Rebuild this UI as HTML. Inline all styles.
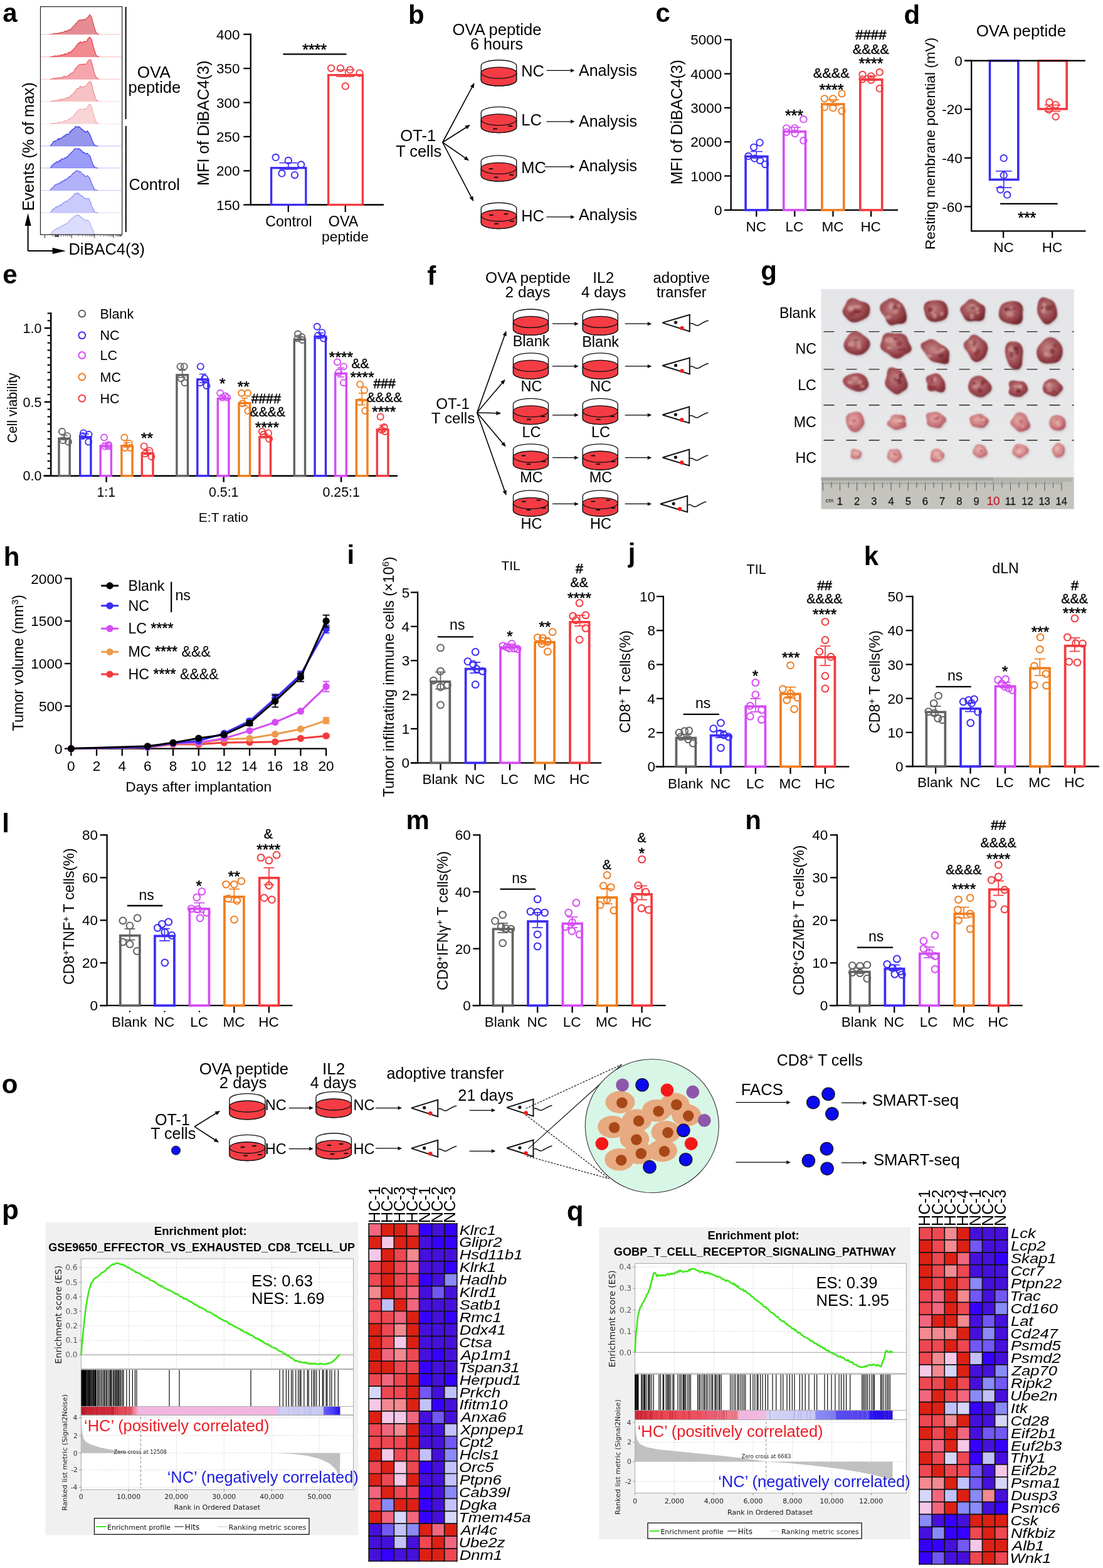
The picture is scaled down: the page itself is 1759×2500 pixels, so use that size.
<!DOCTYPE html>
<html><head><meta charset="utf-8"><title>Figure</title>
<style>
html,body{margin:0;padding:0;background:#fff;}
svg{display:block;}
</style></head>
<body>
<svg width="1759" height="2500" viewBox="0 0 1759 2500" font-family="'Liberation Sans', Arial, Helvetica, sans-serif">
<rect x="0" y="0" width="1759" height="2500" fill="#fff"/>
<text x="4.24" y="35.18" font-size="42" font-weight="bold">a</text>
<path d="M80 54.8 L80 54.8 L81.04 54.8 L82.08 54.68 L83.12 54.46 L84.16 54.24 L85.2 54.02 L86.24 53.07 L87.28 53.15 L88.32 53.79 L89.36 54.03 L90.4 53.37 L91.44 53.49 L92.48 52.5 L93.52 53.36 L94.56 52.77 L95.6 52.33 L96.64 51.41 L97.68 52.1 L98.72 52.38 L99.76 51.13 L100.8 51.18 L101.84 51.72 L102.88 49.99 L103.92 49.56 L104.96 49.66 L106 49.19 L107.04 49.95 L108.08 48.48 L109.12 47.56 L110.16 47.49 L111.2 47.41 L112.24 47.61 L113.28 46.02 L114.32 44.78 L115.36 43.26 L116.4 42.29 L117.44 42.29 L118.48 40.04 L119.52 39.98 L120.56 37.39 L121.6 36.75 L122.64 36.87 L123.68 34.25 L124.72 33.89 L125.76 32.18 L126.8 31.88 L127.84 32.69 L128.88 31.69 L129.92 31.08 L130.96 32.68 L132 32.09 L133.04 30.45 L134.08 31.55 L135.12 30.83 L136.16 31.66 L137.2 29.87 L138.24 28.81 L139.28 28.18 L140.32 27.6 L141.36 25.76 L142.4 24.04 L143.44 23.3 L144.48 24.86 L145.52 25.93 L146.56 29.19 L147.6 33.43 L148.64 36.94 L149.68 41.32 L150.72 43.99 L151.76 47.67 L152.8 50.32 L153.84 52.33 L154.88 53.47 L155.92 54.14 L156.96 54.47 L158 54.8 L158 54.8" fill="#e48c92" />
<path d="M80 54.8 L81.04 54.8 L82.08 54.68 L83.12 54.46 L84.16 54.24 L85.2 54.02 L86.24 53.07 L87.28 53.15 L88.32 53.79 L89.36 54.03 L90.4 53.37 L91.44 53.49 L92.48 52.5 L93.52 53.36 L94.56 52.77 L95.6 52.33 L96.64 51.41 L97.68 52.1 L98.72 52.38 L99.76 51.13 L100.8 51.18 L101.84 51.72 L102.88 49.99 L103.92 49.56 L104.96 49.66 L106 49.19 L107.04 49.95 L108.08 48.48 L109.12 47.56 L110.16 47.49 L111.2 47.41 L112.24 47.61 L113.28 46.02 L114.32 44.78 L115.36 43.26 L116.4 42.29 L117.44 42.29 L118.48 40.04 L119.52 39.98 L120.56 37.39 L121.6 36.75 L122.64 36.87 L123.68 34.25 L124.72 33.89 L125.76 32.18 L126.8 31.88 L127.84 32.69 L128.88 31.69 L129.92 31.08 L130.96 32.68 L132 32.09 L133.04 30.45 L134.08 31.55 L135.12 30.83 L136.16 31.66 L137.2 29.87 L138.24 28.81 L139.28 28.18 L140.32 27.6 L141.36 25.76 L142.4 24.04 L143.44 23.3 L144.48 24.86 L145.52 25.93 L146.56 29.19 L147.6 33.43 L148.64 36.94 L149.68 41.32 L150.72 43.99 L151.76 47.67 L152.8 50.32 L153.84 52.33 L154.88 53.47 L155.92 54.14 L156.96 54.47 L158 54.8" fill="none" stroke="#d2444c" stroke-width="1.1" />
<line x1="65.5" y1="54.8" x2="193.7" y2="54.8" stroke="#d2444c" stroke-width="1" opacity="0.35"/>
<path d="M80 90.7 L80 90.7 L81.04 90.7 L82.08 90.58 L83.12 90.36 L84.16 90.14 L85.2 89.92 L86.24 90.54 L87.28 88.85 L88.32 88.93 L89.36 89.94 L90.4 89.3 L91.44 89.3 L92.48 88.7 L93.52 88.19 L94.56 89.52 L95.6 89.46 L96.64 87.47 L97.68 88.15 L98.72 87.22 L99.76 88.7 L100.8 87.46 L101.84 86.58 L102.88 87.39 L103.92 85.54 L104.96 85.36 L106 87.01 L107.04 86.48 L108.08 84.79 L109.12 83.37 L110.16 84.05 L111.2 83.87 L112.24 82.8 L113.28 82.82 L114.32 81.54 L115.36 80.21 L116.4 79.23 L117.44 78.73 L118.48 77.34 L119.52 75.98 L120.56 74.05 L121.6 73.22 L122.64 72.75 L123.68 69.89 L124.72 69.44 L125.76 68.49 L126.8 68.84 L127.84 66.4 L128.88 66.78 L129.92 68.63 L130.96 68.38 L132 67.11 L133.04 66.7 L134.08 65.81 L135.12 67.05 L136.16 66.26 L137.2 66.43 L138.24 65.82 L139.28 63.77 L140.32 61.73 L141.36 60.5 L142.4 59.94 L143.44 59.21 L144.48 60.93 L145.52 62.51 L146.56 64.89 L147.6 69.63 L148.64 74.25 L149.68 77.2 L150.72 80.46 L151.76 83.41 L152.8 86.69 L153.84 88.25 L154.88 89.57 L155.92 90.04 L156.96 90.37 L158 90.7 L158 90.7" fill="#f28a92" />
<path d="M80 90.7 L81.04 90.7 L82.08 90.58 L83.12 90.36 L84.16 90.14 L85.2 89.92 L86.24 90.54 L87.28 88.85 L88.32 88.93 L89.36 89.94 L90.4 89.3 L91.44 89.3 L92.48 88.7 L93.52 88.19 L94.56 89.52 L95.6 89.46 L96.64 87.47 L97.68 88.15 L98.72 87.22 L99.76 88.7 L100.8 87.46 L101.84 86.58 L102.88 87.39 L103.92 85.54 L104.96 85.36 L106 87.01 L107.04 86.48 L108.08 84.79 L109.12 83.37 L110.16 84.05 L111.2 83.87 L112.24 82.8 L113.28 82.82 L114.32 81.54 L115.36 80.21 L116.4 79.23 L117.44 78.73 L118.48 77.34 L119.52 75.98 L120.56 74.05 L121.6 73.22 L122.64 72.75 L123.68 69.89 L124.72 69.44 L125.76 68.49 L126.8 68.84 L127.84 66.4 L128.88 66.78 L129.92 68.63 L130.96 68.38 L132 67.11 L133.04 66.7 L134.08 65.81 L135.12 67.05 L136.16 66.26 L137.2 66.43 L138.24 65.82 L139.28 63.77 L140.32 61.73 L141.36 60.5 L142.4 59.94 L143.44 59.21 L144.48 60.93 L145.52 62.51 L146.56 64.89 L147.6 69.63 L148.64 74.25 L149.68 77.2 L150.72 80.46 L151.76 83.41 L152.8 86.69 L153.84 88.25 L154.88 89.57 L155.92 90.04 L156.96 90.37 L158 90.7" fill="none" stroke="#e8303a" stroke-width="1.1" />
<line x1="65.5" y1="90.7" x2="193.7" y2="90.7" stroke="#e8303a" stroke-width="1" opacity="0.35"/>
<path d="M80 126.3 L80 126.3 L81.04 126.3 L82.08 126.18 L83.12 125.96 L84.16 125.74 L85.2 125.52 L86.24 124.32 L87.28 124.23 L88.32 126.09 L89.36 125.92 L90.4 124.15 L91.44 124.26 L92.48 124.26 L93.52 124.85 L94.56 123.99 L95.6 123.78 L96.64 123.63 L97.68 124.36 L98.72 123.55 L99.76 123.43 L100.8 122.45 L101.84 121.58 L102.88 121.4 L103.92 122.02 L104.96 121.97 L106 122.09 L107.04 122.05 L108.08 121.52 L109.12 120.01 L110.16 119.79 L111.2 119.11 L112.24 117.36 L113.28 117.32 L114.32 116.39 L115.36 116.26 L116.4 115.87 L117.44 114.13 L118.48 113.15 L119.52 110.93 L120.56 108.46 L121.6 107.98 L122.64 108 L123.68 105.36 L124.72 104.51 L125.76 103.88 L126.8 102.85 L127.84 102.51 L128.88 102.54 L129.92 103.72 L130.96 102.55 L132 102.18 L133.04 103.51 L134.08 101.81 L135.12 102 L136.16 102.67 L137.2 102.34 L138.24 101 L139.28 98.63 L140.32 98.17 L141.36 96.14 L142.4 95.88 L143.44 94.8 L144.48 94.8 L145.52 97.63 L146.56 101 L147.6 104.11 L148.64 108.64 L149.68 112.94 L150.72 117.12 L151.76 119.78 L152.8 121.58 L153.84 124.45 L154.88 124.29 L155.92 125.64 L156.96 125.97 L158 126.3 L158 126.3" fill="#f4a6ac" />
<path d="M80 126.3 L81.04 126.3 L82.08 126.18 L83.12 125.96 L84.16 125.74 L85.2 125.52 L86.24 124.32 L87.28 124.23 L88.32 126.09 L89.36 125.92 L90.4 124.15 L91.44 124.26 L92.48 124.26 L93.52 124.85 L94.56 123.99 L95.6 123.78 L96.64 123.63 L97.68 124.36 L98.72 123.55 L99.76 123.43 L100.8 122.45 L101.84 121.58 L102.88 121.4 L103.92 122.02 L104.96 121.97 L106 122.09 L107.04 122.05 L108.08 121.52 L109.12 120.01 L110.16 119.79 L111.2 119.11 L112.24 117.36 L113.28 117.32 L114.32 116.39 L115.36 116.26 L116.4 115.87 L117.44 114.13 L118.48 113.15 L119.52 110.93 L120.56 108.46 L121.6 107.98 L122.64 108 L123.68 105.36 L124.72 104.51 L125.76 103.88 L126.8 102.85 L127.84 102.51 L128.88 102.54 L129.92 103.72 L130.96 102.55 L132 102.18 L133.04 103.51 L134.08 101.81 L135.12 102 L136.16 102.67 L137.2 102.34 L138.24 101 L139.28 98.63 L140.32 98.17 L141.36 96.14 L142.4 95.88 L143.44 94.8 L144.48 94.8 L145.52 97.63 L146.56 101 L147.6 104.11 L148.64 108.64 L149.68 112.94 L150.72 117.12 L151.76 119.78 L152.8 121.58 L153.84 124.45 L154.88 124.29 L155.92 125.64 L156.96 125.97 L158 126.3" fill="none" stroke="#ec5a62" stroke-width="1.1" />
<line x1="65.5" y1="126.3" x2="193.7" y2="126.3" stroke="#ec5a62" stroke-width="1" opacity="0.35"/>
<path d="M80 161.6 L80 161.6 L81.04 161.6 L82.08 161.48 L83.12 161.26 L84.16 161.04 L85.2 160.82 L86.24 161.21 L87.28 160.42 L88.32 160.7 L89.36 160.07 L90.4 159.92 L91.44 161.04 L92.48 161 L93.52 158.98 L94.56 160.05 L95.6 159.9 L96.64 158.02 L97.68 158.97 L98.72 157.96 L99.76 158.55 L100.8 157.93 L101.84 158.74 L102.88 157.4 L103.92 156.61 L104.96 157.1 L106 156.34 L107.04 155.95 L108.08 156.74 L109.12 154.67 L110.16 154.49 L111.2 154.58 L112.24 154.56 L113.28 151.87 L114.32 151.89 L115.36 150.49 L116.4 149.29 L117.44 148.57 L118.48 146.72 L119.52 146.49 L120.56 144.2 L121.6 143.78 L122.64 141.64 L123.68 140.7 L124.72 141.35 L125.76 140.5 L126.8 139.67 L127.84 137.36 L128.88 138.62 L129.92 138.41 L130.96 139.35 L132 138.48 L133.04 138.31 L134.08 138 L135.12 137.59 L136.16 137.7 L137.2 136.81 L138.24 135.88 L139.28 133.92 L140.32 132.69 L141.36 131.08 L142.4 130.48 L143.44 131.05 L144.48 130.1 L145.52 131.82 L146.56 135.56 L147.6 140.19 L148.64 143.96 L149.68 148.84 L150.72 151.08 L151.76 154.53 L152.8 157.79 L153.84 159.97 L154.88 159.7 L155.92 160.94 L156.96 161.27 L158 161.6 L158 161.6" fill="#f6c2c6" />
<path d="M80 161.6 L81.04 161.6 L82.08 161.48 L83.12 161.26 L84.16 161.04 L85.2 160.82 L86.24 161.21 L87.28 160.42 L88.32 160.7 L89.36 160.07 L90.4 159.92 L91.44 161.04 L92.48 161 L93.52 158.98 L94.56 160.05 L95.6 159.9 L96.64 158.02 L97.68 158.97 L98.72 157.96 L99.76 158.55 L100.8 157.93 L101.84 158.74 L102.88 157.4 L103.92 156.61 L104.96 157.1 L106 156.34 L107.04 155.95 L108.08 156.74 L109.12 154.67 L110.16 154.49 L111.2 154.58 L112.24 154.56 L113.28 151.87 L114.32 151.89 L115.36 150.49 L116.4 149.29 L117.44 148.57 L118.48 146.72 L119.52 146.49 L120.56 144.2 L121.6 143.78 L122.64 141.64 L123.68 140.7 L124.72 141.35 L125.76 140.5 L126.8 139.67 L127.84 137.36 L128.88 138.62 L129.92 138.41 L130.96 139.35 L132 138.48 L133.04 138.31 L134.08 138 L135.12 137.59 L136.16 137.7 L137.2 136.81 L138.24 135.88 L139.28 133.92 L140.32 132.69 L141.36 131.08 L142.4 130.48 L143.44 131.05 L144.48 130.1 L145.52 131.82 L146.56 135.56 L147.6 140.19 L148.64 143.96 L149.68 148.84 L150.72 151.08 L151.76 154.53 L152.8 157.79 L153.84 159.97 L154.88 159.7 L155.92 160.94 L156.96 161.27 L158 161.6" fill="none" stroke="#f08a90" stroke-width="1.1" />
<line x1="65.5" y1="161.6" x2="193.7" y2="161.6" stroke="#f08a90" stroke-width="1" opacity="0.35"/>
<path d="M80 197.3 L80 197.3 L81.04 197.3 L82.08 197.18 L83.12 196.96 L84.16 196.74 L85.2 196.52 L86.24 196.91 L87.28 197.1 L88.32 196.34 L89.36 196.76 L90.4 196.85 L91.44 196 L92.48 194.71 L93.52 194.76 L94.56 194.64 L95.6 195.63 L96.64 194.73 L97.68 195.1 L98.72 195.12 L99.76 195.07 L100.8 194.57 L101.84 192.72 L102.88 192.67 L103.92 192.44 L104.96 192.19 L106 193.25 L107.04 192.45 L108.08 191.2 L109.12 190.43 L110.16 189.61 L111.2 189.01 L112.24 190.14 L113.28 188.14 L114.32 187.15 L115.36 186.66 L116.4 186.53 L117.44 184.8 L118.48 184.25 L119.52 181 L120.56 179.76 L121.6 179.26 L122.64 178.74 L123.68 176.33 L124.72 176.01 L125.76 174.56 L126.8 173.98 L127.84 174.07 L128.88 174.36 L129.92 174.18 L130.96 174.76 L132 174.95 L133.04 174.19 L134.08 172.68 L135.12 174.48 L136.16 174.59 L137.2 173.12 L138.24 172.47 L139.28 170.49 L140.32 169.24 L141.36 168.21 L142.4 165.8 L143.44 166.68 L144.48 166.69 L145.52 169.2 L146.56 171.86 L147.6 176.53 L148.64 180.45 L149.68 183.36 L150.72 187.91 L151.76 190.27 L152.8 192.12 L153.84 195.59 L154.88 197.15 L155.92 196.64 L156.96 196.97 L158 197.3 L158 197.3" fill="#f8d6d8" />
<path d="M80 197.3 L81.04 197.3 L82.08 197.18 L83.12 196.96 L84.16 196.74 L85.2 196.52 L86.24 196.91 L87.28 197.1 L88.32 196.34 L89.36 196.76 L90.4 196.85 L91.44 196 L92.48 194.71 L93.52 194.76 L94.56 194.64 L95.6 195.63 L96.64 194.73 L97.68 195.1 L98.72 195.12 L99.76 195.07 L100.8 194.57 L101.84 192.72 L102.88 192.67 L103.92 192.44 L104.96 192.19 L106 193.25 L107.04 192.45 L108.08 191.2 L109.12 190.43 L110.16 189.61 L111.2 189.01 L112.24 190.14 L113.28 188.14 L114.32 187.15 L115.36 186.66 L116.4 186.53 L117.44 184.8 L118.48 184.25 L119.52 181 L120.56 179.76 L121.6 179.26 L122.64 178.74 L123.68 176.33 L124.72 176.01 L125.76 174.56 L126.8 173.98 L127.84 174.07 L128.88 174.36 L129.92 174.18 L130.96 174.76 L132 174.95 L133.04 174.19 L134.08 172.68 L135.12 174.48 L136.16 174.59 L137.2 173.12 L138.24 172.47 L139.28 170.49 L140.32 169.24 L141.36 168.21 L142.4 165.8 L143.44 166.68 L144.48 166.69 L145.52 169.2 L146.56 171.86 L147.6 176.53 L148.64 180.45 L149.68 183.36 L150.72 187.91 L151.76 190.27 L152.8 192.12 L153.84 195.59 L154.88 197.15 L155.92 196.64 L156.96 196.97 L158 197.3" fill="none" stroke="#f2aab0" stroke-width="1.1" />
<line x1="65.5" y1="197.3" x2="193.7" y2="197.3" stroke="#f2aab0" stroke-width="1" opacity="0.35"/>
<path d="M80 232.9 L80 232.9 L81.01 231.68 L82.03 230.77 L83.04 229.07 L84.05 228.53 L85.07 225.87 L86.08 225.21 L87.09 224.94 L88.11 225.39 L89.12 223.96 L90.13 223.77 L91.15 223.52 L92.16 221.54 L93.17 221.02 L94.19 222.7 L95.2 220.47 L96.21 220.57 L97.23 220.42 L98.24 220 L99.25 218.49 L100.27 218.34 L101.28 217.19 L102.29 216.64 L103.31 217.27 L104.32 215.34 L105.33 214.34 L106.35 213.83 L107.36 214.09 L108.37 214.65 L109.39 213.78 L110.4 212.54 L111.41 209.8 L112.43 210.25 L113.44 209.12 L114.45 206.91 L115.47 207.16 L116.48 205.6 L117.49 204.93 L118.51 204.95 L119.52 203.01 L120.53 201.64 L121.55 202.67 L122.56 202.31 L123.57 201.68 L124.59 202.73 L125.6 202.25 L126.61 202.07 L127.63 203.22 L128.64 204.45 L129.65 204.7 L130.67 207 L131.68 206.72 L132.69 207.78 L133.71 208.07 L134.72 210 L135.73 209.39 L136.75 210.95 L137.76 210.59 L138.77 208.96 L139.79 209.1 L140.8 210.87 L141.81 211.55 L142.83 213.73 L143.84 215.74 L144.85 217.6 L145.87 221.28 L146.88 223.99 L147.89 225.8 L148.91 228.71 L149.92 229.88 L150.93 230.55 L151.95 232.22 L152.96 232.47 L153.97 232.68 L154.99 232.9 L156 232.9 L156 232.9" fill="#9696ec" />
<path d="M80 232.9 L81.01 231.68 L82.03 230.77 L83.04 229.07 L84.05 228.53 L85.07 225.87 L86.08 225.21 L87.09 224.94 L88.11 225.39 L89.12 223.96 L90.13 223.77 L91.15 223.52 L92.16 221.54 L93.17 221.02 L94.19 222.7 L95.2 220.47 L96.21 220.57 L97.23 220.42 L98.24 220 L99.25 218.49 L100.27 218.34 L101.28 217.19 L102.29 216.64 L103.31 217.27 L104.32 215.34 L105.33 214.34 L106.35 213.83 L107.36 214.09 L108.37 214.65 L109.39 213.78 L110.4 212.54 L111.41 209.8 L112.43 210.25 L113.44 209.12 L114.45 206.91 L115.47 207.16 L116.48 205.6 L117.49 204.93 L118.51 204.95 L119.52 203.01 L120.53 201.64 L121.55 202.67 L122.56 202.31 L123.57 201.68 L124.59 202.73 L125.6 202.25 L126.61 202.07 L127.63 203.22 L128.64 204.45 L129.65 204.7 L130.67 207 L131.68 206.72 L132.69 207.78 L133.71 208.07 L134.72 210 L135.73 209.39 L136.75 210.95 L137.76 210.59 L138.77 208.96 L139.79 209.1 L140.8 210.87 L141.81 211.55 L142.83 213.73 L143.84 215.74 L144.85 217.6 L145.87 221.28 L146.88 223.99 L147.89 225.8 L148.91 228.71 L149.92 229.88 L150.93 230.55 L151.95 232.22 L152.96 232.47 L153.97 232.68 L154.99 232.9 L156 232.9" fill="none" stroke="#2c2cea" stroke-width="1.1" />
<line x1="65.5" y1="232.9" x2="193.7" y2="232.9" stroke="#2c2cea" stroke-width="1" opacity="0.35"/>
<path d="M80 267.9 L80 267.9 L81.01 266.94 L82.03 265.48 L83.04 263.31 L84.05 262.95 L85.07 261.54 L86.08 260.73 L87.09 260.98 L88.11 259.62 L89.12 258.72 L90.13 257.75 L91.15 258.86 L92.16 257.98 L93.17 258.02 L94.19 256.01 L95.2 255.84 L96.21 256.81 L97.23 254.09 L98.24 253.49 L99.25 253.54 L100.27 252.99 L101.28 253.36 L102.29 253.07 L103.31 251.4 L104.32 251.9 L105.33 251.08 L106.35 250.44 L107.36 250.37 L108.37 248.73 L109.39 247.82 L110.4 245.98 L111.41 245.73 L112.43 244.51 L113.44 243.83 L114.45 242.43 L115.47 241.84 L116.48 241.2 L117.49 238.69 L118.51 237.9 L119.52 237.45 L120.53 236.94 L121.55 237.32 L122.56 237.3 L123.57 236.95 L124.59 237.66 L125.6 236.65 L126.61 237.99 L127.63 237.8 L128.64 239.78 L129.65 239.47 L130.67 240.46 L131.68 242.97 L132.69 243.15 L133.71 242.39 L134.72 244.21 L135.73 243.94 L136.75 245.29 L137.76 245.79 L138.77 244.35 L139.79 244.47 L140.8 246.23 L141.81 247.27 L142.83 248.54 L143.84 249.22 L144.85 252.29 L145.87 256.42 L146.88 258.71 L147.89 261.58 L148.91 263.94 L149.92 264.55 L150.93 266.97 L151.95 267.22 L152.96 267.47 L153.97 267.68 L154.99 267.9 L156 267.9 L156 267.9" fill="#9c9cfa" />
<path d="M80 267.9 L81.01 266.94 L82.03 265.48 L83.04 263.31 L84.05 262.95 L85.07 261.54 L86.08 260.73 L87.09 260.98 L88.11 259.62 L89.12 258.72 L90.13 257.75 L91.15 258.86 L92.16 257.98 L93.17 258.02 L94.19 256.01 L95.2 255.84 L96.21 256.81 L97.23 254.09 L98.24 253.49 L99.25 253.54 L100.27 252.99 L101.28 253.36 L102.29 253.07 L103.31 251.4 L104.32 251.9 L105.33 251.08 L106.35 250.44 L107.36 250.37 L108.37 248.73 L109.39 247.82 L110.4 245.98 L111.41 245.73 L112.43 244.51 L113.44 243.83 L114.45 242.43 L115.47 241.84 L116.48 241.2 L117.49 238.69 L118.51 237.9 L119.52 237.45 L120.53 236.94 L121.55 237.32 L122.56 237.3 L123.57 236.95 L124.59 237.66 L125.6 236.65 L126.61 237.99 L127.63 237.8 L128.64 239.78 L129.65 239.47 L130.67 240.46 L131.68 242.97 L132.69 243.15 L133.71 242.39 L134.72 244.21 L135.73 243.94 L136.75 245.29 L137.76 245.79 L138.77 244.35 L139.79 244.47 L140.8 246.23 L141.81 247.27 L142.83 248.54 L143.84 249.22 L144.85 252.29 L145.87 256.42 L146.88 258.71 L147.89 261.58 L148.91 263.94 L149.92 264.55 L150.93 266.97 L151.95 267.22 L152.96 267.47 L153.97 267.68 L154.99 267.9 L156 267.9" fill="none" stroke="#3434f4" stroke-width="1.1" />
<line x1="65.5" y1="267.9" x2="193.7" y2="267.9" stroke="#3434f4" stroke-width="1" opacity="0.35"/>
<path d="M80 303.5 L80 303.5 L81.01 302.49 L82.03 300.87 L83.04 299.48 L84.05 299.27 L85.07 298.24 L86.08 296.8 L87.09 296.38 L88.11 294.56 L89.12 294.18 L90.13 293.77 L91.15 293.44 L92.16 292.79 L93.17 293.5 L94.19 292.42 L95.2 292.61 L96.21 290.5 L97.23 291.73 L98.24 289.42 L99.25 290.42 L100.27 288.43 L101.28 288.56 L102.29 287.81 L103.31 286.31 L104.32 287.59 L105.33 286.97 L106.35 284.55 L107.36 284.92 L108.37 285.15 L109.39 282.22 L110.4 281.35 L111.41 282.23 L112.43 280.59 L113.44 280.23 L114.45 278.8 L115.47 277.08 L116.48 277.05 L117.49 274.96 L118.51 275.58 L119.52 274.52 L120.53 272.3 L121.55 272.73 L122.56 272.48 L123.57 272 L124.59 272.36 L125.6 273.09 L126.61 274.41 L127.63 273.67 L128.64 274.09 L129.65 275.03 L130.67 276.47 L131.68 277.79 L132.69 278.41 L133.71 278.47 L134.72 279.36 L135.73 281.45 L136.75 281.25 L137.76 280.75 L138.77 280.21 L139.79 280 L140.8 281.32 L141.81 283 L142.83 283.06 L143.84 286 L144.85 288.42 L145.87 291.79 L146.88 293.91 L147.89 296.55 L148.91 297.97 L149.92 301.68 L150.93 301.75 L151.95 302.82 L152.96 303.07 L153.97 303.28 L154.99 303.5 L156 303.5 L156 303.5" fill="#b2b2fa" />
<path d="M80 303.5 L81.01 302.49 L82.03 300.87 L83.04 299.48 L84.05 299.27 L85.07 298.24 L86.08 296.8 L87.09 296.38 L88.11 294.56 L89.12 294.18 L90.13 293.77 L91.15 293.44 L92.16 292.79 L93.17 293.5 L94.19 292.42 L95.2 292.61 L96.21 290.5 L97.23 291.73 L98.24 289.42 L99.25 290.42 L100.27 288.43 L101.28 288.56 L102.29 287.81 L103.31 286.31 L104.32 287.59 L105.33 286.97 L106.35 284.55 L107.36 284.92 L108.37 285.15 L109.39 282.22 L110.4 281.35 L111.41 282.23 L112.43 280.59 L113.44 280.23 L114.45 278.8 L115.47 277.08 L116.48 277.05 L117.49 274.96 L118.51 275.58 L119.52 274.52 L120.53 272.3 L121.55 272.73 L122.56 272.48 L123.57 272 L124.59 272.36 L125.6 273.09 L126.61 274.41 L127.63 273.67 L128.64 274.09 L129.65 275.03 L130.67 276.47 L131.68 277.79 L132.69 278.41 L133.71 278.47 L134.72 279.36 L135.73 281.45 L136.75 281.25 L137.76 280.75 L138.77 280.21 L139.79 280 L140.8 281.32 L141.81 283 L142.83 283.06 L143.84 286 L144.85 288.42 L145.87 291.79 L146.88 293.91 L147.89 296.55 L148.91 297.97 L149.92 301.68 L150.93 301.75 L151.95 302.82 L152.96 303.07 L153.97 303.28 L154.99 303.5 L156 303.5" fill="none" stroke="#5858f2" stroke-width="1.1" />
<line x1="65.5" y1="303.5" x2="193.7" y2="303.5" stroke="#5858f2" stroke-width="1" opacity="0.35"/>
<path d="M80 339.2 L80 339.2 L81.01 338.67 L82.03 336.51 L83.04 335.14 L84.05 333.41 L85.07 333.55 L86.08 332.81 L87.09 332.36 L88.11 331.55 L89.12 329.79 L90.13 330.51 L91.15 329.2 L92.16 329.47 L93.17 328.87 L94.19 328.14 L95.2 326.82 L96.21 326.86 L97.23 327.53 L98.24 326.31 L99.25 325.96 L100.27 323.72 L101.28 323.22 L102.29 322.62 L103.31 322.04 L104.32 321.69 L105.33 320.71 L106.35 320.52 L107.36 321.17 L108.37 319.18 L109.39 319.02 L110.4 317.47 L111.41 316.93 L112.43 316.27 L113.44 315.42 L114.45 314.24 L115.47 313.46 L116.48 312.86 L117.49 310.39 L118.51 309.64 L119.52 308.42 L120.53 308.28 L121.55 308.1 L122.56 307.7 L123.57 308.59 L124.59 307.7 L125.6 308.66 L126.61 309.79 L127.63 310.52 L128.64 310.77 L129.65 312.33 L130.67 312.62 L131.68 312.94 L132.69 314.04 L133.71 315.41 L134.72 315.46 L135.73 316.88 L136.75 316.95 L137.76 316.82 L138.77 316.23 L139.79 317.33 L140.8 316.69 L141.81 316.66 L142.83 319.72 L143.84 321.06 L144.85 323.21 L145.87 327.88 L146.88 330.24 L147.89 331.33 L148.91 333.52 L149.92 336.2 L150.93 338.31 L151.95 338.52 L152.96 338.77 L153.97 338.98 L154.99 339.2 L156 339.2 L156 339.2" fill="#cacafc" />
<path d="M80 339.2 L81.01 338.67 L82.03 336.51 L83.04 335.14 L84.05 333.41 L85.07 333.55 L86.08 332.81 L87.09 332.36 L88.11 331.55 L89.12 329.79 L90.13 330.51 L91.15 329.2 L92.16 329.47 L93.17 328.87 L94.19 328.14 L95.2 326.82 L96.21 326.86 L97.23 327.53 L98.24 326.31 L99.25 325.96 L100.27 323.72 L101.28 323.22 L102.29 322.62 L103.31 322.04 L104.32 321.69 L105.33 320.71 L106.35 320.52 L107.36 321.17 L108.37 319.18 L109.39 319.02 L110.4 317.47 L111.41 316.93 L112.43 316.27 L113.44 315.42 L114.45 314.24 L115.47 313.46 L116.48 312.86 L117.49 310.39 L118.51 309.64 L119.52 308.42 L120.53 308.28 L121.55 308.1 L122.56 307.7 L123.57 308.59 L124.59 307.7 L125.6 308.66 L126.61 309.79 L127.63 310.52 L128.64 310.77 L129.65 312.33 L130.67 312.62 L131.68 312.94 L132.69 314.04 L133.71 315.41 L134.72 315.46 L135.73 316.88 L136.75 316.95 L137.76 316.82 L138.77 316.23 L139.79 317.33 L140.8 316.69 L141.81 316.66 L142.83 319.72 L143.84 321.06 L144.85 323.21 L145.87 327.88 L146.88 330.24 L147.89 331.33 L148.91 333.52 L149.92 336.2 L150.93 338.31 L151.95 338.52 L152.96 338.77 L153.97 338.98 L154.99 339.2 L156 339.2" fill="none" stroke="#8a8af4" stroke-width="1.1" />
<line x1="65.5" y1="339.2" x2="193.7" y2="339.2" stroke="#8a8af4" stroke-width="1" opacity="0.35"/>
<path d="M80 374.1 L80 374.1 L81.01 373.9 L82.03 371.37 L83.04 370.11 L84.05 368.11 L85.07 368.26 L86.08 367.66 L87.09 365.97 L88.11 365.49 L89.12 365.64 L90.13 364.19 L91.15 364.4 L92.16 363.13 L93.17 364.16 L94.19 363.5 L95.2 361.58 L96.21 362.31 L97.23 361.89 L98.24 360.05 L99.25 359.79 L100.27 360.21 L101.28 358.69 L102.29 357.83 L103.31 358.4 L104.32 356.8 L105.33 357.43 L106.35 356.43 L107.36 356.46 L108.37 355.5 L109.39 352.84 L110.4 353.14 L111.41 350.89 L112.43 351.15 L113.44 349.79 L114.45 348.17 L115.47 347.54 L116.48 347.77 L117.49 345.8 L118.51 344.9 L119.52 345.1 L120.53 344.49 L121.55 342.6 L122.56 342.87 L123.57 343.36 L124.59 343.01 L125.6 344.06 L126.61 343.31 L127.63 344.77 L128.64 346.6 L129.65 345.98 L130.67 348.34 L131.68 348.55 L132.69 349.75 L133.71 348.96 L134.72 351.2 L135.73 351.14 L136.75 352.16 L137.76 351.09 L138.77 350.43 L139.79 351.21 L140.8 352.02 L141.81 352.6 L142.83 354.51 L143.84 356.24 L144.85 359.95 L145.87 361.83 L146.88 364.93 L147.89 366.1 L148.91 368.2 L149.92 372.36 L150.93 373.25 L151.95 373.42 L152.96 373.67 L153.97 373.88 L154.99 374.1 L156 374.1 L156 374.1" fill="#dcdcfd" />
<path d="M80 374.1 L81.01 373.9 L82.03 371.37 L83.04 370.11 L84.05 368.11 L85.07 368.26 L86.08 367.66 L87.09 365.97 L88.11 365.49 L89.12 365.64 L90.13 364.19 L91.15 364.4 L92.16 363.13 L93.17 364.16 L94.19 363.5 L95.2 361.58 L96.21 362.31 L97.23 361.89 L98.24 360.05 L99.25 359.79 L100.27 360.21 L101.28 358.69 L102.29 357.83 L103.31 358.4 L104.32 356.8 L105.33 357.43 L106.35 356.43 L107.36 356.46 L108.37 355.5 L109.39 352.84 L110.4 353.14 L111.41 350.89 L112.43 351.15 L113.44 349.79 L114.45 348.17 L115.47 347.54 L116.48 347.77 L117.49 345.8 L118.51 344.9 L119.52 345.1 L120.53 344.49 L121.55 342.6 L122.56 342.87 L123.57 343.36 L124.59 343.01 L125.6 344.06 L126.61 343.31 L127.63 344.77 L128.64 346.6 L129.65 345.98 L130.67 348.34 L131.68 348.55 L132.69 349.75 L133.71 348.96 L134.72 351.2 L135.73 351.14 L136.75 352.16 L137.76 351.09 L138.77 350.43 L139.79 351.21 L140.8 352.02 L141.81 352.6 L142.83 354.51 L143.84 356.24 L144.85 359.95 L145.87 361.83 L146.88 364.93 L147.89 366.1 L148.91 368.2 L149.92 372.36 L150.93 373.25 L151.95 373.42 L152.96 373.67 L153.97 373.88 L154.99 374.1 L156 374.1" fill="none" stroke="#acacf6" stroke-width="1.1" />
<rect x="64.5" y="10.6" width="130.2" height="363.5" fill="none" stroke="#222" stroke-width="1.2" />
<line x1="71.5" y1="374.1" x2="71.5" y2="379.6" stroke="#333" stroke-width="1" />
<line x1="114.2" y1="374.1" x2="114.2" y2="379.6" stroke="#333" stroke-width="1" />
<line x1="150.8" y1="374.1" x2="150.8" y2="379.6" stroke="#333" stroke-width="1" />
<line x1="181.1" y1="374.1" x2="181.1" y2="379.6" stroke="#333" stroke-width="1" />
<line x1="84.35" y1="374.1" x2="84.35" y2="377.1" stroke="#444" stroke-width="0.8" />
<line x1="91.87" y1="374.1" x2="91.87" y2="377.1" stroke="#444" stroke-width="0.8" />
<line x1="97.21" y1="374.1" x2="97.21" y2="377.1" stroke="#444" stroke-width="0.8" />
<line x1="101.35" y1="374.1" x2="101.35" y2="377.1" stroke="#444" stroke-width="0.8" />
<line x1="104.73" y1="374.1" x2="104.73" y2="377.1" stroke="#444" stroke-width="0.8" />
<line x1="107.59" y1="374.1" x2="107.59" y2="377.1" stroke="#444" stroke-width="0.8" />
<line x1="110.06" y1="374.1" x2="110.06" y2="377.1" stroke="#444" stroke-width="0.8" />
<line x1="112.25" y1="374.1" x2="112.25" y2="377.1" stroke="#444" stroke-width="0.8" />
<line x1="125.22" y1="374.1" x2="125.22" y2="377.1" stroke="#444" stroke-width="0.8" />
<line x1="131.66" y1="374.1" x2="131.66" y2="377.1" stroke="#444" stroke-width="0.8" />
<line x1="136.24" y1="374.1" x2="136.24" y2="377.1" stroke="#444" stroke-width="0.8" />
<line x1="139.78" y1="374.1" x2="139.78" y2="377.1" stroke="#444" stroke-width="0.8" />
<line x1="142.68" y1="374.1" x2="142.68" y2="377.1" stroke="#444" stroke-width="0.8" />
<line x1="145.13" y1="374.1" x2="145.13" y2="377.1" stroke="#444" stroke-width="0.8" />
<line x1="147.25" y1="374.1" x2="147.25" y2="377.1" stroke="#444" stroke-width="0.8" />
<line x1="149.13" y1="374.1" x2="149.13" y2="377.1" stroke="#444" stroke-width="0.8" />
<line x1="159.92" y1="374.1" x2="159.92" y2="377.1" stroke="#444" stroke-width="0.8" />
<line x1="165.26" y1="374.1" x2="165.26" y2="377.1" stroke="#444" stroke-width="0.8" />
<line x1="169.04" y1="374.1" x2="169.04" y2="377.1" stroke="#444" stroke-width="0.8" />
<line x1="171.98" y1="374.1" x2="171.98" y2="377.1" stroke="#444" stroke-width="0.8" />
<line x1="174.38" y1="374.1" x2="174.38" y2="377.1" stroke="#444" stroke-width="0.8" />
<line x1="176.41" y1="374.1" x2="176.41" y2="377.1" stroke="#444" stroke-width="0.8" />
<line x1="178.16" y1="374.1" x2="178.16" y2="377.1" stroke="#444" stroke-width="0.8" />
<line x1="179.71" y1="374.1" x2="179.71" y2="377.1" stroke="#444" stroke-width="0.8" />
<line x1="184.98" y1="374.1" x2="184.98" y2="377.1" stroke="#444" stroke-width="0.8" />
<line x1="187.25" y1="374.1" x2="187.25" y2="377.1" stroke="#444" stroke-width="0.8" />
<line x1="188.87" y1="374.1" x2="188.87" y2="377.1" stroke="#444" stroke-width="0.8" />
<line x1="190.12" y1="374.1" x2="190.12" y2="377.1" stroke="#444" stroke-width="0.8" />
<line x1="191.14" y1="374.1" x2="191.14" y2="377.1" stroke="#444" stroke-width="0.8" />
<line x1="192" y1="374.1" x2="192" y2="377.1" stroke="#444" stroke-width="0.8" />
<line x1="192.75" y1="374.1" x2="192.75" y2="377.1" stroke="#444" stroke-width="0.8" />
<line x1="193.41" y1="374.1" x2="193.41" y2="377.1" stroke="#444" stroke-width="0.8" />
<line x1="88" y1="374.1" x2="88" y2="378.1" stroke="#222" stroke-width="1.4" />
<line x1="90" y1="374.1" x2="90" y2="378.1" stroke="#222" stroke-width="1.4" />
<line x1="92" y1="374.1" x2="92" y2="378.1" stroke="#222" stroke-width="1.4" />
<line x1="93" y1="374.1" x2="93" y2="378.1" stroke="#222" stroke-width="1.4" />
<line x1="200.6" y1="11" x2="200.6" y2="190" stroke="#000" stroke-width="2" />
<line x1="200.8" y1="200.8" x2="200.8" y2="369.9" stroke="#000" stroke-width="2" />
<text x="218.82" y="124.2" font-size="26.13">OVA</text>
<text x="204.54" y="147.8" font-size="25.49">peptide</text>
<text x="205.54" y="303" font-size="25.25">Control</text>
<line x1="44.6" y1="400.1" x2="44.6" y2="352" stroke="#000" stroke-width="2" />
<path d="M44.6 339.8 L39.6 360 L49.6 360" fill="#000" />
<line x1="44.6" y1="400.1" x2="92" y2="400.1" stroke="#000" stroke-width="2" />
<path d="M105 400.1 L83.6 395.1 L83.6 405.1" fill="#000" />
<text x="109.47" y="405.7" font-size="25.44">DiBAC4(3)</text>
<text x="53.9" y="336.21" font-size="25.1" transform="rotate(-90 53.9 336.21)">Events (% of max)</text>
<line x1="399.8" y1="53.55" x2="399.8" y2="327.65" stroke="#000" stroke-width="2.3" />
<line x1="388.3" y1="54.7" x2="399.8" y2="54.7" stroke="#000" stroke-width="2.3" />
<text x="345.02" y="62.8" font-size="22.5">400</text>
<line x1="388.3" y1="109.1" x2="399.8" y2="109.1" stroke="#000" stroke-width="2.3" />
<text x="345.02" y="117.2" font-size="22.5">350</text>
<line x1="388.3" y1="163.5" x2="399.8" y2="163.5" stroke="#000" stroke-width="2.3" />
<text x="345.02" y="171.6" font-size="22.5">300</text>
<line x1="388.3" y1="217.9" x2="399.8" y2="217.9" stroke="#000" stroke-width="2.3" />
<text x="345.02" y="226" font-size="22.5">250</text>
<line x1="388.3" y1="272.3" x2="399.8" y2="272.3" stroke="#000" stroke-width="2.3" />
<text x="345.02" y="280.4" font-size="22.5">200</text>
<line x1="388.3" y1="326.5" x2="399.8" y2="326.5" stroke="#000" stroke-width="2.3" />
<text x="345.02" y="334.6" font-size="22.5">150</text>
<line x1="399.8" y1="326.5" x2="612" y2="326.5" stroke="#000" stroke-width="2.3" />
<line x1="459.8" y1="326.5" x2="459.8" y2="338" stroke="#000" stroke-width="2.3" />
<line x1="550.8" y1="326.5" x2="550.8" y2="338" stroke="#000" stroke-width="2.3" />
<rect x="432.65" y="267.75" width="55.2" height="58.75" fill="none" stroke="#3b2cf5" stroke-width="3.3" />
<rect x="523.65" y="119.65" width="54.7" height="206.85" fill="none" stroke="#f23a3e" stroke-width="3.3" />
<circle cx="439.7" cy="250.9" r="5.2" fill="none" stroke="#3b2cf5" stroke-width="1.9" />
<circle cx="459.8" cy="255.9" r="5.2" fill="none" stroke="#3b2cf5" stroke-width="1.9" />
<circle cx="480.2" cy="262.4" r="5.2" fill="none" stroke="#3b2cf5" stroke-width="1.9" />
<circle cx="449.5" cy="276.4" r="5.2" fill="none" stroke="#3b2cf5" stroke-width="1.9" />
<circle cx="470" cy="279.1" r="5.2" fill="none" stroke="#3b2cf5" stroke-width="1.9" />
<circle cx="528.1" cy="108.8" r="5.2" fill="none" stroke="#f23a3e" stroke-width="1.9" />
<circle cx="543" cy="108.8" r="5.2" fill="none" stroke="#f23a3e" stroke-width="1.9" />
<circle cx="558.2" cy="111.4" r="5.2" fill="none" stroke="#f23a3e" stroke-width="1.9" />
<circle cx="573.4" cy="116.6" r="5.2" fill="none" stroke="#f23a3e" stroke-width="1.9" />
<circle cx="550.8" cy="137.4" r="5.2" fill="none" stroke="#f23a3e" stroke-width="1.9" />
<line x1="459.8" y1="269.9" x2="459.8" y2="259.6" stroke="#3b2cf5" stroke-width="1.6" />
<line x1="445.4" y1="269.9" x2="474.2" y2="269.9" stroke="#3b2cf5" stroke-width="1.6" />
<line x1="445.4" y1="259.6" x2="474.2" y2="259.6" stroke="#3b2cf5" stroke-width="1.6" />
<line x1="550.8" y1="122.2" x2="550.8" y2="111.4" stroke="#f23a3e" stroke-width="1.6" />
<line x1="536.4" y1="122.2" x2="565.2" y2="122.2" stroke="#f23a3e" stroke-width="1.6" />
<line x1="536.4" y1="111.4" x2="565.2" y2="111.4" stroke="#f23a3e" stroke-width="1.6" />
<line x1="451.4" y1="86.3" x2="552.6" y2="86.3" stroke="#000" stroke-width="2.2" />
<text x="482.16" y="87.67" font-size="25" stroke="#000" stroke-width="0.55">****</text>
<text x="423.35" y="361" font-size="23.03">Control</text>
<text x="523.75" y="361" font-size="23.32">OVA</text>
<text x="513.12" y="385" font-size="22.84">peptide</text>
<text x="333.4" y="296.02" font-size="25.31" transform="rotate(-90 333.4 296.02)">MFI of DiBAC4(3)</text>
<text x="651.07" y="38.45" font-size="42" font-weight="bold">b</text>
<text x="721.55" y="55.9" font-size="25.63">OVA peptide</text>
<text x="750.04" y="79.3" font-size="25.23">6 hours</text>
<path d="M767.3 104.7 L767.3 127.9 A28.2 9 0 0 0 823.7 127.9 L823.7 104.7 A28.2 9 0 0 0 767.3 104.7 Z" fill="#fff" stroke="#111" stroke-width="1.35" />
<path d="M767.3 116.1 A28.2 9 0 0 1 823.7 116.1 L823.7 127.9 A28.2 9 0 0 1 767.3 127.9 Z" fill="#f53c44" stroke="#111" stroke-width="1.35" />
<path d="M767.3 116.1 A28.2 9 0 0 0 823.7 116.1" fill="none" stroke="#111" stroke-width="1.35" />
<path d="M767.3 179.4 L767.3 202.6 A28.2 9 0 0 0 823.7 202.6 L823.7 179.4 A28.2 9 0 0 0 767.3 179.4 Z" fill="#fff" stroke="#111" stroke-width="1.35" />
<path d="M767.3 190.8 A28.2 9 0 0 1 823.7 190.8 L823.7 202.6 A28.2 9 0 0 1 767.3 202.6 Z" fill="#f53c44" stroke="#111" stroke-width="1.35" />
<path d="M767.3 190.8 A28.2 9 0 0 0 823.7 190.8" fill="none" stroke="#111" stroke-width="1.35" />
<line x1="786.3" y1="205.5" x2="792.9" y2="205.5" stroke="#111" stroke-width="2" />
<line x1="810.5" y1="201" x2="817.1" y2="201" stroke="#111" stroke-width="2" />
<path d="M767.3 256.9 L767.3 280.1 A28.2 9 0 0 0 823.7 280.1 L823.7 256.9 A28.2 9 0 0 0 767.3 256.9 Z" fill="#fff" stroke="#111" stroke-width="1.35" />
<path d="M767.3 268.3 A28.2 9 0 0 1 823.7 268.3 L823.7 280.1 A28.2 9 0 0 1 767.3 280.1 Z" fill="#f53c44" stroke="#111" stroke-width="1.35" />
<path d="M767.3 268.3 A28.2 9 0 0 0 823.7 268.3" fill="none" stroke="#111" stroke-width="1.35" />
<line x1="779.7" y1="269.2" x2="786.3" y2="269.2" stroke="#111" stroke-width="2" />
<line x1="787.8" y1="282.7" x2="794.4" y2="282.7" stroke="#111" stroke-width="2" />
<line x1="812.3" y1="278.8" x2="818.9" y2="278.8" stroke="#111" stroke-width="2" />
<path d="M767.3 332.3 L767.3 355.5 A28.2 9 0 0 0 823.7 355.5 L823.7 332.3 A28.2 9 0 0 0 767.3 332.3 Z" fill="#fff" stroke="#111" stroke-width="1.35" />
<path d="M767.3 343.7 A28.2 9 0 0 1 823.7 343.7 L823.7 355.5 A28.2 9 0 0 1 767.3 355.5 Z" fill="#f53c44" stroke="#111" stroke-width="1.35" />
<path d="M767.3 343.7 A28.2 9 0 0 0 823.7 343.7" fill="none" stroke="#111" stroke-width="1.35" />
<line x1="780.3" y1="342.8" x2="786.9" y2="342.8" stroke="#111" stroke-width="2" />
<line x1="803.4" y1="341.2" x2="810" y2="341.2" stroke="#111" stroke-width="2" />
<line x1="788.3" y1="356.8" x2="794.9" y2="356.8" stroke="#111" stroke-width="2" />
<line x1="813.1" y1="352.9" x2="819.7" y2="352.9" stroke="#111" stroke-width="2" />
<text x="831.27" y="122.2" font-size="25.43">NC</text>
<text x="831.25" y="199.7" font-size="25.6">LC</text>
<text x="831.26" y="275.7" font-size="25.49">MC</text>
<text x="831.27" y="353.2" font-size="25.43">HC</text>
<line x1="871.5" y1="112.4" x2="910" y2="112.4" stroke="#000" stroke-width="1.2" />
<path d="M916.5 112.4 L910 115.4 L910 109.4" fill="#000" />
<line x1="871.5" y1="193.8" x2="910" y2="193.8" stroke="#000" stroke-width="1.2" />
<path d="M916.5 193.8 L910 196.8 L910 190.8" fill="#000" />
<line x1="868.5" y1="265.8" x2="910" y2="265.8" stroke="#000" stroke-width="1.2" />
<path d="M916.5 265.8 L910 268.8 L910 262.8" fill="#000" />
<line x1="871.5" y1="345.9" x2="910" y2="345.9" stroke="#000" stroke-width="1.2" />
<path d="M916.5 345.9 L910 348.9 L910 342.9" fill="#000" />
<text x="923" y="121" font-size="25.01">Analysis</text>
<text x="923" y="202.3" font-size="25.01">Analysis</text>
<text x="923" y="272.6" font-size="25.01">Analysis</text>
<text x="923" y="351.1" font-size="25.01">Analysis</text>
<text x="638.35" y="225" font-size="25.63">OT-1</text>
<text x="631.19" y="249.7" font-size="25.4">T cells</text>
<line x1="705.8" y1="227" x2="752.73" y2="139.16" stroke="#000" stroke-width="1.6" />
<path d="M756.5 132.1 L755.55 140.66 L749.91 137.65" fill="#000" />
<line x1="705.8" y1="227" x2="743.24" y2="203.28" stroke="#000" stroke-width="1.6" />
<path d="M750 199 L744.95 205.98 L741.53 200.58" fill="#000" />
<line x1="705.8" y1="227" x2="741.61" y2="251.66" stroke="#000" stroke-width="1.6" />
<path d="M748.2 256.2 L739.8 254.3 L743.43 249.03" fill="#000" />
<line x1="705.8" y1="227" x2="751.48" y2="314.12" stroke="#000" stroke-width="1.6" />
<path d="M755.2 321.2 L748.65 315.6 L754.32 312.63" fill="#000" />
<text x="1045.62" y="35.28" font-size="42" font-weight="bold">c</text>
<line x1="1165.7" y1="62.05" x2="1165.7" y2="336.05" stroke="#000" stroke-width="2.3" />
<line x1="1155.1" y1="63.2" x2="1165.7" y2="63.2" stroke="#000" stroke-width="2.3" />
<text x="1101.32" y="71.3" font-size="22.5">5000</text>
<line x1="1155.1" y1="117.6" x2="1165.7" y2="117.6" stroke="#000" stroke-width="2.3" />
<text x="1101.32" y="125.7" font-size="22.5">4000</text>
<line x1="1155.1" y1="171.9" x2="1165.7" y2="171.9" stroke="#000" stroke-width="2.3" />
<text x="1101.32" y="180" font-size="22.5">3000</text>
<line x1="1155.1" y1="226.2" x2="1165.7" y2="226.2" stroke="#000" stroke-width="2.3" />
<text x="1101.32" y="234.3" font-size="22.5">2000</text>
<line x1="1155.1" y1="280.5" x2="1165.7" y2="280.5" stroke="#000" stroke-width="2.3" />
<text x="1101.32" y="288.6" font-size="22.5">1000</text>
<line x1="1155.1" y1="334.9" x2="1165.7" y2="334.9" stroke="#000" stroke-width="2.3" />
<text x="1138.9" y="343" font-size="22.5">0</text>
<line x1="1165.7" y1="334.9" x2="1432" y2="334.9" stroke="#000" stroke-width="2.3" />
<line x1="1206.3" y1="334.9" x2="1206.3" y2="345.5" stroke="#000" stroke-width="2.3" />
<line x1="1267.3" y1="334.9" x2="1267.3" y2="345.5" stroke="#000" stroke-width="2.3" />
<line x1="1328.5" y1="334.9" x2="1328.5" y2="345.5" stroke="#000" stroke-width="2.3" />
<line x1="1389.1" y1="334.9" x2="1389.1" y2="345.5" stroke="#000" stroke-width="2.3" />
<rect x="1189.1" y="249.5" width="34.8" height="85.4" fill="none" stroke="#3b2cf5" stroke-width="3.6" />
<rect x="1249.8" y="209.8" width="34.7" height="125.1" fill="none" stroke="#d54bf5" stroke-width="3.6" />
<rect x="1310.9" y="166" width="34.8" height="168.9" fill="none" stroke="#f07d1e" stroke-width="3.6" />
<rect x="1371.8" y="126.9" width="34.9" height="208" fill="none" stroke="#f23a3e" stroke-width="3.6" />
<circle cx="1211.55" cy="227.37" r="5.2" fill="none" stroke="#3b2cf5" stroke-width="1.9" />
<circle cx="1202.14" cy="234.8" r="5.2" fill="none" stroke="#3b2cf5" stroke-width="1.9" />
<circle cx="1193.47" cy="248.92" r="5.2" fill="none" stroke="#3b2cf5" stroke-width="1.9" />
<circle cx="1203.37" cy="252.63" r="5.2" fill="none" stroke="#3b2cf5" stroke-width="1.9" />
<circle cx="1212.04" cy="255.85" r="5.2" fill="none" stroke="#3b2cf5" stroke-width="1.9" />
<circle cx="1220.22" cy="262.04" r="5.2" fill="none" stroke="#3b2cf5" stroke-width="1.9" />
<circle cx="1254.15" cy="204.33" r="5.2" fill="none" stroke="#d54bf5" stroke-width="1.9" />
<circle cx="1267.28" cy="204.33" r="5.2" fill="none" stroke="#d54bf5" stroke-width="1.9" />
<circle cx="1281.39" cy="190.22" r="5.2" fill="none" stroke="#d54bf5" stroke-width="1.9" />
<circle cx="1254.15" cy="210.53" r="5.2" fill="none" stroke="#d54bf5" stroke-width="1.9" />
<circle cx="1267.77" cy="213" r="5.2" fill="none" stroke="#d54bf5" stroke-width="1.9" />
<circle cx="1281.39" cy="224.15" r="5.2" fill="none" stroke="#d54bf5" stroke-width="1.9" />
<circle cx="1314.83" cy="157.28" r="5.2" fill="none" stroke="#f07d1e" stroke-width="1.9" />
<circle cx="1328.45" cy="157.28" r="5.2" fill="none" stroke="#f07d1e" stroke-width="1.9" />
<circle cx="1342.57" cy="149.35" r="5.2" fill="none" stroke="#f07d1e" stroke-width="1.9" />
<circle cx="1314.83" cy="170.9" r="5.2" fill="none" stroke="#f07d1e" stroke-width="1.9" />
<circle cx="1328.45" cy="172.14" r="5.2" fill="none" stroke="#f07d1e" stroke-width="1.9" />
<circle cx="1342.57" cy="177.09" r="5.2" fill="none" stroke="#f07d1e" stroke-width="1.9" />
<circle cx="1375.51" cy="118.89" r="5.2" fill="none" stroke="#f23a3e" stroke-width="1.9" />
<circle cx="1389.13" cy="121.36" r="5.2" fill="none" stroke="#f23a3e" stroke-width="1.9" />
<circle cx="1402.76" cy="115.17" r="5.2" fill="none" stroke="#f23a3e" stroke-width="1.9" />
<circle cx="1375.51" cy="126.32" r="5.2" fill="none" stroke="#f23a3e" stroke-width="1.9" />
<circle cx="1389.13" cy="127.55" r="5.2" fill="none" stroke="#f23a3e" stroke-width="1.9" />
<circle cx="1402.76" cy="141.18" r="5.2" fill="none" stroke="#f23a3e" stroke-width="1.9" />
<line x1="1206.3" y1="252" x2="1206.3" y2="241.5" stroke="#3b2cf5" stroke-width="1.6" />
<line x1="1196.8" y1="252" x2="1215.8" y2="252" stroke="#3b2cf5" stroke-width="1.6" />
<line x1="1196.8" y1="241.5" x2="1215.8" y2="241.5" stroke="#3b2cf5" stroke-width="1.6" />
<line x1="1267.3" y1="211" x2="1267.3" y2="203" stroke="#d54bf5" stroke-width="1.6" />
<line x1="1257.8" y1="211" x2="1276.8" y2="211" stroke="#d54bf5" stroke-width="1.6" />
<line x1="1257.8" y1="203" x2="1276.8" y2="203" stroke="#d54bf5" stroke-width="1.6" />
<line x1="1328.5" y1="168" x2="1328.5" y2="159" stroke="#f07d1e" stroke-width="1.6" />
<line x1="1319" y1="168" x2="1338" y2="168" stroke="#f07d1e" stroke-width="1.6" />
<line x1="1319" y1="159" x2="1338" y2="159" stroke="#f07d1e" stroke-width="1.6" />
<line x1="1389.1" y1="128" x2="1389.1" y2="121" stroke="#f23a3e" stroke-width="1.6" />
<line x1="1379.6" y1="128" x2="1398.6" y2="128" stroke="#f23a3e" stroke-width="1.6" />
<line x1="1379.6" y1="121" x2="1398.6" y2="121" stroke="#f23a3e" stroke-width="1.6" />
<text x="1251.88" y="193.07" font-size="25" stroke="#000" stroke-width="0.55">***</text>
<text x="1296.73" y="123.81" font-size="21.8" stroke="#000" stroke-width="0.3">&amp;&amp;&amp;&amp;</text>
<text x="1306.56" y="152.18" font-size="25" stroke="#000" stroke-width="0.55">****</text>
<text x="1364.31" y="63.07" font-size="22.1" stroke="#000" stroke-width="0.55">####</text>
<text x="1359.63" y="85.81" font-size="21.8" stroke="#000" stroke-width="0.3">&amp;&amp;&amp;&amp;</text>
<text x="1369.46" y="110.08" font-size="25" stroke="#000" stroke-width="0.55">****</text>
<text x="1189.59" y="369" font-size="22.5">NC</text>
<text x="1252.45" y="369" font-size="22.5">LC</text>
<text x="1310.5" y="369" font-size="22.5">MC</text>
<text x="1372.39" y="369" font-size="22.5">HC</text>
<text x="1088" y="294.32" font-size="25.27" transform="rotate(-90 1088 294.32)">MFI of DiBAC4(3)</text>
<text x="1441.52" y="37.75" font-size="42" font-weight="bold">d</text>
<text x="1556.74" y="57.6" font-size="25.87">OVA peptide</text>
<line x1="1538" y1="96.8" x2="1730.5" y2="96.8" stroke="#000" stroke-width="2.3" />
<line x1="1549.2" y1="95.65" x2="1549.2" y2="369.45" stroke="#000" stroke-width="2.3" />
<line x1="1538" y1="96.8" x2="1549.2" y2="96.8" stroke="#000" stroke-width="2.3" />
<text x="1522.2" y="104.9" font-size="22.5">0</text>
<line x1="1538" y1="174.2" x2="1549.2" y2="174.2" stroke="#000" stroke-width="2.3" />
<text x="1502.18" y="182.3" font-size="22.5">-20</text>
<line x1="1538" y1="251.8" x2="1549.2" y2="251.8" stroke="#000" stroke-width="2.3" />
<text x="1502.18" y="259.9" font-size="22.5">-40</text>
<line x1="1538" y1="329.4" x2="1549.2" y2="329.4" stroke="#000" stroke-width="2.3" />
<text x="1502.18" y="337.5" font-size="22.5">-60</text>
<line x1="1549.2" y1="368.3" x2="1731.5" y2="368.3" stroke="#000" stroke-width="2.3" />
<line x1="1600.1" y1="368.3" x2="1600.1" y2="379.3" stroke="#000" stroke-width="2.3" />
<line x1="1678.1" y1="368.3" x2="1678.1" y2="379.3" stroke="#000" stroke-width="2.3" />
<rect x="1578.5" y="96.8" width="45.3" height="189.6" fill="none" stroke="#3b2cf5" stroke-width="3.6" />
<rect x="1655.9" y="96.8" width="45.3" height="77" fill="none" stroke="#f23a3e" stroke-width="3.6" />
<line x1="1538" y1="96.8" x2="1730.5" y2="96.8" stroke="#000" stroke-width="2.3" />
<circle cx="1600.71" cy="252.19" r="5.2" fill="none" stroke="#3b2cf5" stroke-width="1.9" />
<circle cx="1600.71" cy="279.49" r="5.2" fill="none" stroke="#3b2cf5" stroke-width="1.9" />
<circle cx="1595.41" cy="302.51" r="5.2" fill="none" stroke="#3b2cf5" stroke-width="1.9" />
<circle cx="1606.21" cy="310.65" r="5.2" fill="none" stroke="#3b2cf5" stroke-width="1.9" />
<circle cx="1673.43" cy="162.97" r="5.2" fill="none" stroke="#f23a3e" stroke-width="1.9" />
<circle cx="1683.62" cy="167.04" r="5.2" fill="none" stroke="#f23a3e" stroke-width="1.9" />
<circle cx="1672.82" cy="174.78" r="5.2" fill="none" stroke="#f23a3e" stroke-width="1.9" />
<circle cx="1683.62" cy="185.98" r="5.2" fill="none" stroke="#f23a3e" stroke-width="1.9" />
<line x1="1600.8" y1="272.8" x2="1600.8" y2="299.2" stroke="#3b2cf5" stroke-width="1.6" />
<line x1="1588" y1="272.8" x2="1613.6" y2="272.8" stroke="#3b2cf5" stroke-width="1.6" />
<line x1="1588" y1="299.2" x2="1613.6" y2="299.2" stroke="#3b2cf5" stroke-width="1.6" />
<line x1="1678.5" y1="167.5" x2="1678.5" y2="177.5" stroke="#f23a3e" stroke-width="1.6" />
<line x1="1665.7" y1="167.5" x2="1691.3" y2="167.5" stroke="#f23a3e" stroke-width="1.6" />
<line x1="1665.7" y1="177.5" x2="1691.3" y2="177.5" stroke="#f23a3e" stroke-width="1.6" />
<line x1="1595" y1="324.9" x2="1686.7" y2="324.9" stroke="#000" stroke-width="2.2" />
<text x="1623.17" y="356.48" font-size="25" stroke="#000" stroke-width="0.55">***</text>
<text x="1584.29" y="402.3" font-size="22.5">NC</text>
<text x="1661.79" y="402.3" font-size="22.5">HC</text>
<text x="1491.1" y="398.01" font-size="22.63" transform="rotate(-90 1491.1 398.01)">Resting membrane potential (mV)</text>
<text x="4.22" y="451.58" font-size="42" font-weight="bold">e</text>
<line x1="81.2" y1="498.34" x2="81.2" y2="759.95" stroke="#000" stroke-width="2.5" />
<line x1="70.8" y1="758.7" x2="81.2" y2="758.7" stroke="#000" stroke-width="2.5" />
<line x1="75.7" y1="746.92" x2="81.2" y2="746.92" stroke="#000" stroke-width="2.2" />
<line x1="75.7" y1="735.14" x2="81.2" y2="735.14" stroke="#000" stroke-width="2.2" />
<line x1="75.7" y1="723.36" x2="81.2" y2="723.36" stroke="#000" stroke-width="2.2" />
<line x1="75.7" y1="711.58" x2="81.2" y2="711.58" stroke="#000" stroke-width="2.2" />
<line x1="75.7" y1="699.8" x2="81.2" y2="699.8" stroke="#000" stroke-width="2.2" />
<line x1="75.7" y1="688.02" x2="81.2" y2="688.02" stroke="#000" stroke-width="2.2" />
<line x1="75.7" y1="676.24" x2="81.2" y2="676.24" stroke="#000" stroke-width="2.2" />
<line x1="75.7" y1="664.46" x2="81.2" y2="664.46" stroke="#000" stroke-width="2.2" />
<line x1="75.7" y1="652.68" x2="81.2" y2="652.68" stroke="#000" stroke-width="2.2" />
<line x1="70.8" y1="640.9" x2="81.2" y2="640.9" stroke="#000" stroke-width="2.5" />
<line x1="75.7" y1="629.12" x2="81.2" y2="629.12" stroke="#000" stroke-width="2.2" />
<line x1="75.7" y1="617.34" x2="81.2" y2="617.34" stroke="#000" stroke-width="2.2" />
<line x1="75.7" y1="605.56" x2="81.2" y2="605.56" stroke="#000" stroke-width="2.2" />
<line x1="75.7" y1="593.78" x2="81.2" y2="593.78" stroke="#000" stroke-width="2.2" />
<line x1="75.7" y1="582" x2="81.2" y2="582" stroke="#000" stroke-width="2.2" />
<line x1="75.7" y1="570.22" x2="81.2" y2="570.22" stroke="#000" stroke-width="2.2" />
<line x1="75.7" y1="558.44" x2="81.2" y2="558.44" stroke="#000" stroke-width="2.2" />
<line x1="75.7" y1="546.66" x2="81.2" y2="546.66" stroke="#000" stroke-width="2.2" />
<line x1="75.7" y1="534.88" x2="81.2" y2="534.88" stroke="#000" stroke-width="2.2" />
<line x1="70.8" y1="523.1" x2="81.2" y2="523.1" stroke="#000" stroke-width="2.5" />
<line x1="75.7" y1="511.32" x2="81.2" y2="511.32" stroke="#000" stroke-width="2.2" />
<line x1="75.7" y1="499.54" x2="81.2" y2="499.54" stroke="#000" stroke-width="2.2" />
<text x="36.47" y="530.84" font-size="21.5">1.0</text>
<text x="36.57" y="648.64" font-size="21.5">0.5</text>
<text x="36.47" y="766.44" font-size="21.5">0.0</text>
<line x1="69.4" y1="758.7" x2="634" y2="758.7" stroke="#000" stroke-width="2.5" />
<line x1="169.6" y1="758.7" x2="169.6" y2="768.7" stroke="#000" stroke-width="2.5" />
<line x1="356.7" y1="758.7" x2="356.7" y2="768.7" stroke="#000" stroke-width="2.5" />
<line x1="544.1" y1="758.7" x2="544.1" y2="768.7" stroke="#000" stroke-width="2.5" />
<text x="154.48" y="792.4" font-size="21.3">1:1</text>
<text x="333.06" y="792.4" font-size="21.3">0.5:1</text>
<text x="514.55" y="792.4" font-size="21.3">0.25:1</text>
<text x="316.8" y="832" font-size="21">E:T ratio</text>
<text x="27" y="706.36" font-size="21.22" transform="rotate(-90 27 706.36)">Cell viability</text>
<circle cx="130.8" cy="500.2" r="5.4" fill="none" stroke="#626262" stroke-width="2" />
<text x="159.48" y="507.94" font-size="21.5">Blank</text>
<circle cx="130.8" cy="534.6" r="5.4" fill="none" stroke="#3b2cf5" stroke-width="2" />
<text x="159.48" y="542.34" font-size="21.5">NC</text>
<circle cx="130.8" cy="566.5" r="5.4" fill="none" stroke="#d54bf5" stroke-width="2" />
<text x="159.48" y="574.24" font-size="21.5">LC</text>
<circle cx="130.8" cy="601" r="5.4" fill="none" stroke="#f07d1e" stroke-width="2" />
<text x="159.48" y="608.74" font-size="21.5">MC</text>
<circle cx="130.8" cy="635.1" r="5.4" fill="none" stroke="#f23a3e" stroke-width="2" />
<text x="159.48" y="642.84" font-size="21.5">HC</text>
<rect x="94" y="699.14" width="17.2" height="59.56" fill="none" stroke="#626262" stroke-width="3.4" />
<circle cx="98.97" cy="688.02" r="5" fill="none" stroke="#626262" stroke-width="1.9" />
<circle cx="107.33" cy="695.09" r="5" fill="none" stroke="#626262" stroke-width="1.9" />
<circle cx="100.49" cy="702.16" r="5" fill="none" stroke="#626262" stroke-width="1.9" />
<circle cx="108.93" cy="704.51" r="5" fill="none" stroke="#626262" stroke-width="1.9" />
<line x1="102.6" y1="693.82" x2="102.6" y2="701.07" stroke="#626262" stroke-width="1.5" />
<line x1="97.1" y1="693.82" x2="108.1" y2="693.82" stroke="#626262" stroke-width="1.5" />
<line x1="97.1" y1="701.07" x2="108.1" y2="701.07" stroke="#626262" stroke-width="1.5" />
<rect x="127.7" y="696.79" width="17.2" height="61.91" fill="none" stroke="#3b2cf5" stroke-width="3.4" />
<circle cx="133.02" cy="690.38" r="5" fill="none" stroke="#3b2cf5" stroke-width="1.9" />
<circle cx="141.57" cy="692.73" r="5" fill="none" stroke="#3b2cf5" stroke-width="1.9" />
<circle cx="131.89" cy="695.09" r="5" fill="none" stroke="#3b2cf5" stroke-width="1.9" />
<circle cx="141.2" cy="704.51" r="5" fill="none" stroke="#3b2cf5" stroke-width="1.9" />
<line x1="136.3" y1="691.98" x2="136.3" y2="698.2" stroke="#3b2cf5" stroke-width="1.5" />
<line x1="130.8" y1="691.98" x2="141.8" y2="691.98" stroke="#3b2cf5" stroke-width="1.5" />
<line x1="130.8" y1="698.2" x2="141.8" y2="698.2" stroke="#3b2cf5" stroke-width="1.5" />
<rect x="160.2" y="710.92" width="17.2" height="47.78" fill="none" stroke="#d54bf5" stroke-width="3.4" />
<circle cx="166.13" cy="697.44" r="5" fill="none" stroke="#d54bf5" stroke-width="1.9" />
<circle cx="173.25" cy="709.22" r="5" fill="none" stroke="#d54bf5" stroke-width="1.9" />
<circle cx="167" cy="711.58" r="5" fill="none" stroke="#d54bf5" stroke-width="1.9" />
<circle cx="172.64" cy="711.58" r="5" fill="none" stroke="#d54bf5" stroke-width="1.9" />
<line x1="168.8" y1="706.11" x2="168.8" y2="712.33" stroke="#d54bf5" stroke-width="1.5" />
<line x1="163.3" y1="706.11" x2="174.3" y2="706.11" stroke="#d54bf5" stroke-width="1.5" />
<line x1="163.3" y1="712.33" x2="174.3" y2="712.33" stroke="#d54bf5" stroke-width="1.5" />
<rect x="193.9" y="710.92" width="17.2" height="47.78" fill="none" stroke="#f07d1e" stroke-width="3.4" />
<circle cx="198.41" cy="697.44" r="5" fill="none" stroke="#f07d1e" stroke-width="1.9" />
<circle cx="205.74" cy="706.87" r="5" fill="none" stroke="#f07d1e" stroke-width="1.9" />
<circle cx="199.63" cy="713.94" r="5" fill="none" stroke="#f07d1e" stroke-width="1.9" />
<circle cx="207.72" cy="713.94" r="5" fill="none" stroke="#f07d1e" stroke-width="1.9" />
<line x1="202.5" y1="705.6" x2="202.5" y2="712.85" stroke="#f07d1e" stroke-width="1.5" />
<line x1="197" y1="705.6" x2="208" y2="705.6" stroke="#f07d1e" stroke-width="1.5" />
<line x1="197" y1="712.85" x2="208" y2="712.85" stroke="#f07d1e" stroke-width="1.5" />
<rect x="226.4" y="722.7" width="17.6" height="36" fill="none" stroke="#f23a3e" stroke-width="3.4" />
<circle cx="229.74" cy="711.58" r="5" fill="none" stroke="#f23a3e" stroke-width="1.9" />
<circle cx="238.35" cy="718.65" r="5" fill="none" stroke="#f23a3e" stroke-width="1.9" />
<circle cx="231.54" cy="723.36" r="5" fill="none" stroke="#f23a3e" stroke-width="1.9" />
<circle cx="241.45" cy="728.07" r="5" fill="none" stroke="#f23a3e" stroke-width="1.9" />
<line x1="235.2" y1="717.38" x2="235.2" y2="724.63" stroke="#f23a3e" stroke-width="1.5" />
<line x1="229.7" y1="717.38" x2="240.7" y2="717.38" stroke="#f23a3e" stroke-width="1.5" />
<line x1="229.7" y1="724.63" x2="240.7" y2="724.63" stroke="#f23a3e" stroke-width="1.5" />
<rect x="281.9" y="597.84" width="17.6" height="160.86" fill="none" stroke="#626262" stroke-width="3.4" />
<circle cx="287.5" cy="584.36" r="5" fill="none" stroke="#626262" stroke-width="1.9" />
<circle cx="293.68" cy="584.36" r="5" fill="none" stroke="#626262" stroke-width="1.9" />
<circle cx="288.59" cy="603.2" r="5" fill="none" stroke="#626262" stroke-width="1.9" />
<circle cx="294.62" cy="610.27" r="5" fill="none" stroke="#626262" stroke-width="1.9" />
<line x1="290.7" y1="590.43" x2="290.7" y2="601.84" stroke="#626262" stroke-width="1.5" />
<line x1="285.2" y1="590.43" x2="296.2" y2="590.43" stroke="#626262" stroke-width="1.5" />
<line x1="285.2" y1="601.84" x2="296.2" y2="601.84" stroke="#626262" stroke-width="1.5" />
<rect x="314.8" y="604.9" width="17.2" height="153.8" fill="none" stroke="#3b2cf5" stroke-width="3.4" />
<circle cx="319.75" cy="584.36" r="5" fill="none" stroke="#3b2cf5" stroke-width="1.9" />
<circle cx="326.28" cy="603.2" r="5" fill="none" stroke="#3b2cf5" stroke-width="1.9" />
<circle cx="318.91" cy="610.27" r="5" fill="none" stroke="#3b2cf5" stroke-width="1.9" />
<circle cx="329.51" cy="614.98" r="5" fill="none" stroke="#3b2cf5" stroke-width="1.9" />
<line x1="323.4" y1="596.47" x2="323.4" y2="609.94" stroke="#3b2cf5" stroke-width="1.5" />
<line x1="317.9" y1="596.47" x2="328.9" y2="596.47" stroke="#3b2cf5" stroke-width="1.5" />
<line x1="317.9" y1="609.94" x2="328.9" y2="609.94" stroke="#3b2cf5" stroke-width="1.5" />
<rect x="347.3" y="635.53" width="17.6" height="123.17" fill="none" stroke="#d54bf5" stroke-width="3.4" />
<circle cx="351.23" cy="626.76" r="5" fill="none" stroke="#d54bf5" stroke-width="1.9" />
<circle cx="359.25" cy="631.48" r="5" fill="none" stroke="#d54bf5" stroke-width="1.9" />
<circle cx="354.55" cy="633.83" r="5" fill="none" stroke="#d54bf5" stroke-width="1.9" />
<circle cx="362.22" cy="633.83" r="5" fill="none" stroke="#d54bf5" stroke-width="1.9" />
<line x1="356.1" y1="632.28" x2="356.1" y2="635.39" stroke="#d54bf5" stroke-width="1.5" />
<line x1="350.6" y1="632.28" x2="361.6" y2="632.28" stroke="#d54bf5" stroke-width="1.5" />
<line x1="350.6" y1="635.39" x2="361.6" y2="635.39" stroke="#d54bf5" stroke-width="1.5" />
<rect x="381" y="642.6" width="17.6" height="116.1" fill="none" stroke="#f07d1e" stroke-width="3.4" />
<circle cx="385.17" cy="626.76" r="5" fill="none" stroke="#f07d1e" stroke-width="1.9" />
<circle cx="395.18" cy="626.76" r="5" fill="none" stroke="#f07d1e" stroke-width="1.9" />
<circle cx="386.92" cy="643.26" r="5" fill="none" stroke="#f07d1e" stroke-width="1.9" />
<circle cx="395.33" cy="655.04" r="5" fill="none" stroke="#f07d1e" stroke-width="1.9" />
<line x1="389.8" y1="634.68" x2="389.8" y2="647.12" stroke="#f07d1e" stroke-width="1.5" />
<line x1="384.3" y1="634.68" x2="395.3" y2="634.68" stroke="#f07d1e" stroke-width="1.5" />
<line x1="384.3" y1="647.12" x2="395.3" y2="647.12" stroke="#f07d1e" stroke-width="1.5" />
<rect x="413.9" y="696.79" width="17.6" height="61.91" fill="none" stroke="#f23a3e" stroke-width="3.4" />
<circle cx="417.81" cy="688.02" r="5" fill="none" stroke="#f23a3e" stroke-width="1.9" />
<circle cx="428.02" cy="690.38" r="5" fill="none" stroke="#f23a3e" stroke-width="1.9" />
<circle cx="420.27" cy="692.73" r="5" fill="none" stroke="#f23a3e" stroke-width="1.9" />
<circle cx="429.1" cy="699.8" r="5" fill="none" stroke="#f23a3e" stroke-width="1.9" />
<line x1="422.7" y1="692.5" x2="422.7" y2="697.68" stroke="#f23a3e" stroke-width="1.5" />
<line x1="417.2" y1="692.5" x2="428.2" y2="692.5" stroke="#f23a3e" stroke-width="1.5" />
<line x1="417.2" y1="697.68" x2="428.2" y2="697.68" stroke="#f23a3e" stroke-width="1.5" />
<rect x="469.3" y="541.29" width="17.2" height="217.41" fill="none" stroke="#626262" stroke-width="3.4" />
<circle cx="475.08" cy="532.52" r="5" fill="none" stroke="#626262" stroke-width="1.9" />
<circle cx="481.3" cy="537.24" r="5" fill="none" stroke="#626262" stroke-width="1.9" />
<circle cx="474.48" cy="539.59" r="5" fill="none" stroke="#626262" stroke-width="1.9" />
<circle cx="481.9" cy="541.95" r="5" fill="none" stroke="#626262" stroke-width="1.9" />
<line x1="477.9" y1="537.52" x2="477.9" y2="541.67" stroke="#626262" stroke-width="1.5" />
<line x1="472.4" y1="537.52" x2="483.4" y2="537.52" stroke="#626262" stroke-width="1.5" />
<line x1="472.4" y1="541.67" x2="483.4" y2="541.67" stroke="#626262" stroke-width="1.5" />
<rect x="502.1" y="536.58" width="17.4" height="222.12" fill="none" stroke="#3b2cf5" stroke-width="3.4" />
<circle cx="505.74" cy="520.74" r="5" fill="none" stroke="#3b2cf5" stroke-width="1.9" />
<circle cx="513.5" cy="530.17" r="5" fill="none" stroke="#3b2cf5" stroke-width="1.9" />
<circle cx="507.2" cy="534.88" r="5" fill="none" stroke="#3b2cf5" stroke-width="1.9" />
<circle cx="516.11" cy="539.59" r="5" fill="none" stroke="#3b2cf5" stroke-width="1.9" />
<line x1="510.8" y1="530.73" x2="510.8" y2="539.03" stroke="#3b2cf5" stroke-width="1.5" />
<line x1="505.3" y1="530.73" x2="516.3" y2="530.73" stroke="#3b2cf5" stroke-width="1.5" />
<line x1="505.3" y1="539.03" x2="516.3" y2="539.03" stroke="#3b2cf5" stroke-width="1.5" />
<rect x="534.7" y="595.48" width="17.6" height="163.22" fill="none" stroke="#d54bf5" stroke-width="3.4" />
<circle cx="538.01" cy="577.29" r="5" fill="none" stroke="#d54bf5" stroke-width="1.9" />
<circle cx="548.03" cy="584.36" r="5" fill="none" stroke="#d54bf5" stroke-width="1.9" />
<circle cx="540.01" cy="593.78" r="5" fill="none" stroke="#d54bf5" stroke-width="1.9" />
<circle cx="547.93" cy="610.27" r="5" fill="none" stroke="#d54bf5" stroke-width="1.9" />
<line x1="543.5" y1="586.52" x2="543.5" y2="601.04" stroke="#d54bf5" stroke-width="1.5" />
<line x1="538" y1="586.52" x2="549" y2="586.52" stroke="#d54bf5" stroke-width="1.5" />
<line x1="538" y1="601.04" x2="549" y2="601.04" stroke="#d54bf5" stroke-width="1.5" />
<rect x="568.4" y="637.89" width="17.6" height="120.81" fill="none" stroke="#f07d1e" stroke-width="3.4" />
<circle cx="574.16" cy="612.63" r="5" fill="none" stroke="#f07d1e" stroke-width="1.9" />
<circle cx="581.14" cy="622.05" r="5" fill="none" stroke="#f07d1e" stroke-width="1.9" />
<circle cx="573.65" cy="640.9" r="5" fill="none" stroke="#f07d1e" stroke-width="1.9" />
<circle cx="582.14" cy="655.04" r="5" fill="none" stroke="#f07d1e" stroke-width="1.9" />
<line x1="577.2" y1="626.86" x2="577.2" y2="645.52" stroke="#f07d1e" stroke-width="1.5" />
<line x1="571.7" y1="626.86" x2="582.7" y2="626.86" stroke="#f07d1e" stroke-width="1.5" />
<line x1="571.7" y1="645.52" x2="582.7" y2="645.52" stroke="#f07d1e" stroke-width="1.5" />
<rect x="601.3" y="685.01" width="17.6" height="73.69" fill="none" stroke="#f23a3e" stroke-width="3.4" />
<circle cx="606.71" cy="664.46" r="5" fill="none" stroke="#f23a3e" stroke-width="1.9" />
<circle cx="612.77" cy="680.95" r="5" fill="none" stroke="#f23a3e" stroke-width="1.9" />
<circle cx="608.53" cy="685.66" r="5" fill="none" stroke="#f23a3e" stroke-width="1.9" />
<circle cx="613.67" cy="688.02" r="5" fill="none" stroke="#f23a3e" stroke-width="1.9" />
<line x1="610.1" y1="678.12" x2="610.1" y2="688.49" stroke="#f23a3e" stroke-width="1.5" />
<line x1="604.6" y1="678.12" x2="615.6" y2="678.12" stroke="#f23a3e" stroke-width="1.5" />
<line x1="604.6" y1="688.49" x2="615.6" y2="688.49" stroke="#f23a3e" stroke-width="1.5" />
<text x="224.94" y="707.12" font-size="24.5" stroke="#000" stroke-width="0.55">**</text>
<text x="349.92" y="619.62" font-size="24.5" stroke="#000" stroke-width="0.55">*</text>
<text x="378.84" y="624.62" font-size="24.5" stroke="#000" stroke-width="0.55">**</text>
<text x="400.81" y="642.76" font-size="21.2" stroke="#000" stroke-width="0.55">####</text>
<text x="398.54" y="663.91" font-size="21.2" stroke="#000" stroke-width="0.3">&amp;&amp;&amp;&amp;</text>
<text x="406.95" y="690.12" font-size="24.5" stroke="#000" stroke-width="0.55">****</text>
<text x="524.85" y="578.12" font-size="24.5" stroke="#000" stroke-width="0.55">****</text>
<text x="560.39" y="586.81" font-size="21.2" stroke="#000" stroke-width="0.3">&amp;&amp;</text>
<text x="558.55" y="609.82" font-size="24.5" stroke="#000" stroke-width="0.55">****</text>
<text x="595.55" y="618.76" font-size="21.2" stroke="#000" stroke-width="0.55">###</text>
<text x="584.74" y="641.11" font-size="21.2" stroke="#000" stroke-width="0.3">&amp;&amp;&amp;&amp;</text>
<text x="593.15" y="665.32" font-size="24.5" stroke="#000" stroke-width="0.55">****</text>
<text x="681.27" y="454.35" font-size="42" font-weight="bold">f</text>
<text x="774.1" y="451.2" font-size="24.51">OVA peptide</text>
<text x="805.58" y="474.4" font-size="24.41">2 days</text>
<text x="945.3" y="451.2" font-size="24.4">IL2</text>
<text x="927.02" y="474.4" font-size="24.19">4 days</text>
<text x="1041.54" y="451.2" font-size="23.95">adoptive</text>
<text x="1046.95" y="474.4" font-size="23.52">transfer</text>
<path d="M818.5 502 L818.5 525.2 A28 9 0 0 0 874.5 525.2 L874.5 502 A28 9 0 0 0 818.5 502 Z" fill="#fff" stroke="#111" stroke-width="1.35" />
<path d="M818.5 513.4 A28 9 0 0 1 874.5 513.4 L874.5 525.2 A28 9 0 0 1 818.5 525.2 Z" fill="#f53c44" stroke="#111" stroke-width="1.35" />
<path d="M818.5 513.4 A28 9 0 0 0 874.5 513.4" fill="none" stroke="#111" stroke-width="1.35" />
<path d="M929.3 502 L929.3 525.2 A28 9 0 0 0 985.3 525.2 L985.3 502 A28 9 0 0 0 929.3 502 Z" fill="#fff" stroke="#111" stroke-width="1.35" />
<path d="M929.3 513.4 A28 9 0 0 1 985.3 513.4 L985.3 525.2 A28 9 0 0 1 929.3 525.2 Z" fill="#f53c44" stroke="#111" stroke-width="1.35" />
<path d="M929.3 513.4 A28 9 0 0 0 985.3 513.4" fill="none" stroke="#111" stroke-width="1.35" />
<path d="M818.5 571.9 L818.5 595.1 A28 9 0 0 0 874.5 595.1 L874.5 571.9 A28 9 0 0 0 818.5 571.9 Z" fill="#fff" stroke="#111" stroke-width="1.35" />
<path d="M818.5 583.3 A28 9 0 0 1 874.5 583.3 L874.5 595.1 A28 9 0 0 1 818.5 595.1 Z" fill="#f53c44" stroke="#111" stroke-width="1.35" />
<path d="M818.5 583.3 A28 9 0 0 0 874.5 583.3" fill="none" stroke="#111" stroke-width="1.35" />
<path d="M929.3 571.9 L929.3 595.1 A28 9 0 0 0 985.3 595.1 L985.3 571.9 A28 9 0 0 0 929.3 571.9 Z" fill="#fff" stroke="#111" stroke-width="1.35" />
<path d="M929.3 583.3 A28 9 0 0 1 985.3 583.3 L985.3 595.1 A28 9 0 0 1 929.3 595.1 Z" fill="#f53c44" stroke="#111" stroke-width="1.35" />
<path d="M929.3 583.3 A28 9 0 0 0 985.3 583.3" fill="none" stroke="#111" stroke-width="1.35" />
<path d="M818.5 644.4 L818.5 667.6 A28 9 0 0 0 874.5 667.6 L874.5 644.4 A28 9 0 0 0 818.5 644.4 Z" fill="#fff" stroke="#111" stroke-width="1.35" />
<path d="M818.5 655.8 A28 9 0 0 1 874.5 655.8 L874.5 667.6 A28 9 0 0 1 818.5 667.6 Z" fill="#f53c44" stroke="#111" stroke-width="1.35" />
<path d="M818.5 655.8 A28 9 0 0 0 874.5 655.8" fill="none" stroke="#111" stroke-width="1.35" />
<line x1="840.2" y1="668.7" x2="846.8" y2="668.7" stroke="#111" stroke-width="2" />
<line x1="862.7" y1="664" x2="869.3" y2="664" stroke="#111" stroke-width="2" />
<path d="M929.3 644.4 L929.3 667.6 A28 9 0 0 0 985.3 667.6 L985.3 644.4 A28 9 0 0 0 929.3 644.4 Z" fill="#fff" stroke="#111" stroke-width="1.35" />
<path d="M929.3 655.8 A28 9 0 0 1 985.3 655.8 L985.3 667.6 A28 9 0 0 1 929.3 667.6 Z" fill="#f53c44" stroke="#111" stroke-width="1.35" />
<path d="M929.3 655.8 A28 9 0 0 0 985.3 655.8" fill="none" stroke="#111" stroke-width="1.35" />
<line x1="951" y1="668.7" x2="957.6" y2="668.7" stroke="#111" stroke-width="2" />
<line x1="973.5" y1="664" x2="980.1" y2="664" stroke="#111" stroke-width="2" />
<path d="M818.5 716.8 L818.5 740 A28 9 0 0 0 874.5 740 L874.5 716.8 A28 9 0 0 0 818.5 716.8 Z" fill="#fff" stroke="#111" stroke-width="1.35" />
<path d="M818.5 728.2 A28 9 0 0 1 874.5 728.2 L874.5 740 A28 9 0 0 1 818.5 740 Z" fill="#f53c44" stroke="#111" stroke-width="1.35" />
<path d="M818.5 728.2 A28 9 0 0 0 874.5 728.2" fill="none" stroke="#111" stroke-width="1.35" />
<line x1="831.7" y1="726.5" x2="838.3" y2="726.5" stroke="#111" stroke-width="2" />
<line x1="839.7" y1="740" x2="846.3" y2="740" stroke="#111" stroke-width="2" />
<line x1="863.7" y1="736" x2="870.3" y2="736" stroke="#111" stroke-width="2" />
<path d="M929.3 716.8 L929.3 740 A28 9 0 0 0 985.3 740 L985.3 716.8 A28 9 0 0 0 929.3 716.8 Z" fill="#fff" stroke="#111" stroke-width="1.35" />
<path d="M929.3 728.2 A28 9 0 0 1 985.3 728.2 L985.3 740 A28 9 0 0 1 929.3 740 Z" fill="#f53c44" stroke="#111" stroke-width="1.35" />
<path d="M929.3 728.2 A28 9 0 0 0 985.3 728.2" fill="none" stroke="#111" stroke-width="1.35" />
<line x1="942.5" y1="726.5" x2="949.1" y2="726.5" stroke="#111" stroke-width="2" />
<line x1="950.5" y1="740" x2="957.1" y2="740" stroke="#111" stroke-width="2" />
<line x1="974.5" y1="736" x2="981.1" y2="736" stroke="#111" stroke-width="2" />
<path d="M818.5 790.9 L818.5 814.1 A28 9 0 0 0 874.5 814.1 L874.5 790.9 A28 9 0 0 0 818.5 790.9 Z" fill="#fff" stroke="#111" stroke-width="1.35" />
<path d="M818.5 802.3 A28 9 0 0 1 874.5 802.3 L874.5 814.1 A28 9 0 0 1 818.5 814.1 Z" fill="#f53c44" stroke="#111" stroke-width="1.35" />
<path d="M818.5 802.3 A28 9 0 0 0 874.5 802.3" fill="none" stroke="#111" stroke-width="1.35" />
<line x1="831.7" y1="799.5" x2="838.3" y2="799.5" stroke="#111" stroke-width="2" />
<line x1="855.7" y1="797.5" x2="862.3" y2="797.5" stroke="#111" stroke-width="2" />
<line x1="839.7" y1="813" x2="846.3" y2="813" stroke="#111" stroke-width="2" />
<line x1="863.7" y1="810" x2="870.3" y2="810" stroke="#111" stroke-width="2" />
<path d="M929.3 790.9 L929.3 814.1 A28 9 0 0 0 985.3 814.1 L985.3 790.9 A28 9 0 0 0 929.3 790.9 Z" fill="#fff" stroke="#111" stroke-width="1.35" />
<path d="M929.3 802.3 A28 9 0 0 1 985.3 802.3 L985.3 814.1 A28 9 0 0 1 929.3 814.1 Z" fill="#f53c44" stroke="#111" stroke-width="1.35" />
<path d="M929.3 802.3 A28 9 0 0 0 985.3 802.3" fill="none" stroke="#111" stroke-width="1.35" />
<line x1="942.5" y1="799.5" x2="949.1" y2="799.5" stroke="#111" stroke-width="2" />
<line x1="966.5" y1="797.5" x2="973.1" y2="797.5" stroke="#111" stroke-width="2" />
<line x1="950.5" y1="813" x2="957.1" y2="813" stroke="#111" stroke-width="2" />
<line x1="974.5" y1="810" x2="981.1" y2="810" stroke="#111" stroke-width="2" />
<text x="817.68" y="551.7" font-size="23.5">Blank</text>
<text x="928.18" y="552.7" font-size="23.5">Blank</text>
<text x="830.55" y="624.1" font-size="23.5">NC</text>
<text x="941.05" y="624.1" font-size="23.5">NC</text>
<text x="832.49" y="696.5" font-size="23.5">LC</text>
<text x="942.99" y="696.5" font-size="23.5">LC</text>
<text x="829.2" y="769" font-size="23.5">MC</text>
<text x="939.7" y="769" font-size="23.5">MC</text>
<text x="830.55" y="843" font-size="23.5">HC</text>
<text x="941.05" y="843" font-size="23.5">HC</text>
<line x1="881" y1="516.2" x2="916.2" y2="516.2" stroke="#000" stroke-width="1.2" />
<path d="M922.7 516.2 L916.2 519.2 L916.2 513.2" fill="#000" />
<line x1="996.7" y1="516.2" x2="1032.7" y2="516.2" stroke="#000" stroke-width="1.2" />
<path d="M1039.2 516.2 L1032.7 519.2 L1032.7 513.2" fill="#000" />
<line x1="881" y1="583.9" x2="916.2" y2="583.9" stroke="#000" stroke-width="1.2" />
<path d="M922.7 583.9 L916.2 586.9 L916.2 580.9" fill="#000" />
<line x1="996.7" y1="583.9" x2="1032.7" y2="583.9" stroke="#000" stroke-width="1.2" />
<path d="M1039.2 583.9 L1032.7 586.9 L1032.7 580.9" fill="#000" />
<line x1="881" y1="661.8" x2="916.2" y2="661.8" stroke="#000" stroke-width="1.2" />
<path d="M922.7 661.8 L916.2 664.8 L916.2 658.8" fill="#000" />
<line x1="996.7" y1="661.8" x2="1032.7" y2="661.8" stroke="#000" stroke-width="1.2" />
<path d="M1039.2 661.8 L1032.7 664.8 L1032.7 658.8" fill="#000" />
<line x1="881" y1="729.7" x2="916.2" y2="729.7" stroke="#000" stroke-width="1.2" />
<path d="M922.7 729.7 L916.2 732.7 L916.2 726.7" fill="#000" />
<line x1="996.7" y1="729.7" x2="1032.7" y2="729.7" stroke="#000" stroke-width="1.2" />
<path d="M1039.2 729.7 L1032.7 732.7 L1032.7 726.7" fill="#000" />
<line x1="881" y1="803.4" x2="916.2" y2="803.4" stroke="#000" stroke-width="1.2" />
<path d="M922.7 803.4 L916.2 806.4 L916.2 800.4" fill="#000" />
<line x1="996.7" y1="803.4" x2="1032.7" y2="803.4" stroke="#000" stroke-width="1.2" />
<path d="M1039.2 803.4 L1032.7 806.4 L1032.7 800.4" fill="#000" />
<path d="M1056.3 514.6 L1099.8 501.8 L1099.8 528.5 L1056.3 514.6" fill="#fff" stroke="#111" stroke-width="2" stroke-linejoin="miter"/>
<circle cx="1077.62" cy="514.1" r="2.6" fill="#111" />
<circle cx="1087.62" cy="523.22" r="3.2" fill="#f01c1c" transform="rotate(0)"/>
<path d="M1100.8 516.1 C1105.8 513.1 1108.8 522.1 1114.8 518.1 C1119.8 515.1 1124.8 512.1 1129.8 511.1" fill="none" stroke="#111" stroke-width="1.5" />
<path d="M1056.3 583 L1099.8 570.5 L1099.8 596.5 L1056.3 583" fill="#fff" stroke="#111" stroke-width="2" stroke-linejoin="miter"/>
<circle cx="1077.62" cy="582.5" r="2.6" fill="#111" />
<circle cx="1087.62" cy="591.37" r="3.2" fill="#f01c1c" transform="rotate(0)"/>
<path d="M1100.8 584.5 C1105.8 581.5 1108.8 590.5 1114.8 586.5 C1119.8 583.5 1124.8 580.5 1129.8 579.5" fill="none" stroke="#111" stroke-width="1.5" />
<path d="M1056.5 661.5 L1099.2 648.5 L1099.2 674.5 L1056.5 661.5" fill="#fff" stroke="#111" stroke-width="2" stroke-linejoin="miter"/>
<circle cx="1077.42" cy="661" r="2.6" fill="#111" />
<circle cx="1087.24" cy="669.56" r="3.2" fill="#f01c1c" transform="rotate(0)"/>
<path d="M1100.2 663 C1105.2 660 1108.2 669 1114.2 665 C1119.2 662 1124.2 659 1129.2 658" fill="none" stroke="#111" stroke-width="1.5" />
<path d="M1056.5 729.5 L1099.2 716.5 L1099.2 742.5 L1056.5 729.5" fill="#fff" stroke="#111" stroke-width="2" stroke-linejoin="miter"/>
<circle cx="1077.42" cy="729" r="2.6" fill="#111" />
<circle cx="1087.24" cy="737.56" r="3.2" fill="#f01c1c" transform="rotate(0)"/>
<path d="M1100.2 731 C1105.2 728 1108.2 737 1114.2 733 C1119.2 730 1124.2 727 1129.2 726" fill="none" stroke="#111" stroke-width="1.5" />
<path d="M1053 803.5 L1096.2 790.5 L1096.2 816.5 L1053 803.5" fill="#fff" stroke="#111" stroke-width="2" stroke-linejoin="miter"/>
<circle cx="1074.17" cy="803" r="2.6" fill="#111" />
<circle cx="1084.1" cy="811.56" r="3.2" fill="#f01c1c" transform="rotate(0)"/>
<path d="M1097.2 805 C1102.2 802 1105.2 811 1111.2 807 C1116.2 804 1121.2 801 1126.2 800" fill="none" stroke="#111" stroke-width="1.5" />
<text x="695.21" y="651.5" font-size="24.23">OT-1</text>
<text x="687.82" y="674.6" font-size="24.23">T cells</text>
<line x1="760.7" y1="657.9" x2="804.7" y2="535.03" stroke="#000" stroke-width="1.6" />
<path d="M807.4 527.5 L807.72 536.11 L801.69 533.95" fill="#000" />
<line x1="760.7" y1="657.9" x2="800.62" y2="610.9" stroke="#000" stroke-width="1.6" />
<path d="M805.8 604.8 L803.06 612.97 L798.18 608.83" fill="#000" />
<line x1="760.7" y1="657.9" x2="791.4" y2="658.69" stroke="#000" stroke-width="1.6" />
<path d="M799.4 658.9 L791.32 661.89 L791.49 655.49" fill="#000" />
<line x1="760.7" y1="657.9" x2="801.64" y2="706.48" stroke="#000" stroke-width="1.6" />
<path d="M806.8 712.6 L799.2 708.54 L804.09 704.42" fill="#000" />
<line x1="760.7" y1="657.9" x2="804.73" y2="782.36" stroke="#000" stroke-width="1.6" />
<path d="M807.4 789.9 L801.71 783.43 L807.75 781.29" fill="#000" />
<text x="1213.22" y="445.68" font-size="42" font-weight="bold">g</text>
<defs>
<radialGradient id="tg0" cx="42%" cy="40%" r="62%"><stop offset="0" stop-color="#c08282"/><stop offset="0.6" stop-color="#9c4a50"/><stop offset="1" stop-color="#74282e"/></radialGradient>
<radialGradient id="tg1" cx="42%" cy="40%" r="62%"><stop offset="0" stop-color="#c48886"/><stop offset="0.6" stop-color="#a04e54"/><stop offset="1" stop-color="#7a2c32"/></radialGradient>
<radialGradient id="tg2" cx="42%" cy="40%" r="62%"><stop offset="0" stop-color="#c08080"/><stop offset="0.6" stop-color="#a24c54"/><stop offset="1" stop-color="#80303a"/></radialGradient>
<radialGradient id="tg3" cx="42%" cy="40%" r="62%"><stop offset="0" stop-color="#e6aaa6"/><stop offset="0.6" stop-color="#cc7c80"/><stop offset="1" stop-color="#b0525c"/></radialGradient>
<radialGradient id="tg4" cx="42%" cy="40%" r="62%"><stop offset="0" stop-color="#eab6b0"/><stop offset="0.6" stop-color="#d48a8c"/><stop offset="1" stop-color="#bc6068"/></radialGradient>
<linearGradient id="photobg" x1="0" y1="0" x2="0" y2="1"><stop offset="0" stop-color="#e4e5e8"/><stop offset="1" stop-color="#e9e9ea"/></linearGradient>
<filter id="soft" x="-20%" y="-20%" width="140%" height="140%"><feGaussianBlur stdDeviation="0.8"/></filter>
<filter id="soft2" x="-30%" y="-30%" width="160%" height="160%"><feGaussianBlur stdDeviation="2.2"/></filter>
</defs>
<rect x="1309.5" y="460.8" width="403.2" height="299.7" fill="url(#photobg)" />
<line x1="1313.5" y1="528.7" x2="1712.7" y2="528.7" stroke="#222" stroke-width="1.6" stroke-dasharray="17 19" opacity="0.85"/>
<line x1="1313.5" y1="588.8" x2="1712.7" y2="588.8" stroke="#222" stroke-width="1.6" stroke-dasharray="17 19" opacity="0.85"/>
<line x1="1313.5" y1="645.9" x2="1712.7" y2="645.9" stroke="#222" stroke-width="1.6" stroke-dasharray="17 19" opacity="0.85"/>
<line x1="1313.5" y1="701.9" x2="1712.7" y2="701.9" stroke="#222" stroke-width="1.6" stroke-dasharray="17 19" opacity="0.85"/>
<path d="M1388.77 497.5 L1388.47 499.89 L1387.94 502.25 L1387.08 504.54 L1385.76 506.68 L1383.98 508.56 L1381.82 510.1 L1379.47 511.35 L1377.07 512.42 L1374.68 513.45 L1372.23 514.5 L1369.63 515.5 L1366.8 516.27 L1363.81 516.57 L1360.82 516.23 L1358.03 515.25 L1355.61 513.76 L1353.55 511.98 L1351.74 510.13 L1350.04 508.29 L1348.38 506.42 L1346.86 504.43 L1345.68 502.25 L1345.1 499.9 L1345.23 497.5 L1346 495.2 L1347.15 493.08 L1348.37 491.1 L1349.42 489.08 L1350.33 486.9 L1351.3 484.5 L1352.68 482.06 L1354.68 479.9 L1357.37 478.4 L1360.51 477.81 L1363.76 478.16 L1366.8 479.19 L1369.47 480.51 L1371.83 481.74 L1374.12 482.67 L1376.56 483.33 L1379.2 483.95 L1381.93 484.81 L1384.47 486.13 L1386.52 487.95 L1387.9 490.17 L1388.63 492.59 L1388.86 495.06 Z" fill="#b8b8bc" opacity="0.5" filter="url(#soft2)"/>
<g filter="url(#soft)">
<path d="M1387.27 495 L1386.97 497.39 L1386.44 499.75 L1385.58 502.04 L1384.26 504.18 L1382.48 506.06 L1380.32 507.6 L1377.97 508.85 L1375.57 509.92 L1373.18 510.95 L1370.73 512 L1368.13 513 L1365.3 513.77 L1362.31 514.07 L1359.32 513.73 L1356.53 512.75 L1354.11 511.26 L1352.05 509.48 L1350.24 507.63 L1348.54 505.79 L1346.88 503.92 L1345.36 501.93 L1344.18 499.75 L1343.6 497.4 L1343.73 495 L1344.5 492.7 L1345.65 490.58 L1346.87 488.6 L1347.92 486.58 L1348.83 484.4 L1349.8 482 L1351.18 479.56 L1353.18 477.4 L1355.87 475.9 L1359.01 475.31 L1362.26 475.66 L1365.3 476.69 L1367.97 478.01 L1370.33 479.24 L1372.62 480.17 L1375.06 480.83 L1377.7 481.45 L1380.43 482.31 L1382.97 483.63 L1385.02 485.45 L1386.4 487.67 L1387.13 490.09 L1387.36 492.56 Z" fill="url(#tg0)" />
<ellipse cx="1364.27" cy="496.09" rx="4.37" ry="4.15" fill="#7a2028" opacity="0.5"/>
<ellipse cx="1358.57" cy="500.53" rx="5.06" ry="3.98" fill="#7a2028" opacity="0.5"/>
<ellipse cx="1356.49" cy="491.42" rx="4.71" ry="4.25" fill="#e0b0a8" opacity="0.5"/>
<ellipse cx="1368.22" cy="496.74" rx="6.37" ry="3.61" fill="#7a2028" opacity="0.5"/>
<ellipse cx="1367.81" cy="488.77" rx="5.85" ry="1.99" fill="#e0b0a8" opacity="0.5"/>
</g>
<path d="M1443.33 491.94 L1444.47 494.56 L1445.38 497.28 L1446.17 500.08 L1446.87 503.03 L1447.4 506.13 L1447.55 509.34 L1447.07 512.46 L1445.8 515.17 L1443.75 517.19 L1441.16 518.38 L1438.36 518.85 L1435.67 518.94 L1433.23 519.04 L1430.98 519.43 L1428.75 520.12 L1426.33 520.84 L1423.71 521.14 L1421.02 520.63 L1418.54 519.16 L1416.53 516.87 L1415.06 514.14 L1413.97 511.41 L1412.94 508.93 L1411.65 506.72 L1409.95 504.55 L1407.99 502.13 L1406.13 499.29 L1404.84 496.1 L1404.48 492.8 L1405.16 489.74 L1406.7 487.17 L1408.76 485.17 L1410.99 483.59 L1413.17 482.23 L1415.26 480.91 L1417.35 479.64 L1419.56 478.57 L1421.97 477.9 L1424.51 477.81 L1427.07 478.33 L1429.54 479.33 L1431.87 480.64 L1434.08 482.1 L1436.2 483.66 L1438.25 485.37 L1440.18 487.3 L1441.9 489.5 Z" fill="#b8b8bc" opacity="0.5" filter="url(#soft2)"/>
<g filter="url(#soft)">
<path d="M1441.83 489.44 L1442.97 492.06 L1443.88 494.78 L1444.67 497.58 L1445.37 500.53 L1445.9 503.63 L1446.05 506.84 L1445.57 509.96 L1444.3 512.67 L1442.25 514.69 L1439.66 515.88 L1436.86 516.35 L1434.17 516.44 L1431.73 516.54 L1429.48 516.93 L1427.25 517.62 L1424.83 518.34 L1422.21 518.64 L1419.52 518.13 L1417.04 516.66 L1415.03 514.37 L1413.56 511.64 L1412.47 508.91 L1411.44 506.43 L1410.15 504.22 L1408.45 502.05 L1406.49 499.63 L1404.63 496.79 L1403.34 493.6 L1402.98 490.3 L1403.66 487.24 L1405.2 484.67 L1407.26 482.67 L1409.49 481.09 L1411.67 479.73 L1413.76 478.41 L1415.85 477.14 L1418.06 476.07 L1420.47 475.4 L1423.01 475.31 L1425.57 475.83 L1428.04 476.83 L1430.37 478.14 L1432.58 479.6 L1434.7 481.16 L1436.75 482.87 L1438.68 484.8 L1440.4 487 Z" fill="url(#tg0)" />
<ellipse cx="1416.38" cy="505.74" rx="4.94" ry="3.35" fill="#e0b0a8" opacity="0.5"/>
<ellipse cx="1426.93" cy="490.34" rx="4.47" ry="3.94" fill="#5e1a22" opacity="0.5"/>
<ellipse cx="1428.29" cy="496.24" rx="3.67" ry="4.11" fill="#d8a098" opacity="0.5"/>
<ellipse cx="1433.4" cy="487.82" rx="3.36" ry="3.03" fill="#d8a098" opacity="0.5"/>
<ellipse cx="1421.19" cy="487.53" rx="3.65" ry="5.11" fill="#e0b0a8" opacity="0.5"/>
</g>
<path d="M1512.73 504.78 L1511.93 506.94 L1510.71 508.92 L1509.09 510.63 L1507.16 512.02 L1505 513.1 L1502.74 513.9 L1500.42 514.52 L1498.07 515.01 L1495.65 515.41 L1493.13 515.65 L1490.5 515.64 L1487.82 515.25 L1485.21 514.4 L1482.81 513.06 L1480.76 511.29 L1479.15 509.21 L1477.96 506.96 L1477.11 504.69 L1476.47 502.45 L1475.91 500.25 L1475.4 498.04 L1474.96 495.76 L1474.73 493.4 L1474.85 490.99 L1475.47 488.65 L1476.65 486.53 L1478.38 484.75 L1480.53 483.42 L1482.92 482.52 L1485.41 481.99 L1487.86 481.7 L1490.25 481.52 L1492.62 481.36 L1495.02 481.24 L1497.52 481.23 L1500.13 481.45 L1502.76 482.03 L1505.3 483.06 L1507.59 484.55 L1509.51 486.45 L1510.98 488.62 L1512.02 490.95 L1512.69 493.31 L1513.1 495.65 L1513.31 497.96 L1513.35 500.25 L1513.18 502.53 Z" fill="#b8b8bc" opacity="0.5" filter="url(#soft2)"/>
<g filter="url(#soft)">
<path d="M1511.23 502.28 L1510.43 504.44 L1509.21 506.42 L1507.59 508.13 L1505.66 509.52 L1503.5 510.6 L1501.24 511.4 L1498.92 512.02 L1496.57 512.51 L1494.15 512.91 L1491.63 513.15 L1489 513.14 L1486.32 512.75 L1483.71 511.9 L1481.31 510.56 L1479.26 508.79 L1477.65 506.71 L1476.46 504.46 L1475.61 502.19 L1474.97 499.95 L1474.41 497.75 L1473.9 495.54 L1473.46 493.26 L1473.23 490.9 L1473.35 488.49 L1473.97 486.15 L1475.15 484.03 L1476.88 482.25 L1479.03 480.92 L1481.42 480.02 L1483.91 479.49 L1486.36 479.2 L1488.75 479.02 L1491.12 478.86 L1493.52 478.74 L1496.02 478.73 L1498.63 478.95 L1501.26 479.53 L1503.8 480.56 L1506.09 482.05 L1508.01 483.95 L1509.48 486.12 L1510.52 488.45 L1511.19 490.81 L1511.6 493.15 L1511.81 495.46 L1511.85 497.75 L1511.68 500.03 Z" fill="url(#tg0)" />
<ellipse cx="1490.34" cy="503.56" rx="3.15" ry="4.21" fill="#e0b0a8" opacity="0.5"/>
<ellipse cx="1483.69" cy="493.31" rx="3.89" ry="3.25" fill="#7a2028" opacity="0.5"/>
<ellipse cx="1486.6" cy="498.58" rx="2.7" ry="2.64" fill="#d8a098" opacity="0.5"/>
<ellipse cx="1501.84" cy="500.04" rx="2.87" ry="3.63" fill="#e0b0a8" opacity="0.5"/>
<ellipse cx="1482.87" cy="494.88" rx="3.02" ry="3.24" fill="#7a2028" opacity="0.5"/>
</g>
<path d="M1572.13 503.42 L1571.95 505.72 L1571.57 508.11 L1570.69 510.42 L1569.11 512.37 L1566.86 513.72 L1564.18 514.39 L1561.41 514.51 L1558.78 514.38 L1556.35 514.33 L1554 514.5 L1551.56 514.84 L1548.94 515.06 L1546.21 514.85 L1543.61 513.98 L1541.4 512.46 L1539.71 510.48 L1538.45 508.32 L1537.41 506.2 L1536.33 504.18 L1535.12 502.17 L1533.89 500.04 L1532.95 497.73 L1532.66 495.31 L1533.2 492.99 L1534.51 490.95 L1536.29 489.26 L1538.19 487.83 L1539.95 486.44 L1541.53 484.89 L1543.12 483.15 L1544.95 481.41 L1547.21 480.01 L1549.87 479.3 L1552.7 479.46 L1555.41 480.43 L1557.83 481.88 L1559.93 483.46 L1561.9 484.87 L1563.93 486.07 L1566.12 487.19 L1568.36 488.47 L1570.4 490.11 L1571.9 492.13 L1572.72 494.42 L1572.89 496.76 L1572.67 499.04 L1572.36 501.22 Z" fill="#b8b8bc" opacity="0.5" filter="url(#soft2)"/>
<g filter="url(#soft)">
<path d="M1570.63 500.92 L1570.45 503.22 L1570.07 505.61 L1569.19 507.92 L1567.61 509.87 L1565.36 511.22 L1562.68 511.89 L1559.91 512.01 L1557.28 511.88 L1554.85 511.83 L1552.5 512 L1550.06 512.34 L1547.44 512.56 L1544.71 512.35 L1542.11 511.48 L1539.9 509.96 L1538.21 507.98 L1536.95 505.82 L1535.91 503.7 L1534.83 501.68 L1533.62 499.67 L1532.39 497.54 L1531.45 495.23 L1531.16 492.81 L1531.7 490.49 L1533.01 488.45 L1534.79 486.76 L1536.69 485.33 L1538.45 483.94 L1540.03 482.39 L1541.62 480.65 L1543.45 478.91 L1545.71 477.51 L1548.37 476.8 L1551.2 476.96 L1553.91 477.93 L1556.33 479.38 L1558.43 480.96 L1560.4 482.37 L1562.43 483.57 L1564.62 484.69 L1566.86 485.97 L1568.9 487.61 L1570.4 489.63 L1571.22 491.92 L1571.39 494.26 L1571.17 496.54 L1570.86 498.72 Z" fill="url(#tg0)" />
<ellipse cx="1550.85" cy="490.55" rx="3.89" ry="2.73" fill="#5e1a22" opacity="0.5"/>
<ellipse cx="1549.81" cy="504.38" rx="3.35" ry="4.25" fill="#e0b0a8" opacity="0.5"/>
<ellipse cx="1557.94" cy="492.51" rx="3.14" ry="2.75" fill="#e0b0a8" opacity="0.5"/>
<ellipse cx="1558.95" cy="498.35" rx="2.54" ry="2.11" fill="#e0b0a8" opacity="0.5"/>
<ellipse cx="1550.74" cy="487.42" rx="5.36" ry="2.73" fill="#d8a098" opacity="0.5"/>
</g>
<path d="M1632.51 507.75 L1632.5 510.18 L1632.11 512.67 L1631.17 515.06 L1629.58 517.13 L1627.39 518.69 L1624.76 519.64 L1621.91 519.99 L1619.04 519.86 L1616.27 519.43 L1613.63 518.88 L1611.06 518.3 L1608.49 517.71 L1605.87 517.01 L1603.22 516.07 L1600.66 514.78 L1598.37 513.06 L1596.51 510.96 L1595.2 508.57 L1594.46 506.06 L1594.21 503.54 L1594.32 501.11 L1594.64 498.79 L1595.12 496.55 L1595.72 494.37 L1596.53 492.24 L1597.62 490.2 L1599.05 488.35 L1600.84 486.76 L1602.93 485.49 L1605.23 484.54 L1607.66 483.85 L1610.16 483.34 L1612.73 482.95 L1615.41 482.68 L1618.24 482.6 L1621.18 482.85 L1624.14 483.55 L1626.93 484.81 L1629.35 486.63 L1631.19 488.93 L1632.37 491.51 L1632.9 494.17 L1632.94 496.73 L1632.71 499.1 L1632.46 501.28 L1632.34 503.37 L1632.39 505.49 Z" fill="#b8b8bc" opacity="0.5" filter="url(#soft2)"/>
<g filter="url(#soft)">
<path d="M1631.01 505.25 L1631 507.68 L1630.61 510.17 L1629.67 512.56 L1628.08 514.63 L1625.89 516.19 L1623.26 517.14 L1620.41 517.49 L1617.54 517.36 L1614.77 516.93 L1612.13 516.38 L1609.56 515.8 L1606.99 515.21 L1604.37 514.51 L1601.72 513.57 L1599.16 512.28 L1596.87 510.56 L1595.01 508.46 L1593.7 506.07 L1592.96 503.56 L1592.71 501.04 L1592.82 498.61 L1593.14 496.29 L1593.62 494.05 L1594.22 491.87 L1595.03 489.74 L1596.12 487.7 L1597.55 485.85 L1599.34 484.26 L1601.43 482.99 L1603.73 482.04 L1606.16 481.35 L1608.66 480.84 L1611.23 480.45 L1613.91 480.18 L1616.74 480.1 L1619.68 480.35 L1622.64 481.05 L1625.43 482.31 L1627.85 484.13 L1629.69 486.43 L1630.87 489.01 L1631.4 491.67 L1631.44 494.23 L1631.21 496.6 L1630.96 498.78 L1630.84 500.87 L1630.89 502.99 Z" fill="url(#tg0)" />
<ellipse cx="1604.06" cy="493.4" rx="2.58" ry="2.83" fill="#5e1a22" opacity="0.5"/>
<ellipse cx="1615.57" cy="491.92" rx="5.67" ry="2.19" fill="#7a2028" opacity="0.5"/>
<ellipse cx="1610.61" cy="501.02" rx="5.95" ry="4.05" fill="#d8a098" opacity="0.5"/>
<ellipse cx="1607.74" cy="493.05" rx="5.12" ry="2.88" fill="#5e1a22" opacity="0.5"/>
<ellipse cx="1612.63" cy="491.03" rx="2.91" ry="1.93" fill="#e0b0a8" opacity="0.5"/>
</g>
<path d="M1686.47 495.11 L1686.98 497.62 L1687.36 500.23 L1687.5 502.91 L1687.23 505.57 L1686.5 508.06 L1685.34 510.25 L1683.86 512.11 L1682.23 513.69 L1680.53 515.12 L1678.79 516.51 L1676.95 517.84 L1674.93 518.98 L1672.73 519.69 L1670.4 519.73 L1668.1 519.02 L1665.98 517.61 L1664.14 515.71 L1662.59 513.58 L1661.24 511.43 L1659.99 509.35 L1658.78 507.3 L1657.64 505.17 L1656.67 502.91 L1655.97 500.49 L1655.6 497.98 L1655.55 495.45 L1655.72 492.95 L1656.01 490.44 L1656.41 487.88 L1656.96 485.25 L1657.79 482.64 L1659.02 480.25 L1660.71 478.33 L1662.8 477.09 L1665.12 476.61 L1667.5 476.79 L1669.78 477.41 L1671.91 478.2 L1673.95 479.01 L1675.94 479.82 L1677.92 480.75 L1679.85 481.94 L1681.63 483.53 L1683.14 485.5 L1684.32 487.77 L1685.2 490.18 L1685.89 492.64 Z" fill="#b8b8bc" opacity="0.5" filter="url(#soft2)"/>
<g filter="url(#soft)">
<path d="M1684.97 492.61 L1685.48 495.12 L1685.86 497.73 L1686 500.41 L1685.73 503.07 L1685 505.56 L1683.84 507.75 L1682.36 509.61 L1680.73 511.19 L1679.03 512.62 L1677.29 514.01 L1675.45 515.34 L1673.43 516.48 L1671.23 517.19 L1668.9 517.23 L1666.6 516.52 L1664.48 515.11 L1662.64 513.21 L1661.09 511.08 L1659.74 508.93 L1658.49 506.85 L1657.28 504.8 L1656.14 502.67 L1655.17 500.41 L1654.47 497.99 L1654.1 495.48 L1654.05 492.95 L1654.22 490.45 L1654.51 487.94 L1654.91 485.38 L1655.46 482.75 L1656.29 480.14 L1657.52 477.75 L1659.21 475.83 L1661.3 474.59 L1663.62 474.11 L1666 474.29 L1668.28 474.91 L1670.41 475.7 L1672.45 476.51 L1674.44 477.32 L1676.42 478.25 L1678.35 479.44 L1680.13 481.03 L1681.64 483 L1682.82 485.27 L1683.7 487.68 L1684.39 490.14 Z" fill="url(#tg0)" />
<ellipse cx="1677.24" cy="489.96" rx="2.71" ry="4.56" fill="#7a2028" opacity="0.5"/>
<ellipse cx="1671.27" cy="491.09" rx="4.68" ry="5.03" fill="#5e1a22" opacity="0.5"/>
<ellipse cx="1663.61" cy="494.88" rx="2.78" ry="4.85" fill="#e0b0a8" opacity="0.5"/>
<ellipse cx="1664.87" cy="485.44" rx="3.16" ry="2.8" fill="#d8a098" opacity="0.5"/>
<ellipse cx="1662.31" cy="490.85" rx="2.23" ry="2.46" fill="#5e1a22" opacity="0.5"/>
</g>
<path d="M1389.03 550.6 L1388.81 553.2 L1388.06 555.7 L1386.9 558.04 L1385.44 560.18 L1383.75 562.12 L1381.88 563.86 L1379.84 565.4 L1377.63 566.68 L1375.27 567.68 L1372.78 568.34 L1370.24 568.65 L1367.7 568.64 L1365.2 568.35 L1362.76 567.84 L1360.37 567.14 L1358.03 566.27 L1355.72 565.2 L1353.49 563.88 L1351.42 562.28 L1349.62 560.36 L1348.21 558.15 L1347.3 555.71 L1346.96 553.15 L1347.17 550.6 L1347.84 548.16 L1348.85 545.88 L1350.04 543.76 L1351.31 541.75 L1352.63 539.79 L1354.02 537.81 L1355.59 535.84 L1357.44 533.98 L1359.63 532.39 L1362.16 531.26 L1364.9 530.74 L1367.7 530.88 L1370.37 531.62 L1372.8 532.8 L1374.96 534.22 L1376.9 535.7 L1378.75 537.14 L1380.61 538.53 L1382.52 539.96 L1384.44 541.56 L1386.22 543.43 L1387.68 545.6 L1388.64 548.02 Z" fill="#b8b8bc" opacity="0.5" filter="url(#soft2)"/>
<g filter="url(#soft)">
<path d="M1387.53 548.1 L1387.31 550.7 L1386.56 553.2 L1385.4 555.54 L1383.94 557.68 L1382.25 559.62 L1380.38 561.36 L1378.34 562.9 L1376.13 564.18 L1373.77 565.18 L1371.28 565.84 L1368.74 566.15 L1366.2 566.14 L1363.7 565.85 L1361.26 565.34 L1358.87 564.64 L1356.53 563.77 L1354.22 562.7 L1351.99 561.38 L1349.92 559.78 L1348.12 557.86 L1346.71 555.65 L1345.8 553.21 L1345.46 550.65 L1345.67 548.1 L1346.34 545.66 L1347.35 543.38 L1348.54 541.26 L1349.81 539.25 L1351.13 537.29 L1352.52 535.31 L1354.09 533.34 L1355.94 531.48 L1358.13 529.89 L1360.66 528.76 L1363.4 528.24 L1366.2 528.38 L1368.87 529.12 L1371.3 530.3 L1373.46 531.72 L1375.4 533.2 L1377.25 534.64 L1379.11 536.03 L1381.02 537.46 L1382.94 539.06 L1384.72 540.93 L1386.18 543.1 L1387.14 545.52 Z" fill="url(#tg1)" />
<ellipse cx="1365.21" cy="544.94" rx="4.52" ry="4.46" fill="#5e1a22" opacity="0.5"/>
<ellipse cx="1365.7" cy="545.43" rx="5.87" ry="1.93" fill="#d8a098" opacity="0.5"/>
<ellipse cx="1368.92" cy="547.77" rx="3.55" ry="4.67" fill="#d8a098" opacity="0.5"/>
<ellipse cx="1357.71" cy="548.96" rx="5.64" ry="3.94" fill="#e0b0a8" opacity="0.5"/>
<ellipse cx="1370.27" cy="553.58" rx="3.67" ry="3.79" fill="#d8a098" opacity="0.5"/>
</g>
<path d="M1455.22 559.29 L1454.3 561.84 L1452.39 563.93 L1449.87 565.53 L1447.25 566.8 L1444.81 568.05 L1442.58 569.51 L1440.33 571.17 L1437.75 572.77 L1434.72 573.9 L1431.32 574.17 L1427.87 573.44 L1424.7 571.9 L1421.97 569.93 L1419.58 567.94 L1417.27 566.19 L1414.77 564.67 L1412.05 563.15 L1409.33 561.35 L1407.06 559.14 L1405.63 556.56 L1405.22 553.84 L1405.65 551.21 L1406.52 548.77 L1407.4 546.47 L1408.06 544.14 L1408.58 541.66 L1409.32 539.08 L1410.66 536.64 L1412.82 534.68 L1415.73 533.49 L1419.06 533.1 L1422.45 533.28 L1425.66 533.67 L1428.68 533.92 L1431.7 533.93 L1434.89 533.86 L1438.29 534.07 L1441.65 534.91 L1444.63 536.53 L1446.91 538.82 L1448.4 541.47 L1449.34 544.13 L1450.13 546.62 L1451.16 548.94 L1452.51 551.27 L1453.96 553.78 L1455.03 556.51 Z" fill="#b8b8bc" opacity="0.5" filter="url(#soft2)"/>
<g filter="url(#soft)">
<path d="M1453.72 556.79 L1452.8 559.34 L1450.89 561.43 L1448.37 563.03 L1445.75 564.3 L1443.31 565.55 L1441.08 567.01 L1438.83 568.67 L1436.25 570.27 L1433.22 571.4 L1429.82 571.67 L1426.37 570.94 L1423.2 569.4 L1420.47 567.43 L1418.08 565.44 L1415.77 563.69 L1413.27 562.17 L1410.55 560.65 L1407.83 558.85 L1405.56 556.64 L1404.13 554.06 L1403.72 551.34 L1404.15 548.71 L1405.02 546.27 L1405.9 543.97 L1406.56 541.64 L1407.08 539.16 L1407.82 536.58 L1409.16 534.14 L1411.32 532.18 L1414.23 530.99 L1417.56 530.6 L1420.95 530.78 L1424.16 531.17 L1427.18 531.42 L1430.2 531.43 L1433.39 531.36 L1436.79 531.57 L1440.15 532.41 L1443.13 534.03 L1445.41 536.32 L1446.9 538.97 L1447.84 541.63 L1448.63 544.12 L1449.66 546.44 L1451.01 548.77 L1452.46 551.28 L1453.53 554.01 Z" fill="url(#tg1)" />
<ellipse cx="1438.3" cy="557.24" rx="7.16" ry="2.04" fill="#7a2028" opacity="0.5"/>
<ellipse cx="1428.4" cy="540.53" rx="4.65" ry="1.99" fill="#7a2028" opacity="0.5"/>
<ellipse cx="1417.83" cy="542.02" rx="7.38" ry="4.52" fill="#e0b0a8" opacity="0.5"/>
<ellipse cx="1434.04" cy="547.82" rx="4.92" ry="4.4" fill="#7a2028" opacity="0.5"/>
<ellipse cx="1418.12" cy="554.88" rx="4.34" ry="2.21" fill="#e0b0a8" opacity="0.5"/>
</g>
<path d="M1514.62 579.41 L1513.56 581.33 L1511.7 582.57 L1509.16 582.99 L1506.28 582.72 L1503.38 582.07 L1500.66 581.39 L1498.08 580.89 L1495.5 580.55 L1492.75 580.12 L1489.83 579.29 L1486.9 577.86 L1484.22 575.82 L1481.97 573.4 L1480.17 570.85 L1478.61 568.37 L1477.02 566 L1475.2 563.61 L1473.22 561.04 L1471.39 558.26 L1470.16 555.41 L1469.87 552.76 L1470.64 550.58 L1472.25 548.99 L1474.3 547.91 L1476.39 547.07 L1478.3 546.21 L1480.07 545.21 L1481.91 544.17 L1484.06 543.41 L1486.62 543.23 L1489.48 543.83 L1492.42 545.13 L1495.22 546.87 L1497.81 548.71 L1500.29 550.41 L1502.86 551.96 L1505.64 553.53 L1508.54 555.36 L1511.3 557.6 L1513.52 560.19 L1514.94 562.96 L1515.51 565.64 L1515.48 568.08 L1515.2 570.31 L1515.01 572.48 L1515 574.74 L1514.99 577.1 Z" fill="#b8b8bc" opacity="0.5" filter="url(#soft2)"/>
<g filter="url(#soft)">
<path d="M1513.12 576.91 L1512.06 578.83 L1510.2 580.07 L1507.66 580.49 L1504.78 580.22 L1501.88 579.57 L1499.16 578.89 L1496.58 578.39 L1494 578.05 L1491.25 577.62 L1488.33 576.79 L1485.4 575.36 L1482.72 573.32 L1480.47 570.9 L1478.67 568.35 L1477.11 565.87 L1475.52 563.5 L1473.7 561.11 L1471.72 558.54 L1469.89 555.76 L1468.66 552.91 L1468.37 550.26 L1469.14 548.08 L1470.75 546.49 L1472.8 545.41 L1474.89 544.57 L1476.8 543.71 L1478.57 542.71 L1480.41 541.67 L1482.56 540.91 L1485.12 540.73 L1487.98 541.33 L1490.92 542.63 L1493.72 544.37 L1496.31 546.21 L1498.79 547.91 L1501.36 549.46 L1504.14 551.03 L1507.04 552.86 L1509.8 555.1 L1512.02 557.69 L1513.44 560.46 L1514.01 563.14 L1513.98 565.58 L1513.7 567.81 L1513.51 569.98 L1513.5 572.24 L1513.49 574.6 Z" fill="url(#tg1)" />
<ellipse cx="1480.56" cy="567.89" rx="5.24" ry="2.98" fill="#e0b0a8" opacity="0.5"/>
<ellipse cx="1503.01" cy="557.02" rx="4.66" ry="1.88" fill="#e0b0a8" opacity="0.5"/>
<ellipse cx="1495.29" cy="561.09" rx="5.97" ry="2.58" fill="#d8a098" opacity="0.5"/>
<ellipse cx="1502.29" cy="558.12" rx="3.89" ry="2.55" fill="#d8a098" opacity="0.5"/>
<ellipse cx="1500.15" cy="567.22" rx="4.73" ry="2.91" fill="#5e1a22" opacity="0.5"/>
</g>
<path d="M1572.84 547.32 L1574.67 549.68 L1575.98 552.34 L1576.68 555.13 L1576.79 557.87 L1576.49 560.43 L1575.95 562.78 L1575.3 564.98 L1574.58 567.08 L1573.74 569.08 L1572.7 570.94 L1571.43 572.64 L1569.95 574.14 L1568.31 575.51 L1566.51 576.8 L1564.52 578.01 L1562.27 579 L1559.75 579.56 L1557.02 579.41 L1554.3 578.38 L1551.81 576.48 L1549.79 573.96 L1548.25 571.19 L1547.06 568.53 L1545.92 566.17 L1544.58 564.06 L1542.92 561.99 L1541.08 559.72 L1539.44 557.13 L1538.4 554.3 L1538.26 551.5 L1539.07 549.04 L1540.58 547.08 L1542.4 545.58 L1544.16 544.3 L1545.67 542.94 L1546.98 541.33 L1548.3 539.51 L1549.9 537.76 L1551.92 536.46 L1554.32 535.93 L1556.91 536.27 L1559.47 537.34 L1561.88 538.85 L1564.12 540.48 L1566.28 542.07 L1568.47 543.64 L1570.7 545.33 Z" fill="#b8b8bc" opacity="0.5" filter="url(#soft2)"/>
<g filter="url(#soft)">
<path d="M1571.34 544.82 L1573.17 547.18 L1574.48 549.84 L1575.18 552.63 L1575.29 555.37 L1574.99 557.93 L1574.45 560.28 L1573.8 562.48 L1573.08 564.58 L1572.24 566.58 L1571.2 568.44 L1569.93 570.14 L1568.45 571.64 L1566.81 573.01 L1565.01 574.3 L1563.02 575.51 L1560.77 576.5 L1558.25 577.06 L1555.52 576.91 L1552.8 575.88 L1550.31 573.98 L1548.29 571.46 L1546.75 568.69 L1545.56 566.03 L1544.42 563.67 L1543.08 561.56 L1541.42 559.49 L1539.58 557.22 L1537.94 554.63 L1536.9 551.8 L1536.76 549 L1537.57 546.54 L1539.08 544.58 L1540.9 543.08 L1542.66 541.8 L1544.17 540.44 L1545.48 538.83 L1546.8 537.01 L1548.4 535.26 L1550.42 533.96 L1552.82 533.43 L1555.41 533.77 L1557.97 534.84 L1560.38 536.35 L1562.62 537.98 L1564.78 539.57 L1566.97 541.14 L1569.2 542.83 Z" fill="url(#tg1)" />
<ellipse cx="1553.68" cy="547.18" rx="3.11" ry="5.04" fill="#7a2028" opacity="0.5"/>
<ellipse cx="1548.99" cy="545.63" rx="4.55" ry="2.51" fill="#d8a098" opacity="0.5"/>
<ellipse cx="1556.31" cy="564.15" rx="3.21" ry="3.83" fill="#7a2028" opacity="0.5"/>
<ellipse cx="1559.73" cy="559.65" rx="3.02" ry="4.82" fill="#7a2028" opacity="0.5"/>
<ellipse cx="1553.03" cy="557.31" rx="3.79" ry="3.15" fill="#d8a098" opacity="0.5"/>
</g>
<path d="M1632.85 565.38 L1632.58 568.29 L1632.26 570.93 L1632.02 573.44 L1631.91 575.96 L1631.82 578.6 L1631.63 581.34 L1631.18 584.04 L1630.37 586.52 L1629.19 588.6 L1627.69 590.16 L1625.96 591.2 L1624.09 591.77 L1622.14 591.94 L1620.14 591.73 L1618.13 591.13 L1616.13 590.11 L1614.22 588.62 L1612.45 586.7 L1610.88 584.42 L1609.52 581.91 L1608.37 579.28 L1607.38 576.6 L1606.5 573.9 L1605.71 571.14 L1605.04 568.31 L1604.54 565.39 L1604.27 562.41 L1604.3 559.45 L1604.67 556.62 L1605.38 554.03 L1606.42 551.78 L1607.75 549.96 L1609.31 548.61 L1611.01 547.72 L1612.79 547.25 L1614.59 547.09 L1616.38 547.11 L1618.16 547.21 L1619.99 547.35 L1621.92 547.57 L1623.97 548.03 L1626.09 548.95 L1628.18 550.5 L1630.05 552.74 L1631.51 555.59 L1632.46 558.84 L1632.87 562.18 Z" fill="#b8b8bc" opacity="0.5" filter="url(#soft2)"/>
<g filter="url(#soft)">
<path d="M1631.35 562.88 L1631.08 565.79 L1630.76 568.43 L1630.52 570.94 L1630.41 573.46 L1630.32 576.1 L1630.13 578.84 L1629.68 581.54 L1628.87 584.02 L1627.69 586.1 L1626.19 587.66 L1624.46 588.7 L1622.59 589.27 L1620.64 589.44 L1618.64 589.23 L1616.63 588.63 L1614.63 587.61 L1612.72 586.12 L1610.95 584.2 L1609.38 581.92 L1608.02 579.41 L1606.87 576.78 L1605.88 574.1 L1605 571.4 L1604.21 568.64 L1603.54 565.81 L1603.04 562.89 L1602.77 559.91 L1602.8 556.95 L1603.17 554.12 L1603.88 551.53 L1604.92 549.28 L1606.25 547.46 L1607.81 546.11 L1609.51 545.22 L1611.29 544.75 L1613.09 544.59 L1614.88 544.61 L1616.66 544.71 L1618.49 544.85 L1620.42 545.07 L1622.47 545.53 L1624.59 546.45 L1626.68 548 L1628.55 550.24 L1630.01 553.09 L1630.96 556.34 L1631.37 559.68 Z" fill="url(#tg1)" />
<ellipse cx="1621.77" cy="554.74" rx="2.76" ry="2.96" fill="#5e1a22" opacity="0.5"/>
<ellipse cx="1621.45" cy="560.43" rx="3.77" ry="5.69" fill="#5e1a22" opacity="0.5"/>
<ellipse cx="1612.1" cy="556.81" rx="4.18" ry="4.66" fill="#d8a098" opacity="0.5"/>
<ellipse cx="1613.3" cy="565.23" rx="3.55" ry="4.9" fill="#5e1a22" opacity="0.5"/>
<ellipse cx="1618.1" cy="555.13" rx="2.42" ry="3.49" fill="#5e1a22" opacity="0.5"/>
</g>
<path d="M1695.26 569.52 L1694.41 572.09 L1693.19 574.55 L1691.55 576.78 L1689.49 578.63 L1687.09 580.01 L1684.5 580.93 L1681.85 581.45 L1679.24 581.75 L1676.65 581.94 L1674.05 582.09 L1671.36 582.15 L1668.58 581.97 L1665.77 581.39 L1663.07 580.3 L1660.65 578.66 L1658.61 576.56 L1657.02 574.12 L1655.86 571.48 L1655.08 568.74 L1654.67 565.97 L1654.62 563.21 L1654.97 560.51 L1655.73 557.93 L1656.87 555.55 L1658.29 553.38 L1659.88 551.41 L1661.53 549.55 L1663.22 547.71 L1664.98 545.83 L1666.94 543.97 L1669.2 542.27 L1671.78 540.95 L1674.62 540.21 L1677.57 540.15 L1680.45 540.78 L1683.14 541.97 L1685.57 543.53 L1687.75 545.32 L1689.73 547.24 L1691.53 549.28 L1693.13 551.47 L1694.45 553.82 L1695.43 556.33 L1696.02 558.95 L1696.25 561.61 L1696.17 564.26 L1695.83 566.9 Z" fill="#b8b8bc" opacity="0.5" filter="url(#soft2)"/>
<g filter="url(#soft)">
<path d="M1693.76 567.02 L1692.91 569.59 L1691.69 572.05 L1690.05 574.28 L1687.99 576.13 L1685.59 577.51 L1683 578.43 L1680.35 578.95 L1677.74 579.25 L1675.15 579.44 L1672.55 579.59 L1669.86 579.65 L1667.08 579.47 L1664.27 578.89 L1661.57 577.8 L1659.15 576.16 L1657.11 574.06 L1655.52 571.62 L1654.36 568.98 L1653.58 566.24 L1653.17 563.47 L1653.12 560.71 L1653.47 558.01 L1654.23 555.43 L1655.37 553.05 L1656.79 550.88 L1658.38 548.91 L1660.03 547.05 L1661.72 545.21 L1663.48 543.33 L1665.44 541.47 L1667.7 539.77 L1670.28 538.45 L1673.12 537.71 L1676.07 537.65 L1678.95 538.28 L1681.64 539.47 L1684.07 541.03 L1686.25 542.82 L1688.23 544.74 L1690.03 546.78 L1691.63 548.97 L1692.95 551.32 L1693.93 553.83 L1694.52 556.45 L1694.75 559.11 L1694.67 561.76 L1694.33 564.4 Z" fill="url(#tg1)" />
<ellipse cx="1678.34" cy="560.32" rx="4.01" ry="4.53" fill="#5e1a22" opacity="0.5"/>
<ellipse cx="1682.73" cy="551.36" rx="3.01" ry="3.48" fill="#7a2028" opacity="0.5"/>
<ellipse cx="1676.84" cy="568.39" rx="4.6" ry="4.1" fill="#7a2028" opacity="0.5"/>
<ellipse cx="1674.26" cy="566.51" rx="4.27" ry="4.09" fill="#d8a098" opacity="0.5"/>
<ellipse cx="1668" cy="564.49" rx="3.33" ry="4.86" fill="#e0b0a8" opacity="0.5"/>
</g>
<path d="M1386.68 616.08 L1386.35 617.83 L1385.64 619.49 L1384.57 621.04 L1383.18 622.45 L1381.51 623.71 L1379.57 624.81 L1377.39 625.71 L1374.95 626.35 L1372.32 626.67 L1369.56 626.64 L1366.79 626.24 L1364.1 625.54 L1361.57 624.61 L1359.19 623.54 L1356.94 622.39 L1354.78 621.17 L1352.68 619.85 L1350.69 618.41 L1348.89 616.8 L1347.41 615.04 L1346.35 613.15 L1345.77 611.22 L1345.72 609.3 L1346.15 607.47 L1347 605.78 L1348.22 604.25 L1349.73 602.92 L1351.46 601.77 L1353.37 600.8 L1355.39 599.98 L1357.5 599.26 L1359.7 598.64 L1362.03 598.1 L1364.53 597.68 L1367.22 597.46 L1370.05 597.54 L1372.94 598.01 L1375.72 598.9 L1378.24 600.17 L1380.37 601.76 L1382.07 603.53 L1383.37 605.37 L1384.36 607.2 L1385.16 608.99 L1385.82 610.76 L1386.34 612.52 L1386.66 614.3 Z" fill="#b8b8bc" opacity="0.5" filter="url(#soft2)"/>
<g filter="url(#soft)">
<path d="M1385.18 613.58 L1384.85 615.33 L1384.14 616.99 L1383.07 618.54 L1381.68 619.95 L1380.01 621.21 L1378.07 622.31 L1375.89 623.21 L1373.45 623.85 L1370.82 624.17 L1368.06 624.14 L1365.29 623.74 L1362.6 623.04 L1360.07 622.11 L1357.69 621.04 L1355.44 619.89 L1353.28 618.67 L1351.18 617.35 L1349.19 615.91 L1347.39 614.3 L1345.91 612.54 L1344.85 610.65 L1344.27 608.72 L1344.22 606.8 L1344.65 604.97 L1345.5 603.28 L1346.72 601.75 L1348.23 600.42 L1349.96 599.27 L1351.87 598.3 L1353.89 597.48 L1356 596.76 L1358.2 596.14 L1360.53 595.6 L1363.03 595.18 L1365.72 594.96 L1368.55 595.04 L1371.44 595.51 L1374.22 596.4 L1376.74 597.67 L1378.87 599.26 L1380.57 601.03 L1381.87 602.87 L1382.86 604.7 L1383.66 606.49 L1384.32 608.26 L1384.84 610.02 L1385.16 611.8 Z" fill="url(#tg2)" />
<ellipse cx="1375.49" cy="616.04" rx="3.48" ry="2.89" fill="#d8a098" opacity="0.5"/>
<ellipse cx="1355.43" cy="609.47" rx="4.15" ry="2.54" fill="#e0b0a8" opacity="0.5"/>
<ellipse cx="1371.08" cy="609.23" rx="3.31" ry="3.2" fill="#e0b0a8" opacity="0.5"/>
<ellipse cx="1364.02" cy="602.94" rx="5.07" ry="3.3" fill="#d8a098" opacity="0.5"/>
<ellipse cx="1364.89" cy="616.35" rx="6.04" ry="2.42" fill="#7a2028" opacity="0.5"/>
</g>
<path d="M1445.5 603.94 L1446.47 606.42 L1447.47 608.98 L1448.4 611.7 L1449.02 614.58 L1449.1 617.47 L1448.48 620.13 L1447.2 622.37 L1445.47 624.09 L1443.56 625.4 L1441.68 626.53 L1439.89 627.66 L1438.13 628.87 L1436.25 630.04 L1434.16 630.9 L1431.87 631.19 L1429.51 630.78 L1427.2 629.74 L1425.05 628.3 L1423.02 626.7 L1421.03 625.09 L1418.99 623.45 L1416.93 621.61 L1415.05 619.42 L1413.61 616.82 L1412.84 613.96 L1412.83 611.06 L1413.42 608.38 L1414.29 605.99 L1415.1 603.82 L1415.62 601.61 L1415.87 599.17 L1416.11 596.45 L1416.64 593.66 L1417.75 591.14 L1419.49 589.3 L1421.75 588.34 L1424.26 588.26 L1426.79 588.78 L1429.18 589.58 L1431.44 590.39 L1433.65 591.15 L1435.87 591.98 L1438.07 593.09 L1440.14 594.64 L1441.94 596.64 L1443.38 598.97 L1444.53 601.45 Z" fill="#b8b8bc" opacity="0.5" filter="url(#soft2)"/>
<g filter="url(#soft)">
<path d="M1444 601.44 L1444.97 603.92 L1445.97 606.48 L1446.9 609.2 L1447.52 612.08 L1447.6 614.97 L1446.98 617.63 L1445.7 619.87 L1443.97 621.59 L1442.06 622.9 L1440.18 624.03 L1438.39 625.16 L1436.63 626.37 L1434.75 627.54 L1432.66 628.4 L1430.37 628.69 L1428.01 628.28 L1425.7 627.24 L1423.55 625.8 L1421.52 624.2 L1419.53 622.59 L1417.49 620.95 L1415.43 619.11 L1413.55 616.92 L1412.11 614.32 L1411.34 611.46 L1411.33 608.56 L1411.92 605.88 L1412.79 603.49 L1413.6 601.32 L1414.12 599.11 L1414.37 596.67 L1414.61 593.95 L1415.14 591.16 L1416.25 588.64 L1417.99 586.8 L1420.25 585.84 L1422.76 585.76 L1425.29 586.28 L1427.68 587.08 L1429.94 587.89 L1432.15 588.65 L1434.37 589.48 L1436.57 590.59 L1438.64 592.14 L1440.44 594.14 L1441.88 596.47 L1443.03 598.95 Z" fill="url(#tg2)" />
<ellipse cx="1436.64" cy="598.68" rx="3.38" ry="3.92" fill="#5e1a22" opacity="0.5"/>
<ellipse cx="1434.63" cy="608.81" rx="3.64" ry="4.83" fill="#5e1a22" opacity="0.5"/>
<ellipse cx="1430.02" cy="603.49" rx="4.96" ry="4.91" fill="#7a2028" opacity="0.5"/>
<ellipse cx="1430.86" cy="603.33" rx="5" ry="3.8" fill="#5e1a22" opacity="0.5"/>
<ellipse cx="1430.24" cy="601.13" rx="3.58" ry="4.06" fill="#e0b0a8" opacity="0.5"/>
</g>
<path d="M1509.11 618.97 L1509.12 621.07 L1508.85 623.26 L1508.04 625.34 L1506.57 627.03 L1504.47 628.05 L1501.96 628.29 L1499.39 627.83 L1497.03 627.02 L1494.99 626.25 L1493.14 625.84 L1491.27 625.87 L1489.16 626.14 L1486.8 626.28 L1484.39 625.89 L1482.3 624.79 L1480.85 623.03 L1480.19 620.89 L1480.16 618.71 L1480.39 616.73 L1480.48 615 L1480.16 613.39 L1479.45 611.7 L1478.63 609.78 L1478.1 607.69 L1478.2 605.59 L1479.05 603.74 L1480.54 602.29 L1482.41 601.24 L1484.39 600.47 L1486.33 599.78 L1488.25 599.07 L1490.24 598.38 L1492.37 597.86 L1494.62 597.76 L1496.88 598.2 L1498.97 599.2 L1500.75 600.62 L1502.2 602.24 L1503.42 603.87 L1504.52 605.42 L1505.59 606.91 L1506.6 608.42 L1507.49 610 L1508.16 611.67 L1508.59 613.41 L1508.83 615.18 L1508.99 617.02 Z" fill="#b8b8bc" opacity="0.5" filter="url(#soft2)"/>
<g filter="url(#soft)">
<path d="M1507.61 616.47 L1507.62 618.57 L1507.35 620.76 L1506.54 622.84 L1505.07 624.53 L1502.97 625.55 L1500.46 625.79 L1497.89 625.33 L1495.53 624.52 L1493.49 623.75 L1491.64 623.34 L1489.77 623.37 L1487.66 623.64 L1485.3 623.78 L1482.89 623.39 L1480.8 622.29 L1479.35 620.53 L1478.69 618.39 L1478.66 616.21 L1478.89 614.23 L1478.98 612.5 L1478.66 610.89 L1477.95 609.2 L1477.13 607.28 L1476.6 605.19 L1476.7 603.09 L1477.55 601.24 L1479.04 599.79 L1480.91 598.74 L1482.89 597.97 L1484.83 597.28 L1486.75 596.57 L1488.74 595.88 L1490.87 595.36 L1493.12 595.26 L1495.38 595.7 L1497.47 596.7 L1499.25 598.12 L1500.7 599.74 L1501.92 601.37 L1503.02 602.92 L1504.09 604.41 L1505.1 605.92 L1505.99 607.5 L1506.66 609.17 L1507.09 610.91 L1507.33 612.68 L1507.49 614.52 Z" fill="url(#tg2)" />
<ellipse cx="1484.6" cy="617.61" rx="3.55" ry="3.55" fill="#7a2028" opacity="0.5"/>
<ellipse cx="1486.14" cy="605.08" rx="2.15" ry="2.59" fill="#5e1a22" opacity="0.5"/>
<ellipse cx="1490.89" cy="617.43" rx="2.75" ry="2.44" fill="#7a2028" opacity="0.5"/>
<ellipse cx="1486.22" cy="609.95" rx="3.5" ry="1.66" fill="#7a2028" opacity="0.5"/>
<ellipse cx="1490.99" cy="604.17" rx="2.34" ry="3.1" fill="#d8a098" opacity="0.5"/>
</g>
<path d="M1578.38 629.25 L1576.67 630.55 L1575.02 631.78 L1573.37 632.99 L1571.63 634.15 L1569.71 635.14 L1567.59 635.8 L1565.31 636.04 L1562.98 635.85 L1560.69 635.27 L1558.47 634.43 L1556.33 633.41 L1554.25 632.26 L1552.21 630.95 L1550.27 629.42 L1548.53 627.63 L1547.11 625.59 L1546.12 623.35 L1545.58 621.03 L1545.46 618.71 L1545.68 616.46 L1546.15 614.31 L1546.81 612.27 L1547.65 610.31 L1548.7 608.47 L1549.98 606.77 L1551.51 605.26 L1553.26 603.98 L1555.21 602.95 L1557.32 602.19 L1559.55 601.72 L1561.87 601.56 L1564.22 601.75 L1566.55 602.32 L1568.77 603.26 L1570.81 604.5 L1572.66 605.96 L1574.36 607.52 L1575.98 609.13 L1577.61 610.78 L1579.24 612.55 L1580.8 614.52 L1582.1 616.72 L1582.94 619.11 L1583.14 621.56 L1582.65 623.91 L1581.56 626 L1580.07 627.77 Z" fill="#b8b8bc" opacity="0.5" filter="url(#soft2)"/>
<g filter="url(#soft)">
<path d="M1576.88 626.75 L1575.17 628.05 L1573.52 629.28 L1571.87 630.49 L1570.13 631.65 L1568.21 632.64 L1566.09 633.3 L1563.81 633.54 L1561.48 633.35 L1559.19 632.77 L1556.97 631.93 L1554.83 630.91 L1552.75 629.76 L1550.71 628.45 L1548.77 626.92 L1547.03 625.13 L1545.61 623.09 L1544.62 620.85 L1544.08 618.53 L1543.96 616.21 L1544.18 613.96 L1544.65 611.81 L1545.31 609.77 L1546.15 607.81 L1547.2 605.97 L1548.48 604.27 L1550.01 602.76 L1551.76 601.48 L1553.71 600.45 L1555.82 599.69 L1558.05 599.22 L1560.37 599.06 L1562.72 599.25 L1565.05 599.82 L1567.27 600.76 L1569.31 602 L1571.16 603.46 L1572.86 605.02 L1574.48 606.63 L1576.11 608.28 L1577.74 610.05 L1579.3 612.02 L1580.6 614.22 L1581.44 616.61 L1581.64 619.06 L1581.15 621.41 L1580.06 623.5 L1578.57 625.27 Z" fill="url(#tg2)" />
<ellipse cx="1553.27" cy="611.35" rx="2.26" ry="2.35" fill="#5e1a22" opacity="0.5"/>
<ellipse cx="1566.24" cy="612.18" rx="2.57" ry="3.46" fill="#7a2028" opacity="0.5"/>
<ellipse cx="1555.12" cy="616.57" rx="4.61" ry="3.39" fill="#d8a098" opacity="0.5"/>
<ellipse cx="1569.11" cy="608.53" rx="4.97" ry="3.17" fill="#7a2028" opacity="0.5"/>
<ellipse cx="1562.81" cy="622.4" rx="3.98" ry="3.76" fill="#5e1a22" opacity="0.5"/>
</g>
<path d="M1640.74 622.1 L1640.73 623.83 L1640.27 625.51 L1639.39 627.08 L1638.21 628.48 L1636.86 629.75 L1635.46 630.93 L1634.02 632.08 L1632.49 633.2 L1630.77 634.21 L1628.85 635 L1626.76 635.45 L1624.6 635.56 L1622.45 635.35 L1620.36 634.94 L1618.32 634.42 L1616.29 633.79 L1614.32 632.99 L1612.51 631.93 L1611.08 630.53 L1610.22 628.85 L1610.02 627.01 L1610.37 625.2 L1610.98 623.56 L1611.49 622.1 L1611.61 620.71 L1611.29 619.2 L1610.73 617.43 L1610.32 615.4 L1610.46 613.28 L1611.39 611.36 L1613.12 609.94 L1615.41 609.17 L1617.93 609.02 L1620.38 609.29 L1622.59 609.69 L1624.6 610 L1626.54 610.15 L1628.52 610.22 L1630.57 610.4 L1632.59 610.85 L1634.45 611.67 L1636.01 612.83 L1637.25 614.21 L1638.23 615.7 L1639.06 617.23 L1639.78 618.79 L1640.38 620.41 Z" fill="#b8b8bc" opacity="0.5" filter="url(#soft2)"/>
<g filter="url(#soft)">
<path d="M1639.24 619.6 L1639.23 621.33 L1638.77 623.01 L1637.89 624.58 L1636.71 625.98 L1635.36 627.25 L1633.96 628.43 L1632.52 629.58 L1630.99 630.7 L1629.27 631.71 L1627.35 632.5 L1625.26 632.95 L1623.1 633.06 L1620.95 632.85 L1618.86 632.44 L1616.82 631.92 L1614.79 631.29 L1612.82 630.49 L1611.01 629.43 L1609.58 628.03 L1608.72 626.35 L1608.52 624.51 L1608.87 622.7 L1609.48 621.06 L1609.99 619.6 L1610.11 618.21 L1609.79 616.7 L1609.23 614.93 L1608.82 612.9 L1608.96 610.78 L1609.89 608.86 L1611.62 607.44 L1613.91 606.67 L1616.43 606.52 L1618.88 606.79 L1621.09 607.19 L1623.1 607.5 L1625.04 607.65 L1627.02 607.72 L1629.07 607.9 L1631.09 608.35 L1632.95 609.17 L1634.51 610.33 L1635.75 611.71 L1636.73 613.2 L1637.56 614.73 L1638.28 616.29 L1638.88 617.91 Z" fill="url(#tg2)" />
<ellipse cx="1624.89" cy="624.24" rx="4.55" ry="2.52" fill="#5e1a22" opacity="0.5"/>
<ellipse cx="1620.66" cy="615.45" rx="4.49" ry="1.68" fill="#d8a098" opacity="0.5"/>
<ellipse cx="1627.55" cy="615.63" rx="2.31" ry="1.77" fill="#e0b0a8" opacity="0.5"/>
<ellipse cx="1626.73" cy="616.47" rx="3.17" ry="3.14" fill="#e0b0a8" opacity="0.5"/>
<ellipse cx="1623.79" cy="622.26" rx="3.08" ry="2.64" fill="#5e1a22" opacity="0.5"/>
</g>
<path d="M1695.49 624.68 L1694.32 626.13 L1693.06 627.41 L1691.86 628.63 L1690.73 629.89 L1689.58 631.19 L1688.24 632.46 L1686.63 633.51 L1684.73 634.18 L1682.65 634.39 L1680.53 634.17 L1678.49 633.65 L1676.55 632.99 L1674.68 632.3 L1672.79 631.59 L1670.88 630.8 L1669 629.82 L1667.31 628.57 L1665.94 627.04 L1665.01 625.3 L1664.54 623.46 L1664.43 621.64 L1664.57 619.89 L1664.86 618.2 L1665.25 616.58 L1665.79 614.99 L1666.51 613.47 L1667.48 612.06 L1668.69 610.79 L1670.1 609.67 L1671.66 608.7 L1673.35 607.83 L1675.17 607.09 L1677.13 606.53 L1679.24 606.26 L1681.41 606.4 L1683.52 606.98 L1685.44 607.98 L1687.1 609.26 L1688.53 610.65 L1689.82 612.01 L1691.13 613.3 L1692.53 614.58 L1693.98 615.96 L1695.29 617.53 L1696.23 619.29 L1696.6 621.17 L1696.32 623.01 Z" fill="#b8b8bc" opacity="0.5" filter="url(#soft2)"/>
<g filter="url(#soft)">
<path d="M1693.99 622.18 L1692.82 623.63 L1691.56 624.91 L1690.36 626.13 L1689.23 627.39 L1688.08 628.69 L1686.74 629.96 L1685.13 631.01 L1683.23 631.68 L1681.15 631.89 L1679.03 631.67 L1676.99 631.15 L1675.05 630.49 L1673.18 629.8 L1671.29 629.09 L1669.38 628.3 L1667.5 627.32 L1665.81 626.07 L1664.44 624.54 L1663.51 622.8 L1663.04 620.96 L1662.93 619.14 L1663.07 617.39 L1663.36 615.7 L1663.75 614.08 L1664.29 612.49 L1665.01 610.97 L1665.98 609.56 L1667.19 608.29 L1668.6 607.17 L1670.16 606.2 L1671.85 605.33 L1673.67 604.59 L1675.63 604.03 L1677.74 603.76 L1679.91 603.9 L1682.02 604.48 L1683.94 605.48 L1685.6 606.76 L1687.03 608.15 L1688.32 609.51 L1689.63 610.8 L1691.03 612.08 L1692.48 613.46 L1693.79 615.03 L1694.73 616.79 L1695.1 618.67 L1694.82 620.51 Z" fill="url(#tg2)" />
<ellipse cx="1670.78" cy="614.02" rx="4.49" ry="3.26" fill="#d8a098" opacity="0.5"/>
<ellipse cx="1672.32" cy="618.08" rx="3.33" ry="2.7" fill="#d8a098" opacity="0.5"/>
<ellipse cx="1673.49" cy="612.29" rx="1.97" ry="2.85" fill="#e0b0a8" opacity="0.5"/>
<ellipse cx="1680.19" cy="623.39" rx="2.31" ry="1.7" fill="#7a2028" opacity="0.5"/>
<ellipse cx="1673.72" cy="622.52" rx="4.53" ry="1.52" fill="#d8a098" opacity="0.5"/>
</g>
<path d="M1379.79 674.5 L1379.79 676.46 L1379.44 678.39 L1378.76 680.23 L1377.81 681.93 L1376.7 683.52 L1375.49 685.03 L1374.2 686.51 L1372.77 687.95 L1371.14 689.28 L1369.3 690.38 L1367.26 691.1 L1365.1 691.35 L1362.94 691.11 L1360.89 690.41 L1359.02 689.37 L1357.37 688.07 L1355.94 686.6 L1354.72 685.02 L1353.71 683.36 L1352.88 681.65 L1352.22 679.91 L1351.68 678.14 L1351.22 676.35 L1350.82 674.5 L1350.52 672.56 L1350.42 670.51 L1350.61 668.42 L1351.22 666.38 L1352.29 664.54 L1353.76 663.01 L1355.53 661.86 L1357.44 661.05 L1359.37 660.48 L1361.27 660 L1363.16 659.55 L1365.1 659.14 L1367.13 658.88 L1369.22 658.92 L1371.27 659.4 L1373.15 660.37 L1374.75 661.76 L1376.01 663.45 L1376.98 665.27 L1377.75 667.1 L1378.41 668.91 L1379 670.73 L1379.5 672.58 Z" fill="#b8b8bc" opacity="0.5" filter="url(#soft2)"/>
<g filter="url(#soft)">
<path d="M1378.29 672 L1378.29 673.96 L1377.94 675.89 L1377.26 677.73 L1376.31 679.43 L1375.2 681.02 L1373.99 682.53 L1372.7 684.01 L1371.27 685.45 L1369.64 686.78 L1367.8 687.88 L1365.76 688.6 L1363.6 688.85 L1361.44 688.61 L1359.39 687.91 L1357.52 686.87 L1355.87 685.57 L1354.44 684.1 L1353.22 682.52 L1352.21 680.86 L1351.38 679.15 L1350.72 677.41 L1350.18 675.64 L1349.72 673.85 L1349.32 672 L1349.02 670.06 L1348.92 668.01 L1349.11 665.92 L1349.72 663.88 L1350.79 662.04 L1352.26 660.51 L1354.03 659.36 L1355.94 658.55 L1357.87 657.98 L1359.77 657.5 L1361.66 657.05 L1363.6 656.64 L1365.63 656.38 L1367.72 656.42 L1369.77 656.9 L1371.65 657.87 L1373.25 659.26 L1374.51 660.95 L1375.48 662.77 L1376.25 664.6 L1376.91 666.41 L1377.5 668.23 L1378 670.08 Z" fill="url(#tg3)" />
<ellipse cx="1356.94" cy="678.95" rx="2.04" ry="1.76" fill="#b04452" opacity="0.5"/>
<ellipse cx="1361.94" cy="670.87" rx="3" ry="2.93" fill="#b04452" opacity="0.5"/>
<ellipse cx="1356.2" cy="675.1" rx="2.32" ry="2.59" fill="#f0c8c0" opacity="0.5"/>
</g>
<path d="M1445.59 675.5 L1446.2 676.85 L1446.77 678.36 L1446.95 679.97 L1446.51 681.55 L1445.4 682.91 L1443.8 683.98 L1441.95 684.77 L1440.06 685.4 L1438.2 686 L1436.33 686.6 L1434.38 687.15 L1432.3 687.51 L1430.15 687.53 L1428.07 687.15 L1426.17 686.41 L1424.49 685.48 L1422.95 684.48 L1421.43 683.51 L1419.86 682.54 L1418.3 681.46 L1416.97 680.18 L1416.14 678.69 L1416.03 677.08 L1416.64 675.5 L1417.76 674.09 L1419.05 672.88 L1420.17 671.79 L1420.95 670.67 L1421.47 669.38 L1421.99 667.9 L1422.79 666.36 L1424.07 664.99 L1425.83 663.99 L1427.92 663.46 L1430.13 663.34 L1432.3 663.48 L1434.41 663.7 L1436.51 663.91 L1438.67 664.17 L1440.82 664.62 L1442.8 665.41 L1444.35 666.62 L1445.28 668.16 L1445.58 669.85 L1445.46 671.48 L1445.24 672.94 L1445.23 674.24 Z" fill="#b8b8bc" opacity="0.5" filter="url(#soft2)"/>
<g filter="url(#soft)">
<path d="M1444.09 673 L1444.7 674.35 L1445.27 675.86 L1445.45 677.47 L1445.01 679.05 L1443.9 680.41 L1442.3 681.48 L1440.45 682.27 L1438.56 682.9 L1436.7 683.5 L1434.83 684.1 L1432.88 684.65 L1430.8 685.01 L1428.65 685.03 L1426.57 684.65 L1424.67 683.91 L1422.99 682.98 L1421.45 681.98 L1419.93 681.01 L1418.36 680.04 L1416.8 678.96 L1415.47 677.68 L1414.64 676.19 L1414.53 674.58 L1415.14 673 L1416.26 671.59 L1417.55 670.38 L1418.67 669.29 L1419.45 668.17 L1419.97 666.88 L1420.49 665.4 L1421.29 663.86 L1422.57 662.49 L1424.33 661.49 L1426.42 660.96 L1428.63 660.84 L1430.8 660.98 L1432.91 661.2 L1435.01 661.41 L1437.17 661.67 L1439.32 662.12 L1441.3 662.91 L1442.85 664.12 L1443.78 665.66 L1444.08 667.35 L1443.96 668.98 L1443.74 670.44 L1443.73 671.74 Z" fill="url(#tg3)" />
<ellipse cx="1434.53" cy="671.91" rx="3.57" ry="1.31" fill="#f0c8c0" opacity="0.5"/>
<ellipse cx="1435.36" cy="670.97" rx="4.12" ry="2.37" fill="#f0c8c0" opacity="0.5"/>
<ellipse cx="1436.43" cy="674.49" rx="3.47" ry="1.48" fill="#b04452" opacity="0.5"/>
</g>
<path d="M1508.59 675.84 L1507.33 677.09 L1506.21 678.25 L1505.29 679.47 L1504.47 680.83 L1503.53 682.24 L1502.28 683.54 L1500.62 684.51 L1498.63 684.99 L1496.49 685.01 L1494.35 684.69 L1492.3 684.23 L1490.29 683.77 L1488.24 683.35 L1486.12 682.83 L1484.02 682.06 L1482.14 680.92 L1480.72 679.4 L1479.89 677.64 L1479.59 675.83 L1479.59 674.11 L1479.61 672.54 L1479.41 671.04 L1478.97 669.48 L1478.46 667.77 L1478.2 665.95 L1478.47 664.17 L1479.4 662.62 L1480.92 661.45 L1482.82 660.69 L1484.85 660.23 L1486.85 659.93 L1488.77 659.63 L1490.68 659.34 L1492.66 659.12 L1494.72 659.15 L1496.79 659.53 L1498.75 660.27 L1500.53 661.3 L1502.13 662.46 L1503.66 663.64 L1505.23 664.83 L1506.85 666.07 L1508.42 667.48 L1509.69 669.11 L1510.4 670.9 L1510.39 672.71 L1509.71 674.39 Z" fill="#b8b8bc" opacity="0.5" filter="url(#soft2)"/>
<g filter="url(#soft)">
<path d="M1507.09 673.34 L1505.83 674.59 L1504.71 675.75 L1503.79 676.97 L1502.97 678.33 L1502.03 679.74 L1500.78 681.04 L1499.12 682.01 L1497.13 682.49 L1494.99 682.51 L1492.85 682.19 L1490.8 681.73 L1488.79 681.27 L1486.74 680.85 L1484.62 680.33 L1482.52 679.56 L1480.64 678.42 L1479.22 676.9 L1478.39 675.14 L1478.09 673.33 L1478.09 671.61 L1478.11 670.04 L1477.91 668.54 L1477.47 666.98 L1476.96 665.27 L1476.7 663.45 L1476.97 661.67 L1477.9 660.12 L1479.42 658.95 L1481.32 658.19 L1483.35 657.73 L1485.35 657.43 L1487.27 657.13 L1489.18 656.84 L1491.16 656.62 L1493.22 656.65 L1495.29 657.03 L1497.25 657.77 L1499.03 658.8 L1500.63 659.96 L1502.16 661.14 L1503.73 662.33 L1505.35 663.57 L1506.92 664.98 L1508.19 666.61 L1508.9 668.4 L1508.89 670.21 L1508.21 671.89 Z" fill="url(#tg3)" />
<ellipse cx="1493.35" cy="667.3" rx="2.73" ry="1.48" fill="#b04452" opacity="0.5"/>
<ellipse cx="1495.89" cy="665.02" rx="2.3" ry="1.88" fill="#b04452" opacity="0.5"/>
<ellipse cx="1492.62" cy="667.66" rx="4.12" ry="2.03" fill="#b04452" opacity="0.5"/>
</g>
<path d="M1578.4 673.6 L1578.13 675.23 L1577.41 676.77 L1576.43 678.17 L1575.37 679.48 L1574.26 680.74 L1573.08 681.95 L1571.72 683.06 L1570.13 683.95 L1568.33 684.52 L1566.41 684.72 L1564.5 684.6 L1562.7 684.29 L1561.01 683.93 L1559.36 683.62 L1557.68 683.34 L1555.95 683 L1554.23 682.48 L1552.64 681.69 L1551.33 680.61 L1550.34 679.34 L1549.63 677.95 L1549.08 676.54 L1548.56 675.1 L1548.07 673.6 L1547.69 672.01 L1547.61 670.35 L1548 668.7 L1548.95 667.22 L1550.4 666.01 L1552.17 665.13 L1554.05 664.53 L1555.85 664.07 L1557.56 663.61 L1559.21 663.11 L1560.9 662.62 L1562.7 662.28 L1564.56 662.24 L1566.37 662.6 L1568 663.31 L1569.4 664.26 L1570.63 665.29 L1571.83 666.26 L1573.11 667.18 L1574.53 668.11 L1575.98 669.18 L1577.25 670.47 L1578.11 671.97 Z" fill="#b8b8bc" opacity="0.5" filter="url(#soft2)"/>
<g filter="url(#soft)">
<path d="M1576.9 671.1 L1576.63 672.73 L1575.91 674.27 L1574.93 675.67 L1573.87 676.98 L1572.76 678.24 L1571.58 679.45 L1570.22 680.56 L1568.63 681.45 L1566.83 682.02 L1564.91 682.22 L1563 682.1 L1561.2 681.79 L1559.51 681.43 L1557.86 681.12 L1556.18 680.84 L1554.45 680.5 L1552.73 679.98 L1551.14 679.19 L1549.83 678.11 L1548.84 676.84 L1548.13 675.45 L1547.58 674.04 L1547.06 672.6 L1546.57 671.1 L1546.19 669.51 L1546.11 667.85 L1546.5 666.2 L1547.45 664.72 L1548.9 663.51 L1550.67 662.63 L1552.55 662.03 L1554.35 661.57 L1556.06 661.11 L1557.71 660.61 L1559.4 660.12 L1561.2 659.78 L1563.06 659.74 L1564.87 660.1 L1566.5 660.81 L1567.9 661.76 L1569.13 662.79 L1570.33 663.76 L1571.61 664.68 L1573.03 665.61 L1574.48 666.68 L1575.75 667.97 L1576.61 669.47 Z" fill="url(#tg3)" />
<ellipse cx="1564.38" cy="666.16" rx="2.49" ry="1.32" fill="#b04452" opacity="0.5"/>
<ellipse cx="1566.75" cy="676.74" rx="1.84" ry="1.62" fill="#e8b8b0" opacity="0.5"/>
<ellipse cx="1567.8" cy="668.79" rx="3.41" ry="2.13" fill="#f0c8c0" opacity="0.5"/>
</g>
<path d="M1644.39 681.54 L1643.92 683.49 L1642.87 685.19 L1641.38 686.57 L1639.64 687.65 L1637.83 688.53 L1636 689.32 L1634.15 690.07 L1632.2 690.69 L1630.12 691.05 L1627.98 690.96 L1625.9 690.36 L1624.02 689.3 L1622.42 687.94 L1621.04 686.51 L1619.76 685.16 L1618.41 683.93 L1616.93 682.72 L1615.38 681.39 L1614 679.82 L1613.05 678 L1612.73 676.05 L1613.09 674.13 L1613.97 672.39 L1615.12 670.88 L1616.28 669.53 L1617.3 668.19 L1618.17 666.73 L1619.05 665.13 L1620.11 663.46 L1621.51 661.93 L1623.28 660.72 L1625.35 659.98 L1627.6 659.77 L1629.87 660.05 L1632.04 660.74 L1634.05 661.74 L1635.84 663 L1637.36 664.47 L1638.57 666.1 L1639.49 667.8 L1640.16 669.49 L1640.72 671.1 L1641.31 672.64 L1642.02 674.16 L1642.86 675.77 L1643.68 677.55 L1644.27 679.51 Z" fill="#b8b8bc" opacity="0.5" filter="url(#soft2)"/>
<g filter="url(#soft)">
<path d="M1642.89 679.04 L1642.42 680.99 L1641.37 682.69 L1639.88 684.07 L1638.14 685.15 L1636.33 686.03 L1634.5 686.82 L1632.65 687.57 L1630.7 688.19 L1628.62 688.55 L1626.48 688.46 L1624.4 687.86 L1622.52 686.8 L1620.92 685.44 L1619.54 684.01 L1618.26 682.66 L1616.91 681.43 L1615.43 680.22 L1613.88 678.89 L1612.5 677.32 L1611.55 675.5 L1611.23 673.55 L1611.59 671.63 L1612.47 669.89 L1613.62 668.38 L1614.78 667.03 L1615.8 665.69 L1616.67 664.23 L1617.55 662.63 L1618.61 660.96 L1620.01 659.43 L1621.78 658.22 L1623.85 657.48 L1626.1 657.27 L1628.37 657.55 L1630.54 658.24 L1632.55 659.24 L1634.34 660.5 L1635.86 661.97 L1637.07 663.6 L1637.99 665.3 L1638.66 666.99 L1639.22 668.6 L1639.81 670.14 L1640.52 671.66 L1641.36 673.27 L1642.18 675.05 L1642.77 677.01 Z" fill="url(#tg3)" />
<ellipse cx="1627.92" cy="671.84" rx="3.68" ry="2.89" fill="#b04452" opacity="0.5"/>
<ellipse cx="1631.48" cy="680.17" rx="2.19" ry="1.64" fill="#f0c8c0" opacity="0.5"/>
<ellipse cx="1623.3" cy="672.61" rx="2.01" ry="1.82" fill="#e8b8b0" opacity="0.5"/>
</g>
<path d="M1701.06 676.8 L1701.12 678.29 L1701.06 679.82 L1700.8 681.38 L1700.29 682.92 L1699.47 684.4 L1698.34 685.73 L1696.93 686.85 L1695.31 687.74 L1693.56 688.38 L1691.72 688.79 L1689.86 689 L1688 689.01 L1686.16 688.85 L1684.37 688.49 L1682.65 687.95 L1681.04 687.2 L1679.57 686.28 L1678.27 685.2 L1677.17 683.98 L1676.26 682.65 L1675.57 681.24 L1675.1 679.78 L1674.83 678.3 L1674.76 676.8 L1674.87 675.31 L1675.14 673.83 L1675.57 672.35 L1676.16 670.9 L1676.93 669.47 L1677.93 668.1 L1679.16 666.86 L1680.64 665.79 L1682.33 664.98 L1684.17 664.46 L1686.08 664.24 L1688 664.29 L1689.87 664.57 L1691.65 665.04 L1693.34 665.67 L1694.92 666.45 L1696.37 667.39 L1697.64 668.47 L1698.72 669.7 L1699.56 671.04 L1700.18 672.45 L1700.6 673.88 L1700.88 675.34 Z" fill="#b8b8bc" opacity="0.5" filter="url(#soft2)"/>
<g filter="url(#soft)">
<path d="M1699.56 674.3 L1699.62 675.79 L1699.56 677.32 L1699.3 678.88 L1698.79 680.42 L1697.97 681.9 L1696.84 683.23 L1695.43 684.35 L1693.81 685.24 L1692.06 685.88 L1690.22 686.29 L1688.36 686.5 L1686.5 686.51 L1684.66 686.35 L1682.87 685.99 L1681.15 685.45 L1679.54 684.7 L1678.07 683.78 L1676.77 682.7 L1675.67 681.48 L1674.76 680.15 L1674.07 678.74 L1673.6 677.28 L1673.33 675.8 L1673.26 674.3 L1673.37 672.81 L1673.64 671.33 L1674.07 669.85 L1674.66 668.4 L1675.43 666.97 L1676.43 665.6 L1677.66 664.36 L1679.14 663.29 L1680.83 662.48 L1682.67 661.96 L1684.58 661.74 L1686.5 661.79 L1688.37 662.07 L1690.15 662.54 L1691.84 663.17 L1693.42 663.95 L1694.87 664.89 L1696.14 665.97 L1697.22 667.2 L1698.06 668.54 L1698.68 669.95 L1699.1 671.38 L1699.38 672.84 Z" fill="url(#tg3)" />
<ellipse cx="1684.77" cy="669.48" rx="2.36" ry="1.81" fill="#b04452" opacity="0.5"/>
<ellipse cx="1687.06" cy="673.29" rx="3.09" ry="2.99" fill="#e8b8b0" opacity="0.5"/>
<ellipse cx="1688.42" cy="678.01" rx="3.04" ry="2.4" fill="#f0c8c0" opacity="0.5"/>
</g>
<path d="M1375.49 726.5 L1375.37 727.54 L1375.16 728.56 L1374.85 729.58 L1374.43 730.57 L1373.84 731.52 L1373.07 732.37 L1372.13 733.07 L1371.06 733.59 L1369.9 733.93 L1368.72 734.1 L1367.55 734.15 L1366.4 734.14 L1365.26 734.1 L1364.11 734.02 L1362.92 733.89 L1361.72 733.63 L1360.55 733.2 L1359.52 732.55 L1358.7 731.7 L1358.16 730.68 L1357.93 729.58 L1357.95 728.49 L1358.13 727.46 L1358.34 726.5 L1358.5 725.59 L1358.57 724.65 L1358.57 723.65 L1358.62 722.55 L1358.83 721.39 L1359.31 720.26 L1360.1 719.29 L1361.19 718.57 L1362.48 718.18 L1363.85 718.12 L1365.18 718.33 L1366.4 718.69 L1367.51 719.1 L1368.54 719.48 L1369.55 719.82 L1370.58 720.14 L1371.63 720.5 L1372.67 720.98 L1373.63 721.63 L1374.42 722.43 L1375 723.37 L1375.35 724.39 L1375.5 725.45 Z" fill="#b8b8bc" opacity="0.5" filter="url(#soft2)"/>
<g filter="url(#soft)">
<path d="M1373.99 724 L1373.87 725.04 L1373.66 726.06 L1373.35 727.08 L1372.93 728.07 L1372.34 729.02 L1371.57 729.87 L1370.63 730.57 L1369.56 731.09 L1368.4 731.43 L1367.22 731.6 L1366.05 731.65 L1364.9 731.64 L1363.76 731.6 L1362.61 731.52 L1361.42 731.39 L1360.22 731.13 L1359.05 730.7 L1358.02 730.05 L1357.2 729.2 L1356.66 728.18 L1356.43 727.08 L1356.45 725.99 L1356.63 724.96 L1356.84 724 L1357 723.09 L1357.07 722.15 L1357.07 721.15 L1357.12 720.05 L1357.33 718.89 L1357.81 717.76 L1358.6 716.79 L1359.69 716.07 L1360.98 715.68 L1362.35 715.62 L1363.68 715.83 L1364.9 716.19 L1366.01 716.6 L1367.04 716.98 L1368.05 717.32 L1369.08 717.64 L1370.13 718 L1371.17 718.48 L1372.13 719.13 L1372.92 719.93 L1373.5 720.87 L1373.85 721.89 L1374 722.95 Z" fill="url(#tg4)" />
<ellipse cx="1369.04" cy="723.09" rx="1.72" ry="1.96" fill="#f0c8c0" opacity="0.5"/>
<ellipse cx="1368.14" cy="724.34" rx="1.19" ry="1.93" fill="#e8b8b0" opacity="0.5"/>
<ellipse cx="1364.18" cy="724.21" rx="1.6" ry="1.44" fill="#e8b8b0" opacity="0.5"/>
</g>
<path d="M1439.47 728.7 L1439.68 730.29 L1439.47 731.88 L1438.83 733.35 L1437.83 734.59 L1436.64 735.6 L1435.42 736.46 L1434.26 737.26 L1433.13 738.1 L1431.96 738.93 L1430.68 739.65 L1429.27 740.08 L1427.8 740.11 L1426.37 739.73 L1425.07 739.07 L1423.9 738.29 L1422.78 737.55 L1421.62 736.9 L1420.36 736.27 L1419.04 735.54 L1417.81 734.57 L1416.83 733.32 L1416.25 731.85 L1416.09 730.27 L1416.25 728.7 L1416.59 727.2 L1416.97 725.75 L1417.36 724.3 L1417.82 722.83 L1418.47 721.41 L1419.42 720.17 L1420.67 719.25 L1422.14 718.73 L1423.68 718.58 L1425.15 718.65 L1426.51 718.75 L1427.8 718.72 L1429.11 718.57 L1430.52 718.38 L1432.01 718.36 L1433.49 718.68 L1434.81 719.4 L1435.88 720.47 L1436.68 721.77 L1437.29 723.12 L1437.83 724.47 L1438.4 725.81 L1438.99 727.2 Z" fill="#b8b8bc" opacity="0.5" filter="url(#soft2)"/>
<g filter="url(#soft)">
<path d="M1437.97 726.2 L1438.18 727.79 L1437.97 729.38 L1437.33 730.85 L1436.33 732.09 L1435.14 733.1 L1433.92 733.96 L1432.76 734.76 L1431.63 735.6 L1430.46 736.43 L1429.18 737.15 L1427.77 737.58 L1426.3 737.61 L1424.87 737.23 L1423.57 736.57 L1422.4 735.79 L1421.28 735.05 L1420.12 734.4 L1418.86 733.77 L1417.54 733.04 L1416.31 732.07 L1415.33 730.82 L1414.75 729.35 L1414.59 727.77 L1414.75 726.2 L1415.09 724.7 L1415.47 723.25 L1415.86 721.8 L1416.32 720.33 L1416.97 718.91 L1417.92 717.67 L1419.17 716.75 L1420.64 716.23 L1422.18 716.08 L1423.65 716.15 L1425.01 716.25 L1426.3 716.22 L1427.61 716.07 L1429.02 715.88 L1430.51 715.86 L1431.99 716.18 L1433.31 716.9 L1434.38 717.97 L1435.18 719.27 L1435.79 720.62 L1436.33 721.97 L1436.9 723.31 L1437.49 724.7 Z" fill="url(#tg4)" />
<ellipse cx="1426.11" cy="723.6" rx="2.66" ry="2.4" fill="#b04452" opacity="0.5"/>
<ellipse cx="1421.05" cy="729.28" rx="1.42" ry="1.4" fill="#e8b8b0" opacity="0.5"/>
<ellipse cx="1429.13" cy="724.96" rx="2.83" ry="1.22" fill="#b04452" opacity="0.5"/>
</g>
<path d="M1507.58 728.7 L1507.36 730.06 L1506.86 731.35 L1506.17 732.54 L1505.36 733.65 L1504.48 734.67 L1503.51 735.63 L1502.45 736.5 L1501.27 737.26 L1499.98 737.88 L1498.61 738.34 L1497.18 738.67 L1495.7 738.91 L1494.16 739.05 L1492.57 739.07 L1490.93 738.91 L1489.34 738.47 L1487.9 737.72 L1486.74 736.64 L1485.96 735.33 L1485.55 733.9 L1485.45 732.47 L1485.52 731.12 L1485.62 729.88 L1485.66 728.7 L1485.65 727.53 L1485.63 726.31 L1485.73 725.04 L1486.03 723.75 L1486.59 722.5 L1487.41 721.34 L1488.44 720.31 L1489.66 719.42 L1491.02 718.67 L1492.5 718.11 L1494.08 717.77 L1495.7 717.71 L1497.29 717.96 L1498.78 718.5 L1500.11 719.26 L1501.27 720.14 L1502.31 721.06 L1503.3 721.96 L1504.29 722.86 L1505.28 723.79 L1506.21 724.84 L1506.97 726.02 L1507.45 727.33 Z" fill="#b8b8bc" opacity="0.5" filter="url(#soft2)"/>
<g filter="url(#soft)">
<path d="M1506.08 726.2 L1505.86 727.56 L1505.36 728.85 L1504.67 730.04 L1503.86 731.15 L1502.98 732.17 L1502.01 733.13 L1500.95 734 L1499.77 734.76 L1498.48 735.38 L1497.11 735.84 L1495.68 736.17 L1494.2 736.41 L1492.66 736.55 L1491.07 736.57 L1489.43 736.41 L1487.84 735.97 L1486.4 735.22 L1485.24 734.14 L1484.46 732.83 L1484.05 731.4 L1483.95 729.97 L1484.02 728.62 L1484.12 727.38 L1484.16 726.2 L1484.15 725.03 L1484.13 723.81 L1484.23 722.54 L1484.53 721.25 L1485.09 720 L1485.91 718.84 L1486.94 717.81 L1488.16 716.92 L1489.52 716.17 L1491 715.61 L1492.58 715.27 L1494.2 715.21 L1495.79 715.46 L1497.28 716 L1498.61 716.76 L1499.77 717.64 L1500.81 718.56 L1501.8 719.46 L1502.79 720.36 L1503.78 721.29 L1504.71 722.34 L1505.47 723.52 L1505.95 724.83 Z" fill="url(#tg4)" />
<ellipse cx="1499.82" cy="730.73" rx="3.03" ry="1.36" fill="#f0c8c0" opacity="0.5"/>
<ellipse cx="1496.72" cy="723.66" rx="1.47" ry="1.17" fill="#f0c8c0" opacity="0.5"/>
<ellipse cx="1497.77" cy="730.38" rx="3.41" ry="2.27" fill="#f0c8c0" opacity="0.5"/>
</g>
<path d="M1575.91 725.92 L1575.28 727.28 L1574.32 728.42 L1573.12 729.34 L1571.81 730.05 L1570.5 730.64 L1569.2 731.18 L1567.89 731.67 L1566.52 732.07 L1565.08 732.31 L1563.6 732.3 L1562.13 732.02 L1560.73 731.51 L1559.42 730.84 L1558.17 730.07 L1556.95 729.26 L1555.75 728.37 L1554.6 727.35 L1553.61 726.16 L1552.9 724.81 L1552.56 723.35 L1552.6 721.88 L1552.96 720.48 L1553.51 719.19 L1554.12 718 L1554.72 716.83 L1555.3 715.66 L1555.94 714.46 L1556.74 713.3 L1557.76 712.27 L1559.01 711.46 L1560.43 710.94 L1561.95 710.71 L1563.49 710.71 L1565.02 710.88 L1566.51 711.2 L1567.95 711.66 L1569.33 712.29 L1570.58 713.12 L1571.67 714.12 L1572.55 715.27 L1573.26 716.48 L1573.87 717.7 L1574.44 718.93 L1575.01 720.19 L1575.55 721.52 L1575.97 722.95 L1576.12 724.45 Z" fill="#b8b8bc" opacity="0.5" filter="url(#soft2)"/>
<g filter="url(#soft)">
<path d="M1574.41 723.42 L1573.78 724.78 L1572.82 725.92 L1571.62 726.84 L1570.31 727.55 L1569 728.14 L1567.7 728.68 L1566.39 729.17 L1565.02 729.57 L1563.58 729.81 L1562.1 729.8 L1560.63 729.52 L1559.23 729.01 L1557.92 728.34 L1556.67 727.57 L1555.45 726.76 L1554.25 725.87 L1553.1 724.85 L1552.11 723.66 L1551.4 722.31 L1551.06 720.85 L1551.1 719.38 L1551.46 717.98 L1552.01 716.69 L1552.62 715.5 L1553.22 714.33 L1553.8 713.16 L1554.44 711.96 L1555.24 710.8 L1556.26 709.77 L1557.51 708.96 L1558.93 708.44 L1560.45 708.21 L1561.99 708.21 L1563.52 708.38 L1565.01 708.7 L1566.45 709.16 L1567.83 709.79 L1569.08 710.62 L1570.17 711.62 L1571.05 712.77 L1571.76 713.98 L1572.37 715.2 L1572.94 716.43 L1573.51 717.69 L1574.05 719.02 L1574.47 720.45 L1574.62 721.95 Z" fill="url(#tg4)" />
<ellipse cx="1563.99" cy="715.12" rx="2.24" ry="1.25" fill="#e8b8b0" opacity="0.5"/>
<ellipse cx="1566.95" cy="717.68" rx="1.64" ry="1.76" fill="#f0c8c0" opacity="0.5"/>
<ellipse cx="1564.73" cy="718.73" rx="2.7" ry="2.14" fill="#b04452" opacity="0.5"/>
</g>
<path d="M1642.11 721.1 L1641.85 722.7 L1641.13 724.18 L1640.04 725.45 L1638.71 726.48 L1637.33 727.3 L1636.03 728.02 L1634.86 728.75 L1633.77 729.59 L1632.66 730.52 L1631.4 731.46 L1629.94 732.22 L1628.3 732.65 L1626.6 732.67 L1624.95 732.29 L1623.44 731.61 L1622.06 730.77 L1620.78 729.87 L1619.54 728.94 L1618.33 727.95 L1617.21 726.83 L1616.3 725.55 L1615.74 724.11 L1615.58 722.6 L1615.79 721.1 L1616.26 719.68 L1616.84 718.35 L1617.42 717.06 L1617.98 715.77 L1618.6 714.44 L1619.39 713.13 L1620.44 711.93 L1621.78 710.98 L1623.34 710.38 L1625.02 710.15 L1626.7 710.22 L1628.3 710.5 L1629.81 710.86 L1631.25 711.25 L1632.67 711.65 L1634.1 712.1 L1635.54 712.66 L1636.94 713.37 L1638.27 714.26 L1639.48 715.32 L1640.53 716.56 L1641.38 717.96 L1641.93 719.49 Z" fill="#b8b8bc" opacity="0.5" filter="url(#soft2)"/>
<g filter="url(#soft)">
<path d="M1640.61 718.6 L1640.35 720.2 L1639.63 721.68 L1638.54 722.95 L1637.21 723.98 L1635.83 724.8 L1634.53 725.52 L1633.36 726.25 L1632.27 727.09 L1631.16 728.02 L1629.9 728.96 L1628.44 729.72 L1626.8 730.15 L1625.1 730.17 L1623.45 729.79 L1621.94 729.11 L1620.56 728.27 L1619.28 727.37 L1618.04 726.44 L1616.83 725.45 L1615.71 724.33 L1614.8 723.05 L1614.24 721.61 L1614.08 720.1 L1614.29 718.6 L1614.76 717.18 L1615.34 715.85 L1615.92 714.56 L1616.48 713.27 L1617.1 711.94 L1617.89 710.63 L1618.94 709.43 L1620.28 708.48 L1621.84 707.88 L1623.52 707.65 L1625.2 707.72 L1626.8 708 L1628.31 708.36 L1629.75 708.75 L1631.17 709.15 L1632.6 709.6 L1634.04 710.16 L1635.44 710.87 L1636.77 711.76 L1637.98 712.82 L1639.03 714.06 L1639.88 715.46 L1640.43 716.99 Z" fill="url(#tg4)" />
<ellipse cx="1625.11" cy="721.31" rx="3.61" ry="2.33" fill="#f0c8c0" opacity="0.5"/>
<ellipse cx="1623.56" cy="714.31" rx="3.24" ry="2.15" fill="#b04452" opacity="0.5"/>
<ellipse cx="1625.05" cy="716.06" rx="3.11" ry="2.27" fill="#e8b8b0" opacity="0.5"/>
</g>
<path d="M1699.57 720.4 L1699.37 721.98 L1699.05 723.51 L1698.64 724.99 L1698.08 726.42 L1697.36 727.72 L1696.46 728.85 L1695.41 729.75 L1694.27 730.43 L1693.09 730.92 L1691.91 731.3 L1690.72 731.61 L1689.5 731.84 L1688.25 731.95 L1686.97 731.84 L1685.73 731.45 L1684.57 730.77 L1683.54 729.83 L1682.64 728.73 L1681.84 727.54 L1681.09 726.3 L1680.37 724.99 L1679.72 723.58 L1679.22 722.04 L1678.97 720.4 L1679.05 718.73 L1679.48 717.14 L1680.19 715.72 L1681.07 714.49 L1682 713.41 L1682.93 712.42 L1683.84 711.45 L1684.79 710.5 L1685.83 709.63 L1686.98 708.96 L1688.22 708.59 L1689.5 708.57 L1690.75 708.84 L1691.94 709.32 L1693.08 709.91 L1694.19 710.53 L1695.31 711.21 L1696.43 711.99 L1697.48 712.96 L1698.4 714.16 L1699.08 715.58 L1699.49 717.15 L1699.64 718.78 Z" fill="#b8b8bc" opacity="0.5" filter="url(#soft2)"/>
<g filter="url(#soft)">
<path d="M1698.07 717.9 L1697.87 719.48 L1697.55 721.01 L1697.14 722.49 L1696.58 723.92 L1695.86 725.22 L1694.96 726.35 L1693.91 727.25 L1692.77 727.93 L1691.59 728.42 L1690.41 728.8 L1689.22 729.11 L1688 729.34 L1686.75 729.45 L1685.47 729.34 L1684.23 728.95 L1683.07 728.27 L1682.04 727.33 L1681.14 726.23 L1680.34 725.04 L1679.59 723.8 L1678.87 722.49 L1678.22 721.08 L1677.72 719.54 L1677.47 717.9 L1677.55 716.23 L1677.98 714.64 L1678.69 713.22 L1679.57 711.99 L1680.5 710.91 L1681.43 709.92 L1682.34 708.95 L1683.29 708 L1684.33 707.13 L1685.48 706.46 L1686.72 706.09 L1688 706.07 L1689.25 706.34 L1690.44 706.82 L1691.58 707.41 L1692.69 708.03 L1693.81 708.71 L1694.93 709.49 L1695.98 710.46 L1696.9 711.66 L1697.58 713.08 L1697.99 714.65 L1698.14 716.28 Z" fill="url(#tg4)" />
<ellipse cx="1684.96" cy="715.27" rx="1.51" ry="1.63" fill="#f0c8c0" opacity="0.5"/>
<ellipse cx="1692.7" cy="722.85" rx="1.25" ry="1.3" fill="#e8b8b0" opacity="0.5"/>
<ellipse cx="1685.76" cy="717.01" rx="1.24" ry="1.59" fill="#e8b8b0" opacity="0.5"/>
</g>
<rect x="1309.5" y="760.5" width="403.2" height="51.2" fill="#c4c3bd" />
<rect x="1309.5" y="761.5" width="274" height="5" fill="#a2a29e" />
<line x1="1312.3" y1="768.5" x2="1312.3" y2="782.5" stroke="#555" stroke-width="1" />
<line x1="1325.9" y1="768.5" x2="1325.9" y2="777.5" stroke="#555" stroke-width="1" />
<line x1="1339.5" y1="768.5" x2="1339.5" y2="782.5" stroke="#555" stroke-width="1" />
<line x1="1353.1" y1="768.5" x2="1353.1" y2="777.5" stroke="#555" stroke-width="1" />
<line x1="1366.7" y1="768.5" x2="1366.7" y2="782.5" stroke="#555" stroke-width="1" />
<line x1="1380.3" y1="768.5" x2="1380.3" y2="777.5" stroke="#555" stroke-width="1" />
<line x1="1393.9" y1="768.5" x2="1393.9" y2="782.5" stroke="#555" stroke-width="1" />
<line x1="1407.5" y1="768.5" x2="1407.5" y2="777.5" stroke="#555" stroke-width="1" />
<line x1="1421.1" y1="768.5" x2="1421.1" y2="782.5" stroke="#555" stroke-width="1" />
<line x1="1434.7" y1="768.5" x2="1434.7" y2="777.5" stroke="#555" stroke-width="1" />
<line x1="1448.3" y1="768.5" x2="1448.3" y2="782.5" stroke="#555" stroke-width="1" />
<line x1="1461.9" y1="768.5" x2="1461.9" y2="777.5" stroke="#555" stroke-width="1" />
<line x1="1475.5" y1="768.5" x2="1475.5" y2="782.5" stroke="#555" stroke-width="1" />
<line x1="1489.1" y1="768.5" x2="1489.1" y2="777.5" stroke="#555" stroke-width="1" />
<line x1="1502.7" y1="768.5" x2="1502.7" y2="782.5" stroke="#555" stroke-width="1" />
<line x1="1516.3" y1="768.5" x2="1516.3" y2="777.5" stroke="#555" stroke-width="1" />
<line x1="1529.9" y1="768.5" x2="1529.9" y2="782.5" stroke="#555" stroke-width="1" />
<line x1="1543.5" y1="768.5" x2="1543.5" y2="777.5" stroke="#555" stroke-width="1" />
<line x1="1557.1" y1="768.5" x2="1557.1" y2="782.5" stroke="#555" stroke-width="1" />
<line x1="1570.7" y1="768.5" x2="1570.7" y2="777.5" stroke="#555" stroke-width="1" />
<line x1="1584.3" y1="768.5" x2="1584.3" y2="782.5" stroke="#555" stroke-width="1" />
<line x1="1597.9" y1="768.5" x2="1597.9" y2="777.5" stroke="#555" stroke-width="1" />
<line x1="1611.5" y1="768.5" x2="1611.5" y2="782.5" stroke="#555" stroke-width="1" />
<line x1="1625.1" y1="768.5" x2="1625.1" y2="777.5" stroke="#555" stroke-width="1" />
<line x1="1638.7" y1="768.5" x2="1638.7" y2="782.5" stroke="#555" stroke-width="1" />
<line x1="1652.3" y1="768.5" x2="1652.3" y2="777.5" stroke="#555" stroke-width="1" />
<line x1="1665.9" y1="768.5" x2="1665.9" y2="782.5" stroke="#555" stroke-width="1" />
<line x1="1679.5" y1="768.5" x2="1679.5" y2="777.5" stroke="#555" stroke-width="1" />
<line x1="1693.1" y1="768.5" x2="1693.1" y2="782.5" stroke="#555" stroke-width="1" />
<line x1="1312.3" y1="768.5" x2="1312.3" y2="772.5" stroke="#6a6a6a" stroke-width="0.6" />
<line x1="1315.02" y1="768.5" x2="1315.02" y2="772.5" stroke="#6a6a6a" stroke-width="0.6" />
<line x1="1317.74" y1="768.5" x2="1317.74" y2="772.5" stroke="#6a6a6a" stroke-width="0.6" />
<line x1="1320.46" y1="768.5" x2="1320.46" y2="772.5" stroke="#6a6a6a" stroke-width="0.6" />
<line x1="1323.18" y1="768.5" x2="1323.18" y2="772.5" stroke="#6a6a6a" stroke-width="0.6" />
<line x1="1325.9" y1="768.5" x2="1325.9" y2="772.5" stroke="#6a6a6a" stroke-width="0.6" />
<line x1="1328.62" y1="768.5" x2="1328.62" y2="772.5" stroke="#6a6a6a" stroke-width="0.6" />
<line x1="1331.34" y1="768.5" x2="1331.34" y2="772.5" stroke="#6a6a6a" stroke-width="0.6" />
<line x1="1334.06" y1="768.5" x2="1334.06" y2="772.5" stroke="#6a6a6a" stroke-width="0.6" />
<line x1="1336.78" y1="768.5" x2="1336.78" y2="772.5" stroke="#6a6a6a" stroke-width="0.6" />
<line x1="1339.5" y1="768.5" x2="1339.5" y2="772.5" stroke="#6a6a6a" stroke-width="0.6" />
<line x1="1342.22" y1="768.5" x2="1342.22" y2="772.5" stroke="#6a6a6a" stroke-width="0.6" />
<line x1="1344.94" y1="768.5" x2="1344.94" y2="772.5" stroke="#6a6a6a" stroke-width="0.6" />
<line x1="1347.66" y1="768.5" x2="1347.66" y2="772.5" stroke="#6a6a6a" stroke-width="0.6" />
<line x1="1350.38" y1="768.5" x2="1350.38" y2="772.5" stroke="#6a6a6a" stroke-width="0.6" />
<line x1="1353.1" y1="768.5" x2="1353.1" y2="772.5" stroke="#6a6a6a" stroke-width="0.6" />
<line x1="1355.82" y1="768.5" x2="1355.82" y2="772.5" stroke="#6a6a6a" stroke-width="0.6" />
<line x1="1358.54" y1="768.5" x2="1358.54" y2="772.5" stroke="#6a6a6a" stroke-width="0.6" />
<line x1="1361.26" y1="768.5" x2="1361.26" y2="772.5" stroke="#6a6a6a" stroke-width="0.6" />
<line x1="1363.98" y1="768.5" x2="1363.98" y2="772.5" stroke="#6a6a6a" stroke-width="0.6" />
<line x1="1366.7" y1="768.5" x2="1366.7" y2="772.5" stroke="#6a6a6a" stroke-width="0.6" />
<line x1="1369.42" y1="768.5" x2="1369.42" y2="772.5" stroke="#6a6a6a" stroke-width="0.6" />
<line x1="1372.14" y1="768.5" x2="1372.14" y2="772.5" stroke="#6a6a6a" stroke-width="0.6" />
<line x1="1374.86" y1="768.5" x2="1374.86" y2="772.5" stroke="#6a6a6a" stroke-width="0.6" />
<line x1="1377.58" y1="768.5" x2="1377.58" y2="772.5" stroke="#6a6a6a" stroke-width="0.6" />
<line x1="1380.3" y1="768.5" x2="1380.3" y2="772.5" stroke="#6a6a6a" stroke-width="0.6" />
<line x1="1383.02" y1="768.5" x2="1383.02" y2="772.5" stroke="#6a6a6a" stroke-width="0.6" />
<line x1="1385.74" y1="768.5" x2="1385.74" y2="772.5" stroke="#6a6a6a" stroke-width="0.6" />
<line x1="1388.46" y1="768.5" x2="1388.46" y2="772.5" stroke="#6a6a6a" stroke-width="0.6" />
<line x1="1391.18" y1="768.5" x2="1391.18" y2="772.5" stroke="#6a6a6a" stroke-width="0.6" />
<line x1="1393.9" y1="768.5" x2="1393.9" y2="772.5" stroke="#6a6a6a" stroke-width="0.6" />
<line x1="1396.62" y1="768.5" x2="1396.62" y2="772.5" stroke="#6a6a6a" stroke-width="0.6" />
<line x1="1399.34" y1="768.5" x2="1399.34" y2="772.5" stroke="#6a6a6a" stroke-width="0.6" />
<line x1="1402.06" y1="768.5" x2="1402.06" y2="772.5" stroke="#6a6a6a" stroke-width="0.6" />
<line x1="1404.78" y1="768.5" x2="1404.78" y2="772.5" stroke="#6a6a6a" stroke-width="0.6" />
<line x1="1407.5" y1="768.5" x2="1407.5" y2="772.5" stroke="#6a6a6a" stroke-width="0.6" />
<line x1="1410.22" y1="768.5" x2="1410.22" y2="772.5" stroke="#6a6a6a" stroke-width="0.6" />
<line x1="1412.94" y1="768.5" x2="1412.94" y2="772.5" stroke="#6a6a6a" stroke-width="0.6" />
<line x1="1415.66" y1="768.5" x2="1415.66" y2="772.5" stroke="#6a6a6a" stroke-width="0.6" />
<line x1="1418.38" y1="768.5" x2="1418.38" y2="772.5" stroke="#6a6a6a" stroke-width="0.6" />
<line x1="1421.1" y1="768.5" x2="1421.1" y2="772.5" stroke="#6a6a6a" stroke-width="0.6" />
<line x1="1423.82" y1="768.5" x2="1423.82" y2="772.5" stroke="#6a6a6a" stroke-width="0.6" />
<line x1="1426.54" y1="768.5" x2="1426.54" y2="772.5" stroke="#6a6a6a" stroke-width="0.6" />
<line x1="1429.26" y1="768.5" x2="1429.26" y2="772.5" stroke="#6a6a6a" stroke-width="0.6" />
<line x1="1431.98" y1="768.5" x2="1431.98" y2="772.5" stroke="#6a6a6a" stroke-width="0.6" />
<line x1="1434.7" y1="768.5" x2="1434.7" y2="772.5" stroke="#6a6a6a" stroke-width="0.6" />
<line x1="1437.42" y1="768.5" x2="1437.42" y2="772.5" stroke="#6a6a6a" stroke-width="0.6" />
<line x1="1440.14" y1="768.5" x2="1440.14" y2="772.5" stroke="#6a6a6a" stroke-width="0.6" />
<line x1="1442.86" y1="768.5" x2="1442.86" y2="772.5" stroke="#6a6a6a" stroke-width="0.6" />
<line x1="1445.58" y1="768.5" x2="1445.58" y2="772.5" stroke="#6a6a6a" stroke-width="0.6" />
<line x1="1448.3" y1="768.5" x2="1448.3" y2="772.5" stroke="#6a6a6a" stroke-width="0.6" />
<line x1="1451.02" y1="768.5" x2="1451.02" y2="772.5" stroke="#6a6a6a" stroke-width="0.6" />
<line x1="1453.74" y1="768.5" x2="1453.74" y2="772.5" stroke="#6a6a6a" stroke-width="0.6" />
<line x1="1456.46" y1="768.5" x2="1456.46" y2="772.5" stroke="#6a6a6a" stroke-width="0.6" />
<line x1="1459.18" y1="768.5" x2="1459.18" y2="772.5" stroke="#6a6a6a" stroke-width="0.6" />
<line x1="1461.9" y1="768.5" x2="1461.9" y2="772.5" stroke="#6a6a6a" stroke-width="0.6" />
<line x1="1464.62" y1="768.5" x2="1464.62" y2="772.5" stroke="#6a6a6a" stroke-width="0.6" />
<line x1="1467.34" y1="768.5" x2="1467.34" y2="772.5" stroke="#6a6a6a" stroke-width="0.6" />
<line x1="1470.06" y1="768.5" x2="1470.06" y2="772.5" stroke="#6a6a6a" stroke-width="0.6" />
<line x1="1472.78" y1="768.5" x2="1472.78" y2="772.5" stroke="#6a6a6a" stroke-width="0.6" />
<line x1="1475.5" y1="768.5" x2="1475.5" y2="772.5" stroke="#6a6a6a" stroke-width="0.6" />
<line x1="1478.22" y1="768.5" x2="1478.22" y2="772.5" stroke="#6a6a6a" stroke-width="0.6" />
<line x1="1480.94" y1="768.5" x2="1480.94" y2="772.5" stroke="#6a6a6a" stroke-width="0.6" />
<line x1="1483.66" y1="768.5" x2="1483.66" y2="772.5" stroke="#6a6a6a" stroke-width="0.6" />
<line x1="1486.38" y1="768.5" x2="1486.38" y2="772.5" stroke="#6a6a6a" stroke-width="0.6" />
<line x1="1489.1" y1="768.5" x2="1489.1" y2="772.5" stroke="#6a6a6a" stroke-width="0.6" />
<line x1="1491.82" y1="768.5" x2="1491.82" y2="772.5" stroke="#6a6a6a" stroke-width="0.6" />
<line x1="1494.54" y1="768.5" x2="1494.54" y2="772.5" stroke="#6a6a6a" stroke-width="0.6" />
<line x1="1497.26" y1="768.5" x2="1497.26" y2="772.5" stroke="#6a6a6a" stroke-width="0.6" />
<line x1="1499.98" y1="768.5" x2="1499.98" y2="772.5" stroke="#6a6a6a" stroke-width="0.6" />
<line x1="1502.7" y1="768.5" x2="1502.7" y2="772.5" stroke="#6a6a6a" stroke-width="0.6" />
<line x1="1505.42" y1="768.5" x2="1505.42" y2="772.5" stroke="#6a6a6a" stroke-width="0.6" />
<line x1="1508.14" y1="768.5" x2="1508.14" y2="772.5" stroke="#6a6a6a" stroke-width="0.6" />
<line x1="1510.86" y1="768.5" x2="1510.86" y2="772.5" stroke="#6a6a6a" stroke-width="0.6" />
<line x1="1513.58" y1="768.5" x2="1513.58" y2="772.5" stroke="#6a6a6a" stroke-width="0.6" />
<line x1="1516.3" y1="768.5" x2="1516.3" y2="772.5" stroke="#6a6a6a" stroke-width="0.6" />
<line x1="1519.02" y1="768.5" x2="1519.02" y2="772.5" stroke="#6a6a6a" stroke-width="0.6" />
<line x1="1521.74" y1="768.5" x2="1521.74" y2="772.5" stroke="#6a6a6a" stroke-width="0.6" />
<line x1="1524.46" y1="768.5" x2="1524.46" y2="772.5" stroke="#6a6a6a" stroke-width="0.6" />
<line x1="1527.18" y1="768.5" x2="1527.18" y2="772.5" stroke="#6a6a6a" stroke-width="0.6" />
<line x1="1529.9" y1="768.5" x2="1529.9" y2="772.5" stroke="#6a6a6a" stroke-width="0.6" />
<line x1="1532.62" y1="768.5" x2="1532.62" y2="772.5" stroke="#6a6a6a" stroke-width="0.6" />
<line x1="1535.34" y1="768.5" x2="1535.34" y2="772.5" stroke="#6a6a6a" stroke-width="0.6" />
<line x1="1538.06" y1="768.5" x2="1538.06" y2="772.5" stroke="#6a6a6a" stroke-width="0.6" />
<line x1="1540.78" y1="768.5" x2="1540.78" y2="772.5" stroke="#6a6a6a" stroke-width="0.6" />
<line x1="1543.5" y1="768.5" x2="1543.5" y2="772.5" stroke="#6a6a6a" stroke-width="0.6" />
<line x1="1546.22" y1="768.5" x2="1546.22" y2="772.5" stroke="#6a6a6a" stroke-width="0.6" />
<line x1="1548.94" y1="768.5" x2="1548.94" y2="772.5" stroke="#6a6a6a" stroke-width="0.6" />
<line x1="1551.66" y1="768.5" x2="1551.66" y2="772.5" stroke="#6a6a6a" stroke-width="0.6" />
<line x1="1554.38" y1="768.5" x2="1554.38" y2="772.5" stroke="#6a6a6a" stroke-width="0.6" />
<line x1="1557.1" y1="768.5" x2="1557.1" y2="772.5" stroke="#6a6a6a" stroke-width="0.6" />
<line x1="1559.82" y1="768.5" x2="1559.82" y2="772.5" stroke="#6a6a6a" stroke-width="0.6" />
<line x1="1562.54" y1="768.5" x2="1562.54" y2="772.5" stroke="#6a6a6a" stroke-width="0.6" />
<line x1="1565.26" y1="768.5" x2="1565.26" y2="772.5" stroke="#6a6a6a" stroke-width="0.6" />
<line x1="1567.98" y1="768.5" x2="1567.98" y2="772.5" stroke="#6a6a6a" stroke-width="0.6" />
<line x1="1570.7" y1="768.5" x2="1570.7" y2="772.5" stroke="#6a6a6a" stroke-width="0.6" />
<line x1="1573.42" y1="768.5" x2="1573.42" y2="772.5" stroke="#6a6a6a" stroke-width="0.6" />
<line x1="1576.14" y1="768.5" x2="1576.14" y2="772.5" stroke="#6a6a6a" stroke-width="0.6" />
<line x1="1578.86" y1="768.5" x2="1578.86" y2="772.5" stroke="#6a6a6a" stroke-width="0.6" />
<line x1="1581.58" y1="768.5" x2="1581.58" y2="772.5" stroke="#6a6a6a" stroke-width="0.6" />
<line x1="1584.3" y1="768.5" x2="1584.3" y2="772.5" stroke="#6a6a6a" stroke-width="0.6" />
<line x1="1587.02" y1="768.5" x2="1587.02" y2="772.5" stroke="#6a6a6a" stroke-width="0.6" />
<line x1="1589.74" y1="768.5" x2="1589.74" y2="772.5" stroke="#6a6a6a" stroke-width="0.6" />
<line x1="1592.46" y1="768.5" x2="1592.46" y2="772.5" stroke="#6a6a6a" stroke-width="0.6" />
<line x1="1595.18" y1="768.5" x2="1595.18" y2="772.5" stroke="#6a6a6a" stroke-width="0.6" />
<line x1="1597.9" y1="768.5" x2="1597.9" y2="772.5" stroke="#6a6a6a" stroke-width="0.6" />
<line x1="1600.62" y1="768.5" x2="1600.62" y2="772.5" stroke="#6a6a6a" stroke-width="0.6" />
<line x1="1603.34" y1="768.5" x2="1603.34" y2="772.5" stroke="#6a6a6a" stroke-width="0.6" />
<line x1="1606.06" y1="768.5" x2="1606.06" y2="772.5" stroke="#6a6a6a" stroke-width="0.6" />
<line x1="1608.78" y1="768.5" x2="1608.78" y2="772.5" stroke="#6a6a6a" stroke-width="0.6" />
<line x1="1611.5" y1="768.5" x2="1611.5" y2="772.5" stroke="#6a6a6a" stroke-width="0.6" />
<line x1="1614.22" y1="768.5" x2="1614.22" y2="772.5" stroke="#6a6a6a" stroke-width="0.6" />
<line x1="1616.94" y1="768.5" x2="1616.94" y2="772.5" stroke="#6a6a6a" stroke-width="0.6" />
<line x1="1619.66" y1="768.5" x2="1619.66" y2="772.5" stroke="#6a6a6a" stroke-width="0.6" />
<line x1="1622.38" y1="768.5" x2="1622.38" y2="772.5" stroke="#6a6a6a" stroke-width="0.6" />
<line x1="1625.1" y1="768.5" x2="1625.1" y2="772.5" stroke="#6a6a6a" stroke-width="0.6" />
<line x1="1627.82" y1="768.5" x2="1627.82" y2="772.5" stroke="#6a6a6a" stroke-width="0.6" />
<line x1="1630.54" y1="768.5" x2="1630.54" y2="772.5" stroke="#6a6a6a" stroke-width="0.6" />
<line x1="1633.26" y1="768.5" x2="1633.26" y2="772.5" stroke="#6a6a6a" stroke-width="0.6" />
<line x1="1635.98" y1="768.5" x2="1635.98" y2="772.5" stroke="#6a6a6a" stroke-width="0.6" />
<line x1="1638.7" y1="768.5" x2="1638.7" y2="772.5" stroke="#6a6a6a" stroke-width="0.6" />
<line x1="1641.42" y1="768.5" x2="1641.42" y2="772.5" stroke="#6a6a6a" stroke-width="0.6" />
<line x1="1644.14" y1="768.5" x2="1644.14" y2="772.5" stroke="#6a6a6a" stroke-width="0.6" />
<line x1="1646.86" y1="768.5" x2="1646.86" y2="772.5" stroke="#6a6a6a" stroke-width="0.6" />
<line x1="1649.58" y1="768.5" x2="1649.58" y2="772.5" stroke="#6a6a6a" stroke-width="0.6" />
<line x1="1652.3" y1="768.5" x2="1652.3" y2="772.5" stroke="#6a6a6a" stroke-width="0.6" />
<line x1="1655.02" y1="768.5" x2="1655.02" y2="772.5" stroke="#6a6a6a" stroke-width="0.6" />
<line x1="1657.74" y1="768.5" x2="1657.74" y2="772.5" stroke="#6a6a6a" stroke-width="0.6" />
<line x1="1660.46" y1="768.5" x2="1660.46" y2="772.5" stroke="#6a6a6a" stroke-width="0.6" />
<line x1="1663.18" y1="768.5" x2="1663.18" y2="772.5" stroke="#6a6a6a" stroke-width="0.6" />
<line x1="1665.9" y1="768.5" x2="1665.9" y2="772.5" stroke="#6a6a6a" stroke-width="0.6" />
<line x1="1668.62" y1="768.5" x2="1668.62" y2="772.5" stroke="#6a6a6a" stroke-width="0.6" />
<line x1="1671.34" y1="768.5" x2="1671.34" y2="772.5" stroke="#6a6a6a" stroke-width="0.6" />
<line x1="1674.06" y1="768.5" x2="1674.06" y2="772.5" stroke="#6a6a6a" stroke-width="0.6" />
<line x1="1676.78" y1="768.5" x2="1676.78" y2="772.5" stroke="#6a6a6a" stroke-width="0.6" />
<line x1="1679.5" y1="768.5" x2="1679.5" y2="772.5" stroke="#6a6a6a" stroke-width="0.6" />
<line x1="1682.22" y1="768.5" x2="1682.22" y2="772.5" stroke="#6a6a6a" stroke-width="0.6" />
<line x1="1684.94" y1="768.5" x2="1684.94" y2="772.5" stroke="#6a6a6a" stroke-width="0.6" />
<line x1="1687.66" y1="768.5" x2="1687.66" y2="772.5" stroke="#6a6a6a" stroke-width="0.6" />
<line x1="1690.38" y1="768.5" x2="1690.38" y2="772.5" stroke="#6a6a6a" stroke-width="0.6" />
<line x1="1583" y1="762" x2="1583" y2="768" stroke="#777" stroke-width="0.6" />
<line x1="1586" y1="762" x2="1586" y2="768" stroke="#777" stroke-width="0.6" />
<line x1="1589" y1="762" x2="1589" y2="768" stroke="#777" stroke-width="0.6" />
<line x1="1592" y1="762" x2="1592" y2="768" stroke="#777" stroke-width="0.6" />
<line x1="1595" y1="762" x2="1595" y2="768" stroke="#777" stroke-width="0.6" />
<line x1="1598" y1="762" x2="1598" y2="768" stroke="#777" stroke-width="0.6" />
<line x1="1601" y1="762" x2="1601" y2="768" stroke="#777" stroke-width="0.6" />
<line x1="1604" y1="762" x2="1604" y2="768" stroke="#777" stroke-width="0.6" />
<line x1="1607" y1="762" x2="1607" y2="768" stroke="#777" stroke-width="0.6" />
<line x1="1610" y1="762" x2="1610" y2="768" stroke="#777" stroke-width="0.6" />
<line x1="1613" y1="762" x2="1613" y2="768" stroke="#777" stroke-width="0.6" />
<line x1="1616" y1="762" x2="1616" y2="768" stroke="#777" stroke-width="0.6" />
<line x1="1619" y1="762" x2="1619" y2="768" stroke="#777" stroke-width="0.6" />
<line x1="1622" y1="762" x2="1622" y2="768" stroke="#777" stroke-width="0.6" />
<line x1="1625" y1="762" x2="1625" y2="768" stroke="#777" stroke-width="0.6" />
<line x1="1628" y1="762" x2="1628" y2="768" stroke="#777" stroke-width="0.6" />
<line x1="1631" y1="762" x2="1631" y2="768" stroke="#777" stroke-width="0.6" />
<line x1="1634" y1="762" x2="1634" y2="768" stroke="#777" stroke-width="0.6" />
<line x1="1637" y1="762" x2="1637" y2="768" stroke="#777" stroke-width="0.6" />
<line x1="1640" y1="762" x2="1640" y2="768" stroke="#777" stroke-width="0.6" />
<line x1="1643" y1="762" x2="1643" y2="768" stroke="#777" stroke-width="0.6" />
<line x1="1646" y1="762" x2="1646" y2="768" stroke="#777" stroke-width="0.6" />
<line x1="1649" y1="762" x2="1649" y2="768" stroke="#777" stroke-width="0.6" />
<line x1="1652" y1="762" x2="1652" y2="768" stroke="#777" stroke-width="0.6" />
<line x1="1655" y1="762" x2="1655" y2="768" stroke="#777" stroke-width="0.6" />
<line x1="1658" y1="762" x2="1658" y2="768" stroke="#777" stroke-width="0.6" />
<line x1="1661" y1="762" x2="1661" y2="768" stroke="#777" stroke-width="0.6" />
<line x1="1664" y1="762" x2="1664" y2="768" stroke="#777" stroke-width="0.6" />
<line x1="1667" y1="762" x2="1667" y2="768" stroke="#777" stroke-width="0.6" />
<line x1="1670" y1="762" x2="1670" y2="768" stroke="#777" stroke-width="0.6" />
<line x1="1673" y1="762" x2="1673" y2="768" stroke="#777" stroke-width="0.6" />
<line x1="1676" y1="762" x2="1676" y2="768" stroke="#777" stroke-width="0.6" />
<line x1="1679" y1="762" x2="1679" y2="768" stroke="#777" stroke-width="0.6" />
<line x1="1682" y1="762" x2="1682" y2="768" stroke="#777" stroke-width="0.6" />
<line x1="1685" y1="762" x2="1685" y2="768" stroke="#777" stroke-width="0.6" />
<line x1="1688" y1="762" x2="1688" y2="768" stroke="#777" stroke-width="0.6" />
<line x1="1691" y1="762" x2="1691" y2="768" stroke="#777" stroke-width="0.6" />
<line x1="1694" y1="762" x2="1694" y2="768" stroke="#777" stroke-width="0.6" />
<line x1="1697" y1="762" x2="1697" y2="768" stroke="#777" stroke-width="0.6" />
<line x1="1700" y1="762" x2="1700" y2="768" stroke="#777" stroke-width="0.6" />
<line x1="1703" y1="762" x2="1703" y2="768" stroke="#777" stroke-width="0.6" />
<line x1="1706" y1="762" x2="1706" y2="768" stroke="#777" stroke-width="0.6" />
<line x1="1709" y1="762" x2="1709" y2="768" stroke="#777" stroke-width="0.6" />
<text x="1316.62" y="801" font-size="9.5">cm</text>
<text x="1334.67" y="805.3" font-size="16.5" fill="#1a1a1a" stroke="#1a1a1a" stroke-width="0.3">1</text>
<text x="1362.12" y="805.3" font-size="16.5" fill="#1a1a1a" stroke="#1a1a1a" stroke-width="0.3">2</text>
<text x="1389.32" y="805.3" font-size="16.5" fill="#1a1a1a" stroke="#1a1a1a" stroke-width="0.3">3</text>
<text x="1416.6" y="805.3" font-size="16.5" fill="#1a1a1a" stroke="#1a1a1a" stroke-width="0.3">4</text>
<text x="1443.72" y="805.3" font-size="16.5" fill="#1a1a1a" stroke="#1a1a1a" stroke-width="0.3">5</text>
<text x="1470.84" y="805.3" font-size="16.5" fill="#1a1a1a" stroke="#1a1a1a" stroke-width="0.3">6</text>
<text x="1498.12" y="805.3" font-size="16.5" fill="#1a1a1a" stroke="#1a1a1a" stroke-width="0.3">7</text>
<text x="1525.28" y="805.3" font-size="16.5" fill="#1a1a1a" stroke="#1a1a1a" stroke-width="0.3">8</text>
<text x="1552.52" y="805.3" font-size="16.5" fill="#1a1a1a" stroke="#1a1a1a" stroke-width="0.3">9</text>
<text x="1573.38" y="805.3" font-size="19" fill="#c4202c" stroke="#c4202c" stroke-width="0.3">10</text>
<text x="1602.71" y="805.3" font-size="16.5" fill="#1a1a1a" stroke="#1a1a1a" stroke-width="0.3">11</text>
<text x="1629.34" y="805.3" font-size="16.5" fill="#1a1a1a" stroke="#1a1a1a" stroke-width="0.3">12</text>
<text x="1656.45" y="805.3" font-size="16.5" fill="#1a1a1a" stroke="#1a1a1a" stroke-width="0.3">13</text>
<text x="1683.57" y="805.3" font-size="16.5" fill="#1a1a1a" stroke="#1a1a1a" stroke-width="0.3">14</text>
<text x="1243" y="507.2" font-size="23.2">Blank</text>
<text x="1268.4" y="563.9" font-size="23.2">NC</text>
<text x="1272.23" y="622.2" font-size="23.2">LC</text>
<text x="1265.74" y="680.8" font-size="23.2">MC</text>
<text x="1268.4" y="737.5" font-size="23.2">HC</text>
<text x="5.66" y="901.85" font-size="42" font-weight="bold">h</text>
<line x1="113.4" y1="921.25" x2="113.4" y2="1194.75" stroke="#000" stroke-width="2.3" />
<line x1="102.9" y1="922.4" x2="113.4" y2="922.4" stroke="#000" stroke-width="2.3" />
<text x="49.31" y="930.54" font-size="22.6">2000</text>
<line x1="102.9" y1="990.2" x2="113.4" y2="990.2" stroke="#000" stroke-width="2.3" />
<text x="49.31" y="998.34" font-size="22.6">1500</text>
<line x1="102.9" y1="1058" x2="113.4" y2="1058" stroke="#000" stroke-width="2.3" />
<text x="49.31" y="1066.14" font-size="22.6">1000</text>
<line x1="102.9" y1="1125.8" x2="113.4" y2="1125.8" stroke="#000" stroke-width="2.3" />
<text x="61.96" y="1133.94" font-size="22.6">500</text>
<line x1="102.9" y1="1193.6" x2="113.4" y2="1193.6" stroke="#000" stroke-width="2.3" />
<text x="87.05" y="1201.74" font-size="22.6">0</text>
<line x1="113.4" y1="1193.6" x2="520.8" y2="1193.6" stroke="#000" stroke-width="2.3" />
<line x1="113.4" y1="1193.6" x2="113.4" y2="1205" stroke="#000" stroke-width="2.3" />
<text x="107.07" y="1229.3" font-size="22.6">0</text>
<line x1="154.07" y1="1193.6" x2="154.07" y2="1205" stroke="#000" stroke-width="2.3" />
<text x="147.8" y="1229.3" font-size="22.6">2</text>
<line x1="194.74" y1="1193.6" x2="194.74" y2="1205" stroke="#000" stroke-width="2.3" />
<text x="188.58" y="1229.3" font-size="22.6">4</text>
<line x1="235.41" y1="1193.6" x2="235.41" y2="1205" stroke="#000" stroke-width="2.3" />
<text x="229.03" y="1229.3" font-size="22.6">6</text>
<line x1="276.08" y1="1193.6" x2="276.08" y2="1205" stroke="#000" stroke-width="2.3" />
<text x="269.75" y="1229.3" font-size="22.6">8</text>
<line x1="316.75" y1="1193.6" x2="316.75" y2="1205" stroke="#000" stroke-width="2.3" />
<text x="303.75" y="1229.3" font-size="22.6">10</text>
<line x1="357.42" y1="1193.6" x2="357.42" y2="1205" stroke="#000" stroke-width="2.3" />
<text x="344.59" y="1229.3" font-size="22.6">12</text>
<line x1="398.09" y1="1193.6" x2="398.09" y2="1205" stroke="#000" stroke-width="2.3" />
<text x="385.04" y="1229.3" font-size="22.6">14</text>
<line x1="438.76" y1="1193.6" x2="438.76" y2="1205" stroke="#000" stroke-width="2.3" />
<text x="425.82" y="1229.3" font-size="22.6">16</text>
<line x1="479.43" y1="1193.6" x2="479.43" y2="1205" stroke="#000" stroke-width="2.3" />
<text x="466.49" y="1229.3" font-size="22.6">18</text>
<line x1="520.1" y1="1193.6" x2="520.1" y2="1205" stroke="#000" stroke-width="2.3" />
<text x="507.39" y="1229.3" font-size="22.6">20</text>
<text x="200.28" y="1262.2" font-size="22.78">Days after implantation</text>
<text x="36.6" y="1056.8" font-size="23.3" text-anchor="middle" transform="rotate(-90 36.6 1056.8)">Tumor volume (mm<tspan dy="-8" font-size="15">3</tspan><tspan dy="8">)</tspan></text>
<path d="M113.4 1193.6 L235.41 1191.57 L276.08 1186.82 L316.75 1186.82 L357.42 1184.11 L398.09 1183.43 L438.76 1182.75 L479.43 1177.33 L520.1 1173.26" fill="none" stroke="#f23a3e" stroke-width="3" stroke-linejoin="round"/>
<line x1="520.1" y1="1171.23" x2="520.1" y2="1175.29" stroke="#f23a3e" stroke-width="1.8" />
<line x1="514.6" y1="1171.23" x2="525.6" y2="1171.23" stroke="#f23a3e" stroke-width="1.8" />
<line x1="514.6" y1="1175.29" x2="525.6" y2="1175.29" stroke="#f23a3e" stroke-width="1.8" />
<circle cx="113.4" cy="1193.6" r="5.6" fill="#f23a3e" />
<circle cx="235.41" cy="1191.57" r="5.6" fill="#f23a3e" />
<circle cx="276.08" cy="1186.82" r="5.6" fill="#f23a3e" />
<circle cx="316.75" cy="1186.82" r="5.6" fill="#f23a3e" />
<circle cx="357.42" cy="1184.11" r="5.6" fill="#f23a3e" />
<circle cx="398.09" cy="1183.43" r="5.6" fill="#f23a3e" />
<circle cx="438.76" cy="1182.75" r="5.6" fill="#f23a3e" />
<circle cx="479.43" cy="1177.33" r="5.6" fill="#f23a3e" />
<circle cx="520.1" cy="1173.26" r="5.6" fill="#f23a3e" />
<path d="M113.4 1193.6 L235.41 1191.57 L276.08 1186.14 L316.75 1184.79 L357.42 1178.68 L398.09 1177.33 L438.76 1170.55 L479.43 1162.41 L520.1 1148.85" fill="none" stroke="#ec9c4a" stroke-width="3" stroke-linejoin="round"/>
<line x1="520.1" y1="1144.11" x2="520.1" y2="1153.6" stroke="#ec9c4a" stroke-width="1.8" />
<line x1="514.6" y1="1144.11" x2="525.6" y2="1144.11" stroke="#ec9c4a" stroke-width="1.8" />
<line x1="514.6" y1="1153.6" x2="525.6" y2="1153.6" stroke="#ec9c4a" stroke-width="1.8" />
<circle cx="113.4" cy="1193.6" r="5.6" fill="#ec9c4a" />
<circle cx="235.41" cy="1191.57" r="5.6" fill="#ec9c4a" />
<circle cx="276.08" cy="1186.14" r="5.6" fill="#ec9c4a" />
<circle cx="316.75" cy="1184.79" r="5.6" fill="#ec9c4a" />
<circle cx="357.42" cy="1178.68" r="5.6" fill="#ec9c4a" />
<circle cx="398.09" cy="1177.33" r="5.6" fill="#ec9c4a" />
<circle cx="438.76" cy="1170.55" r="5.6" fill="#ec9c4a" />
<circle cx="479.43" cy="1162.41" r="5.6" fill="#ec9c4a" />
<circle cx="520.1" cy="1148.85" r="5.6" fill="#ec9c4a" />
<path d="M113.4 1193.6 L235.41 1191.57 L276.08 1185.46 L316.75 1184.11 L357.42 1177.33 L398.09 1165.12 L438.76 1151.56 L479.43 1133.94 L520.1 1094.61" fill="none" stroke="#d54bf5" stroke-width="3" stroke-linejoin="round"/>
<line x1="520.1" y1="1086.48" x2="520.1" y2="1102.75" stroke="#d54bf5" stroke-width="1.8" />
<line x1="514.6" y1="1086.48" x2="525.6" y2="1086.48" stroke="#d54bf5" stroke-width="1.8" />
<line x1="514.6" y1="1102.75" x2="525.6" y2="1102.75" stroke="#d54bf5" stroke-width="1.8" />
<circle cx="113.4" cy="1193.6" r="5.6" fill="#d54bf5" />
<circle cx="235.41" cy="1191.57" r="5.6" fill="#d54bf5" />
<circle cx="276.08" cy="1185.46" r="5.6" fill="#d54bf5" />
<circle cx="316.75" cy="1184.11" r="5.6" fill="#d54bf5" />
<circle cx="357.42" cy="1177.33" r="5.6" fill="#d54bf5" />
<circle cx="398.09" cy="1165.12" r="5.6" fill="#d54bf5" />
<circle cx="438.76" cy="1151.56" r="5.6" fill="#d54bf5" />
<circle cx="479.43" cy="1133.94" r="5.6" fill="#d54bf5" />
<circle cx="520.1" cy="1094.61" r="5.6" fill="#d54bf5" />
<path d="M113.4 1193.6 L235.41 1190.89 L276.08 1184.79 L316.75 1181.4 L357.42 1169.19 L398.09 1149.53 L438.76 1113.6 L479.43 1075.63 L520.1 1003.08" fill="none" stroke="#3b2cf5" stroke-width="3" stroke-linejoin="round"/>
<line x1="398.09" y1="1146.14" x2="398.09" y2="1152.92" stroke="#3b2cf5" stroke-width="1.8" />
<line x1="392.59" y1="1146.14" x2="403.59" y2="1146.14" stroke="#3b2cf5" stroke-width="1.8" />
<line x1="392.59" y1="1152.92" x2="403.59" y2="1152.92" stroke="#3b2cf5" stroke-width="1.8" />
<line x1="438.76" y1="1106.82" x2="438.76" y2="1120.38" stroke="#3b2cf5" stroke-width="1.8" />
<line x1="433.26" y1="1106.82" x2="444.26" y2="1106.82" stroke="#3b2cf5" stroke-width="1.8" />
<line x1="433.26" y1="1120.38" x2="444.26" y2="1120.38" stroke="#3b2cf5" stroke-width="1.8" />
<line x1="479.43" y1="1070.2" x2="479.43" y2="1081.05" stroke="#3b2cf5" stroke-width="1.8" />
<line x1="473.93" y1="1070.2" x2="484.93" y2="1070.2" stroke="#3b2cf5" stroke-width="1.8" />
<line x1="473.93" y1="1081.05" x2="484.93" y2="1081.05" stroke="#3b2cf5" stroke-width="1.8" />
<line x1="520.1" y1="996.98" x2="520.1" y2="1009.18" stroke="#3b2cf5" stroke-width="1.8" />
<line x1="514.6" y1="996.98" x2="525.6" y2="996.98" stroke="#3b2cf5" stroke-width="1.8" />
<line x1="514.6" y1="1009.18" x2="525.6" y2="1009.18" stroke="#3b2cf5" stroke-width="1.8" />
<circle cx="113.4" cy="1193.6" r="5.6" fill="#3b2cf5" />
<circle cx="235.41" cy="1190.89" r="5.6" fill="#3b2cf5" />
<circle cx="276.08" cy="1184.79" r="5.6" fill="#3b2cf5" />
<circle cx="316.75" cy="1181.4" r="5.6" fill="#3b2cf5" />
<circle cx="357.42" cy="1169.19" r="5.6" fill="#3b2cf5" />
<circle cx="398.09" cy="1149.53" r="5.6" fill="#3b2cf5" />
<circle cx="438.76" cy="1113.6" r="5.6" fill="#3b2cf5" />
<circle cx="479.43" cy="1075.63" r="5.6" fill="#3b2cf5" />
<circle cx="520.1" cy="1003.08" r="5.6" fill="#3b2cf5" />
<path d="M113.4 1193.6 L235.41 1189.8 L276.08 1184.11 L316.75 1177.06 L357.42 1171.5 L398.09 1152.92 L438.76 1117.94 L479.43 1079.97 L520.1 990.2" fill="none" stroke="#000" stroke-width="3" stroke-linejoin="round"/>
<line x1="398.09" y1="1148.85" x2="398.09" y2="1156.99" stroke="#000" stroke-width="1.8" />
<line x1="392.59" y1="1148.85" x2="403.59" y2="1148.85" stroke="#000" stroke-width="1.8" />
<line x1="392.59" y1="1156.99" x2="403.59" y2="1156.99" stroke="#000" stroke-width="1.8" />
<line x1="438.76" y1="1108.44" x2="438.76" y2="1127.43" stroke="#000" stroke-width="1.8" />
<line x1="433.26" y1="1108.44" x2="444.26" y2="1108.44" stroke="#000" stroke-width="1.8" />
<line x1="433.26" y1="1127.43" x2="444.26" y2="1127.43" stroke="#000" stroke-width="1.8" />
<line x1="479.43" y1="1073.19" x2="479.43" y2="1086.75" stroke="#000" stroke-width="1.8" />
<line x1="473.93" y1="1073.19" x2="484.93" y2="1073.19" stroke="#000" stroke-width="1.8" />
<line x1="473.93" y1="1086.75" x2="484.93" y2="1086.75" stroke="#000" stroke-width="1.8" />
<line x1="520.1" y1="980.71" x2="520.1" y2="999.69" stroke="#000" stroke-width="1.8" />
<line x1="514.6" y1="980.71" x2="525.6" y2="980.71" stroke="#000" stroke-width="1.8" />
<line x1="514.6" y1="999.69" x2="525.6" y2="999.69" stroke="#000" stroke-width="1.8" />
<circle cx="113.4" cy="1193.6" r="5.6" fill="#000" />
<circle cx="235.41" cy="1189.8" r="5.6" fill="#000" />
<circle cx="276.08" cy="1184.11" r="5.6" fill="#000" />
<circle cx="316.75" cy="1177.06" r="5.6" fill="#000" />
<circle cx="357.42" cy="1171.5" r="5.6" fill="#000" />
<circle cx="398.09" cy="1152.92" r="5.6" fill="#000" />
<circle cx="438.76" cy="1117.94" r="5.6" fill="#000" />
<circle cx="479.43" cy="1079.97" r="5.6" fill="#000" />
<circle cx="520.1" cy="990.2" r="5.6" fill="#000" />
<line x1="161.2" y1="933.9" x2="189" y2="933.9" stroke="#000" stroke-width="3" />
<circle cx="175.1" cy="933.9" r="5.6" fill="#000" />
<line x1="161.2" y1="965.8" x2="189" y2="965.8" stroke="#3b2cf5" stroke-width="3" />
<circle cx="175.1" cy="965.8" r="5.6" fill="#3b2cf5" />
<line x1="161.2" y1="1002.2" x2="189" y2="1002.2" stroke="#d54bf5" stroke-width="3" />
<circle cx="175.1" cy="1002.2" r="5.6" fill="#d54bf5" />
<line x1="161.2" y1="1039.3" x2="189" y2="1039.3" stroke="#ec9c4a" stroke-width="3" />
<circle cx="175.1" cy="1039.3" r="5.6" fill="#ec9c4a" />
<line x1="161.2" y1="1075" x2="189" y2="1075" stroke="#f23a3e" stroke-width="3" />
<circle cx="175.1" cy="1075" r="5.6" fill="#f23a3e" />
<text x="204.44" y="941.8" font-size="23.2">Blank</text>
<text x="204.44" y="973.6" font-size="23.2">NC</text>
<text x="204.44" y="1010.2" font-size="23.2">LC <tspan stroke="#000" stroke-width="0.5">****</tspan></text>
<text x="204.44" y="1047.3" font-size="23.2">MC <tspan stroke="#000" stroke-width="0.5">****</tspan> &amp;&amp;&amp;</text>
<text x="204.44" y="1083" font-size="23.2">HC <tspan stroke="#000" stroke-width="0.5">****</tspan> &amp;&amp;&amp;&amp;</text>
<line x1="273.2" y1="927.6" x2="273.2" y2="976.2" stroke="#000" stroke-width="2.2" />
<text x="279.39" y="957" font-size="23.2">ns</text>
<text x="553.56" y="899.25" font-size="42" font-weight="bold">i</text>
<line x1="666.1" y1="943.35" x2="666.1" y2="1217.45" stroke="#000" stroke-width="2.3" />
<line x1="655.1" y1="944.5" x2="666.1" y2="944.5" stroke="#000" stroke-width="2.3" />
<text x="640.71" y="952.6" font-size="22.5">5</text>
<line x1="655.1" y1="998.86" x2="666.1" y2="998.86" stroke="#000" stroke-width="2.3" />
<text x="640.49" y="1006.96" font-size="22.5">4</text>
<line x1="655.1" y1="1053.22" x2="666.1" y2="1053.22" stroke="#000" stroke-width="2.3" />
<text x="640.71" y="1061.32" font-size="22.5">3</text>
<line x1="655.1" y1="1107.58" x2="666.1" y2="1107.58" stroke="#000" stroke-width="2.3" />
<text x="640.94" y="1115.68" font-size="22.5">2</text>
<line x1="655.1" y1="1161.94" x2="666.1" y2="1161.94" stroke="#000" stroke-width="2.3" />
<text x="640.82" y="1170.04" font-size="22.5">1</text>
<line x1="655.1" y1="1216.3" x2="666.1" y2="1216.3" stroke="#000" stroke-width="2.3" />
<text x="640.6" y="1224.4" font-size="22.5">0</text>
<line x1="654.9" y1="1216.3" x2="959.2" y2="1216.3" stroke="#000" stroke-width="2.3" />
<line x1="702.5" y1="1216.3" x2="702.5" y2="1227.8" stroke="#000" stroke-width="2.3" />
<line x1="757.7" y1="1216.3" x2="757.7" y2="1227.8" stroke="#000" stroke-width="2.3" />
<line x1="813" y1="1216.3" x2="813" y2="1227.8" stroke="#000" stroke-width="2.3" />
<line x1="869" y1="1216.3" x2="869" y2="1227.8" stroke="#000" stroke-width="2.3" />
<line x1="924.6" y1="1216.3" x2="924.6" y2="1227.8" stroke="#000" stroke-width="2.3" />
<rect x="687.45" y="1086.85" width="29.9" height="129.45" fill="none" stroke="#626262" stroke-width="3.7" />
<rect x="742.65" y="1066.55" width="30.8" height="149.75" fill="none" stroke="#3b2cf5" stroke-width="3.7" />
<rect x="798.05" y="1032.15" width="30.6" height="184.15" fill="none" stroke="#d54bf5" stroke-width="3.7" />
<rect x="853.15" y="1023.85" width="30.9" height="192.45" fill="none" stroke="#f07d1e" stroke-width="3.7" />
<rect x="909.05" y="991.85" width="30.6" height="224.45" fill="none" stroke="#f23a3e" stroke-width="3.7" />
<circle cx="702.52" cy="1032.95" r="5.4" fill="none" stroke="#626262" stroke-width="2" />
<circle cx="702.52" cy="1070.14" r="5.4" fill="none" stroke="#626262" stroke-width="2" />
<circle cx="691.34" cy="1084.97" r="5.4" fill="none" stroke="#626262" stroke-width="2" />
<circle cx="702.52" cy="1095.37" r="5.4" fill="none" stroke="#626262" stroke-width="2" />
<circle cx="713.45" cy="1092.25" r="5.4" fill="none" stroke="#626262" stroke-width="2" />
<circle cx="702.52" cy="1123.98" r="5.4" fill="none" stroke="#626262" stroke-width="2" />
<circle cx="758.18" cy="1039.45" r="5.4" fill="none" stroke="#3b2cf5" stroke-width="2" />
<circle cx="745.96" cy="1054.54" r="5.4" fill="none" stroke="#3b2cf5" stroke-width="2" />
<circle cx="754.54" cy="1058.96" r="5.4" fill="none" stroke="#3b2cf5" stroke-width="2" />
<circle cx="760.26" cy="1066.76" r="5.4" fill="none" stroke="#3b2cf5" stroke-width="2" />
<circle cx="769.36" cy="1070.14" r="5.4" fill="none" stroke="#3b2cf5" stroke-width="2" />
<circle cx="758.18" cy="1091.47" r="5.4" fill="none" stroke="#3b2cf5" stroke-width="2" />
<circle cx="801.87" cy="1029.57" r="5.4" fill="none" stroke="#d54bf5" stroke-width="2" />
<circle cx="816.18" cy="1026.45" r="5.4" fill="none" stroke="#d54bf5" stroke-width="2" />
<circle cx="808.37" cy="1031.65" r="5.4" fill="none" stroke="#d54bf5" stroke-width="2" />
<circle cx="820.08" cy="1033.73" r="5.4" fill="none" stroke="#d54bf5" stroke-width="2" />
<circle cx="825.28" cy="1034.77" r="5.4" fill="none" stroke="#d54bf5" stroke-width="2" />
<circle cx="812.28" cy="1033.73" r="5.4" fill="none" stroke="#d54bf5" stroke-width="2" />
<circle cx="857.27" cy="1016.57" r="5.4" fill="none" stroke="#f07d1e" stroke-width="2" />
<circle cx="881.2" cy="1007.72" r="5.4" fill="none" stroke="#f07d1e" stroke-width="2" />
<circle cx="865.59" cy="1017.35" r="5.4" fill="none" stroke="#f07d1e" stroke-width="2" />
<circle cx="873.39" cy="1023.33" r="5.4" fill="none" stroke="#f07d1e" stroke-width="2" />
<circle cx="864.29" cy="1026.45" r="5.4" fill="none" stroke="#f07d1e" stroke-width="2" />
<circle cx="873.39" cy="1038.93" r="5.4" fill="none" stroke="#f07d1e" stroke-width="2" />
<circle cx="924.11" cy="961.43" r="5.4" fill="none" stroke="#f23a3e" stroke-width="2" />
<circle cx="913.71" cy="982.24" r="5.4" fill="none" stroke="#f23a3e" stroke-width="2" />
<circle cx="933.99" cy="980.94" r="5.4" fill="none" stroke="#f23a3e" stroke-width="2" />
<circle cx="918.39" cy="988.74" r="5.4" fill="none" stroke="#f23a3e" stroke-width="2" />
<circle cx="933.99" cy="1001.74" r="5.4" fill="none" stroke="#f23a3e" stroke-width="2" />
<circle cx="924.11" cy="1019.95" r="5.4" fill="none" stroke="#f23a3e" stroke-width="2" />
<line x1="702.5" y1="1071.5" x2="702.5" y2="1098.5" stroke="#626262" stroke-width="1.7" />
<line x1="694" y1="1071.5" x2="711" y2="1071.5" stroke="#626262" stroke-width="1.7" />
<line x1="694" y1="1098.5" x2="711" y2="1098.5" stroke="#626262" stroke-width="1.7" />
<line x1="757.7" y1="1056" x2="757.7" y2="1073" stroke="#3b2cf5" stroke-width="1.7" />
<line x1="749.2" y1="1056" x2="766.2" y2="1056" stroke="#3b2cf5" stroke-width="1.7" />
<line x1="749.2" y1="1073" x2="766.2" y2="1073" stroke="#3b2cf5" stroke-width="1.7" />
<line x1="813" y1="1027" x2="813" y2="1033" stroke="#d54bf5" stroke-width="1.7" />
<line x1="804.5" y1="1027" x2="821.5" y2="1027" stroke="#d54bf5" stroke-width="1.7" />
<line x1="804.5" y1="1033" x2="821.5" y2="1033" stroke="#d54bf5" stroke-width="1.7" />
<line x1="869" y1="1017" x2="869" y2="1027" stroke="#f07d1e" stroke-width="1.7" />
<line x1="860.5" y1="1017" x2="877.5" y2="1017" stroke="#f07d1e" stroke-width="1.7" />
<line x1="860.5" y1="1027" x2="877.5" y2="1027" stroke="#f07d1e" stroke-width="1.7" />
<line x1="924.6" y1="981" x2="924.6" y2="998" stroke="#f23a3e" stroke-width="1.7" />
<line x1="916.1" y1="981" x2="933.1" y2="981" stroke="#f23a3e" stroke-width="1.7" />
<line x1="916.1" y1="998" x2="933.1" y2="998" stroke="#f23a3e" stroke-width="1.7" />
<line x1="697.8" y1="1015.3" x2="755" y2="1015.3" stroke="#000" stroke-width="2.3" />
<text x="717.12" y="1004.3" font-size="23">ns</text>
<text x="808.22" y="1023.42" font-size="24.5" stroke="#000" stroke-width="0.55">*</text>
<text x="859.45" y="1007.62" font-size="24.5" stroke="#000" stroke-width="0.55">**</text>
<text x="904.95" y="962.32" font-size="24.5" stroke="#000" stroke-width="0.55">****</text>
<text x="909.49" y="936.21" font-size="21.5" stroke="#000" stroke-width="0.3">&amp;&amp;</text>
<text x="918.03" y="914.16" font-size="21.5" stroke="#000" stroke-width="0.55">#</text>
<text x="673.48" y="1250.1" font-size="22.5">Blank</text>
<text x="740.99" y="1250.1" font-size="22.5">NC</text>
<text x="798.15" y="1250.1" font-size="22.5">LC</text>
<text x="851" y="1250.1" font-size="22.5">MC</text>
<text x="907.89" y="1250.1" font-size="22.5">HC</text>
<text x="799.38" y="908.6" font-size="21.08">TIL</text>
<text x="628.5" y="1079.1" font-size="23.2" text-anchor="middle" transform="rotate(-90 628.5 1079.1)">Tumor infiltrating immune cells (×10<tspan dy="-8" font-size="15">6</tspan><tspan dy="8">)</tspan></text>
<text x="1001.83" y="896.45" font-size="42" font-weight="bold">j</text>
<line x1="1057.9" y1="949.85" x2="1057.9" y2="1223.45" stroke="#000" stroke-width="2.3" />
<line x1="1046.9" y1="951" x2="1057.9" y2="951" stroke="#000" stroke-width="2.3" />
<text x="1019.91" y="959.1" font-size="22.5">10</text>
<line x1="1046.9" y1="1005.26" x2="1057.9" y2="1005.26" stroke="#000" stroke-width="2.3" />
<text x="1032.51" y="1013.36" font-size="22.5">8</text>
<line x1="1046.9" y1="1059.52" x2="1057.9" y2="1059.52" stroke="#000" stroke-width="2.3" />
<text x="1032.51" y="1067.62" font-size="22.5">6</text>
<line x1="1046.9" y1="1113.78" x2="1057.9" y2="1113.78" stroke="#000" stroke-width="2.3" />
<text x="1032.29" y="1121.88" font-size="22.5">4</text>
<line x1="1046.9" y1="1168.04" x2="1057.9" y2="1168.04" stroke="#000" stroke-width="2.3" />
<text x="1032.74" y="1176.14" font-size="22.5">2</text>
<line x1="1046.9" y1="1222.3" x2="1057.9" y2="1222.3" stroke="#000" stroke-width="2.3" />
<text x="1032.4" y="1230.4" font-size="22.5">0</text>
<line x1="1045.4" y1="1222.3" x2="1354.4" y2="1222.3" stroke="#000" stroke-width="2.3" />
<line x1="1094.1" y1="1222.3" x2="1094.1" y2="1233.8" stroke="#000" stroke-width="2.3" />
<line x1="1149.5" y1="1222.3" x2="1149.5" y2="1233.8" stroke="#000" stroke-width="2.3" />
<line x1="1204.9" y1="1222.3" x2="1204.9" y2="1233.8" stroke="#000" stroke-width="2.3" />
<line x1="1260.5" y1="1222.3" x2="1260.5" y2="1233.8" stroke="#000" stroke-width="2.3" />
<line x1="1315.9" y1="1222.3" x2="1315.9" y2="1233.8" stroke="#000" stroke-width="2.3" />
<rect x="1078.45" y="1176.55" width="30.9" height="45.75" fill="none" stroke="#626262" stroke-width="3.7" />
<rect x="1133.65" y="1172.65" width="31.4" height="49.65" fill="none" stroke="#3b2cf5" stroke-width="3.7" />
<rect x="1189.25" y="1126.35" width="31.2" height="95.95" fill="none" stroke="#d54bf5" stroke-width="3.7" />
<rect x="1244.95" y="1106.35" width="30.9" height="115.95" fill="none" stroke="#f07d1e" stroke-width="3.7" />
<rect x="1300.05" y="1047.85" width="31.4" height="174.45" fill="none" stroke="#f23a3e" stroke-width="3.7" />
<circle cx="1083.13" cy="1168.19" r="5.4" fill="none" stroke="#626262" stroke-width="2" />
<circle cx="1091.72" cy="1165.59" r="5.4" fill="none" stroke="#626262" stroke-width="2" />
<circle cx="1098.74" cy="1164.81" r="5.4" fill="none" stroke="#626262" stroke-width="2" />
<circle cx="1085.73" cy="1174.69" r="5.4" fill="none" stroke="#626262" stroke-width="2" />
<circle cx="1097.44" cy="1178.6" r="5.4" fill="none" stroke="#626262" stroke-width="2" />
<circle cx="1105.24" cy="1185.1" r="5.4" fill="none" stroke="#626262" stroke-width="2" />
<circle cx="1149.45" cy="1152.59" r="5.4" fill="none" stroke="#3b2cf5" stroke-width="2" />
<circle cx="1137.75" cy="1161.69" r="5.4" fill="none" stroke="#3b2cf5" stroke-width="2" />
<circle cx="1148.15" cy="1169.49" r="5.4" fill="none" stroke="#3b2cf5" stroke-width="2" />
<circle cx="1154.66" cy="1172.09" r="5.4" fill="none" stroke="#3b2cf5" stroke-width="2" />
<circle cx="1161.68" cy="1174.69" r="5.4" fill="none" stroke="#3b2cf5" stroke-width="2" />
<circle cx="1149.45" cy="1192.38" r="5.4" fill="none" stroke="#3b2cf5" stroke-width="2" />
<circle cx="1204.85" cy="1088.35" r="5.4" fill="none" stroke="#d54bf5" stroke-width="2" />
<circle cx="1204.85" cy="1107.59" r="5.4" fill="none" stroke="#d54bf5" stroke-width="2" />
<circle cx="1196.27" cy="1125.28" r="5.4" fill="none" stroke="#d54bf5" stroke-width="2" />
<circle cx="1214.47" cy="1131.78" r="5.4" fill="none" stroke="#d54bf5" stroke-width="2" />
<circle cx="1196.27" cy="1142.18" r="5.4" fill="none" stroke="#d54bf5" stroke-width="2" />
<circle cx="1214.47" cy="1147.39" r="5.4" fill="none" stroke="#d54bf5" stroke-width="2" />
<circle cx="1260.51" cy="1060.78" r="5.4" fill="none" stroke="#f07d1e" stroke-width="2" />
<circle cx="1248.28" cy="1098.75" r="5.4" fill="none" stroke="#f07d1e" stroke-width="2" />
<circle cx="1260.51" cy="1105.77" r="5.4" fill="none" stroke="#f07d1e" stroke-width="2" />
<circle cx="1271.69" cy="1112.28" r="5.4" fill="none" stroke="#f07d1e" stroke-width="2" />
<circle cx="1254.79" cy="1116.18" r="5.4" fill="none" stroke="#f07d1e" stroke-width="2" />
<circle cx="1266.49" cy="1130.48" r="5.4" fill="none" stroke="#f07d1e" stroke-width="2" />
<circle cx="1315.9" cy="991.34" r="5.4" fill="none" stroke="#f23a3e" stroke-width="2" />
<circle cx="1315.9" cy="1020.47" r="5.4" fill="none" stroke="#f23a3e" stroke-width="2" />
<circle cx="1306.8" cy="1038.93" r="5.4" fill="none" stroke="#f23a3e" stroke-width="2" />
<circle cx="1325.01" cy="1047.26" r="5.4" fill="none" stroke="#f23a3e" stroke-width="2" />
<circle cx="1315.9" cy="1077.69" r="5.4" fill="none" stroke="#f23a3e" stroke-width="2" />
<circle cx="1315.9" cy="1097.97" r="5.4" fill="none" stroke="#f23a3e" stroke-width="2" />
<line x1="1094.1" y1="1171" x2="1094.1" y2="1179" stroke="#626262" stroke-width="1.7" />
<line x1="1085.6" y1="1171" x2="1102.6" y2="1171" stroke="#626262" stroke-width="1.7" />
<line x1="1085.6" y1="1179" x2="1102.6" y2="1179" stroke="#626262" stroke-width="1.7" />
<line x1="1149.5" y1="1165.5" x2="1149.5" y2="1176" stroke="#3b2cf5" stroke-width="1.7" />
<line x1="1141" y1="1165.5" x2="1158" y2="1165.5" stroke="#3b2cf5" stroke-width="1.7" />
<line x1="1141" y1="1176" x2="1158" y2="1176" stroke="#3b2cf5" stroke-width="1.7" />
<line x1="1204.9" y1="1114" x2="1204.9" y2="1135" stroke="#d54bf5" stroke-width="1.7" />
<line x1="1196.4" y1="1114" x2="1213.4" y2="1114" stroke="#d54bf5" stroke-width="1.7" />
<line x1="1196.4" y1="1135" x2="1213.4" y2="1135" stroke="#d54bf5" stroke-width="1.7" />
<line x1="1260.5" y1="1095.5" x2="1260.5" y2="1113" stroke="#f07d1e" stroke-width="1.7" />
<line x1="1252" y1="1095.5" x2="1269" y2="1095.5" stroke="#f07d1e" stroke-width="1.7" />
<line x1="1252" y1="1113" x2="1269" y2="1113" stroke="#f07d1e" stroke-width="1.7" />
<line x1="1315.9" y1="1030" x2="1315.9" y2="1061" stroke="#f23a3e" stroke-width="1.7" />
<line x1="1307.4" y1="1030" x2="1324.4" y2="1030" stroke="#f23a3e" stroke-width="1.7" />
<line x1="1307.4" y1="1061" x2="1324.4" y2="1061" stroke="#f23a3e" stroke-width="1.7" />
<line x1="1089.6" y1="1138.8" x2="1146.9" y2="1138.8" stroke="#000" stroke-width="2.3" />
<text x="1108.92" y="1129.2" font-size="23">ns</text>
<text x="1199.82" y="1085.92" font-size="24.5" stroke="#000" stroke-width="0.55">*</text>
<text x="1246.97" y="1056.92" font-size="24.5" stroke="#000" stroke-width="0.55">***</text>
<text x="1296.05" y="988.32" font-size="24.5" stroke="#000" stroke-width="0.55">****</text>
<text x="1286.24" y="961.51" font-size="21.5" stroke="#000" stroke-width="0.3">&amp;&amp;&amp;&amp;</text>
<text x="1303.17" y="941.16" font-size="21.5" stroke="#000" stroke-width="0.55">##</text>
<text x="1065.07" y="1256.6" font-size="22.5">Blank</text>
<text x="1132.79" y="1256.6" font-size="22.5">NC</text>
<text x="1190.05" y="1256.6" font-size="22.5">LC</text>
<text x="1242.5" y="1256.6" font-size="22.5">MC</text>
<text x="1299.19" y="1256.6" font-size="22.5">HC</text>
<text x="1190.57" y="914.6" font-size="21.51">TIL</text>
<text x="1005.5" y="1086.9" font-size="23.2" text-anchor="middle" transform="rotate(-90 1005.5 1086.9)">CD8<tspan dy="-8" font-size="15">+</tspan><tspan dy="8"> T cells(%)</tspan></text>
<text x="1377.86" y="901.05" font-size="42" font-weight="bold">k</text>
<line x1="1455.5" y1="949.85" x2="1455.5" y2="1223.15" stroke="#000" stroke-width="2.3" />
<line x1="1444.5" y1="951" x2="1455.5" y2="951" stroke="#000" stroke-width="2.3" />
<text x="1415.61" y="959.1" font-size="22.5">50</text>
<line x1="1444.5" y1="1005.2" x2="1455.5" y2="1005.2" stroke="#000" stroke-width="2.3" />
<text x="1415.61" y="1013.3" font-size="22.5">40</text>
<line x1="1444.5" y1="1059.4" x2="1455.5" y2="1059.4" stroke="#000" stroke-width="2.3" />
<text x="1415.61" y="1067.5" font-size="22.5">30</text>
<line x1="1444.5" y1="1113.6" x2="1455.5" y2="1113.6" stroke="#000" stroke-width="2.3" />
<text x="1415.61" y="1121.7" font-size="22.5">20</text>
<line x1="1444.5" y1="1167.8" x2="1455.5" y2="1167.8" stroke="#000" stroke-width="2.3" />
<text x="1415.61" y="1175.9" font-size="22.5">10</text>
<line x1="1444.5" y1="1222" x2="1455.5" y2="1222" stroke="#000" stroke-width="2.3" />
<text x="1428.1" y="1230.1" font-size="22.5">0</text>
<line x1="1444.7" y1="1222" x2="1752.9" y2="1222" stroke="#000" stroke-width="2.3" />
<line x1="1492.1" y1="1222" x2="1492.1" y2="1233.5" stroke="#000" stroke-width="2.3" />
<line x1="1547.5" y1="1222" x2="1547.5" y2="1233.5" stroke="#000" stroke-width="2.3" />
<line x1="1602.9" y1="1222" x2="1602.9" y2="1233.5" stroke="#000" stroke-width="2.3" />
<line x1="1658.3" y1="1222" x2="1658.3" y2="1233.5" stroke="#000" stroke-width="2.3" />
<line x1="1713.9" y1="1222" x2="1713.9" y2="1233.5" stroke="#000" stroke-width="2.3" />
<rect x="1477.35" y="1135.25" width="30" height="86.75" fill="none" stroke="#626262" stroke-width="3.7" />
<rect x="1532.05" y="1129.85" width="30.7" height="92.15" fill="none" stroke="#3b2cf5" stroke-width="3.7" />
<rect x="1587.45" y="1094.25" width="31.2" height="127.75" fill="none" stroke="#d54bf5" stroke-width="3.7" />
<rect x="1642.85" y="1065.35" width="31.2" height="156.65" fill="none" stroke="#f07d1e" stroke-width="3.7" />
<rect x="1698.65" y="1029.75" width="30.8" height="192.25" fill="none" stroke="#f23a3e" stroke-width="3.7" />
<circle cx="1496.45" cy="1109.28" r="5.4" fill="none" stroke="#626262" stroke-width="2" />
<circle cx="1489.22" cy="1121.32" r="5.4" fill="none" stroke="#626262" stroke-width="2" />
<circle cx="1480.79" cy="1134.57" r="5.4" fill="none" stroke="#626262" stroke-width="2" />
<circle cx="1490.42" cy="1136.97" r="5.4" fill="none" stroke="#626262" stroke-width="2" />
<circle cx="1495.72" cy="1145.4" r="5.4" fill="none" stroke="#626262" stroke-width="2" />
<circle cx="1502.95" cy="1147.81" r="5.4" fill="none" stroke="#626262" stroke-width="2" />
<circle cx="1536.18" cy="1118.91" r="5.4" fill="none" stroke="#3b2cf5" stroke-width="2" />
<circle cx="1544.61" cy="1116.5" r="5.4" fill="none" stroke="#3b2cf5" stroke-width="2" />
<circle cx="1553.53" cy="1114.82" r="5.4" fill="none" stroke="#3b2cf5" stroke-width="2" />
<circle cx="1549.43" cy="1121.32" r="5.4" fill="none" stroke="#3b2cf5" stroke-width="2" />
<circle cx="1559.55" cy="1135.05" r="5.4" fill="none" stroke="#3b2cf5" stroke-width="2" />
<circle cx="1547.75" cy="1152.63" r="5.4" fill="none" stroke="#3b2cf5" stroke-width="2" />
<circle cx="1591.58" cy="1083.99" r="5.4" fill="none" stroke="#d54bf5" stroke-width="2" />
<circle cx="1603.62" cy="1082.78" r="5.4" fill="none" stroke="#d54bf5" stroke-width="2" />
<circle cx="1597.6" cy="1090.01" r="5.4" fill="none" stroke="#d54bf5" stroke-width="2" />
<circle cx="1602.42" cy="1094.83" r="5.4" fill="none" stroke="#d54bf5" stroke-width="2" />
<circle cx="1608.44" cy="1097.24" r="5.4" fill="none" stroke="#d54bf5" stroke-width="2" />
<circle cx="1614.46" cy="1100.37" r="5.4" fill="none" stroke="#d54bf5" stroke-width="2" />
<circle cx="1659.02" cy="1016.07" r="5.4" fill="none" stroke="#f07d1e" stroke-width="2" />
<circle cx="1658.29" cy="1035.34" r="5.4" fill="none" stroke="#f07d1e" stroke-width="2" />
<circle cx="1649.38" cy="1061.83" r="5.4" fill="none" stroke="#f07d1e" stroke-width="2" />
<circle cx="1667.93" cy="1074.35" r="5.4" fill="none" stroke="#f07d1e" stroke-width="2" />
<circle cx="1649.38" cy="1092.42" r="5.4" fill="none" stroke="#f07d1e" stroke-width="2" />
<circle cx="1668.65" cy="1093.14" r="5.4" fill="none" stroke="#f07d1e" stroke-width="2" />
<circle cx="1713.93" cy="985.96" r="5.4" fill="none" stroke="#f23a3e" stroke-width="2" />
<circle cx="1702.37" cy="1016.07" r="5.4" fill="none" stroke="#f23a3e" stroke-width="2" />
<circle cx="1715.62" cy="1025.7" r="5.4" fill="none" stroke="#f23a3e" stroke-width="2" />
<circle cx="1726.45" cy="1026.18" r="5.4" fill="none" stroke="#f23a3e" stroke-width="2" />
<circle cx="1704.78" cy="1055.09" r="5.4" fill="none" stroke="#f23a3e" stroke-width="2" />
<circle cx="1718.03" cy="1056.29" r="5.4" fill="none" stroke="#f23a3e" stroke-width="2" />
<line x1="1492.1" y1="1126" x2="1492.1" y2="1140.5" stroke="#626262" stroke-width="1.7" />
<line x1="1483.6" y1="1126" x2="1500.6" y2="1126" stroke="#626262" stroke-width="1.7" />
<line x1="1483.6" y1="1140.5" x2="1500.6" y2="1140.5" stroke="#626262" stroke-width="1.7" />
<line x1="1547.5" y1="1121" x2="1547.5" y2="1134.5" stroke="#3b2cf5" stroke-width="1.7" />
<line x1="1539" y1="1121" x2="1556" y2="1121" stroke="#3b2cf5" stroke-width="1.7" />
<line x1="1539" y1="1134.5" x2="1556" y2="1134.5" stroke="#3b2cf5" stroke-width="1.7" />
<line x1="1602.9" y1="1088" x2="1602.9" y2="1096.5" stroke="#d54bf5" stroke-width="1.7" />
<line x1="1594.4" y1="1088" x2="1611.4" y2="1088" stroke="#d54bf5" stroke-width="1.7" />
<line x1="1594.4" y1="1096.5" x2="1611.4" y2="1096.5" stroke="#d54bf5" stroke-width="1.7" />
<line x1="1658.3" y1="1050.5" x2="1658.3" y2="1077" stroke="#f07d1e" stroke-width="1.7" />
<line x1="1649.8" y1="1050.5" x2="1666.8" y2="1050.5" stroke="#f07d1e" stroke-width="1.7" />
<line x1="1649.8" y1="1077" x2="1666.8" y2="1077" stroke="#f07d1e" stroke-width="1.7" />
<line x1="1713.9" y1="1017" x2="1713.9" y2="1038.5" stroke="#f23a3e" stroke-width="1.7" />
<line x1="1705.4" y1="1017" x2="1722.4" y2="1017" stroke="#f23a3e" stroke-width="1.7" />
<line x1="1705.4" y1="1038.5" x2="1722.4" y2="1038.5" stroke="#f23a3e" stroke-width="1.7" />
<line x1="1492.4" y1="1094.8" x2="1548.7" y2="1094.8" stroke="#000" stroke-width="2.3" />
<text x="1510.92" y="1085.2" font-size="23">ns</text>
<text x="1598.12" y="1079.12" font-size="24.5" stroke="#000" stroke-width="0.55">*</text>
<text x="1644.67" y="1015.62" font-size="24.5" stroke="#000" stroke-width="0.55">***</text>
<text x="1694.85" y="985.82" font-size="24.5" stroke="#000" stroke-width="0.55">****</text>
<text x="1692.19" y="961.81" font-size="21.5" stroke="#000" stroke-width="0.3">&amp;&amp;&amp;</text>
<text x="1707.93" y="940.76" font-size="21.5" stroke="#000" stroke-width="0.55">#</text>
<text x="1463.07" y="1255" font-size="22.5">Blank</text>
<text x="1530.79" y="1255" font-size="22.5">NC</text>
<text x="1588.05" y="1255" font-size="22.5">LC</text>
<text x="1640.3" y="1255" font-size="22.5">MC</text>
<text x="1697.19" y="1255" font-size="22.5">HC</text>
<text x="1582.27" y="914.2" font-size="23.22">dLN</text>
<text x="1403" y="1087" font-size="23.2" text-anchor="middle" transform="rotate(-90 1403 1087)">CD8<tspan dy="-8" font-size="15">+</tspan><tspan dy="8"> T cells(%)</tspan></text>
<text x="3.26" y="1327.05" font-size="42" font-weight="bold">l</text>
<line x1="170.6" y1="1330.15" x2="170.6" y2="1604.35" stroke="#000" stroke-width="2.3" />
<line x1="159.6" y1="1331.3" x2="170.6" y2="1331.3" stroke="#000" stroke-width="2.3" />
<text x="131.11" y="1339.4" font-size="22.5">80</text>
<line x1="159.6" y1="1399.28" x2="170.6" y2="1399.28" stroke="#000" stroke-width="2.3" />
<text x="131.11" y="1407.38" font-size="22.5">60</text>
<line x1="159.6" y1="1467.25" x2="170.6" y2="1467.25" stroke="#000" stroke-width="2.3" />
<text x="131.11" y="1475.35" font-size="22.5">40</text>
<line x1="159.6" y1="1535.22" x2="170.6" y2="1535.22" stroke="#000" stroke-width="2.3" />
<text x="131.11" y="1543.32" font-size="22.5">20</text>
<line x1="159.6" y1="1603.2" x2="170.6" y2="1603.2" stroke="#000" stroke-width="2.3" />
<text x="143.6" y="1611.3" font-size="22.5">0</text>
<line x1="159.5" y1="1603.2" x2="466.4" y2="1603.2" stroke="#000" stroke-width="2.3" />
<circle cx="207" cy="1612.7" r="1.2" fill="#000" />
<circle cx="262.5" cy="1612.7" r="1.2" fill="#000" />
<circle cx="318" cy="1612.7" r="1.2" fill="#000" />
<line x1="373.4" y1="1603.2" x2="373.4" y2="1614.7" stroke="#000" stroke-width="2.3" />
<line x1="428.9" y1="1603.2" x2="428.9" y2="1614.7" stroke="#000" stroke-width="2.3" />
<rect x="191.85" y="1491.65" width="31" height="111.55" fill="none" stroke="#626262" stroke-width="3.7" />
<rect x="246.95" y="1492.35" width="31" height="110.85" fill="none" stroke="#3b2cf5" stroke-width="3.7" />
<rect x="302.45" y="1448.95" width="31" height="154.25" fill="none" stroke="#d54bf5" stroke-width="3.7" />
<rect x="357.95" y="1429.85" width="31" height="173.35" fill="none" stroke="#f07d1e" stroke-width="3.7" />
<rect x="413.75" y="1399.75" width="30.7" height="203.45" fill="none" stroke="#f23a3e" stroke-width="3.7" />
<circle cx="219.14" cy="1463.77" r="5.4" fill="none" stroke="#626262" stroke-width="2" />
<circle cx="195.91" cy="1467.93" r="5.4" fill="none" stroke="#626262" stroke-width="2" />
<circle cx="207" cy="1475.91" r="5.4" fill="none" stroke="#626262" stroke-width="2" />
<circle cx="195.91" cy="1501.91" r="5.4" fill="none" stroke="#626262" stroke-width="2" />
<circle cx="207" cy="1505.38" r="5.4" fill="none" stroke="#626262" stroke-width="2" />
<circle cx="218.45" cy="1516.48" r="5.4" fill="none" stroke="#626262" stroke-width="2" />
<circle cx="268.72" cy="1470.01" r="5.4" fill="none" stroke="#3b2cf5" stroke-width="2" />
<circle cx="258.32" cy="1473.48" r="5.4" fill="none" stroke="#3b2cf5" stroke-width="2" />
<circle cx="251.39" cy="1479.38" r="5.4" fill="none" stroke="#3b2cf5" stroke-width="2" />
<circle cx="262.83" cy="1486.31" r="5.4" fill="none" stroke="#3b2cf5" stroke-width="2" />
<circle cx="273.93" cy="1491.51" r="5.4" fill="none" stroke="#3b2cf5" stroke-width="2" />
<circle cx="262.83" cy="1534.85" r="5.4" fill="none" stroke="#3b2cf5" stroke-width="2" />
<circle cx="321.78" cy="1421.47" r="5.4" fill="none" stroke="#d54bf5" stroke-width="2" />
<circle cx="313.8" cy="1430.83" r="5.4" fill="none" stroke="#d54bf5" stroke-width="2" />
<circle cx="305.13" cy="1448.86" r="5.4" fill="none" stroke="#d54bf5" stroke-width="2" />
<circle cx="315.53" cy="1449.9" r="5.4" fill="none" stroke="#d54bf5" stroke-width="2" />
<circle cx="329.4" cy="1455.1" r="5.4" fill="none" stroke="#d54bf5" stroke-width="2" />
<circle cx="319" cy="1463.77" r="5.4" fill="none" stroke="#d54bf5" stroke-width="2" />
<circle cx="360.61" cy="1410.03" r="5.4" fill="none" stroke="#f07d1e" stroke-width="2" />
<circle cx="373.44" cy="1410.03" r="5.4" fill="none" stroke="#f07d1e" stroke-width="2" />
<circle cx="384.88" cy="1404.83" r="5.4" fill="none" stroke="#f07d1e" stroke-width="2" />
<circle cx="364.08" cy="1432.57" r="5.4" fill="none" stroke="#f07d1e" stroke-width="2" />
<circle cx="377.95" cy="1436.03" r="5.4" fill="none" stroke="#f07d1e" stroke-width="2" />
<circle cx="373.44" cy="1466.2" r="5.4" fill="none" stroke="#f07d1e" stroke-width="2" />
<circle cx="416.09" cy="1367.38" r="5.4" fill="none" stroke="#f23a3e" stroke-width="2" />
<circle cx="428.92" cy="1371.89" r="5.4" fill="none" stroke="#f23a3e" stroke-width="2" />
<circle cx="441.05" cy="1363.22" r="5.4" fill="none" stroke="#f23a3e" stroke-width="2" />
<circle cx="428.92" cy="1411.76" r="5.4" fill="none" stroke="#f23a3e" stroke-width="2" />
<circle cx="421.29" cy="1431.53" r="5.4" fill="none" stroke="#f23a3e" stroke-width="2" />
<circle cx="433.43" cy="1434.3" r="5.4" fill="none" stroke="#f23a3e" stroke-width="2" />
<line x1="207" y1="1481" x2="207" y2="1498.5" stroke="#626262" stroke-width="1.7" />
<line x1="198.5" y1="1481" x2="215.5" y2="1481" stroke="#626262" stroke-width="1.7" />
<line x1="198.5" y1="1498.5" x2="215.5" y2="1498.5" stroke="#626262" stroke-width="1.7" />
<line x1="262.5" y1="1480.5" x2="262.5" y2="1500" stroke="#3b2cf5" stroke-width="1.7" />
<line x1="254" y1="1480.5" x2="271" y2="1480.5" stroke="#3b2cf5" stroke-width="1.7" />
<line x1="254" y1="1500" x2="271" y2="1500" stroke="#3b2cf5" stroke-width="1.7" />
<line x1="318" y1="1439.5" x2="318" y2="1454.5" stroke="#d54bf5" stroke-width="1.7" />
<line x1="309.5" y1="1439.5" x2="326.5" y2="1439.5" stroke="#d54bf5" stroke-width="1.7" />
<line x1="309.5" y1="1454.5" x2="326.5" y2="1454.5" stroke="#d54bf5" stroke-width="1.7" />
<line x1="373.4" y1="1417.5" x2="373.4" y2="1438.5" stroke="#f07d1e" stroke-width="1.7" />
<line x1="364.9" y1="1417.5" x2="381.9" y2="1417.5" stroke="#f07d1e" stroke-width="1.7" />
<line x1="364.9" y1="1438.5" x2="381.9" y2="1438.5" stroke="#f07d1e" stroke-width="1.7" />
<line x1="428.9" y1="1383.5" x2="428.9" y2="1410.5" stroke="#f23a3e" stroke-width="1.7" />
<line x1="420.4" y1="1383.5" x2="437.4" y2="1383.5" stroke="#f23a3e" stroke-width="1.7" />
<line x1="420.4" y1="1410.5" x2="437.4" y2="1410.5" stroke="#f23a3e" stroke-width="1.7" />
<line x1="202.8" y1="1444" x2="259.4" y2="1444" stroke="#000" stroke-width="2.3" />
<text x="221.52" y="1435" font-size="23">ns</text>
<text x="312.52" y="1420.92" font-size="24.5" stroke="#000" stroke-width="0.55">*</text>
<text x="363.84" y="1405.62" font-size="24.5" stroke="#000" stroke-width="0.55">**</text>
<text x="409.15" y="1362.52" font-size="24.5" stroke="#000" stroke-width="0.55">****</text>
<text x="420.84" y="1336.71" font-size="21.5" stroke="#000" stroke-width="0.3">&amp;</text>
<text x="177.97" y="1637.1" font-size="22.5">Blank</text>
<text x="245.79" y="1637.1" font-size="22.5">NC</text>
<text x="303.15" y="1637.1" font-size="22.5">LC</text>
<text x="355.4" y="1637.1" font-size="22.5">MC</text>
<text x="412.19" y="1637.1" font-size="22.5">HC</text>
<text x="118.5" y="1461.15" font-size="23.2" text-anchor="middle" transform="rotate(-90 118.5 1461.15)">CD8<tspan dy="-8" font-size="15">+</tspan><tspan dy="8">TNF</tspan><tspan dy="-8" font-size="15">+</tspan><tspan dy="8"> T cells(%)</tspan></text>
<text x="647.47" y="1321.68" font-size="42" font-weight="bold">m</text>
<line x1="765.3" y1="1330.15" x2="765.3" y2="1604.35" stroke="#000" stroke-width="2.3" />
<line x1="754.3" y1="1331.3" x2="765.3" y2="1331.3" stroke="#000" stroke-width="2.3" />
<text x="725.81" y="1339.4" font-size="22.5">60</text>
<line x1="754.3" y1="1421.93" x2="765.3" y2="1421.93" stroke="#000" stroke-width="2.3" />
<text x="725.81" y="1430.03" font-size="22.5">40</text>
<line x1="754.3" y1="1512.57" x2="765.3" y2="1512.57" stroke="#000" stroke-width="2.3" />
<text x="725.81" y="1520.67" font-size="22.5">20</text>
<line x1="754.3" y1="1603.2" x2="765.3" y2="1603.2" stroke="#000" stroke-width="2.3" />
<text x="738.3" y="1611.3" font-size="22.5">0</text>
<line x1="753.5" y1="1603.2" x2="1061.7" y2="1603.2" stroke="#000" stroke-width="2.3" />
<line x1="801.7" y1="1603.2" x2="801.7" y2="1614.7" stroke="#000" stroke-width="2.3" />
<line x1="857.2" y1="1603.2" x2="857.2" y2="1614.7" stroke="#000" stroke-width="2.3" />
<line x1="912.6" y1="1603.2" x2="912.6" y2="1614.7" stroke="#000" stroke-width="2.3" />
<line x1="968.1" y1="1603.2" x2="968.1" y2="1614.7" stroke="#000" stroke-width="2.3" />
<line x1="1023.6" y1="1603.2" x2="1023.6" y2="1614.7" stroke="#000" stroke-width="2.3" />
<rect x="786.55" y="1481.25" width="31" height="121.95" fill="none" stroke="#626262" stroke-width="3.7" />
<rect x="842.05" y="1469.05" width="30.6" height="134.15" fill="none" stroke="#3b2cf5" stroke-width="3.7" />
<rect x="897.45" y="1472.55" width="30.7" height="130.65" fill="none" stroke="#d54bf5" stroke-width="3.7" />
<rect x="952.65" y="1430.95" width="31" height="172.25" fill="none" stroke="#f07d1e" stroke-width="3.7" />
<rect x="1008.45" y="1425.75" width="30.6" height="177.45" fill="none" stroke="#f23a3e" stroke-width="3.7" />
<circle cx="801.68" cy="1458.57" r="5.4" fill="none" stroke="#626262" stroke-width="2" />
<circle cx="789.54" cy="1468.28" r="5.4" fill="none" stroke="#626262" stroke-width="2" />
<circle cx="799.25" cy="1477.64" r="5.4" fill="none" stroke="#626262" stroke-width="2" />
<circle cx="806.88" cy="1480.42" r="5.4" fill="none" stroke="#626262" stroke-width="2" />
<circle cx="814.85" cy="1481.11" r="5.4" fill="none" stroke="#626262" stroke-width="2" />
<circle cx="801.68" cy="1503.65" r="5.4" fill="none" stroke="#626262" stroke-width="2" />
<circle cx="857.16" cy="1433.61" r="5.4" fill="none" stroke="#3b2cf5" stroke-width="2" />
<circle cx="846.06" cy="1453.37" r="5.4" fill="none" stroke="#3b2cf5" stroke-width="2" />
<circle cx="857.16" cy="1454.06" r="5.4" fill="none" stroke="#3b2cf5" stroke-width="2" />
<circle cx="868.6" cy="1455.1" r="5.4" fill="none" stroke="#3b2cf5" stroke-width="2" />
<circle cx="857.16" cy="1489.78" r="5.4" fill="none" stroke="#3b2cf5" stroke-width="2" />
<circle cx="857.16" cy="1508.85" r="5.4" fill="none" stroke="#3b2cf5" stroke-width="2" />
<circle cx="918.88" cy="1439.5" r="5.4" fill="none" stroke="#d54bf5" stroke-width="2" />
<circle cx="906.74" cy="1455.1" r="5.4" fill="none" stroke="#d54bf5" stroke-width="2" />
<circle cx="912.64" cy="1470.71" r="5.4" fill="none" stroke="#d54bf5" stroke-width="2" />
<circle cx="901.54" cy="1477.64" r="5.4" fill="none" stroke="#d54bf5" stroke-width="2" />
<circle cx="911.94" cy="1484.58" r="5.4" fill="none" stroke="#d54bf5" stroke-width="2" />
<circle cx="924.08" cy="1489.78" r="5.4" fill="none" stroke="#d54bf5" stroke-width="2" />
<circle cx="968.11" cy="1395.46" r="5.4" fill="none" stroke="#f07d1e" stroke-width="2" />
<circle cx="962.22" cy="1412.45" r="5.4" fill="none" stroke="#f07d1e" stroke-width="2" />
<circle cx="974.36" cy="1414.54" r="5.4" fill="none" stroke="#f07d1e" stroke-width="2" />
<circle cx="968.11" cy="1434.3" r="5.4" fill="none" stroke="#f07d1e" stroke-width="2" />
<circle cx="957.02" cy="1442.97" r="5.4" fill="none" stroke="#f07d1e" stroke-width="2" />
<circle cx="978.86" cy="1451.64" r="5.4" fill="none" stroke="#f07d1e" stroke-width="2" />
<circle cx="1023.59" cy="1370.15" r="5.4" fill="none" stroke="#f23a3e" stroke-width="2" />
<circle cx="1017.7" cy="1411.76" r="5.4" fill="none" stroke="#f23a3e" stroke-width="2" />
<circle cx="1029.83" cy="1422.16" r="5.4" fill="none" stroke="#f23a3e" stroke-width="2" />
<circle cx="1010.76" cy="1434.3" r="5.4" fill="none" stroke="#f23a3e" stroke-width="2" />
<circle cx="1022.9" cy="1448.17" r="5.4" fill="none" stroke="#f23a3e" stroke-width="2" />
<circle cx="1034.34" cy="1450.6" r="5.4" fill="none" stroke="#f23a3e" stroke-width="2" />
<line x1="801.7" y1="1472" x2="801.7" y2="1487" stroke="#626262" stroke-width="1.7" />
<line x1="793.2" y1="1472" x2="810.2" y2="1472" stroke="#626262" stroke-width="1.7" />
<line x1="793.2" y1="1487" x2="810.2" y2="1487" stroke="#626262" stroke-width="1.7" />
<line x1="857.2" y1="1455" x2="857.2" y2="1479" stroke="#3b2cf5" stroke-width="1.7" />
<line x1="848.7" y1="1455" x2="865.7" y2="1455" stroke="#3b2cf5" stroke-width="1.7" />
<line x1="848.7" y1="1479" x2="865.7" y2="1479" stroke="#3b2cf5" stroke-width="1.7" />
<line x1="912.6" y1="1462" x2="912.6" y2="1479" stroke="#d54bf5" stroke-width="1.7" />
<line x1="904.1" y1="1462" x2="921.1" y2="1462" stroke="#d54bf5" stroke-width="1.7" />
<line x1="904.1" y1="1479" x2="921.1" y2="1479" stroke="#d54bf5" stroke-width="1.7" />
<line x1="968.1" y1="1417" x2="968.1" y2="1441" stroke="#f07d1e" stroke-width="1.7" />
<line x1="959.6" y1="1417" x2="976.6" y2="1417" stroke="#f07d1e" stroke-width="1.7" />
<line x1="959.6" y1="1441" x2="976.6" y2="1441" stroke="#f07d1e" stroke-width="1.7" />
<line x1="1023.6" y1="1412.5" x2="1023.6" y2="1434.5" stroke="#f23a3e" stroke-width="1.7" />
<line x1="1015.1" y1="1412.5" x2="1032.1" y2="1412.5" stroke="#f23a3e" stroke-width="1.7" />
<line x1="1015.1" y1="1434.5" x2="1032.1" y2="1434.5" stroke="#f23a3e" stroke-width="1.7" />
<line x1="797.5" y1="1417.7" x2="854" y2="1417.7" stroke="#000" stroke-width="2.3" />
<text x="816.22" y="1408.3" font-size="23">ns</text>
<text x="960.74" y="1385.61" font-size="21.5" stroke="#000" stroke-width="0.3">&amp;</text>
<text x="1018.82" y="1368.82" font-size="24.5" stroke="#000" stroke-width="0.55">*</text>
<text x="1016.24" y="1342.81" font-size="21.5" stroke="#000" stroke-width="0.3">&amp;</text>
<text x="772.68" y="1637.1" font-size="22.5">Blank</text>
<text x="840.49" y="1637.1" font-size="22.5">NC</text>
<text x="897.75" y="1637.1" font-size="22.5">LC</text>
<text x="950.1" y="1637.1" font-size="22.5">MC</text>
<text x="1006.89" y="1637.1" font-size="22.5">HC</text>
<text x="714" y="1468.1" font-size="23.2" text-anchor="middle" transform="rotate(-90 714 1468.1)">CD8<tspan dy="-8" font-size="15">+</tspan><tspan dy="8">IFNγ</tspan><tspan dy="-8" font-size="15">+</tspan><tspan dy="8"> T cells(%)</tspan></text>
<text x="1188.37" y="1321.68" font-size="42" font-weight="bold">n</text>
<line x1="1335" y1="1330.15" x2="1335" y2="1604.35" stroke="#000" stroke-width="2.3" />
<line x1="1324" y1="1331.3" x2="1335" y2="1331.3" stroke="#000" stroke-width="2.3" />
<text x="1295.21" y="1339.4" font-size="22.5">40</text>
<line x1="1324" y1="1399.28" x2="1335" y2="1399.28" stroke="#000" stroke-width="2.3" />
<text x="1295.21" y="1407.38" font-size="22.5">30</text>
<line x1="1324" y1="1467.25" x2="1335" y2="1467.25" stroke="#000" stroke-width="2.3" />
<text x="1295.21" y="1475.35" font-size="22.5">20</text>
<line x1="1324" y1="1535.22" x2="1335" y2="1535.22" stroke="#000" stroke-width="2.3" />
<text x="1295.21" y="1543.32" font-size="22.5">10</text>
<line x1="1324" y1="1603.2" x2="1335" y2="1603.2" stroke="#000" stroke-width="2.3" />
<text x="1307.7" y="1611.3" font-size="22.5">0</text>
<line x1="1322.8" y1="1603.2" x2="1630.7" y2="1603.2" stroke="#000" stroke-width="2.3" />
<line x1="1370.7" y1="1603.2" x2="1370.7" y2="1614.7" stroke="#000" stroke-width="2.3" />
<line x1="1426.2" y1="1603.2" x2="1426.2" y2="1614.7" stroke="#000" stroke-width="2.3" />
<line x1="1481.7" y1="1603.2" x2="1481.7" y2="1614.7" stroke="#000" stroke-width="2.3" />
<line x1="1537.1" y1="1603.2" x2="1537.1" y2="1614.7" stroke="#000" stroke-width="2.3" />
<line x1="1592.3" y1="1603.2" x2="1592.3" y2="1614.7" stroke="#000" stroke-width="2.3" />
<rect x="1355.85" y="1549.55" width="31" height="53.65" fill="none" stroke="#626262" stroke-width="3.7" />
<rect x="1411.35" y="1544.65" width="30.3" height="58.55" fill="none" stroke="#3b2cf5" stroke-width="3.7" />
<rect x="1466.85" y="1520.45" width="30.3" height="82.75" fill="none" stroke="#d54bf5" stroke-width="3.7" />
<rect x="1522.35" y="1456.95" width="30.3" height="146.25" fill="none" stroke="#f07d1e" stroke-width="3.7" />
<rect x="1577.85" y="1418.15" width="30.3" height="185.05" fill="none" stroke="#f23a3e" stroke-width="3.7" />
<circle cx="1359.25" cy="1539.36" r="5.4" fill="none" stroke="#626262" stroke-width="2" />
<circle cx="1371.39" cy="1540.06" r="5.4" fill="none" stroke="#626262" stroke-width="2" />
<circle cx="1382.83" cy="1538.32" r="5.4" fill="none" stroke="#626262" stroke-width="2" />
<circle cx="1359.25" cy="1550.46" r="5.4" fill="none" stroke="#626262" stroke-width="2" />
<circle cx="1371.39" cy="1551.5" r="5.4" fill="none" stroke="#626262" stroke-width="2" />
<circle cx="1382.83" cy="1560.17" r="5.4" fill="none" stroke="#626262" stroke-width="2" />
<circle cx="1430.33" cy="1528.96" r="5.4" fill="none" stroke="#3b2cf5" stroke-width="2" />
<circle cx="1414.73" cy="1537.28" r="5.4" fill="none" stroke="#3b2cf5" stroke-width="2" />
<circle cx="1423.4" cy="1543.52" r="5.4" fill="none" stroke="#3b2cf5" stroke-width="2" />
<circle cx="1435.53" cy="1548.72" r="5.4" fill="none" stroke="#3b2cf5" stroke-width="2" />
<circle cx="1426.87" cy="1553.23" r="5.4" fill="none" stroke="#3b2cf5" stroke-width="2" />
<circle cx="1438.31" cy="1553.93" r="5.4" fill="none" stroke="#3b2cf5" stroke-width="2" />
<circle cx="1491.01" cy="1491.51" r="5.4" fill="none" stroke="#d54bf5" stroke-width="2" />
<circle cx="1472.98" cy="1500.18" r="5.4" fill="none" stroke="#d54bf5" stroke-width="2" />
<circle cx="1472.98" cy="1512.32" r="5.4" fill="none" stroke="#d54bf5" stroke-width="2" />
<circle cx="1482.34" cy="1519.25" r="5.4" fill="none" stroke="#d54bf5" stroke-width="2" />
<circle cx="1491.01" cy="1524.45" r="5.4" fill="none" stroke="#d54bf5" stroke-width="2" />
<circle cx="1491.01" cy="1545.26" r="5.4" fill="none" stroke="#d54bf5" stroke-width="2" />
<circle cx="1528.46" cy="1434.3" r="5.4" fill="none" stroke="#f07d1e" stroke-width="2" />
<circle cx="1547.18" cy="1431.53" r="5.4" fill="none" stroke="#f07d1e" stroke-width="2" />
<circle cx="1527.42" cy="1450.6" r="5.4" fill="none" stroke="#f07d1e" stroke-width="2" />
<circle cx="1547.18" cy="1456.84" r="5.4" fill="none" stroke="#f07d1e" stroke-width="2" />
<circle cx="1528.46" cy="1467.24" r="5.4" fill="none" stroke="#f07d1e" stroke-width="2" />
<circle cx="1547.18" cy="1481.11" r="5.4" fill="none" stroke="#f07d1e" stroke-width="2" />
<circle cx="1592.26" cy="1378.82" r="5.4" fill="none" stroke="#f23a3e" stroke-width="2" />
<circle cx="1592.26" cy="1397.89" r="5.4" fill="none" stroke="#f23a3e" stroke-width="2" />
<circle cx="1581.17" cy="1403.09" r="5.4" fill="none" stroke="#f23a3e" stroke-width="2" />
<circle cx="1601.97" cy="1418.7" r="5.4" fill="none" stroke="#f23a3e" stroke-width="2" />
<circle cx="1582.9" cy="1441.23" r="5.4" fill="none" stroke="#f23a3e" stroke-width="2" />
<circle cx="1601.97" cy="1449.9" r="5.4" fill="none" stroke="#f23a3e" stroke-width="2" />
<line x1="1370.7" y1="1543.5" x2="1370.7" y2="1552" stroke="#626262" stroke-width="1.7" />
<line x1="1362.2" y1="1543.5" x2="1379.2" y2="1543.5" stroke="#626262" stroke-width="1.7" />
<line x1="1362.2" y1="1552" x2="1379.2" y2="1552" stroke="#626262" stroke-width="1.7" />
<line x1="1426.2" y1="1538.5" x2="1426.2" y2="1547" stroke="#3b2cf5" stroke-width="1.7" />
<line x1="1417.7" y1="1538.5" x2="1434.7" y2="1538.5" stroke="#3b2cf5" stroke-width="1.7" />
<line x1="1417.7" y1="1547" x2="1434.7" y2="1547" stroke="#3b2cf5" stroke-width="1.7" />
<line x1="1481.7" y1="1510" x2="1481.7" y2="1527" stroke="#d54bf5" stroke-width="1.7" />
<line x1="1473.2" y1="1510" x2="1490.2" y2="1510" stroke="#d54bf5" stroke-width="1.7" />
<line x1="1473.2" y1="1527" x2="1490.2" y2="1527" stroke="#d54bf5" stroke-width="1.7" />
<line x1="1537.1" y1="1446.5" x2="1537.1" y2="1463.5" stroke="#f07d1e" stroke-width="1.7" />
<line x1="1528.6" y1="1446.5" x2="1545.6" y2="1446.5" stroke="#f07d1e" stroke-width="1.7" />
<line x1="1528.6" y1="1463.5" x2="1545.6" y2="1463.5" stroke="#f07d1e" stroke-width="1.7" />
<line x1="1592.3" y1="1404.5" x2="1592.3" y2="1427.5" stroke="#f23a3e" stroke-width="1.7" />
<line x1="1583.8" y1="1404.5" x2="1600.8" y2="1404.5" stroke="#f23a3e" stroke-width="1.7" />
<line x1="1583.8" y1="1427.5" x2="1600.8" y2="1427.5" stroke="#f23a3e" stroke-width="1.7" />
<line x1="1366.9" y1="1510.6" x2="1424.1" y2="1510.6" stroke="#000" stroke-width="2.3" />
<text x="1384.92" y="1501.2" font-size="23">ns</text>
<text x="1518.05" y="1425.92" font-size="24.5" stroke="#000" stroke-width="0.55">****</text>
<text x="1508.24" y="1393.91" font-size="21.5" stroke="#000" stroke-width="0.3">&amp;&amp;&amp;&amp;</text>
<text x="1573.25" y="1377.62" font-size="24.5" stroke="#000" stroke-width="0.55">****</text>
<text x="1563.44" y="1350.61" font-size="21.5" stroke="#000" stroke-width="0.3">&amp;&amp;&amp;&amp;</text>
<text x="1580.37" y="1322.86" font-size="21.5" stroke="#000" stroke-width="0.55">##</text>
<text x="1341.67" y="1637.1" font-size="22.5">Blank</text>
<text x="1409.49" y="1637.1" font-size="22.5">NC</text>
<text x="1466.85" y="1637.1" font-size="22.5">LC</text>
<text x="1519.1" y="1637.1" font-size="22.5">MC</text>
<text x="1575.59" y="1637.1" font-size="22.5">HC</text>
<text x="1281.5" y="1467.25" font-size="23.2" text-anchor="middle" transform="rotate(-90 1281.5 1467.25)">CD8<tspan dy="-8" font-size="15">+</tspan><tspan dy="8">GZMB</tspan><tspan dy="-8" font-size="15">+</tspan><tspan dy="8"> T cells(%)</tspan></text>
<text x="2.82" y="1742.88" font-size="42" font-weight="bold">o</text>
<text x="317.64" y="1712.7" font-size="25.69">OVA peptide</text>
<text x="349.71" y="1735" font-size="25.73">2 days</text>
<text x="514.05" y="1712.7" font-size="26.16">IL2</text>
<text x="494.7" y="1735" font-size="25.09">4 days</text>
<path d="M366 1752.6 L366 1775.8 A28.4 9 0 0 0 422.8 1775.8 L422.8 1752.6 A28.4 9 0 0 0 366 1752.6 Z" fill="#fff" stroke="#111" stroke-width="1.35" />
<path d="M366 1764 A28.4 9 0 0 1 422.8 1764 L422.8 1775.8 A28.4 9 0 0 1 366 1775.8 Z" fill="#f53c44" stroke="#111" stroke-width="1.35" />
<path d="M366 1764 A28.4 9 0 0 0 422.8 1764" fill="none" stroke="#111" stroke-width="1.35" />
<path d="M366 1818.3 L366 1841.5 A28.4 9 0 0 0 422.8 1841.5 L422.8 1818.3 A28.4 9 0 0 0 366 1818.3 Z" fill="#fff" stroke="#111" stroke-width="1.35" />
<path d="M366 1829.7 A28.4 9 0 0 1 422.8 1829.7 L422.8 1841.5 A28.4 9 0 0 1 366 1841.5 Z" fill="#f53c44" stroke="#111" stroke-width="1.35" />
<path d="M366 1829.7 A28.4 9 0 0 0 422.8 1829.7" fill="none" stroke="#111" stroke-width="1.35" />
<line x1="383.7" y1="1829" x2="390.3" y2="1829" stroke="#111" stroke-width="2" />
<line x1="402.2" y1="1827" x2="408.8" y2="1827" stroke="#111" stroke-width="2" />
<line x1="388.2" y1="1842.5" x2="394.8" y2="1842.5" stroke="#111" stroke-width="2" />
<line x1="411.2" y1="1841" x2="417.8" y2="1841" stroke="#111" stroke-width="2" />
<path d="M504 1749.6 L504 1772.8 A28.2 9 0 0 0 560.4 1772.8 L560.4 1749.6 A28.2 9 0 0 0 504 1749.6 Z" fill="#fff" stroke="#111" stroke-width="1.35" />
<path d="M504 1761 A28.2 9 0 0 1 560.4 1761 L560.4 1772.8 A28.2 9 0 0 1 504 1772.8 Z" fill="#f53c44" stroke="#111" stroke-width="1.35" />
<path d="M504 1761 A28.2 9 0 0 0 560.4 1761" fill="none" stroke="#111" stroke-width="1.35" />
<path d="M504 1815.7 L504 1838.9 A28.2 9 0 0 0 560.4 1838.9 L560.4 1815.7 A28.2 9 0 0 0 504 1815.7 Z" fill="#fff" stroke="#111" stroke-width="1.35" />
<path d="M504 1827.1 A28.2 9 0 0 1 560.4 1827.1 L560.4 1838.9 A28.2 9 0 0 1 504 1838.9 Z" fill="#f53c44" stroke="#111" stroke-width="1.35" />
<path d="M504 1827.1 A28.2 9 0 0 0 560.4 1827.1" fill="none" stroke="#111" stroke-width="1.35" />
<line x1="521.7" y1="1826" x2="528.3" y2="1826" stroke="#111" stroke-width="2" />
<line x1="540.7" y1="1824" x2="547.3" y2="1824" stroke="#111" stroke-width="2" />
<line x1="526.7" y1="1840" x2="533.3" y2="1840" stroke="#111" stroke-width="2" />
<line x1="548.7" y1="1839" x2="555.3" y2="1839" stroke="#111" stroke-width="2" />
<text x="422.72" y="1770.3" font-size="23.5">NC</text>
<text x="422.72" y="1840.2" font-size="23.5">HC</text>
<text x="563.62" y="1770.3" font-size="23.5">NC</text>
<text x="563.62" y="1840.2" font-size="23.5">HC</text>
<line x1="460.7" y1="1766.6" x2="493.2" y2="1766.6" stroke="#000" stroke-width="1.2" />
<path d="M499.7 1766.6 L493.2 1769.6 L493.2 1763.6" fill="#000" />
<line x1="460.7" y1="1831.6" x2="493.2" y2="1831.6" stroke="#000" stroke-width="1.2" />
<path d="M499.7 1831.6 L493.2 1834.6 L493.2 1828.6" fill="#000" />
<line x1="599" y1="1766.6" x2="634.5" y2="1766.6" stroke="#000" stroke-width="1.2" />
<path d="M641 1766.6 L634.5 1769.6 L634.5 1763.6" fill="#000" />
<line x1="599" y1="1830.9" x2="634.5" y2="1830.9" stroke="#000" stroke-width="1.2" />
<path d="M641 1830.9 L634.5 1833.9 L634.5 1827.9" fill="#000" />
<text x="247.07" y="1793.7" font-size="25.12">OT-1</text>
<text x="240.2" y="1815.6" font-size="25.08">T cells</text>
<circle cx="280.5" cy="1834.2" r="7" fill="#1010f0" stroke="#111" stroke-width="1" />
<line x1="310.2" y1="1796.3" x2="344.3" y2="1775.21" stroke="#000" stroke-width="1.6" />
<path d="M351.1 1771 L345.98 1777.93 L342.61 1772.49" fill="#000" />
<line x1="310.2" y1="1796.3" x2="342.49" y2="1817.25" stroke="#000" stroke-width="1.6" />
<path d="M349.2 1821.6 L340.75 1819.93 L344.23 1814.56" fill="#000" />
<text x="616.59" y="1720.2" font-size="25.13">adoptive transfer</text>
<text x="730.33" y="1754.7" font-size="25.32">21 days</text>
<path d="M655.9 1766.6 L698.2 1753.6 L698.2 1780.3 L655.9 1766.6" fill="#fff" stroke="#111" stroke-width="2" stroke-linejoin="miter"/>
<circle cx="676.63" cy="1766.1" r="2.6" fill="#111" />
<circle cx="686.36" cy="1775.09" r="3.2" fill="#f01c1c" transform="rotate(0)"/>
<path d="M699.2 1768.1 C704.2 1765.1 707.2 1774.1 713.2 1770.1 C718.2 1767.1 723.2 1764.1 728.2 1763.1" fill="none" stroke="#111" stroke-width="1.5" />
<path d="M655.9 1830.9 L698.2 1817.9 L698.2 1844.6 L655.9 1830.9" fill="#fff" stroke="#111" stroke-width="2" stroke-linejoin="miter"/>
<circle cx="676.63" cy="1830.4" r="2.6" fill="#111" />
<circle cx="686.36" cy="1839.39" r="3.2" fill="#f01c1c" transform="rotate(0)"/>
<path d="M699.2 1832.4 C704.2 1829.4 707.2 1838.4 713.2 1834.4 C718.2 1831.4 723.2 1828.4 728.2 1827.4" fill="none" stroke="#111" stroke-width="1.5" />
<line x1="748.7" y1="1770.3" x2="783.8" y2="1770.3" stroke="#000" stroke-width="1.2" />
<path d="M790.3 1770.3 L783.8 1773.3 L783.8 1767.3" fill="#000" />
<line x1="748.7" y1="1835.3" x2="783.8" y2="1835.3" stroke="#000" stroke-width="1.2" />
<path d="M790.3 1835.3 L783.8 1838.3 L783.8 1832.3" fill="#000" />
<path d="M808.2 1765.9 L850.5 1752.5 L850.5 1779.6 L808.2 1765.9" fill="#fff" stroke="#111" stroke-width="2" stroke-linejoin="miter"/>
<circle cx="828.93" cy="1765.4" r="2.6" fill="#111" />
<circle cx="838.66" cy="1774.39" r="3.2" fill="#f01c1c" transform="rotate(0)"/>
<path d="M851.5 1767.4 C856.5 1764.4 859.5 1773.4 865.5 1769.4 C870.5 1766.4 875.5 1763.4 880.5 1762.4" fill="none" stroke="#111" stroke-width="1.5" />
<path d="M808.2 1830.5 L850.5 1817.5 L850.5 1843.9 L808.2 1830.5" fill="#fff" stroke="#111" stroke-width="2" stroke-linejoin="miter"/>
<circle cx="828.93" cy="1830" r="2.6" fill="#111" />
<circle cx="838.66" cy="1838.81" r="3.2" fill="#f01c1c" transform="rotate(0)"/>
<path d="M851.5 1832 C856.5 1829 859.5 1838 865.5 1834 C870.5 1831 875.5 1828 880.5 1827" fill="none" stroke="#111" stroke-width="1.5" />
<line x1="838.6" y1="1767.3" x2="991.5" y2="1697.2" stroke="#111" stroke-width="1.2" stroke-dasharray="3 2"/>
<line x1="838.6" y1="1777.7" x2="971" y2="1879.2" stroke="#111" stroke-width="1.2" stroke-dasharray="3 2"/>
<line x1="842.4" y1="1831.6" x2="991.5" y2="1697.2" stroke="#111" stroke-width="1.2" />
<line x1="840" y1="1843" x2="971" y2="1879.2" stroke="#111" stroke-width="1.2" stroke-dasharray="3 2"/>
<circle cx="1039.8" cy="1795.2" r="106.5" fill="#d8f6e6" stroke="#333" stroke-width="1.1" />
<ellipse cx="988.9" cy="1757.3" rx="23.5" ry="17.8" fill="#e8aa80" />
<ellipse cx="1075.8" cy="1760.3" rx="23.5" ry="17.8" fill="#e8aa80" />
<ellipse cx="1047.2" cy="1770.7" rx="23.5" ry="17.8" fill="#e8aa80" />
<ellipse cx="1094.7" cy="1778.1" rx="23.5" ry="17.8" fill="#e8aa80" />
<ellipse cx="1015.6" cy="1786.3" rx="23.5" ry="17.8" fill="#e8aa80" />
<ellipse cx="976.6" cy="1796.7" rx="23.5" ry="17.8" fill="#e8aa80" />
<ellipse cx="1062" cy="1804.9" rx="23.5" ry="17.8" fill="#e8aa80" />
<ellipse cx="1011.9" cy="1816" rx="23.5" ry="17.8" fill="#e8aa80" />
<ellipse cx="1056.5" cy="1834.6" rx="23.5" ry="17.8" fill="#e8aa80" />
<ellipse cx="1019.3" cy="1838.3" rx="23.5" ry="17.8" fill="#e8aa80" />
<ellipse cx="987.7" cy="1848.7" rx="23.5" ry="17.8" fill="#e8aa80" />
<circle cx="991.9" cy="1758.3" r="8.8" fill="#a84818" />
<circle cx="1078.8" cy="1761.3" r="8.8" fill="#a84818" />
<circle cx="1050.2" cy="1771.7" r="8.8" fill="#a84818" />
<circle cx="1097.7" cy="1779.1" r="8.8" fill="#a84818" />
<circle cx="1018.6" cy="1787.3" r="8.8" fill="#a84818" />
<circle cx="979.6" cy="1797.7" r="8.8" fill="#a84818" />
<circle cx="1065" cy="1805.9" r="8.8" fill="#a84818" />
<circle cx="1014.9" cy="1817" r="8.8" fill="#a84818" />
<circle cx="1059.5" cy="1835.6" r="8.8" fill="#a84818" />
<circle cx="1022.3" cy="1839.3" r="8.8" fill="#a84818" />
<circle cx="990.7" cy="1849.7" r="8.8" fill="#a84818" />
<circle cx="992.6" cy="1729.8" r="10.4" fill="#8e58aa" />
<circle cx="1104.8" cy="1741" r="10.4" fill="#8e58aa" />
<circle cx="1123.3" cy="1786.3" r="10.4" fill="#8e58aa" />
<circle cx="1024.1" cy="1729.8" r="10.2" fill="#0a0af0" stroke="#111" stroke-width="1.2" />
<circle cx="1089.9" cy="1802.3" r="10.2" fill="#0a0af0" stroke="#111" stroke-width="1.2" />
<circle cx="1093.6" cy="1848.7" r="10.2" fill="#0a0af0" stroke="#111" stroke-width="1.2" />
<circle cx="1036" cy="1860.6" r="10.2" fill="#0a0af0" stroke="#111" stroke-width="1.2" />
<circle cx="1063.9" cy="1738" r="10.4" fill="#f41818" />
<circle cx="959.9" cy="1823.5" r="10.4" fill="#f41818" />
<circle cx="1102.2" cy="1823.5" r="10.4" fill="#f41818" />
<text x="1238.8" y="1699" font-size="25">CD8<tspan dy="-9.5" font-size="15">+</tspan><tspan dy="9.5"> T cells</tspan></text>
<text x="1181.84" y="1746.2" font-size="25.71">FACS</text>
<line x1="1173.5" y1="1757.7" x2="1254.3" y2="1757.7" stroke="#000" stroke-width="1.2" />
<path d="M1260.8 1757.7 L1254.3 1760.7 L1254.3 1754.7" fill="#000" />
<line x1="1173.5" y1="1853.2" x2="1254.3" y2="1853.2" stroke="#000" stroke-width="1.2" />
<path d="M1260.8 1853.2 L1254.3 1856.2 L1254.3 1850.2" fill="#000" />
<circle cx="1296.8" cy="1757.7" r="10.2" fill="#0a0af0" stroke="#111" stroke-width="1.2" />
<circle cx="1321" cy="1744.3" r="10.2" fill="#0a0af0" stroke="#111" stroke-width="1.2" />
<circle cx="1326.9" cy="1775.9" r="10.2" fill="#0a0af0" stroke="#111" stroke-width="1.2" />
<circle cx="1289.4" cy="1850.6" r="10.2" fill="#0a0af0" stroke="#111" stroke-width="1.2" />
<circle cx="1318.4" cy="1831.6" r="10.2" fill="#0a0af0" stroke="#111" stroke-width="1.2" />
<circle cx="1319.1" cy="1863.2" r="10.2" fill="#0a0af0" stroke="#111" stroke-width="1.2" />
<line x1="1341.8" y1="1758.4" x2="1376.2" y2="1758.4" stroke="#000" stroke-width="1.2" />
<path d="M1382.7 1758.4 L1376.2 1761.4 L1376.2 1755.4" fill="#000" />
<line x1="1341.8" y1="1853.9" x2="1376.2" y2="1853.9" stroke="#000" stroke-width="1.2" />
<path d="M1382.7 1853.9 L1376.2 1856.9 L1376.2 1850.9" fill="#000" />
<text x="1390.94" y="1763.3" font-size="25.74">SMART-seq</text>
<text x="1392.94" y="1858.4" font-size="25.68">SMART-seq</text>
<text x="3.04" y="1944.06" font-size="44" font-weight="bold">p</text>
<rect x="72.4" y="1949" width="499" height="498.5" fill="#f0f0f0" />
<text x="245.79" y="1968.7" font-size="18.64" font-weight="bold">Enrichment plot:</text>
<text x="77.28" y="1994.7" font-size="18" font-weight="bold">GSE9650_EFFECTOR_VS_EXHAUSTED_CD8_TCELL_UP</text>
<rect x="129.3" y="2007" width="434.3" height="175.4" fill="#fff" stroke="#a8a8a8" stroke-width="1" />
<rect x="129.3" y="2183.7" width="434.3" height="72.5" fill="#fff" stroke="#a8a8a8" stroke-width="1" />
<rect x="129.3" y="2256.2" width="434.3" height="118.8" fill="#fff" stroke="#a8a8a8" stroke-width="1" />
<line x1="205.3" y1="2007" x2="205.3" y2="2182.4" stroke="#d0d0d0" stroke-width="0.9" stroke-dasharray="2 2"/>
<line x1="205.3" y1="2256.2" x2="205.3" y2="2375" stroke="#d0d0d0" stroke-width="0.9" stroke-dasharray="2 2"/>
<line x1="281.3" y1="2007" x2="281.3" y2="2182.4" stroke="#d0d0d0" stroke-width="0.9" stroke-dasharray="2 2"/>
<line x1="281.3" y1="2256.2" x2="281.3" y2="2375" stroke="#d0d0d0" stroke-width="0.9" stroke-dasharray="2 2"/>
<line x1="357.3" y1="2007" x2="357.3" y2="2182.4" stroke="#d0d0d0" stroke-width="0.9" stroke-dasharray="2 2"/>
<line x1="357.3" y1="2256.2" x2="357.3" y2="2375" stroke="#d0d0d0" stroke-width="0.9" stroke-dasharray="2 2"/>
<line x1="433.3" y1="2007" x2="433.3" y2="2182.4" stroke="#d0d0d0" stroke-width="0.9" stroke-dasharray="2 2"/>
<line x1="433.3" y1="2256.2" x2="433.3" y2="2375" stroke="#d0d0d0" stroke-width="0.9" stroke-dasharray="2 2"/>
<line x1="509.3" y1="2007" x2="509.3" y2="2182.4" stroke="#d0d0d0" stroke-width="0.9" stroke-dasharray="2 2"/>
<line x1="509.3" y1="2256.2" x2="509.3" y2="2375" stroke="#d0d0d0" stroke-width="0.9" stroke-dasharray="2 2"/>
<line x1="129.3" y1="2021.1" x2="563.6" y2="2021.1" stroke="#d0d0d0" stroke-width="0.9" stroke-dasharray="2 2"/>
<line x1="126.3" y1="2021.1" x2="129.3" y2="2021.1" stroke="#888" stroke-width="1" />
<text x="104.13" y="2025.3" font-size="12.2" font-family="'DejaVu Sans', Verdana, sans-serif" fill="#555">0.6</text>
<line x1="129.3" y1="2044.3" x2="563.6" y2="2044.3" stroke="#d0d0d0" stroke-width="0.9" stroke-dasharray="2 2"/>
<line x1="126.3" y1="2044.3" x2="129.3" y2="2044.3" stroke="#888" stroke-width="1" />
<text x="104.44" y="2048.5" font-size="12.2" font-family="'DejaVu Sans', Verdana, sans-serif" fill="#555">0.5</text>
<line x1="129.3" y1="2067.5" x2="563.6" y2="2067.5" stroke="#d0d0d0" stroke-width="0.9" stroke-dasharray="2 2"/>
<line x1="126.3" y1="2067.5" x2="129.3" y2="2067.5" stroke="#888" stroke-width="1" />
<text x="104.07" y="2071.7" font-size="12.2" font-family="'DejaVu Sans', Verdana, sans-serif" fill="#555">0.4</text>
<line x1="129.3" y1="2090.7" x2="563.6" y2="2090.7" stroke="#d0d0d0" stroke-width="0.9" stroke-dasharray="2 2"/>
<line x1="126.3" y1="2090.7" x2="129.3" y2="2090.7" stroke="#888" stroke-width="1" />
<text x="104.38" y="2094.9" font-size="12.2" font-family="'DejaVu Sans', Verdana, sans-serif" fill="#555">0.3</text>
<line x1="129.3" y1="2113.9" x2="563.6" y2="2113.9" stroke="#d0d0d0" stroke-width="0.9" stroke-dasharray="2 2"/>
<line x1="126.3" y1="2113.9" x2="129.3" y2="2113.9" stroke="#888" stroke-width="1" />
<text x="104.62" y="2118.1" font-size="12.2" font-family="'DejaVu Sans', Verdana, sans-serif" fill="#555">0.2</text>
<line x1="129.3" y1="2137.1" x2="563.6" y2="2137.1" stroke="#d0d0d0" stroke-width="0.9" stroke-dasharray="2 2"/>
<line x1="126.3" y1="2137.1" x2="129.3" y2="2137.1" stroke="#888" stroke-width="1" />
<text x="104.5" y="2141.3" font-size="12.2" font-family="'DejaVu Sans', Verdana, sans-serif" fill="#555">0.1</text>
<line x1="126.3" y1="2160.1" x2="129.3" y2="2160.1" stroke="#888" stroke-width="1" />
<text x="104.2" y="2164.3" font-size="12.2" font-family="'DejaVu Sans', Verdana, sans-serif" fill="#555">0.0</text>
<line x1="129.3" y1="2160.1" x2="563.6" y2="2160.1" stroke="#a0a0a0" stroke-width="1.1" />
<line x1="129.3" y1="2260.6" x2="563.6" y2="2260.6" stroke="#d0d0d0" stroke-width="0.9" stroke-dasharray="2 2"/>
<line x1="126.3" y1="2260.6" x2="129.3" y2="2260.6" stroke="#888" stroke-width="1" />
<text x="116.54" y="2264.4" font-size="10.8" font-family="'DejaVu Sans', Verdana, sans-serif" fill="#333">4</text>
<line x1="129.3" y1="2288.9" x2="563.6" y2="2288.9" stroke="#d0d0d0" stroke-width="0.9" stroke-dasharray="2 2"/>
<line x1="126.3" y1="2288.9" x2="129.3" y2="2288.9" stroke="#888" stroke-width="1" />
<text x="117.02" y="2292.7" font-size="10.8" font-family="'DejaVu Sans', Verdana, sans-serif" fill="#333">2</text>
<line x1="129.3" y1="2316.7" x2="563.6" y2="2316.7" stroke="#d0d0d0" stroke-width="0.9" stroke-dasharray="2 2"/>
<line x1="126.3" y1="2316.7" x2="129.3" y2="2316.7" stroke="#888" stroke-width="1" />
<text x="116.64" y="2320.5" font-size="10.8" font-family="'DejaVu Sans', Verdana, sans-serif" fill="#333">0</text>
<line x1="129.3" y1="2343.5" x2="563.6" y2="2343.5" stroke="#d0d0d0" stroke-width="0.9" stroke-dasharray="2 2"/>
<line x1="126.3" y1="2343.5" x2="129.3" y2="2343.5" stroke="#888" stroke-width="1" />
<text x="113.13" y="2347.3" font-size="10.8" font-family="'DejaVu Sans', Verdana, sans-serif" fill="#333">-2</text>
<line x1="129.3" y1="2371.3" x2="563.6" y2="2371.3" stroke="#d0d0d0" stroke-width="0.9" stroke-dasharray="2 2"/>
<line x1="126.3" y1="2371.3" x2="129.3" y2="2371.3" stroke="#888" stroke-width="1" />
<text x="112.65" y="2375.1" font-size="10.8" font-family="'DejaVu Sans', Verdana, sans-serif" fill="#333">-4</text>
<path d="M129.3 2160.1 L130.89 2142.41 L132.48 2124.95 L134.07 2110.48 L135.66 2096.14 L137.24 2082.69 L138.83 2073.37 L140.42 2064.37 L142.01 2057.26 L143.6 2052.03 L145.19 2046.24 L146.78 2044.58 L148.37 2041.89 L149.96 2039.47 L151.54 2037.94 L153.13 2036.74 L154.72 2036.64 L156.31 2035.07 L157.9 2033.64 L159.49 2032.42 L161.08 2030.14 L162.67 2029.16 L164.25 2028.54 L165.84 2027.53 L167.43 2026.39 L169.02 2025.04 L170.61 2022.22 L172.2 2021.77 L173.79 2020.49 L175.38 2019.15 L176.97 2017.57 L178.55 2017.11 L180.14 2015.42 L181.73 2015.95 L183.32 2015.26 L184.91 2014.21 L186.5 2013.29 L188.09 2014.58 L189.68 2014.47 L191.26 2015.52 L192.85 2015.96 L194.44 2015.84 L196.03 2016.41 L197.62 2017.62 L199.21 2018.19 L200.8 2018.58 L202.39 2019.71 L203.98 2021.5 L205.56 2020.98 L207.15 2021.86 L208.74 2023.78 L210.33 2024.03 L211.92 2025.36 L213.51 2026.12 L215.1 2026.76 L216.69 2028.81 L218.28 2028.24 L219.86 2029.51 L221.45 2030 L223.04 2031.65 L224.63 2031.88 L226.22 2032.9 L227.81 2034.48 L229.4 2034.58 L230.99 2035.88 L232.57 2037.38 L234.16 2036.81 L235.75 2037.61 L237.34 2038.78 L238.93 2040.62 L240.52 2041.23 L242.11 2041.42 L243.7 2042.46 L245.29 2043.06 L246.87 2044.44 L248.46 2044.56 L250.05 2046.61 L251.64 2047.84 L253.23 2048.82 L254.82 2049.3 L256.41 2050.58 L258 2049.76 L259.59 2051.12 L261.17 2053.21 L262.76 2053.74 L264.35 2053.96 L265.94 2055.79 L267.53 2056.08 L269.12 2057.31 L270.71 2057.24 L272.3 2057.93 L273.88 2059.26 L275.47 2059.58 L277.06 2060.89 L278.65 2062.81 L280.24 2062.55 L281.83 2062.84 L283.42 2063.78 L285.01 2064.87 L286.6 2066.85 L288.18 2066.97 L289.77 2067.71 L291.36 2068.24 L292.95 2070.7 L294.54 2070.57 L296.13 2071.06 L297.72 2071.66 L299.31 2072.53 L300.9 2073.61 L302.48 2075.39 L304.07 2075.32 L305.66 2076 L307.25 2077.68 L308.84 2078.12 L310.43 2080.34 L312.02 2079.63 L313.61 2081.24 L315.19 2082.55 L316.78 2082.77 L318.37 2084.69 L319.96 2084.64 L321.55 2085.09 L323.14 2086.27 L324.73 2086.47 L326.32 2088.03 L327.91 2088.59 L329.49 2090.62 L331.08 2091.39 L332.67 2091.66 L334.26 2091.7 L335.85 2092.97 L337.44 2093.82 L339.03 2094.63 L340.62 2095.55 L342.21 2097.57 L343.79 2097.14 L345.38 2097.85 L346.97 2100.3 L348.56 2100.52 L350.15 2102.16 L351.74 2101.97 L353.33 2103.74 L354.92 2104.17 L356.5 2105.29 L358.09 2106.08 L359.68 2106.5 L361.27 2106.65 L362.86 2107.74 L364.45 2109.81 L366.04 2110.73 L367.63 2111.64 L369.22 2111.46 L370.8 2112.91 L372.39 2114.04 L373.98 2114.63 L375.57 2115.81 L377.16 2116.17 L378.75 2117.27 L380.34 2118.2 L381.93 2118.32 L383.52 2120.37 L385.1 2121.31 L386.69 2120.59 L388.28 2123.08 L389.87 2123.94 L391.46 2124.28 L393.05 2124.03 L394.64 2126.44 L396.23 2125.93 L397.81 2128.31 L399.4 2128.65 L400.99 2128.43 L402.58 2129.49 L404.17 2131.21 L405.76 2131.96 L407.35 2133.15 L408.94 2134.35 L410.53 2133.95 L412.11 2134.44 L413.7 2136.96 L415.29 2136.2 L416.88 2138.63 L418.47 2138.13 L420.06 2140.25 L421.65 2141.08 L423.24 2142.12 L424.83 2142.41 L426.41 2143.87 L428 2143.53 L429.59 2145.24 L431.18 2145.5 L432.77 2147.39 L434.36 2148.05 L435.95 2148.38 L437.54 2149.35 L439.12 2149.32 L440.71 2150.21 L442.3 2152.09 L443.89 2152.78 L445.48 2154.33 L447.07 2154.74 L448.66 2154.76 L450.25 2156.04 L451.84 2157.64 L453.42 2158.08 L455.01 2158.03 L456.6 2160.39 L458.19 2161.38 L459.78 2161.11 L461.37 2162.99 L462.96 2163.76 L464.55 2165.55 L466.14 2165.75 L467.72 2166.67 L469.31 2168.18 L470.9 2170.11 L472.49 2169.36 L474.08 2169.7 L475.67 2170.92 L477.26 2171.7 L478.85 2171.33 L480.44 2171.49 L482.02 2172.56 L483.61 2172.71 L485.2 2171.74 L486.79 2173.51 L488.38 2172.58 L489.97 2173.07 L491.56 2174.34 L493.15 2173.9 L494.73 2174.76 L496.32 2173.67 L497.91 2174.99 L499.5 2173.79 L501.09 2173.79 L502.68 2174.46 L504.27 2174.23 L505.86 2174.64 L507.45 2175.34 L509.03 2175.04 L510.62 2173.82 L512.21 2174.42 L513.8 2174.89 L515.39 2174.83 L516.98 2175.3 L518.57 2174.93 L520.16 2174.18 L521.75 2173.89 L523.33 2174.38 L524.92 2172.9 L526.51 2173.04 L528.1 2172.81 L529.69 2171.1 L531.28 2170.13 L532.87 2168.95 L534.46 2167.09 L536.04 2166.19 L537.63 2163.4 L539.22 2162.71 L540.81 2160.29 L542.4 2159.3" fill="none" stroke="#3fe81a" stroke-width="2.6" stroke-linejoin="round"/>
<line x1="130" y1="2184.2" x2="130" y2="2242.4" stroke="#000" stroke-width="1.15" />
<line x1="130.69" y1="2184.2" x2="130.69" y2="2242.4" stroke="#000" stroke-width="1.15" />
<line x1="131.63" y1="2184.2" x2="131.63" y2="2242.4" stroke="#000" stroke-width="1.15" />
<line x1="132.42" y1="2184.2" x2="132.42" y2="2242.4" stroke="#000" stroke-width="1.15" />
<line x1="133.4" y1="2184.2" x2="133.4" y2="2242.4" stroke="#000" stroke-width="1.15" />
<line x1="134.41" y1="2184.2" x2="134.41" y2="2242.4" stroke="#000" stroke-width="1.15" />
<line x1="134.96" y1="2184.2" x2="134.96" y2="2242.4" stroke="#000" stroke-width="1.15" />
<line x1="135.47" y1="2184.2" x2="135.47" y2="2242.4" stroke="#000" stroke-width="1.15" />
<line x1="136.64" y1="2184.2" x2="136.64" y2="2242.4" stroke="#000" stroke-width="1.15" />
<line x1="137.35" y1="2184.2" x2="137.35" y2="2242.4" stroke="#000" stroke-width="1.15" />
<line x1="138.03" y1="2184.2" x2="138.03" y2="2242.4" stroke="#000" stroke-width="1.15" />
<line x1="139.33" y1="2184.2" x2="139.33" y2="2242.4" stroke="#000" stroke-width="1.15" />
<line x1="140.21" y1="2184.2" x2="140.21" y2="2242.4" stroke="#000" stroke-width="1.15" />
<line x1="141.38" y1="2184.2" x2="141.38" y2="2242.4" stroke="#000" stroke-width="1.15" />
<line x1="142.26" y1="2184.2" x2="142.26" y2="2242.4" stroke="#000" stroke-width="1.15" />
<line x1="143.27" y1="2184.2" x2="143.27" y2="2242.4" stroke="#000" stroke-width="1.15" />
<line x1="143.89" y1="2184.2" x2="143.89" y2="2242.4" stroke="#000" stroke-width="1.15" />
<line x1="144.9" y1="2184.2" x2="144.9" y2="2242.4" stroke="#000" stroke-width="1.15" />
<line x1="146.09" y1="2184.2" x2="146.09" y2="2242.4" stroke="#000" stroke-width="1.15" />
<line x1="147.01" y1="2184.2" x2="147.01" y2="2242.4" stroke="#000" stroke-width="1.15" />
<line x1="148.1" y1="2184.2" x2="148.1" y2="2242.4" stroke="#000" stroke-width="1.15" />
<line x1="149.14" y1="2184.2" x2="149.14" y2="2242.4" stroke="#000" stroke-width="1.15" />
<line x1="149.69" y1="2184.2" x2="149.69" y2="2242.4" stroke="#000" stroke-width="1.15" />
<line x1="150.8" y1="2184.2" x2="150.8" y2="2242.4" stroke="#000" stroke-width="1.15" />
<line x1="151.77" y1="2184.2" x2="151.77" y2="2242.4" stroke="#000" stroke-width="1.15" />
<line x1="152.51" y1="2184.2" x2="152.51" y2="2242.4" stroke="#000" stroke-width="1.15" />
<line x1="153.36" y1="2184.2" x2="153.36" y2="2242.4" stroke="#000" stroke-width="1.15" />
<line x1="155.55" y1="2184.2" x2="155.55" y2="2242.4" stroke="#000" stroke-width="1.15" />
<line x1="157.1" y1="2184.2" x2="157.1" y2="2242.4" stroke="#000" stroke-width="1.15" />
<line x1="159.05" y1="2184.2" x2="159.05" y2="2242.4" stroke="#000" stroke-width="1.15" />
<line x1="161.26" y1="2184.2" x2="161.26" y2="2242.4" stroke="#000" stroke-width="1.15" />
<line x1="163.2" y1="2184.2" x2="163.2" y2="2242.4" stroke="#000" stroke-width="1.15" />
<line x1="165.47" y1="2184.2" x2="165.47" y2="2242.4" stroke="#000" stroke-width="1.15" />
<line x1="166.91" y1="2184.2" x2="166.91" y2="2242.4" stroke="#000" stroke-width="1.15" />
<line x1="168.99" y1="2184.2" x2="168.99" y2="2242.4" stroke="#000" stroke-width="1.15" />
<line x1="170.5" y1="2184.2" x2="170.5" y2="2242.4" stroke="#000" stroke-width="1.15" />
<line x1="172.8" y1="2184.2" x2="172.8" y2="2242.4" stroke="#000" stroke-width="1.15" />
<line x1="175" y1="2184.2" x2="175" y2="2242.4" stroke="#000" stroke-width="1.15" />
<line x1="175.96" y1="2184.2" x2="175.96" y2="2242.4" stroke="#000" stroke-width="1.15" />
<line x1="176.98" y1="2184.2" x2="176.98" y2="2242.4" stroke="#000" stroke-width="1.15" />
<line x1="178.12" y1="2184.2" x2="178.12" y2="2242.4" stroke="#000" stroke-width="1.15" />
<line x1="180.47" y1="2184.2" x2="180.47" y2="2242.4" stroke="#000" stroke-width="1.15" />
<line x1="181.97" y1="2184.2" x2="181.97" y2="2242.4" stroke="#000" stroke-width="1.15" />
<line x1="183.77" y1="2184.2" x2="183.77" y2="2242.4" stroke="#000" stroke-width="1.15" />
<line x1="185.05" y1="2184.2" x2="185.05" y2="2242.4" stroke="#000" stroke-width="1.15" />
<line x1="186.66" y1="2184.2" x2="186.66" y2="2242.4" stroke="#000" stroke-width="1.15" />
<line x1="188.08" y1="2184.2" x2="188.08" y2="2242.4" stroke="#000" stroke-width="1.15" />
<line x1="189.44" y1="2184.2" x2="189.44" y2="2242.4" stroke="#000" stroke-width="1.15" />
<line x1="191.18" y1="2184.2" x2="191.18" y2="2242.4" stroke="#000" stroke-width="1.15" />
<line x1="192.91" y1="2184.2" x2="192.91" y2="2242.4" stroke="#000" stroke-width="1.15" />
<line x1="195.16" y1="2184.2" x2="195.16" y2="2242.4" stroke="#000" stroke-width="1.15" />
<line x1="197.05" y1="2184.2" x2="197.05" y2="2242.4" stroke="#000" stroke-width="1.15" />
<line x1="201.84" y1="2184.2" x2="201.84" y2="2242.4" stroke="#000" stroke-width="1.15" />
<line x1="206.4" y1="2184.2" x2="206.4" y2="2242.4" stroke="#000" stroke-width="1.15" />
<line x1="211.38" y1="2184.2" x2="211.38" y2="2242.4" stroke="#000" stroke-width="1.15" />
<line x1="215.39" y1="2184.2" x2="215.39" y2="2242.4" stroke="#000" stroke-width="1.15" />
<line x1="217.88" y1="2184.2" x2="217.88" y2="2242.4" stroke="#000" stroke-width="1.15" />
<line x1="270" y1="2184.2" x2="270" y2="2242.4" stroke="#000" stroke-width="1.15" />
<line x1="286" y1="2184.2" x2="286" y2="2242.4" stroke="#000" stroke-width="1.15" />
<line x1="400" y1="2184.2" x2="400" y2="2242.4" stroke="#000" stroke-width="1.15" />
<line x1="446" y1="2184.2" x2="446" y2="2242.4" stroke="#000" stroke-width="1.15" />
<line x1="451.36" y1="2184.2" x2="451.36" y2="2242.4" stroke="#000" stroke-width="1.15" />
<line x1="456.48" y1="2184.2" x2="456.48" y2="2242.4" stroke="#000" stroke-width="1.15" />
<line x1="460.25" y1="2184.2" x2="460.25" y2="2242.4" stroke="#000" stroke-width="1.15" />
<line x1="464.61" y1="2184.2" x2="464.61" y2="2242.4" stroke="#000" stroke-width="1.15" />
<line x1="466.95" y1="2184.2" x2="466.95" y2="2242.4" stroke="#000" stroke-width="1.15" />
<line x1="471.78" y1="2184.2" x2="471.78" y2="2242.4" stroke="#000" stroke-width="1.15" />
<line x1="475.57" y1="2184.2" x2="475.57" y2="2242.4" stroke="#000" stroke-width="1.15" />
<line x1="478.21" y1="2184.2" x2="478.21" y2="2242.4" stroke="#000" stroke-width="1.15" />
<line x1="479.97" y1="2184.2" x2="479.97" y2="2242.4" stroke="#000" stroke-width="1.15" />
<line x1="484.88" y1="2184.2" x2="484.88" y2="2242.4" stroke="#000" stroke-width="1.15" />
<line x1="490.34" y1="2184.2" x2="490.34" y2="2242.4" stroke="#000" stroke-width="1.15" />
<line x1="492.2" y1="2184.2" x2="492.2" y2="2242.4" stroke="#000" stroke-width="1.15" />
<line x1="496.9" y1="2184.2" x2="496.9" y2="2242.4" stroke="#000" stroke-width="1.15" />
<line x1="500.04" y1="2184.2" x2="500.04" y2="2242.4" stroke="#000" stroke-width="1.15" />
<line x1="502.14" y1="2184.2" x2="502.14" y2="2242.4" stroke="#000" stroke-width="1.15" />
<line x1="504.82" y1="2184.2" x2="504.82" y2="2242.4" stroke="#000" stroke-width="1.15" />
<line x1="509.39" y1="2184.2" x2="509.39" y2="2242.4" stroke="#000" stroke-width="1.15" />
<line x1="514.39" y1="2184.2" x2="514.39" y2="2242.4" stroke="#000" stroke-width="1.15" />
<line x1="516.06" y1="2184.2" x2="516.06" y2="2242.4" stroke="#000" stroke-width="1.15" />
<line x1="520.02" y1="2184.2" x2="520.02" y2="2242.4" stroke="#000" stroke-width="1.15" />
<line x1="521.7" y1="2184.2" x2="521.7" y2="2242.4" stroke="#000" stroke-width="1.15" />
<line x1="526.07" y1="2184.2" x2="526.07" y2="2242.4" stroke="#000" stroke-width="1.15" />
<line x1="528.9" y1="2184.2" x2="528.9" y2="2242.4" stroke="#000" stroke-width="1.15" />
<line x1="533.92" y1="2184.2" x2="533.92" y2="2242.4" stroke="#000" stroke-width="1.15" />
<line x1="539.34" y1="2184.2" x2="539.34" y2="2242.4" stroke="#000" stroke-width="1.15" />
<defs><linearGradient id="cbp" x1="0" y1="0" x2="1" y2="0"><stop offset="0.000" stop-color="#c02030"/><stop offset="0.100" stop-color="#dc3040"/><stop offset="0.170" stop-color="#e84c5c"/><stop offset="0.200" stop-color="#ee7484"/><stop offset="0.215" stop-color="#eea0c0"/><stop offset="0.222" stop-color="#f2b6e2"/><stop offset="0.757" stop-color="#f2b6e2"/><stop offset="0.758" stop-color="#cfcff4"/><stop offset="0.935" stop-color="#c8c8f2"/><stop offset="0.936" stop-color="#6a60f4"/><stop offset="0.970" stop-color="#4a40f6"/><stop offset="1.000" stop-color="#2410f0"/></linearGradient></defs>
<rect x="129.3" y="2242.4" width="413.1" height="13.8" fill="url(#cbp)" />
<line x1="209.88" y1="2242.4" x2="209.88" y2="2256.2" stroke="#a01020" stroke-width="1" opacity="0.35"/>
<line x1="154.77" y1="2242.4" x2="154.77" y2="2256.2" stroke="#a01020" stroke-width="1" opacity="0.35"/>
<line x1="136.16" y1="2242.4" x2="136.16" y2="2256.2" stroke="#a01020" stroke-width="1" opacity="0.35"/>
<line x1="177.98" y1="2242.4" x2="177.98" y2="2256.2" stroke="#a01020" stroke-width="1" opacity="0.35"/>
<line x1="132.51" y1="2242.4" x2="132.51" y2="2256.2" stroke="#a01020" stroke-width="1" opacity="0.35"/>
<line x1="145.79" y1="2242.4" x2="145.79" y2="2256.2" stroke="#a01020" stroke-width="1" opacity="0.35"/>
<line x1="162.63" y1="2242.4" x2="162.63" y2="2256.2" stroke="#a01020" stroke-width="1" opacity="0.35"/>
<line x1="178.84" y1="2242.4" x2="178.84" y2="2256.2" stroke="#a01020" stroke-width="1" opacity="0.35"/>
<line x1="142.5" y1="2242.4" x2="142.5" y2="2256.2" stroke="#a01020" stroke-width="1" opacity="0.35"/>
<line x1="133.39" y1="2242.4" x2="133.39" y2="2256.2" stroke="#a01020" stroke-width="1" opacity="0.35"/>
<line x1="199.42" y1="2242.4" x2="199.42" y2="2256.2" stroke="#a01020" stroke-width="1" opacity="0.35"/>
<line x1="155.11" y1="2242.4" x2="155.11" y2="2256.2" stroke="#a01020" stroke-width="1" opacity="0.35"/>
<line x1="206.69" y1="2242.4" x2="206.69" y2="2256.2" stroke="#a01020" stroke-width="1" opacity="0.35"/>
<line x1="201.73" y1="2242.4" x2="201.73" y2="2256.2" stroke="#a01020" stroke-width="1" opacity="0.35"/>
<line x1="160.22" y1="2242.4" x2="160.22" y2="2256.2" stroke="#a01020" stroke-width="1" opacity="0.35"/>
<line x1="166.83" y1="2242.4" x2="166.83" y2="2256.2" stroke="#a01020" stroke-width="1" opacity="0.35"/>
<line x1="171.61" y1="2242.4" x2="171.61" y2="2256.2" stroke="#a01020" stroke-width="1" opacity="0.35"/>
<line x1="181.51" y1="2242.4" x2="181.51" y2="2256.2" stroke="#a01020" stroke-width="1" opacity="0.35"/>
<line x1="177.65" y1="2242.4" x2="177.65" y2="2256.2" stroke="#a01020" stroke-width="1" opacity="0.35"/>
<line x1="174.74" y1="2242.4" x2="174.74" y2="2256.2" stroke="#a01020" stroke-width="1" opacity="0.35"/>
<line x1="179.61" y1="2242.4" x2="179.61" y2="2256.2" stroke="#a01020" stroke-width="1" opacity="0.35"/>
<line x1="205.25" y1="2242.4" x2="205.25" y2="2256.2" stroke="#a01020" stroke-width="1" opacity="0.35"/>
<line x1="170.56" y1="2242.4" x2="170.56" y2="2256.2" stroke="#a01020" stroke-width="1" opacity="0.35"/>
<line x1="164.5" y1="2242.4" x2="164.5" y2="2256.2" stroke="#a01020" stroke-width="1" opacity="0.35"/>
<line x1="187.62" y1="2242.4" x2="187.62" y2="2256.2" stroke="#a01020" stroke-width="1" opacity="0.35"/>
<line x1="149.01" y1="2242.4" x2="149.01" y2="2256.2" stroke="#a01020" stroke-width="1" opacity="0.35"/>
<line x1="154.09" y1="2242.4" x2="154.09" y2="2256.2" stroke="#a01020" stroke-width="1" opacity="0.35"/>
<line x1="208.22" y1="2242.4" x2="208.22" y2="2256.2" stroke="#a01020" stroke-width="1" opacity="0.35"/>
<line x1="171.69" y1="2242.4" x2="171.69" y2="2256.2" stroke="#a01020" stroke-width="1" opacity="0.35"/>
<line x1="173.87" y1="2242.4" x2="173.87" y2="2256.2" stroke="#a01020" stroke-width="1" opacity="0.35"/>
<line x1="130.92" y1="2242.4" x2="130.92" y2="2256.2" stroke="#a01020" stroke-width="1" opacity="0.35"/>
<line x1="163.22" y1="2242.4" x2="163.22" y2="2256.2" stroke="#a01020" stroke-width="1" opacity="0.35"/>
<line x1="176.4" y1="2242.4" x2="176.4" y2="2256.2" stroke="#a01020" stroke-width="1" opacity="0.35"/>
<line x1="131.6" y1="2242.4" x2="131.6" y2="2256.2" stroke="#a01020" stroke-width="1" opacity="0.35"/>
<line x1="179.26" y1="2242.4" x2="179.26" y2="2256.2" stroke="#a01020" stroke-width="1" opacity="0.35"/>
<line x1="180.57" y1="2242.4" x2="180.57" y2="2256.2" stroke="#a01020" stroke-width="1" opacity="0.35"/>
<line x1="134.81" y1="2242.4" x2="134.81" y2="2256.2" stroke="#a01020" stroke-width="1" opacity="0.35"/>
<line x1="180.19" y1="2242.4" x2="180.19" y2="2256.2" stroke="#a01020" stroke-width="1" opacity="0.35"/>
<line x1="167.3" y1="2242.4" x2="167.3" y2="2256.2" stroke="#a01020" stroke-width="1" opacity="0.35"/>
<line x1="184.34" y1="2242.4" x2="184.34" y2="2256.2" stroke="#a01020" stroke-width="1" opacity="0.35"/>
<line x1="468.09" y1="2242.4" x2="468.09" y2="2256.2" stroke="#b0b0f0" stroke-width="1" opacity="0.6"/>
<line x1="494.31" y1="2242.4" x2="494.31" y2="2256.2" stroke="#b0b0f0" stroke-width="1" opacity="0.6"/>
<line x1="496.61" y1="2242.4" x2="496.61" y2="2256.2" stroke="#b0b0f0" stroke-width="1" opacity="0.6"/>
<line x1="443.64" y1="2242.4" x2="443.64" y2="2256.2" stroke="#b0b0f0" stroke-width="1" opacity="0.6"/>
<line x1="446.48" y1="2242.4" x2="446.48" y2="2256.2" stroke="#b0b0f0" stroke-width="1" opacity="0.6"/>
<line x1="492.03" y1="2242.4" x2="492.03" y2="2256.2" stroke="#b0b0f0" stroke-width="1" opacity="0.6"/>
<line x1="513.28" y1="2242.4" x2="513.28" y2="2256.2" stroke="#b0b0f0" stroke-width="1" opacity="0.6"/>
<line x1="460.58" y1="2242.4" x2="460.58" y2="2256.2" stroke="#b0b0f0" stroke-width="1" opacity="0.6"/>
<line x1="475.77" y1="2242.4" x2="475.77" y2="2256.2" stroke="#b0b0f0" stroke-width="1" opacity="0.6"/>
<line x1="485.86" y1="2242.4" x2="485.86" y2="2256.2" stroke="#b0b0f0" stroke-width="1" opacity="0.6"/>
<line x1="129.3" y1="2242.4" x2="563.6" y2="2242.4" stroke="#a8a8a8" stroke-width="1" />
<line x1="129.3" y1="2256.2" x2="563.6" y2="2256.2" stroke="#a8a8a8" stroke-width="1" />
<path d="M130 2316.7 L130 2268 L131 2283 L133 2293 L137 2299 L145 2303 L160 2308 L175 2311 L190 2313.5 L210 2315.5 L224.4 2316.7 L442 2316.7 L470 2318.5 L490 2321 L510 2326 L525 2333 L535 2342 L540 2352 L542 2368 L542.4 2316.7" fill="#c0c0c0" />
<line x1="224.4" y1="2259.2" x2="224.4" y2="2373" stroke="#888" stroke-width="1" stroke-dasharray="4 3"/>
<text x="181.62" y="2318.2" font-size="8.42" font-family="'DejaVu Sans', Verdana, sans-serif" fill="#222">Zero cross at 12508</text>
<text x="134.08" y="2282.2" font-size="25.4" fill="#ec1c24">‘HC’ (positively correlated)</text>
<text x="266.68" y="2363.9" font-size="25.39" fill="#1c1cdc">‘NC’ (negatively correlated)</text>
<text x="400.96" y="2050.5" font-size="25.52">ES: 0.63</text>
<text x="400.95" y="2079.1" font-size="25.6">NES: 1.69</text>
<line x1="129.3" y1="2375" x2="129.3" y2="2378" stroke="#888" stroke-width="1" />
<text x="125.84" y="2389.9" font-size="10.9" font-family="'DejaVu Sans', Verdana, sans-serif" fill="#222">0</text>
<line x1="205.3" y1="2375" x2="205.3" y2="2378" stroke="#888" stroke-width="1" />
<text x="185.98" y="2389.9" font-size="10.9" font-family="'DejaVu Sans', Verdana, sans-serif" fill="#222">10,000</text>
<line x1="281.3" y1="2375" x2="281.3" y2="2378" stroke="#888" stroke-width="1" />
<text x="262.17" y="2389.9" font-size="10.9" font-family="'DejaVu Sans', Verdana, sans-serif" fill="#222">20,000</text>
<line x1="357.3" y1="2375" x2="357.3" y2="2378" stroke="#888" stroke-width="1" />
<text x="338.17" y="2389.9" font-size="10.9" font-family="'DejaVu Sans', Verdana, sans-serif" fill="#222">30,000</text>
<line x1="433.3" y1="2375" x2="433.3" y2="2378" stroke="#888" stroke-width="1" />
<text x="414.31" y="2389.9" font-size="10.9" font-family="'DejaVu Sans', Verdana, sans-serif" fill="#222">40,000</text>
<line x1="509.3" y1="2375" x2="509.3" y2="2378" stroke="#888" stroke-width="1" />
<text x="490.17" y="2389.9" font-size="10.9" font-family="'DejaVu Sans', Verdana, sans-serif" fill="#222">50,000</text>
<text x="277.48" y="2407.4" font-size="11.15" font-family="'DejaVu Sans', Verdana, sans-serif" fill="#111">Rank in Ordered Dataset</text>
<text x="97.8" y="2174.41" font-size="14.09" font-family="'DejaVu Sans', Verdana, sans-serif" fill="#222" transform="rotate(-90 97.8 2174.41)">Enrichment score (ES)</text>
<text x="107" y="2408.52" font-size="11.17" font-family="'DejaVu Sans', Verdana, sans-serif" fill="#222" transform="rotate(-90 107 2408.52)">Ranked list metric (Signal2Noise)</text>
<rect x="150.5" y="2420.7" width="342.5" height="25.7" fill="#fff" stroke="#111" stroke-width="1.3" />
<line x1="153.24" y1="2434.05" x2="169.34" y2="2434.05" stroke="#3fe81a" stroke-width="2" />
<text x="170.98" y="2438.55" font-size="10.94" font-family="'DejaVu Sans', Verdana, sans-serif" fill="#111">Enrichment profile</text>
<line x1="278.25" y1="2434.05" x2="292.64" y2="2434.05" stroke="#666" stroke-width="1.6" />
<text x="294.86" y="2438.55" font-size="12.02" font-family="'DejaVu Sans', Verdana, sans-serif" fill="#111">Hits</text>
<line x1="347.44" y1="2434.05" x2="362.16" y2="2434.05" stroke="#d8d8d8" stroke-width="1.6" />
<text x="364.47" y="2438.55" font-size="11.15" font-family="'DejaVu Sans', Verdana, sans-serif" fill="#111">Ranking metric scores</text>
<rect x="588.2" y="1951" width="20.29" height="20.13" fill="#f2667e" />
<rect x="608.29" y="1951" width="20.29" height="20.13" fill="#dd2014" />
<rect x="628.37" y="1951" width="20.29" height="20.13" fill="#dd2014" />
<rect x="648.46" y="1951" width="20.29" height="20.13" fill="#ee4852" />
<rect x="668.54" y="1951" width="20.29" height="20.13" fill="#3600ff" />
<rect x="688.63" y="1951" width="20.29" height="20.13" fill="#4610dc" />
<rect x="708.71" y="1951" width="20.29" height="20.13" fill="#3600ff" />
<rect x="588.2" y="1970.93" width="20.29" height="20.13" fill="#dd2014" />
<rect x="608.29" y="1970.93" width="20.29" height="20.13" fill="#f6c8e8" />
<rect x="628.37" y="1970.93" width="20.29" height="20.13" fill="#dd2014" />
<rect x="648.46" y="1970.93" width="20.29" height="20.13" fill="#dd2014" />
<rect x="668.54" y="1970.93" width="20.29" height="20.13" fill="#4610dc" />
<rect x="688.63" y="1970.93" width="20.29" height="20.13" fill="#3600ff" />
<rect x="708.71" y="1970.93" width="20.29" height="20.13" fill="#3600ff" />
<rect x="588.2" y="1990.85" width="20.29" height="20.13" fill="#f6c8e8" />
<rect x="608.29" y="1990.85" width="20.29" height="20.13" fill="#dd2014" />
<rect x="628.37" y="1990.85" width="20.29" height="20.13" fill="#ee4852" />
<rect x="648.46" y="1990.85" width="20.29" height="20.13" fill="#f28a90" />
<rect x="668.54" y="1990.85" width="20.29" height="20.13" fill="#4610dc" />
<rect x="688.63" y="1990.85" width="20.29" height="20.13" fill="#4610dc" />
<rect x="708.71" y="1990.85" width="20.29" height="20.13" fill="#4610dc" />
<rect x="588.2" y="2010.78" width="20.29" height="20.13" fill="#ee4852" />
<rect x="608.29" y="2010.78" width="20.29" height="20.13" fill="#dd2014" />
<rect x="628.37" y="2010.78" width="20.29" height="20.13" fill="#ee4852" />
<rect x="648.46" y="2010.78" width="20.29" height="20.13" fill="#f2667e" />
<rect x="668.54" y="2010.78" width="20.29" height="20.13" fill="#4610dc" />
<rect x="688.63" y="2010.78" width="20.29" height="20.13" fill="#4610dc" />
<rect x="708.71" y="2010.78" width="20.29" height="20.13" fill="#3600ff" />
<rect x="588.2" y="2030.7" width="20.29" height="20.13" fill="#ee4852" />
<rect x="608.29" y="2030.7" width="20.29" height="20.13" fill="#dd2014" />
<rect x="628.37" y="2030.7" width="20.29" height="20.13" fill="#ee4852" />
<rect x="648.46" y="2030.7" width="20.29" height="20.13" fill="#ee4852" />
<rect x="668.54" y="2030.7" width="20.29" height="20.13" fill="#3600ff" />
<rect x="688.63" y="2030.7" width="20.29" height="20.13" fill="#4610dc" />
<rect x="708.71" y="2030.7" width="20.29" height="20.13" fill="#8a8af8" />
<rect x="588.2" y="2050.63" width="20.29" height="20.13" fill="#f28a90" />
<rect x="608.29" y="2050.63" width="20.29" height="20.13" fill="#dd2014" />
<rect x="628.37" y="2050.63" width="20.29" height="20.13" fill="#ee4852" />
<rect x="648.46" y="2050.63" width="20.29" height="20.13" fill="#f2667e" />
<rect x="668.54" y="2050.63" width="20.29" height="20.13" fill="#4610dc" />
<rect x="688.63" y="2050.63" width="20.29" height="20.13" fill="#7258f4" />
<rect x="708.71" y="2050.63" width="20.29" height="20.13" fill="#4610dc" />
<rect x="588.2" y="2070.56" width="20.29" height="20.13" fill="#ee4852" />
<rect x="608.29" y="2070.56" width="20.29" height="20.13" fill="#c2c2fa" />
<rect x="628.37" y="2070.56" width="20.29" height="20.13" fill="#dd2014" />
<rect x="648.46" y="2070.56" width="20.29" height="20.13" fill="#f2667e" />
<rect x="668.54" y="2070.56" width="20.29" height="20.13" fill="#4610dc" />
<rect x="688.63" y="2070.56" width="20.29" height="20.13" fill="#4610dc" />
<rect x="708.71" y="2070.56" width="20.29" height="20.13" fill="#4610dc" />
<rect x="588.2" y="2090.48" width="20.29" height="20.13" fill="#ee4852" />
<rect x="608.29" y="2090.48" width="20.29" height="20.13" fill="#ee4852" />
<rect x="628.37" y="2090.48" width="20.29" height="20.13" fill="#f2667e" />
<rect x="648.46" y="2090.48" width="20.29" height="20.13" fill="#dd2014" />
<rect x="668.54" y="2090.48" width="20.29" height="20.13" fill="#3600ff" />
<rect x="688.63" y="2090.48" width="20.29" height="20.13" fill="#4610dc" />
<rect x="708.71" y="2090.48" width="20.29" height="20.13" fill="#3600ff" />
<rect x="588.2" y="2110.41" width="20.29" height="20.13" fill="#dd2014" />
<rect x="608.29" y="2110.41" width="20.29" height="20.13" fill="#ee4852" />
<rect x="628.37" y="2110.41" width="20.29" height="20.13" fill="#f28a90" />
<rect x="648.46" y="2110.41" width="20.29" height="20.13" fill="#dd2014" />
<rect x="668.54" y="2110.41" width="20.29" height="20.13" fill="#4610dc" />
<rect x="688.63" y="2110.41" width="20.29" height="20.13" fill="#4610dc" />
<rect x="708.71" y="2110.41" width="20.29" height="20.13" fill="#4610dc" />
<rect x="588.2" y="2130.33" width="20.29" height="20.13" fill="#dd2014" />
<rect x="608.29" y="2130.33" width="20.29" height="20.13" fill="#ee4852" />
<rect x="628.37" y="2130.33" width="20.29" height="20.13" fill="#f6c8e8" />
<rect x="648.46" y="2130.33" width="20.29" height="20.13" fill="#dd2014" />
<rect x="668.54" y="2130.33" width="20.29" height="20.13" fill="#4610dc" />
<rect x="688.63" y="2130.33" width="20.29" height="20.13" fill="#4610dc" />
<rect x="708.71" y="2130.33" width="20.29" height="20.13" fill="#4610dc" />
<rect x="588.2" y="2150.26" width="20.29" height="20.13" fill="#dd2014" />
<rect x="608.29" y="2150.26" width="20.29" height="20.13" fill="#f2667e" />
<rect x="628.37" y="2150.26" width="20.29" height="20.13" fill="#f28a90" />
<rect x="648.46" y="2150.26" width="20.29" height="20.13" fill="#ee4852" />
<rect x="668.54" y="2150.26" width="20.29" height="20.13" fill="#4610dc" />
<rect x="688.63" y="2150.26" width="20.29" height="20.13" fill="#3600ff" />
<rect x="708.71" y="2150.26" width="20.29" height="20.13" fill="#4610dc" />
<rect x="588.2" y="2170.19" width="20.29" height="20.13" fill="#dd2014" />
<rect x="608.29" y="2170.19" width="20.29" height="20.13" fill="#dd2014" />
<rect x="628.37" y="2170.19" width="20.29" height="20.13" fill="#ee4852" />
<rect x="648.46" y="2170.19" width="20.29" height="20.13" fill="#ee4852" />
<rect x="668.54" y="2170.19" width="20.29" height="20.13" fill="#3600ff" />
<rect x="688.63" y="2170.19" width="20.29" height="20.13" fill="#4610dc" />
<rect x="708.71" y="2170.19" width="20.29" height="20.13" fill="#4610dc" />
<rect x="588.2" y="2190.11" width="20.29" height="20.13" fill="#ee4852" />
<rect x="608.29" y="2190.11" width="20.29" height="20.13" fill="#f2667e" />
<rect x="628.37" y="2190.11" width="20.29" height="20.13" fill="#ee4852" />
<rect x="648.46" y="2190.11" width="20.29" height="20.13" fill="#dd2014" />
<rect x="668.54" y="2190.11" width="20.29" height="20.13" fill="#3600ff" />
<rect x="688.63" y="2190.11" width="20.29" height="20.13" fill="#4610dc" />
<rect x="708.71" y="2190.11" width="20.29" height="20.13" fill="#3600ff" />
<rect x="588.2" y="2210.04" width="20.29" height="20.13" fill="#d6d6fa" />
<rect x="608.29" y="2210.04" width="20.29" height="20.13" fill="#ee4852" />
<rect x="628.37" y="2210.04" width="20.29" height="20.13" fill="#ee4852" />
<rect x="648.46" y="2210.04" width="20.29" height="20.13" fill="#dd2014" />
<rect x="668.54" y="2210.04" width="20.29" height="20.13" fill="#7258f4" />
<rect x="688.63" y="2210.04" width="20.29" height="20.13" fill="#4610dc" />
<rect x="708.71" y="2210.04" width="20.29" height="20.13" fill="#c2c2fa" />
<rect x="588.2" y="2229.96" width="20.29" height="20.13" fill="#f6c8e8" />
<rect x="608.29" y="2229.96" width="20.29" height="20.13" fill="#f28a90" />
<rect x="628.37" y="2229.96" width="20.29" height="20.13" fill="#f28a90" />
<rect x="648.46" y="2229.96" width="20.29" height="20.13" fill="#dd2014" />
<rect x="668.54" y="2229.96" width="20.29" height="20.13" fill="#c2c2fa" />
<rect x="688.63" y="2229.96" width="20.29" height="20.13" fill="#3600ff" />
<rect x="708.71" y="2229.96" width="20.29" height="20.13" fill="#4610dc" />
<rect x="588.2" y="2249.89" width="20.29" height="20.13" fill="#dd2014" />
<rect x="608.29" y="2249.89" width="20.29" height="20.13" fill="#f6c8e8" />
<rect x="628.37" y="2249.89" width="20.29" height="20.13" fill="#f6c8e8" />
<rect x="648.46" y="2249.89" width="20.29" height="20.13" fill="#f2667e" />
<rect x="668.54" y="2249.89" width="20.29" height="20.13" fill="#4610dc" />
<rect x="688.63" y="2249.89" width="20.29" height="20.13" fill="#7258f4" />
<rect x="708.71" y="2249.89" width="20.29" height="20.13" fill="#4610dc" />
<rect x="588.2" y="2269.81" width="20.29" height="20.13" fill="#ee4852" />
<rect x="608.29" y="2269.81" width="20.29" height="20.13" fill="#f2667e" />
<rect x="628.37" y="2269.81" width="20.29" height="20.13" fill="#f28a90" />
<rect x="648.46" y="2269.81" width="20.29" height="20.13" fill="#dd2014" />
<rect x="668.54" y="2269.81" width="20.29" height="20.13" fill="#4610dc" />
<rect x="688.63" y="2269.81" width="20.29" height="20.13" fill="#4610dc" />
<rect x="708.71" y="2269.81" width="20.29" height="20.13" fill="#c2c2fa" />
<rect x="588.2" y="2289.74" width="20.29" height="20.13" fill="#ee4852" />
<rect x="608.29" y="2289.74" width="20.29" height="20.13" fill="#ee4852" />
<rect x="628.37" y="2289.74" width="20.29" height="20.13" fill="#ee4852" />
<rect x="648.46" y="2289.74" width="20.29" height="20.13" fill="#dd2014" />
<rect x="668.54" y="2289.74" width="20.29" height="20.13" fill="#4610dc" />
<rect x="688.63" y="2289.74" width="20.29" height="20.13" fill="#4610dc" />
<rect x="708.71" y="2289.74" width="20.29" height="20.13" fill="#7258f4" />
<rect x="588.2" y="2309.67" width="20.29" height="20.13" fill="#dd2014" />
<rect x="608.29" y="2309.67" width="20.29" height="20.13" fill="#f6c8e8" />
<rect x="628.37" y="2309.67" width="20.29" height="20.13" fill="#ee4852" />
<rect x="648.46" y="2309.67" width="20.29" height="20.13" fill="#ee4852" />
<rect x="668.54" y="2309.67" width="20.29" height="20.13" fill="#c2c2fa" />
<rect x="688.63" y="2309.67" width="20.29" height="20.13" fill="#4610dc" />
<rect x="708.71" y="2309.67" width="20.29" height="20.13" fill="#8a8af8" />
<rect x="588.2" y="2329.59" width="20.29" height="20.13" fill="#ee4852" />
<rect x="608.29" y="2329.59" width="20.29" height="20.13" fill="#dd2014" />
<rect x="628.37" y="2329.59" width="20.29" height="20.13" fill="#f6c8e8" />
<rect x="648.46" y="2329.59" width="20.29" height="20.13" fill="#ee4852" />
<rect x="668.54" y="2329.59" width="20.29" height="20.13" fill="#3600ff" />
<rect x="688.63" y="2329.59" width="20.29" height="20.13" fill="#4610dc" />
<rect x="708.71" y="2329.59" width="20.29" height="20.13" fill="#c2c2fa" />
<rect x="588.2" y="2349.52" width="20.29" height="20.13" fill="#dd2014" />
<rect x="608.29" y="2349.52" width="20.29" height="20.13" fill="#ee4852" />
<rect x="628.37" y="2349.52" width="20.29" height="20.13" fill="#f6c8e8" />
<rect x="648.46" y="2349.52" width="20.29" height="20.13" fill="#dd2014" />
<rect x="668.54" y="2349.52" width="20.29" height="20.13" fill="#4610dc" />
<rect x="688.63" y="2349.52" width="20.29" height="20.13" fill="#4610dc" />
<rect x="708.71" y="2349.52" width="20.29" height="20.13" fill="#c2c2fa" />
<rect x="588.2" y="2369.44" width="20.29" height="20.13" fill="#f2667e" />
<rect x="608.29" y="2369.44" width="20.29" height="20.13" fill="#dd2014" />
<rect x="628.37" y="2369.44" width="20.29" height="20.13" fill="#ee4852" />
<rect x="648.46" y="2369.44" width="20.29" height="20.13" fill="#ee4852" />
<rect x="668.54" y="2369.44" width="20.29" height="20.13" fill="#3600ff" />
<rect x="688.63" y="2369.44" width="20.29" height="20.13" fill="#4610dc" />
<rect x="708.71" y="2369.44" width="20.29" height="20.13" fill="#8a8af8" />
<rect x="588.2" y="2389.37" width="20.29" height="20.13" fill="#ee4852" />
<rect x="608.29" y="2389.37" width="20.29" height="20.13" fill="#8a8af8" />
<rect x="628.37" y="2389.37" width="20.29" height="20.13" fill="#dd2014" />
<rect x="648.46" y="2389.37" width="20.29" height="20.13" fill="#dd2014" />
<rect x="668.54" y="2389.37" width="20.29" height="20.13" fill="#3600ff" />
<rect x="688.63" y="2389.37" width="20.29" height="20.13" fill="#4610dc" />
<rect x="708.71" y="2389.37" width="20.29" height="20.13" fill="#c2c2fa" />
<rect x="588.2" y="2409.3" width="20.29" height="20.13" fill="#dd2014" />
<rect x="608.29" y="2409.3" width="20.29" height="20.13" fill="#f2667e" />
<rect x="628.37" y="2409.3" width="20.29" height="20.13" fill="#d6d6fa" />
<rect x="648.46" y="2409.3" width="20.29" height="20.13" fill="#f2667e" />
<rect x="668.54" y="2409.3" width="20.29" height="20.13" fill="#3600ff" />
<rect x="688.63" y="2409.3" width="20.29" height="20.13" fill="#4610dc" />
<rect x="708.71" y="2409.3" width="20.29" height="20.13" fill="#d6d6fa" />
<rect x="588.2" y="2429.22" width="20.29" height="20.13" fill="#4610dc" />
<rect x="608.29" y="2429.22" width="20.29" height="20.13" fill="#7258f4" />
<rect x="628.37" y="2429.22" width="20.29" height="20.13" fill="#c2c2fa" />
<rect x="648.46" y="2429.22" width="20.29" height="20.13" fill="#8a8af8" />
<rect x="668.54" y="2429.22" width="20.29" height="20.13" fill="#dd2014" />
<rect x="688.63" y="2429.22" width="20.29" height="20.13" fill="#f2667e" />
<rect x="708.71" y="2429.22" width="20.29" height="20.13" fill="#dd2014" />
<rect x="588.2" y="2449.15" width="20.29" height="20.13" fill="#4610dc" />
<rect x="608.29" y="2449.15" width="20.29" height="20.13" fill="#4610dc" />
<rect x="628.37" y="2449.15" width="20.29" height="20.13" fill="#c2c2fa" />
<rect x="648.46" y="2449.15" width="20.29" height="20.13" fill="#4610dc" />
<rect x="668.54" y="2449.15" width="20.29" height="20.13" fill="#ee4852" />
<rect x="688.63" y="2449.15" width="20.29" height="20.13" fill="#dd2014" />
<rect x="708.71" y="2449.15" width="20.29" height="20.13" fill="#f2667e" />
<rect x="588.2" y="2469.07" width="20.29" height="20.13" fill="#4610dc" />
<rect x="608.29" y="2469.07" width="20.29" height="20.13" fill="#3600ff" />
<rect x="628.37" y="2469.07" width="20.29" height="20.13" fill="#4610dc" />
<rect x="648.46" y="2469.07" width="20.29" height="20.13" fill="#4610dc" />
<rect x="668.54" y="2469.07" width="20.29" height="20.13" fill="#dd2014" />
<rect x="688.63" y="2469.07" width="20.29" height="20.13" fill="#dd2014" />
<rect x="708.71" y="2469.07" width="20.29" height="20.13" fill="#ee4852" />
<line x1="588.2" y1="1950.2" x2="588.2" y2="2489.8" stroke="#111" stroke-width="1.7" />
<line x1="608.29" y1="1950.2" x2="608.29" y2="2489.8" stroke="#111" stroke-width="1.7" />
<line x1="628.37" y1="1950.2" x2="628.37" y2="2489.8" stroke="#111" stroke-width="1.7" />
<line x1="648.46" y1="1950.2" x2="648.46" y2="2489.8" stroke="#111" stroke-width="1.7" />
<line x1="668.54" y1="1950.2" x2="668.54" y2="2489.8" stroke="#111" stroke-width="1.7" />
<line x1="688.63" y1="1950.2" x2="688.63" y2="2489.8" stroke="#111" stroke-width="1.7" />
<line x1="708.71" y1="1950.2" x2="708.71" y2="2489.8" stroke="#111" stroke-width="1.7" />
<line x1="728.8" y1="1950.2" x2="728.8" y2="2489.8" stroke="#111" stroke-width="1.7" />
<line x1="587.4" y1="1951" x2="729.6" y2="1951" stroke="#111" stroke-width="1.7" />
<line x1="587.4" y1="1970.93" x2="729.6" y2="1970.93" stroke="#111" stroke-width="1.7" />
<line x1="587.4" y1="1990.85" x2="729.6" y2="1990.85" stroke="#111" stroke-width="1.7" />
<line x1="587.4" y1="2010.78" x2="729.6" y2="2010.78" stroke="#111" stroke-width="1.7" />
<line x1="587.4" y1="2030.7" x2="729.6" y2="2030.7" stroke="#111" stroke-width="1.7" />
<line x1="587.4" y1="2050.63" x2="729.6" y2="2050.63" stroke="#111" stroke-width="1.7" />
<line x1="587.4" y1="2070.56" x2="729.6" y2="2070.56" stroke="#111" stroke-width="1.7" />
<line x1="587.4" y1="2090.48" x2="729.6" y2="2090.48" stroke="#111" stroke-width="1.7" />
<line x1="587.4" y1="2110.41" x2="729.6" y2="2110.41" stroke="#111" stroke-width="1.7" />
<line x1="587.4" y1="2130.33" x2="729.6" y2="2130.33" stroke="#111" stroke-width="1.7" />
<line x1="587.4" y1="2150.26" x2="729.6" y2="2150.26" stroke="#111" stroke-width="1.7" />
<line x1="587.4" y1="2170.19" x2="729.6" y2="2170.19" stroke="#111" stroke-width="1.7" />
<line x1="587.4" y1="2190.11" x2="729.6" y2="2190.11" stroke="#111" stroke-width="1.7" />
<line x1="587.4" y1="2210.04" x2="729.6" y2="2210.04" stroke="#111" stroke-width="1.7" />
<line x1="587.4" y1="2229.96" x2="729.6" y2="2229.96" stroke="#111" stroke-width="1.7" />
<line x1="587.4" y1="2249.89" x2="729.6" y2="2249.89" stroke="#111" stroke-width="1.7" />
<line x1="587.4" y1="2269.81" x2="729.6" y2="2269.81" stroke="#111" stroke-width="1.7" />
<line x1="587.4" y1="2289.74" x2="729.6" y2="2289.74" stroke="#111" stroke-width="1.7" />
<line x1="587.4" y1="2309.67" x2="729.6" y2="2309.67" stroke="#111" stroke-width="1.7" />
<line x1="587.4" y1="2329.59" x2="729.6" y2="2329.59" stroke="#111" stroke-width="1.7" />
<line x1="587.4" y1="2349.52" x2="729.6" y2="2349.52" stroke="#111" stroke-width="1.7" />
<line x1="587.4" y1="2369.44" x2="729.6" y2="2369.44" stroke="#111" stroke-width="1.7" />
<line x1="587.4" y1="2389.37" x2="729.6" y2="2389.37" stroke="#111" stroke-width="1.7" />
<line x1="587.4" y1="2409.3" x2="729.6" y2="2409.3" stroke="#111" stroke-width="1.7" />
<line x1="587.4" y1="2429.22" x2="729.6" y2="2429.22" stroke="#111" stroke-width="1.7" />
<line x1="587.4" y1="2449.15" x2="729.6" y2="2449.15" stroke="#111" stroke-width="1.7" />
<line x1="587.4" y1="2469.07" x2="729.6" y2="2469.07" stroke="#111" stroke-width="1.7" />
<line x1="587.4" y1="2489" x2="729.6" y2="2489" stroke="#111" stroke-width="1.7" />
<text x="0" y="0" font-size="22.3" font-style="italic" transform="translate(732.73 1968.53) scale(1.15 1)">Klrc1</text>
<text x="0" y="0" font-size="22.3" font-style="italic" transform="translate(732.22 1988.45) scale(1.15 1)">Glipr2</text>
<text x="0" y="0" font-size="22.3" font-style="italic" transform="translate(732.73 2008.38) scale(1.15 1)">Hsd11b1</text>
<text x="0" y="0" font-size="22.3" font-style="italic" transform="translate(732.73 2028.3) scale(1.15 1)">Klrk1</text>
<text x="0" y="0" font-size="22.3" font-style="italic" transform="translate(732.73 2048.23) scale(1.15 1)">Hadhb</text>
<text x="0" y="0" font-size="22.3" font-style="italic" transform="translate(732.73 2068.16) scale(1.15 1)">Klrd1</text>
<text x="0" y="0" font-size="22.3" font-style="italic" transform="translate(732.73 2088.08) scale(1.15 1)">Satb1</text>
<text x="0" y="0" font-size="22.3" font-style="italic" transform="translate(732.73 2108.01) scale(1.15 1)">Rmc1</text>
<text x="0" y="0" font-size="22.3" font-style="italic" transform="translate(732.73 2127.93) scale(1.15 1)">Ddx41</text>
<text x="0" y="0" font-size="22.3" font-style="italic" transform="translate(732.09 2147.86) scale(1.15 1)">Ctsa</text>
<text x="0" y="0" font-size="22.3" font-style="italic" transform="translate(734.78 2167.79) scale(1.15 1)">Ap1m1</text>
<text x="0" y="0" font-size="22.3" font-style="italic" transform="translate(731.19 2187.71) scale(1.15 1)">Tspan31</text>
<text x="0" y="0" font-size="22.3" font-style="italic" transform="translate(732.73 2207.64) scale(1.15 1)">Herpud1</text>
<text x="0" y="0" font-size="22.3" font-style="italic" transform="translate(732.73 2227.56) scale(1.15 1)">Prkch</text>
<text x="0" y="0" font-size="22.3" font-style="italic" transform="translate(732.47 2247.49) scale(1.15 1)">Ifitm10</text>
<text x="0" y="0" font-size="22.3" font-style="italic" transform="translate(734.78 2267.41) scale(1.15 1)">Anxa6</text>
<text x="0" y="0" font-size="22.3" font-style="italic" transform="translate(733.88 2287.34) scale(1.15 1)">Xpnpep1</text>
<text x="0" y="0" font-size="22.3" font-style="italic" transform="translate(732.09 2307.27) scale(1.15 1)">Cpt2</text>
<text x="0" y="0" font-size="22.3" font-style="italic" transform="translate(732.73 2327.19) scale(1.15 1)">Hcls1</text>
<text x="0" y="0" font-size="22.3" font-style="italic" transform="translate(732.09 2347.12) scale(1.15 1)">Orc5</text>
<text x="0" y="0" font-size="22.3" font-style="italic" transform="translate(732.73 2367.04) scale(1.15 1)">Ptpn6</text>
<text x="0" y="0" font-size="22.3" font-style="italic" transform="translate(732.09 2386.97) scale(1.15 1)">Cab39l</text>
<text x="0" y="0" font-size="22.3" font-style="italic" transform="translate(732.73 2406.9) scale(1.15 1)">Dgka</text>
<text x="0" y="0" font-size="22.3" font-style="italic" transform="translate(731.19 2426.82) scale(1.15 1)">Tmem45a</text>
<text x="0" y="0" font-size="22.3" font-style="italic" transform="translate(734.78 2446.75) scale(1.15 1)">Arl4c</text>
<text x="0" y="0" font-size="22.3" font-style="italic" transform="translate(731.58 2466.67) scale(1.15 1)">Ube2z</text>
<text x="0" y="0" font-size="22.3" font-style="italic" transform="translate(732.73 2486.6) scale(1.15 1)">Dnm1</text>
<text x="605.54" y="1949.9" font-size="25" transform="rotate(-90 605.54 1949.9)">HC-1</text>
<text x="625.63" y="1949.9" font-size="25" transform="rotate(-90 625.63 1949.9)">HC-2</text>
<text x="645.71" y="1949.9" font-size="25" transform="rotate(-90 645.71 1949.9)">HC-3</text>
<text x="665.8" y="1949.9" font-size="25" transform="rotate(-90 665.8 1949.9)">HC-4</text>
<text x="685.89" y="1949.9" font-size="25" transform="rotate(-90 685.89 1949.9)">NC-1</text>
<text x="705.97" y="1949.9" font-size="25" transform="rotate(-90 705.97 1949.9)">NC-2</text>
<text x="726.06" y="1949.9" font-size="25" transform="rotate(-90 726.06 1949.9)">NC-3</text>
<text x="903.84" y="1946.26" font-size="44" font-weight="bold">q</text>
<rect x="955.4" y="1956.8" width="496.7" height="497.4" fill="#f0f0f0" />
<text x="1128.5" y="1976.2" font-size="18.42" font-weight="bold">Enrichment plot:</text>
<text x="978.87" y="2002.2" font-size="18.17" font-weight="bold">GOBP_T_CELL_RECEPTOR_SIGNALING_PATHWAY</text>
<rect x="1012.6" y="2014.4" width="432.8" height="175.4" fill="#fff" stroke="#a8a8a8" stroke-width="1" />
<rect x="1012.6" y="2191.1" width="432.8" height="72.5" fill="#fff" stroke="#a8a8a8" stroke-width="1" />
<rect x="1012.6" y="2263.6" width="432.8" height="117" fill="#fff" stroke="#a8a8a8" stroke-width="1" />
<line x1="1075.4" y1="2014.4" x2="1075.4" y2="2189.8" stroke="#d0d0d0" stroke-width="0.9" stroke-dasharray="2 2"/>
<line x1="1075.4" y1="2263.6" x2="1075.4" y2="2380.6" stroke="#d0d0d0" stroke-width="0.9" stroke-dasharray="2 2"/>
<line x1="1138.2" y1="2014.4" x2="1138.2" y2="2189.8" stroke="#d0d0d0" stroke-width="0.9" stroke-dasharray="2 2"/>
<line x1="1138.2" y1="2263.6" x2="1138.2" y2="2380.6" stroke="#d0d0d0" stroke-width="0.9" stroke-dasharray="2 2"/>
<line x1="1201" y1="2014.4" x2="1201" y2="2189.8" stroke="#d0d0d0" stroke-width="0.9" stroke-dasharray="2 2"/>
<line x1="1201" y1="2263.6" x2="1201" y2="2380.6" stroke="#d0d0d0" stroke-width="0.9" stroke-dasharray="2 2"/>
<line x1="1263.8" y1="2014.4" x2="1263.8" y2="2189.8" stroke="#d0d0d0" stroke-width="0.9" stroke-dasharray="2 2"/>
<line x1="1263.8" y1="2263.6" x2="1263.8" y2="2380.6" stroke="#d0d0d0" stroke-width="0.9" stroke-dasharray="2 2"/>
<line x1="1326.6" y1="2014.4" x2="1326.6" y2="2189.8" stroke="#d0d0d0" stroke-width="0.9" stroke-dasharray="2 2"/>
<line x1="1326.6" y1="2263.6" x2="1326.6" y2="2380.6" stroke="#d0d0d0" stroke-width="0.9" stroke-dasharray="2 2"/>
<line x1="1389.4" y1="2014.4" x2="1389.4" y2="2189.8" stroke="#d0d0d0" stroke-width="0.9" stroke-dasharray="2 2"/>
<line x1="1389.4" y1="2263.6" x2="1389.4" y2="2380.6" stroke="#d0d0d0" stroke-width="0.9" stroke-dasharray="2 2"/>
<line x1="1012.6" y1="2020" x2="1445.4" y2="2020" stroke="#d0d0d0" stroke-width="0.9" stroke-dasharray="2 2"/>
<line x1="1009.6" y1="2020" x2="1012.6" y2="2020" stroke="#888" stroke-width="1" />
<text x="987.37" y="2024.2" font-size="12.2" font-family="'DejaVu Sans', Verdana, sans-serif" fill="#555">0.4</text>
<line x1="1012.6" y1="2054.2" x2="1445.4" y2="2054.2" stroke="#d0d0d0" stroke-width="0.9" stroke-dasharray="2 2"/>
<line x1="1009.6" y1="2054.2" x2="1012.6" y2="2054.2" stroke="#888" stroke-width="1" />
<text x="987.68" y="2058.4" font-size="12.2" font-family="'DejaVu Sans', Verdana, sans-serif" fill="#555">0.3</text>
<line x1="1012.6" y1="2088.4" x2="1445.4" y2="2088.4" stroke="#d0d0d0" stroke-width="0.9" stroke-dasharray="2 2"/>
<line x1="1009.6" y1="2088.4" x2="1012.6" y2="2088.4" stroke="#888" stroke-width="1" />
<text x="987.92" y="2092.6" font-size="12.2" font-family="'DejaVu Sans', Verdana, sans-serif" fill="#555">0.2</text>
<line x1="1012.6" y1="2122.6" x2="1445.4" y2="2122.6" stroke="#d0d0d0" stroke-width="0.9" stroke-dasharray="2 2"/>
<line x1="1009.6" y1="2122.6" x2="1012.6" y2="2122.6" stroke="#888" stroke-width="1" />
<text x="987.8" y="2126.8" font-size="12.2" font-family="'DejaVu Sans', Verdana, sans-serif" fill="#555">0.1</text>
<line x1="1009.6" y1="2156.3" x2="1012.6" y2="2156.3" stroke="#888" stroke-width="1" />
<text x="987.5" y="2160.5" font-size="12.2" font-family="'DejaVu Sans', Verdana, sans-serif" fill="#555">0.0</text>
<line x1="1012.6" y1="2156.3" x2="1445.4" y2="2156.3" stroke="#a0a0a0" stroke-width="1.1" />
<line x1="1012.6" y1="2268" x2="1445.4" y2="2268" stroke="#d0d0d0" stroke-width="0.9" stroke-dasharray="2 2"/>
<line x1="1009.6" y1="2268" x2="1012.6" y2="2268" stroke="#888" stroke-width="1" />
<text x="999.84" y="2271.8" font-size="10.8" font-family="'DejaVu Sans', Verdana, sans-serif" fill="#333">4</text>
<line x1="1012.6" y1="2299.6" x2="1445.4" y2="2299.6" stroke="#d0d0d0" stroke-width="0.9" stroke-dasharray="2 2"/>
<line x1="1009.6" y1="2299.6" x2="1012.6" y2="2299.6" stroke="#888" stroke-width="1" />
<text x="1000.32" y="2303.4" font-size="10.8" font-family="'DejaVu Sans', Verdana, sans-serif" fill="#333">2</text>
<line x1="1012.6" y1="2330.5" x2="1445.4" y2="2330.5" stroke="#d0d0d0" stroke-width="0.9" stroke-dasharray="2 2"/>
<line x1="1009.6" y1="2330.5" x2="1012.6" y2="2330.5" stroke="#888" stroke-width="1" />
<text x="999.94" y="2334.3" font-size="10.8" font-family="'DejaVu Sans', Verdana, sans-serif" fill="#333">0</text>
<line x1="1012.6" y1="2362" x2="1445.4" y2="2362" stroke="#d0d0d0" stroke-width="0.9" stroke-dasharray="2 2"/>
<line x1="1009.6" y1="2362" x2="1012.6" y2="2362" stroke="#888" stroke-width="1" />
<text x="996.43" y="2365.8" font-size="10.8" font-family="'DejaVu Sans', Verdana, sans-serif" fill="#333">-2</text>
<path d="M1012.6 2156.3 L1014.07 2128.59 L1015.54 2115.79 L1017.01 2098.99 L1018.48 2094.98 L1019.95 2087.85 L1021.42 2083.58 L1022.89 2082.89 L1024.36 2078.19 L1025.83 2076.67 L1027.3 2073.29 L1028.77 2070.33 L1030.24 2067.5 L1031.71 2063.77 L1033.18 2062.49 L1034.66 2057.62 L1036.13 2054.81 L1037.6 2048.37 L1039.07 2043.13 L1040.54 2037.12 L1042.01 2031.18 L1043.48 2029 L1044.95 2029.83 L1046.42 2031.73 L1047.89 2035.16 L1049.36 2032.75 L1050.83 2034.08 L1052.3 2033.32 L1053.77 2033.94 L1055.24 2032.98 L1056.71 2033.77 L1058.18 2033.15 L1059.65 2033.42 L1061.12 2033.82 L1062.59 2032.69 L1064.06 2031.26 L1065.53 2030.76 L1067 2032.76 L1068.47 2031.28 L1069.94 2030.22 L1071.41 2031.88 L1072.88 2030.63 L1074.36 2030.72 L1075.83 2030.66 L1077.3 2028.52 L1078.77 2028.12 L1080.24 2028.89 L1081.71 2026.37 L1083.18 2027.42 L1084.65 2025.09 L1086.12 2026.72 L1087.59 2027.04 L1089.06 2027.98 L1090.53 2028 L1092 2027.41 L1093.47 2026.91 L1094.94 2027.08 L1096.41 2027.12 L1097.88 2026.08 L1099.35 2023.95 L1100.82 2025.12 L1102.29 2023.1 L1103.76 2023.4 L1105.23 2022.69 L1106.7 2023.29 L1108.17 2023.23 L1109.64 2024.63 L1111.11 2024.97 L1112.58 2025.92 L1114.05 2026.33 L1115.53 2027.97 L1117 2028.42 L1118.47 2026.85 L1119.94 2027.72 L1121.41 2027.41 L1122.88 2029 L1124.35 2030.1 L1125.82 2028.39 L1127.29 2030.15 L1128.76 2029.23 L1130.23 2028.83 L1131.7 2031.37 L1133.17 2030.86 L1134.64 2031 L1136.11 2032.28 L1137.58 2032.33 L1139.05 2033.39 L1140.52 2034.07 L1141.99 2034.58 L1143.46 2035.61 L1144.93 2035.42 L1146.4 2035.51 L1147.87 2036.07 L1149.34 2036.71 L1150.81 2038.42 L1152.28 2038.66 L1153.75 2040.49 L1155.22 2040.36 L1156.69 2041.55 L1158.17 2042.92 L1159.64 2041.2 L1161.11 2041.74 L1162.58 2042.72 L1164.05 2044.03 L1165.52 2045.17 L1166.99 2046.28 L1168.46 2045.92 L1169.93 2048.18 L1171.4 2046.62 L1172.87 2049.74 L1174.34 2049.07 L1175.81 2051.75 L1177.28 2050.52 L1178.75 2053.9 L1180.22 2054.32 L1181.69 2055.87 L1183.16 2055.76 L1184.63 2055.67 L1186.1 2058.69 L1187.57 2058.27 L1189.04 2058.29 L1190.51 2060.68 L1191.98 2061.58 L1193.45 2062.69 L1194.92 2063.04 L1196.39 2064.13 L1197.87 2066.5 L1199.34 2067.35 L1200.81 2067.67 L1202.28 2069.66 L1203.75 2071.58 L1205.22 2072.73 L1206.69 2073.28 L1208.16 2074.25 L1209.63 2075.34 L1211.1 2076.16 L1212.57 2077.27 L1214.04 2079.09 L1215.51 2079.39 L1216.98 2082.17 L1218.45 2083.3 L1219.92 2084.23 L1221.39 2083.87 L1222.86 2085.94 L1224.33 2087.29 L1225.8 2087.58 L1227.27 2091.03 L1228.74 2091.66 L1230.21 2092.18 L1231.68 2093.88 L1233.15 2093.74 L1234.62 2095 L1236.09 2096.94 L1237.56 2098.69 L1239.03 2099.61 L1240.51 2099.09 L1241.98 2101.74 L1243.45 2103.59 L1244.92 2104.24 L1246.39 2105.8 L1247.86 2107.01 L1249.33 2106.12 L1250.8 2107.39 L1252.27 2109.12 L1253.74 2111.31 L1255.21 2110.81 L1256.68 2113.38 L1258.15 2114.22 L1259.62 2114.43 L1261.09 2115.79 L1262.56 2117.73 L1264.03 2118.36 L1265.5 2118.17 L1266.97 2120.68 L1268.44 2120.07 L1269.91 2121.6 L1271.38 2124.11 L1272.85 2124.8 L1274.32 2124.39 L1275.79 2125.32 L1277.26 2127.14 L1278.73 2128.71 L1280.2 2129.28 L1281.68 2130.92 L1283.15 2131.36 L1284.62 2132.58 L1286.09 2133 L1287.56 2133.35 L1289.03 2134.5 L1290.5 2135.64 L1291.97 2136.72 L1293.44 2138.5 L1294.91 2138 L1296.38 2138.46 L1297.85 2141.17 L1299.32 2140.95 L1300.79 2142.23 L1302.26 2142.26 L1303.73 2144.92 L1305.2 2144.3 L1306.67 2145.16 L1308.14 2147.3 L1309.61 2147.34 L1311.08 2147.56 L1312.55 2149.97 L1314.02 2149.54 L1315.49 2150.23 L1316.96 2152.61 L1318.43 2152.97 L1319.9 2153.68 L1321.38 2153.2 L1322.85 2155.48 L1324.32 2155.73 L1325.79 2157.15 L1327.26 2156.66 L1328.73 2158.45 L1330.2 2159.19 L1331.67 2158.85 L1333.14 2160.25 L1334.61 2161.29 L1336.08 2162.55 L1337.55 2163.07 L1339.02 2163.44 L1340.49 2162.46 L1341.96 2164.4 L1343.43 2165.3 L1344.9 2164.46 L1346.37 2166.15 L1347.84 2167.92 L1349.31 2168.72 L1350.78 2169.51 L1352.25 2168.11 L1353.72 2170.22 L1355.19 2171.65 L1356.66 2171.87 L1358.13 2171.77 L1359.6 2171.8 L1361.07 2174.86 L1362.55 2175.47 L1364.02 2175.7 L1365.49 2175.72 L1366.96 2177.69 L1368.43 2178.42 L1369.9 2178.95 L1371.37 2179.39 L1372.84 2179.42 L1374.31 2179.88 L1375.78 2179.63 L1377.25 2179.14 L1378.72 2179.22 L1380.19 2177.76 L1381.66 2178.92 L1383.13 2177.54 L1384.6 2176.63 L1386.07 2176.47 L1387.54 2176.4 L1389.01 2176.1 L1390.48 2176.8 L1391.95 2175.22 L1393.42 2175.74 L1394.89 2176.11 L1396.36 2176.01 L1397.83 2177.69 L1399.3 2176.22 L1400.77 2176.27 L1402.24 2177.78 L1403.71 2178.44 L1405.19 2178.36 L1406.66 2173.85 L1408.13 2169.42 L1409.6 2167.04 L1411.07 2161.2 L1412.54 2154.46 L1414.01 2153.25 L1415.48 2154.92 L1416.95 2155.79 L1418.42 2156.21 L1419.89 2154.43 L1421.36 2155.24 L1422.83 2155.76 L1424.3 2156.3" fill="none" stroke="#3fe81a" stroke-width="2.6" stroke-linejoin="round"/>
<line x1="1012.8" y1="2191.6" x2="1012.8" y2="2248.7" stroke="#000" stroke-width="1.15" />
<line x1="1013.54" y1="2191.6" x2="1013.54" y2="2248.7" stroke="#000" stroke-width="1.15" />
<line x1="1014.13" y1="2191.6" x2="1014.13" y2="2248.7" stroke="#000" stroke-width="1.15" />
<line x1="1015.16" y1="2191.6" x2="1015.16" y2="2248.7" stroke="#000" stroke-width="1.15" />
<line x1="1015.68" y1="2191.6" x2="1015.68" y2="2248.7" stroke="#000" stroke-width="1.15" />
<line x1="1016.61" y1="2191.6" x2="1016.61" y2="2248.7" stroke="#000" stroke-width="1.15" />
<line x1="1017.39" y1="2191.6" x2="1017.39" y2="2248.7" stroke="#000" stroke-width="1.15" />
<line x1="1017.89" y1="2191.6" x2="1017.89" y2="2248.7" stroke="#000" stroke-width="1.15" />
<line x1="1022.8" y1="2191.6" x2="1022.8" y2="2248.7" stroke="#000" stroke-width="1.15" />
<line x1="1023.98" y1="2191.6" x2="1023.98" y2="2248.7" stroke="#000" stroke-width="1.15" />
<line x1="1026.04" y1="2191.6" x2="1026.04" y2="2248.7" stroke="#000" stroke-width="1.15" />
<line x1="1027.29" y1="2191.6" x2="1027.29" y2="2248.7" stroke="#000" stroke-width="1.15" />
<line x1="1028.59" y1="2191.6" x2="1028.59" y2="2248.7" stroke="#000" stroke-width="1.15" />
<line x1="1030.62" y1="2191.6" x2="1030.62" y2="2248.7" stroke="#000" stroke-width="1.15" />
<line x1="1033.54" y1="2191.6" x2="1033.54" y2="2248.7" stroke="#000" stroke-width="1.15" />
<line x1="1034.92" y1="2191.6" x2="1034.92" y2="2248.7" stroke="#000" stroke-width="1.15" />
<line x1="1036.51" y1="2191.6" x2="1036.51" y2="2248.7" stroke="#000" stroke-width="1.15" />
<line x1="1038.99" y1="2191.6" x2="1038.99" y2="2248.7" stroke="#000" stroke-width="1.15" />
<line x1="1042.17" y1="2191.6" x2="1042.17" y2="2248.7" stroke="#000" stroke-width="1.15" />
<line x1="1051" y1="2191.6" x2="1051" y2="2248.7" stroke="#000" stroke-width="1.15" />
<line x1="1053.33" y1="2191.6" x2="1053.33" y2="2248.7" stroke="#000" stroke-width="1.15" />
<line x1="1057.17" y1="2191.6" x2="1057.17" y2="2248.7" stroke="#000" stroke-width="1.15" />
<line x1="1058.59" y1="2191.6" x2="1058.59" y2="2248.7" stroke="#000" stroke-width="1.15" />
<line x1="1062.12" y1="2191.6" x2="1062.12" y2="2248.7" stroke="#000" stroke-width="1.15" />
<line x1="1064.18" y1="2191.6" x2="1064.18" y2="2248.7" stroke="#000" stroke-width="1.15" />
<line x1="1065.85" y1="2191.6" x2="1065.85" y2="2248.7" stroke="#000" stroke-width="1.15" />
<line x1="1067.46" y1="2191.6" x2="1067.46" y2="2248.7" stroke="#000" stroke-width="1.15" />
<line x1="1069.56" y1="2191.6" x2="1069.56" y2="2248.7" stroke="#000" stroke-width="1.15" />
<line x1="1072.98" y1="2191.6" x2="1072.98" y2="2248.7" stroke="#000" stroke-width="1.15" />
<line x1="1074.75" y1="2191.6" x2="1074.75" y2="2248.7" stroke="#000" stroke-width="1.15" />
<line x1="1081" y1="2191.6" x2="1081" y2="2248.7" stroke="#000" stroke-width="1.15" />
<line x1="1083.96" y1="2191.6" x2="1083.96" y2="2248.7" stroke="#000" stroke-width="1.15" />
<line x1="1086.23" y1="2191.6" x2="1086.23" y2="2248.7" stroke="#000" stroke-width="1.15" />
<line x1="1088.95" y1="2191.6" x2="1088.95" y2="2248.7" stroke="#000" stroke-width="1.15" />
<line x1="1090.42" y1="2191.6" x2="1090.42" y2="2248.7" stroke="#000" stroke-width="1.15" />
<line x1="1091.87" y1="2191.6" x2="1091.87" y2="2248.7" stroke="#000" stroke-width="1.15" />
<line x1="1093.71" y1="2191.6" x2="1093.71" y2="2248.7" stroke="#000" stroke-width="1.15" />
<line x1="1096.78" y1="2191.6" x2="1096.78" y2="2248.7" stroke="#000" stroke-width="1.15" />
<line x1="1099.19" y1="2191.6" x2="1099.19" y2="2248.7" stroke="#000" stroke-width="1.15" />
<line x1="1101.3" y1="2191.6" x2="1101.3" y2="2248.7" stroke="#000" stroke-width="1.15" />
<line x1="1112.5" y1="2191.6" x2="1112.5" y2="2248.7" stroke="#000" stroke-width="1.15" />
<line x1="1114.69" y1="2191.6" x2="1114.69" y2="2248.7" stroke="#000" stroke-width="1.15" />
<line x1="1116.53" y1="2191.6" x2="1116.53" y2="2248.7" stroke="#000" stroke-width="1.15" />
<line x1="1119.51" y1="2191.6" x2="1119.51" y2="2248.7" stroke="#000" stroke-width="1.15" />
<line x1="1122.27" y1="2191.6" x2="1122.27" y2="2248.7" stroke="#000" stroke-width="1.15" />
<line x1="1123.98" y1="2191.6" x2="1123.98" y2="2248.7" stroke="#000" stroke-width="1.15" />
<line x1="1126.45" y1="2191.6" x2="1126.45" y2="2248.7" stroke="#000" stroke-width="1.15" />
<line x1="1128.81" y1="2191.6" x2="1128.81" y2="2248.7" stroke="#000" stroke-width="1.15" />
<line x1="1131.97" y1="2191.6" x2="1131.97" y2="2248.7" stroke="#000" stroke-width="1.15" />
<line x1="1134.8" y1="2191.6" x2="1134.8" y2="2248.7" stroke="#000" stroke-width="1.15" />
<line x1="1136.61" y1="2191.6" x2="1136.61" y2="2248.7" stroke="#000" stroke-width="1.15" />
<line x1="1140.01" y1="2191.6" x2="1140.01" y2="2248.7" stroke="#000" stroke-width="1.15" />
<line x1="1141.44" y1="2191.6" x2="1141.44" y2="2248.7" stroke="#000" stroke-width="1.15" />
<line x1="1143.55" y1="2191.6" x2="1143.55" y2="2248.7" stroke="#000" stroke-width="1.15" />
<line x1="1146.44" y1="2191.6" x2="1146.44" y2="2248.7" stroke="#000" stroke-width="1.15" />
<line x1="1147.94" y1="2191.6" x2="1147.94" y2="2248.7" stroke="#000" stroke-width="1.15" />
<line x1="1150.21" y1="2191.6" x2="1150.21" y2="2248.7" stroke="#000" stroke-width="1.15" />
<line x1="1164.7" y1="2191.6" x2="1164.7" y2="2248.7" stroke="#000" stroke-width="1.15" />
<line x1="1167.5" y1="2191.6" x2="1167.5" y2="2248.7" stroke="#000" stroke-width="1.15" />
<line x1="1170.54" y1="2191.6" x2="1170.54" y2="2248.7" stroke="#000" stroke-width="1.15" />
<line x1="1173.11" y1="2191.6" x2="1173.11" y2="2248.7" stroke="#000" stroke-width="1.15" />
<line x1="1176.42" y1="2191.6" x2="1176.42" y2="2248.7" stroke="#000" stroke-width="1.15" />
<line x1="1178.37" y1="2191.6" x2="1178.37" y2="2248.7" stroke="#000" stroke-width="1.15" />
<line x1="1181.24" y1="2191.6" x2="1181.24" y2="2248.7" stroke="#000" stroke-width="1.15" />
<line x1="1183.86" y1="2191.6" x2="1183.86" y2="2248.7" stroke="#000" stroke-width="1.15" />
<line x1="1186.46" y1="2191.6" x2="1186.46" y2="2248.7" stroke="#000" stroke-width="1.15" />
<line x1="1188.75" y1="2191.6" x2="1188.75" y2="2248.7" stroke="#000" stroke-width="1.15" />
<line x1="1196.6" y1="2191.6" x2="1196.6" y2="2248.7" stroke="#000" stroke-width="1.15" />
<line x1="1200.93" y1="2191.6" x2="1200.93" y2="2248.7" stroke="#000" stroke-width="1.15" />
<line x1="1203.86" y1="2191.6" x2="1203.86" y2="2248.7" stroke="#000" stroke-width="1.15" />
<line x1="1207.35" y1="2191.6" x2="1207.35" y2="2248.7" stroke="#000" stroke-width="1.15" />
<line x1="1209.03" y1="2191.6" x2="1209.03" y2="2248.7" stroke="#000" stroke-width="1.15" />
<line x1="1212.64" y1="2191.6" x2="1212.64" y2="2248.7" stroke="#000" stroke-width="1.15" />
<line x1="1216.08" y1="2191.6" x2="1216.08" y2="2248.7" stroke="#000" stroke-width="1.15" />
<line x1="1220.56" y1="2191.6" x2="1220.56" y2="2248.7" stroke="#000" stroke-width="1.15" />
<line x1="1224.52" y1="2191.6" x2="1224.52" y2="2248.7" stroke="#000" stroke-width="1.15" />
<line x1="1232" y1="2191.6" x2="1232" y2="2248.7" stroke="#000" stroke-width="1.15" />
<line x1="1237.76" y1="2191.6" x2="1237.76" y2="2248.7" stroke="#000" stroke-width="1.15" />
<line x1="1245.35" y1="2191.6" x2="1245.35" y2="2248.7" stroke="#000" stroke-width="1.15" />
<line x1="1248.75" y1="2191.6" x2="1248.75" y2="2248.7" stroke="#000" stroke-width="1.15" />
<line x1="1255" y1="2191.6" x2="1255" y2="2248.7" stroke="#000" stroke-width="1.15" />
<line x1="1259.34" y1="2191.6" x2="1259.34" y2="2248.7" stroke="#000" stroke-width="1.15" />
<line x1="1263.36" y1="2191.6" x2="1263.36" y2="2248.7" stroke="#000" stroke-width="1.15" />
<line x1="1266.99" y1="2191.6" x2="1266.99" y2="2248.7" stroke="#000" stroke-width="1.15" />
<line x1="1275.23" y1="2191.6" x2="1275.23" y2="2248.7" stroke="#000" stroke-width="1.15" />
<line x1="1279.32" y1="2191.6" x2="1279.32" y2="2248.7" stroke="#000" stroke-width="1.15" />
<line x1="1284.18" y1="2191.6" x2="1284.18" y2="2248.7" stroke="#000" stroke-width="1.15" />
<line x1="1289.97" y1="2191.6" x2="1289.97" y2="2248.7" stroke="#000" stroke-width="1.15" />
<line x1="1298.89" y1="2191.6" x2="1298.89" y2="2248.7" stroke="#000" stroke-width="1.15" />
<line x1="1302.66" y1="2191.6" x2="1302.66" y2="2248.7" stroke="#000" stroke-width="1.15" />
<line x1="1315" y1="2191.6" x2="1315" y2="2248.7" stroke="#000" stroke-width="1.15" />
<line x1="1319.72" y1="2191.6" x2="1319.72" y2="2248.7" stroke="#000" stroke-width="1.15" />
<line x1="1325.95" y1="2191.6" x2="1325.95" y2="2248.7" stroke="#000" stroke-width="1.15" />
<line x1="1331.88" y1="2191.6" x2="1331.88" y2="2248.7" stroke="#000" stroke-width="1.15" />
<line x1="1338.02" y1="2191.6" x2="1338.02" y2="2248.7" stroke="#000" stroke-width="1.15" />
<line x1="1341.53" y1="2191.6" x2="1341.53" y2="2248.7" stroke="#000" stroke-width="1.15" />
<line x1="1345.64" y1="2191.6" x2="1345.64" y2="2248.7" stroke="#000" stroke-width="1.15" />
<line x1="1349.51" y1="2191.6" x2="1349.51" y2="2248.7" stroke="#000" stroke-width="1.15" />
<line x1="1355.74" y1="2191.6" x2="1355.74" y2="2248.7" stroke="#000" stroke-width="1.15" />
<line x1="1374.7" y1="2191.6" x2="1374.7" y2="2248.7" stroke="#000" stroke-width="1.15" />
<line x1="1376.78" y1="2191.6" x2="1376.78" y2="2248.7" stroke="#000" stroke-width="1.15" />
<line x1="1378.95" y1="2191.6" x2="1378.95" y2="2248.7" stroke="#000" stroke-width="1.15" />
<line x1="1381.29" y1="2191.6" x2="1381.29" y2="2248.7" stroke="#000" stroke-width="1.15" />
<line x1="1383.64" y1="2191.6" x2="1383.64" y2="2248.7" stroke="#000" stroke-width="1.15" />
<line x1="1386.79" y1="2191.6" x2="1386.79" y2="2248.7" stroke="#000" stroke-width="1.15" />
<line x1="1390.27" y1="2191.6" x2="1390.27" y2="2248.7" stroke="#000" stroke-width="1.15" />
<line x1="1392.71" y1="2191.6" x2="1392.71" y2="2248.7" stroke="#000" stroke-width="1.15" />
<line x1="1394.33" y1="2191.6" x2="1394.33" y2="2248.7" stroke="#000" stroke-width="1.15" />
<line x1="1404.5" y1="2191.6" x2="1404.5" y2="2248.7" stroke="#000" stroke-width="1.15" />
<line x1="1406.41" y1="2191.6" x2="1406.41" y2="2248.7" stroke="#000" stroke-width="1.15" />
<line x1="1408.76" y1="2191.6" x2="1408.76" y2="2248.7" stroke="#000" stroke-width="1.15" />
<line x1="1411.96" y1="2191.6" x2="1411.96" y2="2248.7" stroke="#000" stroke-width="1.15" />
<line x1="1414.57" y1="2191.6" x2="1414.57" y2="2248.7" stroke="#000" stroke-width="1.15" />
<line x1="1416.81" y1="2191.6" x2="1416.81" y2="2248.7" stroke="#000" stroke-width="1.15" />
<line x1="1419.27" y1="2191.6" x2="1419.27" y2="2248.7" stroke="#000" stroke-width="1.15" />
<defs><linearGradient id="cbq" x1="0" y1="0" x2="1" y2="0"><stop offset="0.000" stop-color="#d02c3c"/><stop offset="0.100" stop-color="#ea4450"/><stop offset="0.250" stop-color="#ee5262"/><stop offset="0.300" stop-color="#e8607a"/><stop offset="0.400" stop-color="#f08a94"/><stop offset="0.401" stop-color="#f0b4dc"/><stop offset="0.510" stop-color="#f2bce2"/><stop offset="0.511" stop-color="#d4d4f6"/><stop offset="0.700" stop-color="#c8c8f4"/><stop offset="0.701" stop-color="#8c8cf4"/><stop offset="0.780" stop-color="#7c7cf4"/><stop offset="0.781" stop-color="#5a4cf0"/><stop offset="0.910" stop-color="#5040f0"/><stop offset="0.911" stop-color="#2610f2"/><stop offset="1.000" stop-color="#2a10e0"/></linearGradient></defs>
<rect x="1012.6" y="2248.7" width="410.9" height="14.9" fill="url(#cbq)" />
<line x1="1021.75" y1="2248.7" x2="1021.75" y2="2263.6" stroke="#b01020" stroke-width="1" opacity="0.3"/>
<line x1="1158.72" y1="2248.7" x2="1158.72" y2="2263.6" stroke="#b01020" stroke-width="1" opacity="0.3"/>
<line x1="1139.36" y1="2248.7" x2="1139.36" y2="2263.6" stroke="#b01020" stroke-width="1" opacity="0.3"/>
<line x1="1154.67" y1="2248.7" x2="1154.67" y2="2263.6" stroke="#b01020" stroke-width="1" opacity="0.3"/>
<line x1="1142.26" y1="2248.7" x2="1142.26" y2="2263.6" stroke="#b01020" stroke-width="1" opacity="0.3"/>
<line x1="1076.57" y1="2248.7" x2="1076.57" y2="2263.6" stroke="#b01020" stroke-width="1" opacity="0.3"/>
<line x1="1077.63" y1="2248.7" x2="1077.63" y2="2263.6" stroke="#b01020" stroke-width="1" opacity="0.3"/>
<line x1="1029.77" y1="2248.7" x2="1029.77" y2="2263.6" stroke="#b01020" stroke-width="1" opacity="0.3"/>
<line x1="1115.75" y1="2248.7" x2="1115.75" y2="2263.6" stroke="#b01020" stroke-width="1" opacity="0.3"/>
<line x1="1023.08" y1="2248.7" x2="1023.08" y2="2263.6" stroke="#b01020" stroke-width="1" opacity="0.3"/>
<line x1="1023.91" y1="2248.7" x2="1023.91" y2="2263.6" stroke="#b01020" stroke-width="1" opacity="0.3"/>
<line x1="1046.82" y1="2248.7" x2="1046.82" y2="2263.6" stroke="#b01020" stroke-width="1" opacity="0.3"/>
<line x1="1039.29" y1="2248.7" x2="1039.29" y2="2263.6" stroke="#b01020" stroke-width="1" opacity="0.3"/>
<line x1="1068.09" y1="2248.7" x2="1068.09" y2="2263.6" stroke="#b01020" stroke-width="1" opacity="0.3"/>
<line x1="1021.52" y1="2248.7" x2="1021.52" y2="2263.6" stroke="#b01020" stroke-width="1" opacity="0.3"/>
<line x1="1013.04" y1="2248.7" x2="1013.04" y2="2263.6" stroke="#b01020" stroke-width="1" opacity="0.3"/>
<line x1="1037.5" y1="2248.7" x2="1037.5" y2="2263.6" stroke="#b01020" stroke-width="1" opacity="0.3"/>
<line x1="1029.44" y1="2248.7" x2="1029.44" y2="2263.6" stroke="#b01020" stroke-width="1" opacity="0.3"/>
<line x1="1071.9" y1="2248.7" x2="1071.9" y2="2263.6" stroke="#b01020" stroke-width="1" opacity="0.3"/>
<line x1="1017.13" y1="2248.7" x2="1017.13" y2="2263.6" stroke="#b01020" stroke-width="1" opacity="0.3"/>
<line x1="1154.64" y1="2248.7" x2="1154.64" y2="2263.6" stroke="#b01020" stroke-width="1" opacity="0.3"/>
<line x1="1112.48" y1="2248.7" x2="1112.48" y2="2263.6" stroke="#b01020" stroke-width="1" opacity="0.3"/>
<line x1="1037.07" y1="2248.7" x2="1037.07" y2="2263.6" stroke="#b01020" stroke-width="1" opacity="0.3"/>
<line x1="1053.87" y1="2248.7" x2="1053.87" y2="2263.6" stroke="#b01020" stroke-width="1" opacity="0.3"/>
<line x1="1069.28" y1="2248.7" x2="1069.28" y2="2263.6" stroke="#b01020" stroke-width="1" opacity="0.3"/>
<line x1="1071.99" y1="2248.7" x2="1071.99" y2="2263.6" stroke="#b01020" stroke-width="1" opacity="0.3"/>
<line x1="1032.9" y1="2248.7" x2="1032.9" y2="2263.6" stroke="#b01020" stroke-width="1" opacity="0.3"/>
<line x1="1150.53" y1="2248.7" x2="1150.53" y2="2263.6" stroke="#b01020" stroke-width="1" opacity="0.3"/>
<line x1="1173.88" y1="2248.7" x2="1173.88" y2="2263.6" stroke="#b01020" stroke-width="1" opacity="0.3"/>
<line x1="1088.49" y1="2248.7" x2="1088.49" y2="2263.6" stroke="#b01020" stroke-width="1" opacity="0.3"/>
<line x1="1091.38" y1="2248.7" x2="1091.38" y2="2263.6" stroke="#b01020" stroke-width="1" opacity="0.3"/>
<line x1="1026.91" y1="2248.7" x2="1026.91" y2="2263.6" stroke="#b01020" stroke-width="1" opacity="0.3"/>
<line x1="1029.55" y1="2248.7" x2="1029.55" y2="2263.6" stroke="#b01020" stroke-width="1" opacity="0.3"/>
<line x1="1068.51" y1="2248.7" x2="1068.51" y2="2263.6" stroke="#b01020" stroke-width="1" opacity="0.3"/>
<line x1="1055.89" y1="2248.7" x2="1055.89" y2="2263.6" stroke="#b01020" stroke-width="1" opacity="0.3"/>
<line x1="1147.27" y1="2248.7" x2="1147.27" y2="2263.6" stroke="#b01020" stroke-width="1" opacity="0.3"/>
<line x1="1039.15" y1="2248.7" x2="1039.15" y2="2263.6" stroke="#b01020" stroke-width="1" opacity="0.3"/>
<line x1="1016.74" y1="2248.7" x2="1016.74" y2="2263.6" stroke="#b01020" stroke-width="1" opacity="0.3"/>
<line x1="1167.06" y1="2248.7" x2="1167.06" y2="2263.6" stroke="#b01020" stroke-width="1" opacity="0.3"/>
<line x1="1098.58" y1="2248.7" x2="1098.58" y2="2263.6" stroke="#b01020" stroke-width="1" opacity="0.3"/>
<line x1="1036.75" y1="2248.7" x2="1036.75" y2="2263.6" stroke="#b01020" stroke-width="1" opacity="0.3"/>
<line x1="1100.99" y1="2248.7" x2="1100.99" y2="2263.6" stroke="#b01020" stroke-width="1" opacity="0.3"/>
<line x1="1017.38" y1="2248.7" x2="1017.38" y2="2263.6" stroke="#b01020" stroke-width="1" opacity="0.3"/>
<line x1="1098.55" y1="2248.7" x2="1098.55" y2="2263.6" stroke="#b01020" stroke-width="1" opacity="0.3"/>
<line x1="1171.52" y1="2248.7" x2="1171.52" y2="2263.6" stroke="#b01020" stroke-width="1" opacity="0.3"/>
<line x1="1152.86" y1="2248.7" x2="1152.86" y2="2263.6" stroke="#b01020" stroke-width="1" opacity="0.3"/>
<line x1="1125.78" y1="2248.7" x2="1125.78" y2="2263.6" stroke="#b01020" stroke-width="1" opacity="0.3"/>
<line x1="1055.3" y1="2248.7" x2="1055.3" y2="2263.6" stroke="#b01020" stroke-width="1" opacity="0.3"/>
<line x1="1072.41" y1="2248.7" x2="1072.41" y2="2263.6" stroke="#b01020" stroke-width="1" opacity="0.3"/>
<line x1="1040.06" y1="2248.7" x2="1040.06" y2="2263.6" stroke="#b01020" stroke-width="1" opacity="0.3"/>
<line x1="1374.84" y1="2248.7" x2="1374.84" y2="2263.6" stroke="#8080e0" stroke-width="1" opacity="0.35"/>
<line x1="1327.45" y1="2248.7" x2="1327.45" y2="2263.6" stroke="#8080e0" stroke-width="1" opacity="0.35"/>
<line x1="1376.25" y1="2248.7" x2="1376.25" y2="2263.6" stroke="#8080e0" stroke-width="1" opacity="0.35"/>
<line x1="1287.27" y1="2248.7" x2="1287.27" y2="2263.6" stroke="#8080e0" stroke-width="1" opacity="0.35"/>
<line x1="1266.16" y1="2248.7" x2="1266.16" y2="2263.6" stroke="#8080e0" stroke-width="1" opacity="0.35"/>
<line x1="1382.68" y1="2248.7" x2="1382.68" y2="2263.6" stroke="#8080e0" stroke-width="1" opacity="0.35"/>
<line x1="1417.02" y1="2248.7" x2="1417.02" y2="2263.6" stroke="#8080e0" stroke-width="1" opacity="0.35"/>
<line x1="1390.82" y1="2248.7" x2="1390.82" y2="2263.6" stroke="#8080e0" stroke-width="1" opacity="0.35"/>
<line x1="1381.6" y1="2248.7" x2="1381.6" y2="2263.6" stroke="#8080e0" stroke-width="1" opacity="0.35"/>
<line x1="1384.03" y1="2248.7" x2="1384.03" y2="2263.6" stroke="#8080e0" stroke-width="1" opacity="0.35"/>
<line x1="1368.49" y1="2248.7" x2="1368.49" y2="2263.6" stroke="#8080e0" stroke-width="1" opacity="0.35"/>
<line x1="1266.89" y1="2248.7" x2="1266.89" y2="2263.6" stroke="#8080e0" stroke-width="1" opacity="0.35"/>
<line x1="1324.49" y1="2248.7" x2="1324.49" y2="2263.6" stroke="#8080e0" stroke-width="1" opacity="0.35"/>
<line x1="1292.4" y1="2248.7" x2="1292.4" y2="2263.6" stroke="#8080e0" stroke-width="1" opacity="0.35"/>
<line x1="1227.74" y1="2248.7" x2="1227.74" y2="2263.6" stroke="#8080e0" stroke-width="1" opacity="0.35"/>
<line x1="1227.53" y1="2248.7" x2="1227.53" y2="2263.6" stroke="#8080e0" stroke-width="1" opacity="0.35"/>
<line x1="1277.32" y1="2248.7" x2="1277.32" y2="2263.6" stroke="#8080e0" stroke-width="1" opacity="0.35"/>
<line x1="1273.32" y1="2248.7" x2="1273.32" y2="2263.6" stroke="#8080e0" stroke-width="1" opacity="0.35"/>
<line x1="1359.12" y1="2248.7" x2="1359.12" y2="2263.6" stroke="#8080e0" stroke-width="1" opacity="0.35"/>
<line x1="1411.39" y1="2248.7" x2="1411.39" y2="2263.6" stroke="#8080e0" stroke-width="1" opacity="0.35"/>
<line x1="1012.6" y1="2248.7" x2="1445.4" y2="2248.7" stroke="#a8a8a8" stroke-width="1" />
<line x1="1012.6" y1="2263.6" x2="1445.4" y2="2263.6" stroke="#a8a8a8" stroke-width="1" />
<path d="M1013 2330.5 L1013 2270 L1014 2285 L1016 2295 L1020 2302 L1030 2307 L1050 2311 L1080 2314 L1120 2318 L1160 2322 L1200 2327 L1221.8 2330.5 L1260 2333 L1300 2337 L1340 2342 L1370 2347 L1395 2352 L1415 2357 L1423.5 2361 L1423.5 2330.5" fill="#c0c0c0" />
<line x1="1221.8" y1="2266.6" x2="1221.8" y2="2378.6" stroke="#888" stroke-width="1" stroke-dasharray="4 3"/>
<text x="1182.42" y="2324.9" font-size="8.41" font-family="'DejaVu Sans', Verdana, sans-serif" fill="#222">Zero cross at 6683</text>
<text x="1016.67" y="2290.7" font-size="25.44" fill="#ec1c24">‘HC’ (positively correlated)</text>
<text x="1145.17" y="2371.3" font-size="25.51" fill="#1c1cdc">‘NC’ (negatively correlated)</text>
<text x="1301.46" y="2054.2" font-size="25.55">ES: 0.39</text>
<text x="1301.46" y="2082" font-size="25.55">NES: 1.95</text>
<line x1="1012.6" y1="2380.6" x2="1012.6" y2="2383.6" stroke="#888" stroke-width="1" />
<text x="1009.14" y="2396.6" font-size="10.9" font-family="'DejaVu Sans', Verdana, sans-serif" fill="#222">0</text>
<line x1="1075.4" y1="2380.6" x2="1075.4" y2="2383.6" stroke="#888" stroke-width="1" />
<text x="1059.76" y="2396.6" font-size="10.9" font-family="'DejaVu Sans', Verdana, sans-serif" fill="#222">2,000</text>
<line x1="1138.2" y1="2380.6" x2="1138.2" y2="2383.6" stroke="#888" stroke-width="1" />
<text x="1122.69" y="2396.6" font-size="10.9" font-family="'DejaVu Sans', Verdana, sans-serif" fill="#222">4,000</text>
<line x1="1201" y1="2380.6" x2="1201" y2="2383.6" stroke="#888" stroke-width="1" />
<text x="1185.39" y="2396.6" font-size="10.9" font-family="'DejaVu Sans', Verdana, sans-serif" fill="#222">6,000</text>
<line x1="1263.8" y1="2380.6" x2="1263.8" y2="2383.6" stroke="#888" stroke-width="1" />
<text x="1248.21" y="2396.6" font-size="10.9" font-family="'DejaVu Sans', Verdana, sans-serif" fill="#222">8,000</text>
<line x1="1326.6" y1="2380.6" x2="1326.6" y2="2383.6" stroke="#888" stroke-width="1" />
<text x="1307.28" y="2396.6" font-size="10.9" font-family="'DejaVu Sans', Verdana, sans-serif" fill="#222">10,000</text>
<line x1="1389.4" y1="2380.6" x2="1389.4" y2="2383.6" stroke="#888" stroke-width="1" />
<text x="1370.08" y="2396.6" font-size="10.9" font-family="'DejaVu Sans', Verdana, sans-serif" fill="#222">12,000</text>
<text x="1160.1" y="2414.8" font-size="11.03" font-family="'DejaVu Sans', Verdana, sans-serif" fill="#111">Rank in Ordered Dataset</text>
<text x="980.8" y="2179.99" font-size="13.92" font-family="'DejaVu Sans', Verdana, sans-serif" fill="#222" transform="rotate(-90 980.8 2179.99)">Enrichment score (ES)</text>
<text x="989.3" y="2415.11" font-size="11.07" font-family="'DejaVu Sans', Verdana, sans-serif" fill="#222" transform="rotate(-90 989.3 2415.11)">Ranked list metric (Signal2Noise)</text>
<rect x="1033" y="2428.2" width="341.1" height="24.9" fill="#fff" stroke="#111" stroke-width="1.3" />
<line x1="1035.73" y1="2441.15" x2="1051.76" y2="2441.15" stroke="#3fe81a" stroke-width="2" />
<text x="1053.4" y="2445.65" font-size="10.89" font-family="'DejaVu Sans', Verdana, sans-serif" fill="#111">Enrichment profile</text>
<line x1="1160.23" y1="2441.15" x2="1174.56" y2="2441.15" stroke="#666" stroke-width="1.6" />
<text x="1176.77" y="2445.65" font-size="11.97" font-family="'DejaVu Sans', Verdana, sans-serif" fill="#111">Hits</text>
<line x1="1229.13" y1="2441.15" x2="1243.8" y2="2441.15" stroke="#d8d8d8" stroke-width="1.6" />
<text x="1246.1" y="2445.65" font-size="11.11" font-family="'DejaVu Sans', Verdana, sans-serif" fill="#111">Ranking metric scores</text>
<rect x="1466.1" y="1957" width="20.29" height="20.09" fill="#ee4852" />
<rect x="1486.19" y="1957" width="20.29" height="20.09" fill="#ee4852" />
<rect x="1506.27" y="1957" width="20.29" height="20.09" fill="#f28a90" />
<rect x="1526.36" y="1957" width="20.29" height="20.09" fill="#dd2014" />
<rect x="1546.44" y="1957" width="20.29" height="20.09" fill="#4610dc" />
<rect x="1566.53" y="1957" width="20.29" height="20.09" fill="#4610dc" />
<rect x="1586.61" y="1957" width="20.29" height="20.09" fill="#4610dc" />
<rect x="1466.1" y="1976.89" width="20.29" height="20.09" fill="#dd2014" />
<rect x="1486.19" y="1976.89" width="20.29" height="20.09" fill="#ee4852" />
<rect x="1506.27" y="1976.89" width="20.29" height="20.09" fill="#f28a90" />
<rect x="1526.36" y="1976.89" width="20.29" height="20.09" fill="#dd2014" />
<rect x="1546.44" y="1976.89" width="20.29" height="20.09" fill="#7258f4" />
<rect x="1566.53" y="1976.89" width="20.29" height="20.09" fill="#4610dc" />
<rect x="1586.61" y="1976.89" width="20.29" height="20.09" fill="#4610dc" />
<rect x="1466.1" y="1996.78" width="20.29" height="20.09" fill="#dd2014" />
<rect x="1486.19" y="1996.78" width="20.29" height="20.09" fill="#ee4852" />
<rect x="1506.27" y="1996.78" width="20.29" height="20.09" fill="#dd2014" />
<rect x="1526.36" y="1996.78" width="20.29" height="20.09" fill="#f2667e" />
<rect x="1546.44" y="1996.78" width="20.29" height="20.09" fill="#4610dc" />
<rect x="1566.53" y="1996.78" width="20.29" height="20.09" fill="#4610dc" />
<rect x="1586.61" y="1996.78" width="20.29" height="20.09" fill="#3600ff" />
<rect x="1466.1" y="2016.67" width="20.29" height="20.09" fill="#dd2014" />
<rect x="1486.19" y="2016.67" width="20.29" height="20.09" fill="#ee4852" />
<rect x="1506.27" y="2016.67" width="20.29" height="20.09" fill="#f28a90" />
<rect x="1526.36" y="2016.67" width="20.29" height="20.09" fill="#ee4852" />
<rect x="1546.44" y="2016.67" width="20.29" height="20.09" fill="#4610dc" />
<rect x="1566.53" y="2016.67" width="20.29" height="20.09" fill="#4610dc" />
<rect x="1586.61" y="2016.67" width="20.29" height="20.09" fill="#4610dc" />
<rect x="1466.1" y="2036.56" width="20.29" height="20.09" fill="#dd2014" />
<rect x="1486.19" y="2036.56" width="20.29" height="20.09" fill="#ee4852" />
<rect x="1506.27" y="2036.56" width="20.29" height="20.09" fill="#dd2014" />
<rect x="1526.36" y="2036.56" width="20.29" height="20.09" fill="#ee4852" />
<rect x="1546.44" y="2036.56" width="20.29" height="20.09" fill="#8a8af8" />
<rect x="1566.53" y="2036.56" width="20.29" height="20.09" fill="#4610dc" />
<rect x="1586.61" y="2036.56" width="20.29" height="20.09" fill="#4610dc" />
<rect x="1466.1" y="2056.44" width="20.29" height="20.09" fill="#ee4852" />
<rect x="1486.19" y="2056.44" width="20.29" height="20.09" fill="#f2667e" />
<rect x="1506.27" y="2056.44" width="20.29" height="20.09" fill="#dd2014" />
<rect x="1526.36" y="2056.44" width="20.29" height="20.09" fill="#f28a90" />
<rect x="1546.44" y="2056.44" width="20.29" height="20.09" fill="#7258f4" />
<rect x="1566.53" y="2056.44" width="20.29" height="20.09" fill="#4610dc" />
<rect x="1586.61" y="2056.44" width="20.29" height="20.09" fill="#7258f4" />
<rect x="1466.1" y="2076.33" width="20.29" height="20.09" fill="#ee4852" />
<rect x="1486.19" y="2076.33" width="20.29" height="20.09" fill="#f2667e" />
<rect x="1506.27" y="2076.33" width="20.29" height="20.09" fill="#dd2014" />
<rect x="1526.36" y="2076.33" width="20.29" height="20.09" fill="#ee4852" />
<rect x="1546.44" y="2076.33" width="20.29" height="20.09" fill="#3600ff" />
<rect x="1566.53" y="2076.33" width="20.29" height="20.09" fill="#4610dc" />
<rect x="1586.61" y="2076.33" width="20.29" height="20.09" fill="#8a8af8" />
<rect x="1466.1" y="2096.22" width="20.29" height="20.09" fill="#f2667e" />
<rect x="1486.19" y="2096.22" width="20.29" height="20.09" fill="#dd2014" />
<rect x="1506.27" y="2096.22" width="20.29" height="20.09" fill="#dd2014" />
<rect x="1526.36" y="2096.22" width="20.29" height="20.09" fill="#f28a90" />
<rect x="1546.44" y="2096.22" width="20.29" height="20.09" fill="#4610dc" />
<rect x="1566.53" y="2096.22" width="20.29" height="20.09" fill="#7258f4" />
<rect x="1586.61" y="2096.22" width="20.29" height="20.09" fill="#4610dc" />
<rect x="1466.1" y="2116.11" width="20.29" height="20.09" fill="#f28a90" />
<rect x="1486.19" y="2116.11" width="20.29" height="20.09" fill="#f28a90" />
<rect x="1506.27" y="2116.11" width="20.29" height="20.09" fill="#f28a90" />
<rect x="1526.36" y="2116.11" width="20.29" height="20.09" fill="#dd2014" />
<rect x="1546.44" y="2116.11" width="20.29" height="20.09" fill="#4610dc" />
<rect x="1566.53" y="2116.11" width="20.29" height="20.09" fill="#8a8af8" />
<rect x="1586.61" y="2116.11" width="20.29" height="20.09" fill="#4610dc" />
<rect x="1466.1" y="2136" width="20.29" height="20.09" fill="#ee4852" />
<rect x="1486.19" y="2136" width="20.29" height="20.09" fill="#ee4852" />
<rect x="1506.27" y="2136" width="20.29" height="20.09" fill="#dd2014" />
<rect x="1526.36" y="2136" width="20.29" height="20.09" fill="#ee4852" />
<rect x="1546.44" y="2136" width="20.29" height="20.09" fill="#7258f4" />
<rect x="1566.53" y="2136" width="20.29" height="20.09" fill="#7258f4" />
<rect x="1586.61" y="2136" width="20.29" height="20.09" fill="#4610dc" />
<rect x="1466.1" y="2155.89" width="20.29" height="20.09" fill="#ee4852" />
<rect x="1486.19" y="2155.89" width="20.29" height="20.09" fill="#f28a90" />
<rect x="1506.27" y="2155.89" width="20.29" height="20.09" fill="#f6c8e8" />
<rect x="1526.36" y="2155.89" width="20.29" height="20.09" fill="#dd2014" />
<rect x="1546.44" y="2155.89" width="20.29" height="20.09" fill="#c2c2fa" />
<rect x="1566.53" y="2155.89" width="20.29" height="20.09" fill="#3600ff" />
<rect x="1586.61" y="2155.89" width="20.29" height="20.09" fill="#4610dc" />
<rect x="1466.1" y="2175.78" width="20.29" height="20.09" fill="#f6c8e8" />
<rect x="1486.19" y="2175.78" width="20.29" height="20.09" fill="#f28a90" />
<rect x="1506.27" y="2175.78" width="20.29" height="20.09" fill="#d6d6fa" />
<rect x="1526.36" y="2175.78" width="20.29" height="20.09" fill="#dd2014" />
<rect x="1546.44" y="2175.78" width="20.29" height="20.09" fill="#4610dc" />
<rect x="1566.53" y="2175.78" width="20.29" height="20.09" fill="#4610dc" />
<rect x="1586.61" y="2175.78" width="20.29" height="20.09" fill="#8a8af8" />
<rect x="1466.1" y="2195.67" width="20.29" height="20.09" fill="#ee4852" />
<rect x="1486.19" y="2195.67" width="20.29" height="20.09" fill="#ee4852" />
<rect x="1506.27" y="2195.67" width="20.29" height="20.09" fill="#dd2014" />
<rect x="1526.36" y="2195.67" width="20.29" height="20.09" fill="#ee4852" />
<rect x="1546.44" y="2195.67" width="20.29" height="20.09" fill="#4610dc" />
<rect x="1566.53" y="2195.67" width="20.29" height="20.09" fill="#8a8af8" />
<rect x="1586.61" y="2195.67" width="20.29" height="20.09" fill="#7258f4" />
<rect x="1466.1" y="2215.56" width="20.29" height="20.09" fill="#f2667e" />
<rect x="1486.19" y="2215.56" width="20.29" height="20.09" fill="#dd2014" />
<rect x="1506.27" y="2215.56" width="20.29" height="20.09" fill="#ee4852" />
<rect x="1526.36" y="2215.56" width="20.29" height="20.09" fill="#f2667e" />
<rect x="1546.44" y="2215.56" width="20.29" height="20.09" fill="#8a8af8" />
<rect x="1566.53" y="2215.56" width="20.29" height="20.09" fill="#c2c2fa" />
<rect x="1586.61" y="2215.56" width="20.29" height="20.09" fill="#4610dc" />
<rect x="1466.1" y="2235.44" width="20.29" height="20.09" fill="#dd2014" />
<rect x="1486.19" y="2235.44" width="20.29" height="20.09" fill="#dd2014" />
<rect x="1506.27" y="2235.44" width="20.29" height="20.09" fill="#c2c2fa" />
<rect x="1526.36" y="2235.44" width="20.29" height="20.09" fill="#d6d6fa" />
<rect x="1546.44" y="2235.44" width="20.29" height="20.09" fill="#3600ff" />
<rect x="1566.53" y="2235.44" width="20.29" height="20.09" fill="#4610dc" />
<rect x="1586.61" y="2235.44" width="20.29" height="20.09" fill="#8a8af8" />
<rect x="1466.1" y="2255.33" width="20.29" height="20.09" fill="#ee4852" />
<rect x="1486.19" y="2255.33" width="20.29" height="20.09" fill="#ee4852" />
<rect x="1506.27" y="2255.33" width="20.29" height="20.09" fill="#f28a90" />
<rect x="1526.36" y="2255.33" width="20.29" height="20.09" fill="#dd2014" />
<rect x="1546.44" y="2255.33" width="20.29" height="20.09" fill="#4610dc" />
<rect x="1566.53" y="2255.33" width="20.29" height="20.09" fill="#4610dc" />
<rect x="1586.61" y="2255.33" width="20.29" height="20.09" fill="#d6d6fa" />
<rect x="1466.1" y="2275.22" width="20.29" height="20.09" fill="#dd2014" />
<rect x="1486.19" y="2275.22" width="20.29" height="20.09" fill="#ee4852" />
<rect x="1506.27" y="2275.22" width="20.29" height="20.09" fill="#dd2014" />
<rect x="1526.36" y="2275.22" width="20.29" height="20.09" fill="#f2667e" />
<rect x="1546.44" y="2275.22" width="20.29" height="20.09" fill="#4610dc" />
<rect x="1566.53" y="2275.22" width="20.29" height="20.09" fill="#7258f4" />
<rect x="1586.61" y="2275.22" width="20.29" height="20.09" fill="#7258f4" />
<rect x="1466.1" y="2295.11" width="20.29" height="20.09" fill="#ee4852" />
<rect x="1486.19" y="2295.11" width="20.29" height="20.09" fill="#f2667e" />
<rect x="1506.27" y="2295.11" width="20.29" height="20.09" fill="#dd2014" />
<rect x="1526.36" y="2295.11" width="20.29" height="20.09" fill="#f6c8e8" />
<rect x="1546.44" y="2295.11" width="20.29" height="20.09" fill="#3600ff" />
<rect x="1566.53" y="2295.11" width="20.29" height="20.09" fill="#4610dc" />
<rect x="1586.61" y="2295.11" width="20.29" height="20.09" fill="#3600ff" />
<rect x="1466.1" y="2315" width="20.29" height="20.09" fill="#dd2014" />
<rect x="1486.19" y="2315" width="20.29" height="20.09" fill="#ee4852" />
<rect x="1506.27" y="2315" width="20.29" height="20.09" fill="#d6d6fa" />
<rect x="1526.36" y="2315" width="20.29" height="20.09" fill="#ee4852" />
<rect x="1546.44" y="2315" width="20.29" height="20.09" fill="#3600ff" />
<rect x="1566.53" y="2315" width="20.29" height="20.09" fill="#c2c2fa" />
<rect x="1586.61" y="2315" width="20.29" height="20.09" fill="#4610dc" />
<rect x="1466.1" y="2334.89" width="20.29" height="20.09" fill="#ee4852" />
<rect x="1486.19" y="2334.89" width="20.29" height="20.09" fill="#dd2014" />
<rect x="1506.27" y="2334.89" width="20.29" height="20.09" fill="#ee4852" />
<rect x="1526.36" y="2334.89" width="20.29" height="20.09" fill="#ee4852" />
<rect x="1546.44" y="2334.89" width="20.29" height="20.09" fill="#7258f4" />
<rect x="1566.53" y="2334.89" width="20.29" height="20.09" fill="#4610dc" />
<rect x="1586.61" y="2334.89" width="20.29" height="20.09" fill="#f6c8e8" />
<rect x="1466.1" y="2354.78" width="20.29" height="20.09" fill="#f28a90" />
<rect x="1486.19" y="2354.78" width="20.29" height="20.09" fill="#f28a90" />
<rect x="1506.27" y="2354.78" width="20.29" height="20.09" fill="#dd2014" />
<rect x="1526.36" y="2354.78" width="20.29" height="20.09" fill="#c2c2fa" />
<rect x="1546.44" y="2354.78" width="20.29" height="20.09" fill="#7258f4" />
<rect x="1566.53" y="2354.78" width="20.29" height="20.09" fill="#4610dc" />
<rect x="1586.61" y="2354.78" width="20.29" height="20.09" fill="#d6d6fa" />
<rect x="1466.1" y="2374.67" width="20.29" height="20.09" fill="#d6d6fa" />
<rect x="1486.19" y="2374.67" width="20.29" height="20.09" fill="#f2667e" />
<rect x="1506.27" y="2374.67" width="20.29" height="20.09" fill="#c2c2fa" />
<rect x="1526.36" y="2374.67" width="20.29" height="20.09" fill="#dd2014" />
<rect x="1546.44" y="2374.67" width="20.29" height="20.09" fill="#8a8af8" />
<rect x="1566.53" y="2374.67" width="20.29" height="20.09" fill="#f28a90" />
<rect x="1586.61" y="2374.67" width="20.29" height="20.09" fill="#4610dc" />
<rect x="1466.1" y="2394.56" width="20.29" height="20.09" fill="#f6c8e8" />
<rect x="1486.19" y="2394.56" width="20.29" height="20.09" fill="#f2667e" />
<rect x="1506.27" y="2394.56" width="20.29" height="20.09" fill="#dd2014" />
<rect x="1526.36" y="2394.56" width="20.29" height="20.09" fill="#8a8af8" />
<rect x="1546.44" y="2394.56" width="20.29" height="20.09" fill="#8a8af8" />
<rect x="1566.53" y="2394.56" width="20.29" height="20.09" fill="#4610dc" />
<rect x="1586.61" y="2394.56" width="20.29" height="20.09" fill="#3600ff" />
<rect x="1466.1" y="2414.44" width="20.29" height="20.09" fill="#8a8af8" />
<rect x="1486.19" y="2414.44" width="20.29" height="20.09" fill="#4610dc" />
<rect x="1506.27" y="2414.44" width="20.29" height="20.09" fill="#3600ff" />
<rect x="1526.36" y="2414.44" width="20.29" height="20.09" fill="#4610dc" />
<rect x="1546.44" y="2414.44" width="20.29" height="20.09" fill="#dd2014" />
<rect x="1566.53" y="2414.44" width="20.29" height="20.09" fill="#dd2014" />
<rect x="1586.61" y="2414.44" width="20.29" height="20.09" fill="#dd2014" />
<rect x="1466.1" y="2434.33" width="20.29" height="20.09" fill="#4610dc" />
<rect x="1486.19" y="2434.33" width="20.29" height="20.09" fill="#8a8af8" />
<rect x="1506.27" y="2434.33" width="20.29" height="20.09" fill="#3600ff" />
<rect x="1526.36" y="2434.33" width="20.29" height="20.09" fill="#3600ff" />
<rect x="1546.44" y="2434.33" width="20.29" height="20.09" fill="#ee4852" />
<rect x="1566.53" y="2434.33" width="20.29" height="20.09" fill="#dd2014" />
<rect x="1586.61" y="2434.33" width="20.29" height="20.09" fill="#ee4852" />
<rect x="1466.1" y="2454.22" width="20.29" height="20.09" fill="#3600ff" />
<rect x="1486.19" y="2454.22" width="20.29" height="20.09" fill="#3600ff" />
<rect x="1506.27" y="2454.22" width="20.29" height="20.09" fill="#4610dc" />
<rect x="1526.36" y="2454.22" width="20.29" height="20.09" fill="#7258f4" />
<rect x="1546.44" y="2454.22" width="20.29" height="20.09" fill="#f6c8e8" />
<rect x="1566.53" y="2454.22" width="20.29" height="20.09" fill="#dd2014" />
<rect x="1586.61" y="2454.22" width="20.29" height="20.09" fill="#dd2014" />
<rect x="1466.1" y="2474.11" width="20.29" height="20.09" fill="#3600ff" />
<rect x="1486.19" y="2474.11" width="20.29" height="20.09" fill="#7258f4" />
<rect x="1506.27" y="2474.11" width="20.29" height="20.09" fill="#4610dc" />
<rect x="1526.36" y="2474.11" width="20.29" height="20.09" fill="#4610dc" />
<rect x="1546.44" y="2474.11" width="20.29" height="20.09" fill="#ee4852" />
<rect x="1566.53" y="2474.11" width="20.29" height="20.09" fill="#dd2014" />
<rect x="1586.61" y="2474.11" width="20.29" height="20.09" fill="#ee4852" />
<line x1="1466.1" y1="1956.2" x2="1466.1" y2="2494.8" stroke="#111" stroke-width="1.7" />
<line x1="1486.19" y1="1956.2" x2="1486.19" y2="2494.8" stroke="#111" stroke-width="1.7" />
<line x1="1506.27" y1="1956.2" x2="1506.27" y2="2494.8" stroke="#111" stroke-width="1.7" />
<line x1="1526.36" y1="1956.2" x2="1526.36" y2="2494.8" stroke="#111" stroke-width="1.7" />
<line x1="1546.44" y1="1956.2" x2="1546.44" y2="2494.8" stroke="#111" stroke-width="1.7" />
<line x1="1566.53" y1="1956.2" x2="1566.53" y2="2494.8" stroke="#111" stroke-width="1.7" />
<line x1="1586.61" y1="1956.2" x2="1586.61" y2="2494.8" stroke="#111" stroke-width="1.7" />
<line x1="1606.7" y1="1956.2" x2="1606.7" y2="2494.8" stroke="#111" stroke-width="1.7" />
<line x1="1465.3" y1="1957" x2="1607.5" y2="1957" stroke="#111" stroke-width="1.7" />
<line x1="1465.3" y1="1976.89" x2="1607.5" y2="1976.89" stroke="#111" stroke-width="1.7" />
<line x1="1465.3" y1="1996.78" x2="1607.5" y2="1996.78" stroke="#111" stroke-width="1.7" />
<line x1="1465.3" y1="2016.67" x2="1607.5" y2="2016.67" stroke="#111" stroke-width="1.7" />
<line x1="1465.3" y1="2036.56" x2="1607.5" y2="2036.56" stroke="#111" stroke-width="1.7" />
<line x1="1465.3" y1="2056.44" x2="1607.5" y2="2056.44" stroke="#111" stroke-width="1.7" />
<line x1="1465.3" y1="2076.33" x2="1607.5" y2="2076.33" stroke="#111" stroke-width="1.7" />
<line x1="1465.3" y1="2096.22" x2="1607.5" y2="2096.22" stroke="#111" stroke-width="1.7" />
<line x1="1465.3" y1="2116.11" x2="1607.5" y2="2116.11" stroke="#111" stroke-width="1.7" />
<line x1="1465.3" y1="2136" x2="1607.5" y2="2136" stroke="#111" stroke-width="1.7" />
<line x1="1465.3" y1="2155.89" x2="1607.5" y2="2155.89" stroke="#111" stroke-width="1.7" />
<line x1="1465.3" y1="2175.78" x2="1607.5" y2="2175.78" stroke="#111" stroke-width="1.7" />
<line x1="1465.3" y1="2195.67" x2="1607.5" y2="2195.67" stroke="#111" stroke-width="1.7" />
<line x1="1465.3" y1="2215.56" x2="1607.5" y2="2215.56" stroke="#111" stroke-width="1.7" />
<line x1="1465.3" y1="2235.44" x2="1607.5" y2="2235.44" stroke="#111" stroke-width="1.7" />
<line x1="1465.3" y1="2255.33" x2="1607.5" y2="2255.33" stroke="#111" stroke-width="1.7" />
<line x1="1465.3" y1="2275.22" x2="1607.5" y2="2275.22" stroke="#111" stroke-width="1.7" />
<line x1="1465.3" y1="2295.11" x2="1607.5" y2="2295.11" stroke="#111" stroke-width="1.7" />
<line x1="1465.3" y1="2315" x2="1607.5" y2="2315" stroke="#111" stroke-width="1.7" />
<line x1="1465.3" y1="2334.89" x2="1607.5" y2="2334.89" stroke="#111" stroke-width="1.7" />
<line x1="1465.3" y1="2354.78" x2="1607.5" y2="2354.78" stroke="#111" stroke-width="1.7" />
<line x1="1465.3" y1="2374.67" x2="1607.5" y2="2374.67" stroke="#111" stroke-width="1.7" />
<line x1="1465.3" y1="2394.56" x2="1607.5" y2="2394.56" stroke="#111" stroke-width="1.7" />
<line x1="1465.3" y1="2414.44" x2="1607.5" y2="2414.44" stroke="#111" stroke-width="1.7" />
<line x1="1465.3" y1="2434.33" x2="1607.5" y2="2434.33" stroke="#111" stroke-width="1.7" />
<line x1="1465.3" y1="2454.22" x2="1607.5" y2="2454.22" stroke="#111" stroke-width="1.7" />
<line x1="1465.3" y1="2474.11" x2="1607.5" y2="2474.11" stroke="#111" stroke-width="1.7" />
<line x1="1465.3" y1="2494" x2="1607.5" y2="2494" stroke="#111" stroke-width="1.7" />
<text x="0" y="0" font-size="22.3" font-style="italic" transform="translate(1612.03 1974.49) scale(1.15 1)">Lck</text>
<text x="0" y="0" font-size="22.3" font-style="italic" transform="translate(1612.03 1994.38) scale(1.15 1)">Lcp2</text>
<text x="0" y="0" font-size="22.3" font-style="italic" transform="translate(1612.03 2014.27) scale(1.15 1)">Skap1</text>
<text x="0" y="0" font-size="22.3" font-style="italic" transform="translate(1611.39 2034.16) scale(1.15 1)">Ccr7</text>
<text x="0" y="0" font-size="22.3" font-style="italic" transform="translate(1612.03 2054.04) scale(1.15 1)">Ptpn22</text>
<text x="0" y="0" font-size="22.3" font-style="italic" transform="translate(1610.49 2073.93) scale(1.15 1)">Trac</text>
<text x="0" y="0" font-size="22.3" font-style="italic" transform="translate(1611.39 2093.82) scale(1.15 1)">Cd160</text>
<text x="0" y="0" font-size="22.3" font-style="italic" transform="translate(1612.03 2113.71) scale(1.15 1)">Lat</text>
<text x="0" y="0" font-size="22.3" font-style="italic" transform="translate(1611.39 2133.6) scale(1.15 1)">Cd247</text>
<text x="0" y="0" font-size="22.3" font-style="italic" transform="translate(1612.03 2153.49) scale(1.15 1)">Psmd5</text>
<text x="0" y="0" font-size="22.3" font-style="italic" transform="translate(1612.03 2173.38) scale(1.15 1)">Psmd2</text>
<text x="0" y="0" font-size="22.3" font-style="italic" transform="translate(1613.31 2193.27) scale(1.15 1)">Zap70</text>
<text x="0" y="0" font-size="22.3" font-style="italic" transform="translate(1612.03 2213.16) scale(1.15 1)">Ripk2</text>
<text x="0" y="0" font-size="22.3" font-style="italic" transform="translate(1610.88 2233.04) scale(1.15 1)">Ube2n</text>
<text x="0" y="0" font-size="22.3" font-style="italic" transform="translate(1611.77 2252.93) scale(1.15 1)">Itk</text>
<text x="0" y="0" font-size="22.3" font-style="italic" transform="translate(1611.39 2272.82) scale(1.15 1)">Cd28</text>
<text x="0" y="0" font-size="22.3" font-style="italic" transform="translate(1612.03 2292.71) scale(1.15 1)">Eif2b1</text>
<text x="0" y="0" font-size="22.3" font-style="italic" transform="translate(1612.03 2312.6) scale(1.15 1)">Euf2b3</text>
<text x="0" y="0" font-size="22.3" font-style="italic" transform="translate(1610.49 2332.49) scale(1.15 1)">Thy1</text>
<text x="0" y="0" font-size="22.3" font-style="italic" transform="translate(1612.03 2352.38) scale(1.15 1)">Eif2b2</text>
<text x="0" y="0" font-size="22.3" font-style="italic" transform="translate(1612.03 2372.27) scale(1.15 1)">Psma1</text>
<text x="0" y="0" font-size="22.3" font-style="italic" transform="translate(1612.03 2392.16) scale(1.15 1)">Dusp3</text>
<text x="0" y="0" font-size="22.3" font-style="italic" transform="translate(1612.03 2412.04) scale(1.15 1)">Psmc6</text>
<text x="0" y="0" font-size="22.3" font-style="italic" transform="translate(1611.39 2431.93) scale(1.15 1)">Csk</text>
<text x="0" y="0" font-size="22.3" font-style="italic" transform="translate(1612.03 2451.82) scale(1.15 1)">Nfkbiz</text>
<text x="0" y="0" font-size="22.3" font-style="italic" transform="translate(1614.08 2471.71) scale(1.15 1)">Alb1</text>
<text x="0" y="0" font-size="22.3" font-style="italic" transform="translate(1610.62 2491.6) scale(1.15 1)">Wnk1</text>
<text x="1483.44" y="1954.9" font-size="25" transform="rotate(-90 1483.44 1954.9)">HC-1</text>
<text x="1503.53" y="1954.9" font-size="25" transform="rotate(-90 1503.53 1954.9)">HC-2</text>
<text x="1523.61" y="1954.9" font-size="25" transform="rotate(-90 1523.61 1954.9)">HC-3</text>
<text x="1543.7" y="1954.9" font-size="25" transform="rotate(-90 1543.7 1954.9)">HC-4</text>
<text x="1563.79" y="1954.9" font-size="25" transform="rotate(-90 1563.79 1954.9)">NC-1</text>
<text x="1583.87" y="1954.9" font-size="25" transform="rotate(-90 1583.87 1954.9)">NC-2</text>
<text x="1603.96" y="1954.9" font-size="25" transform="rotate(-90 1603.96 1954.9)">NC-3</text>
</svg>
</body></html>
